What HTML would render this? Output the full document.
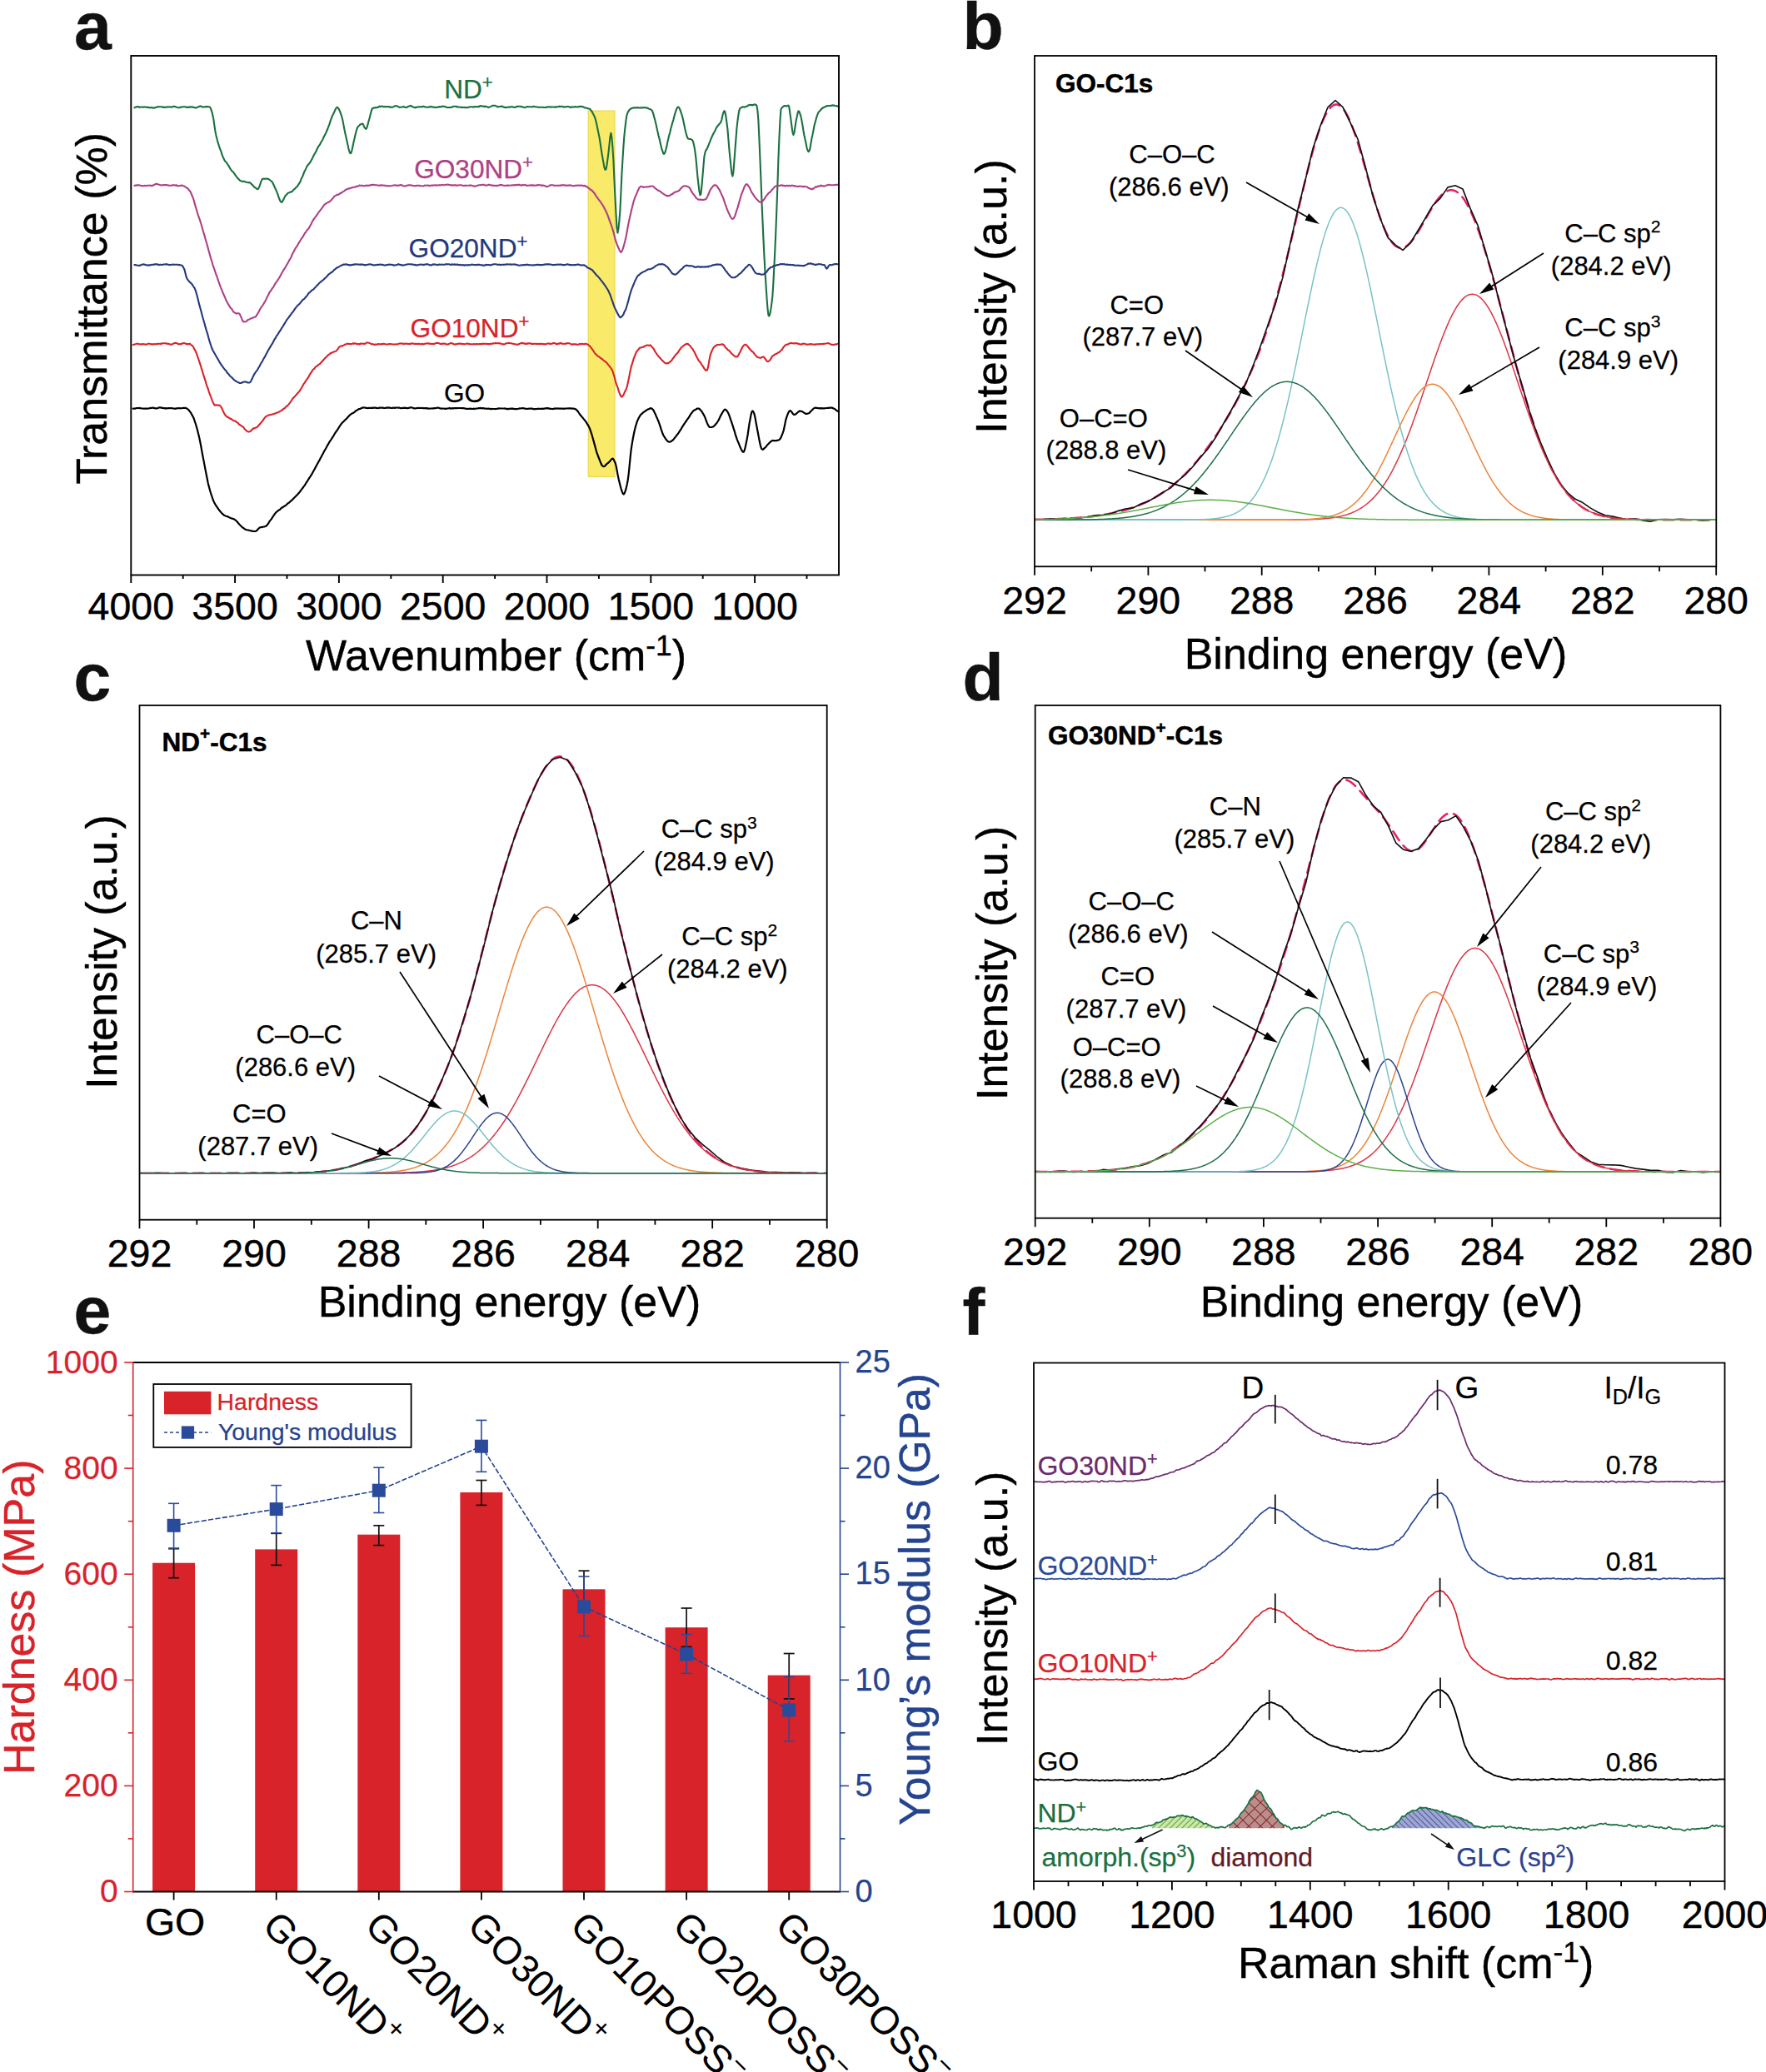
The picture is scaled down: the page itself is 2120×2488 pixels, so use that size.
<!DOCTYPE html>
<html lang="en"><head><meta charset="utf-8"><title>Figure</title>
<style>html,body{margin:0;padding:0;background:#fff}svg{display:block}text{font-family:'Liberation Sans', sans-serif}</style></head>
<body>
<svg width="2120" height="2488" viewBox="0 0 2120 2488">
<rect width="2120" height="2488" fill="#fff"/>
<g id="panel-a">
<rect x="706.3" y="133.2" width="31.6" height="439.1" fill="#f9ea6a" stroke="#f0dc58" stroke-width="1.5" />
<path d="M161.4,129.3 L162.4,128.7 L163.4,128.6 L164.4,128.1 L165.4,128 L166.4,128.2 L167.4,128.9 L168.4,128.7 L169.4,128.5 L170.4,128.5 L171.4,128.6 L172.4,128.6 L173.4,128.5 L174.4,128.4 L175.4,128.7 L176.4,128.9 L177.4,128.8 L178.4,128.9 L179.4,129.4 L180.4,129.2 L181.4,128.9 L182.4,129.3 L183.4,129.6 L184.4,129.4 L185.4,129.6 L186.4,129.3 L187.4,128.8 L188.4,128.5 L189.4,128.4 L190.4,128.1 L191.4,128.2 L192.4,128.2 L193.4,128.3 L194.4,128.4 L195.4,128.6 L196.4,128.9 L197.4,128.6 L198.4,128.9 L199.4,128.9 L200.4,128.5 L201.4,128.1 L202.4,128.5 L203.4,128.4 L204.4,128.2 L205.4,128.6 L206.4,128.6 L207.4,128.2 L208.4,127.6 L209.4,128 L210.4,128.1 L211.4,128.4 L212.4,128.9 L213.4,129.3 L214.4,129.2 L215.4,129.3 L216.4,128.8 L217.4,128.6 L218.4,128.6 L219.4,128.2 L220.4,128.2 L221.4,128.3 L222.4,128.3 L223.4,128.7 L224.4,128.9 L225.4,128.4 L226.4,129 L227.4,128.8 L228.4,128.1 L229.4,128.4 L230.4,128.7 L231.4,128.4 L232.4,128.8 L233.4,129.2 L234.4,129.4 L235.4,129.4 L236.4,129.1 L237.4,128.8 L238.4,128 L239.4,127.9 L240.4,127.3 L241.4,127.7 L242.4,128.3 L243.4,128.6 L244.4,128.2 L245.4,128.5 L246.4,128.5 L247.4,127.9 L248.4,128.1 L249.4,128.1 L250.4,128.2 L251.4,128.3 L252.4,129.1 L253.4,131.4 L254.4,134.6 L255.4,138.5 L256.4,143.6 L257.4,150.9 L258.4,157.4 L259.4,162.4 L260.4,166.6 L261.4,170.4 L262.4,173.6 L263.4,176.8 L264.4,179.3 L265.4,181.9 L266.4,185.1 L267.4,188.1 L268.4,190 L269.4,192.4 L270.4,193.8 L271.4,194.6 L272.4,196 L273.4,197.6 L274.4,198.7 L275.4,200.8 L276.4,202.6 L277.4,203.9 L278.4,205.3 L279.4,206 L280.4,207.2 L281.4,208.6 L282.4,210.2 L283.4,211.3 L284.4,213 L285.4,214.1 L286.4,215.1 L287.4,215.9 L288.4,216.9 L289.4,217.2 L290.4,217.7 L291.4,218.1 L292.4,217.7 L293.4,217.7 L294.4,218.4 L295.4,218.7 L296.4,218.7 L297.4,219.1 L298.4,219.4 L299.4,219 L300.4,219.6 L301.4,220.5 L302.4,221.6 L303.4,222.4 L304.4,223.7 L305.4,224.6 L306.4,225.4 L307.4,226 L308.4,226.9 L309.4,227.3 L310.4,226.1 L311.4,223.9 L312.4,221.2 L313.4,218.1 L314.4,215.8 L315.4,214.7 L316.4,214.6 L317.4,214.6 L318.4,214.7 L319.4,214.6 L320.4,214.5 L321.4,214.7 L322.4,215 L323.4,215.7 L324.4,216.5 L325.4,217.3 L326.4,218.1 L327.4,219.5 L328.4,221.7 L329.4,223.8 L330.4,226.3 L331.4,228.2 L332.4,230.6 L333.4,233.1 L334.4,236.4 L335.4,239 L336.4,241.3 L337.4,242.5 L338.4,242.9 L339.4,241.2 L340.4,239.6 L341.4,237.2 L342.4,235.5 L343.4,234.2 L344.4,233.4 L345.4,232 L346.4,231.5 L347.4,231.3 L348.4,230.6 L349.4,230.4 L350.4,230.2 L351.4,229.2 L352.4,227.8 L353.4,227.2 L354.4,226.3 L355.4,224.9 L356.4,224.3 L357.4,223 L358.4,221.4 L359.4,219.8 L360.4,218.3 L361.4,215.5 L362.4,213.3 L363.4,211.4 L364.4,208.6 L365.4,206 L366.4,204.2 L367.4,202.1 L368.4,199.8 L369.4,198.4 L370.4,197.3 L371.4,196.2 L372.4,194.9 L373.4,193 L374.4,191.2 L375.4,189.1 L376.4,187 L377.4,185.2 L378.4,183.5 L379.4,181.8 L380.4,179.5 L381.4,177.4 L382.4,175.7 L383.4,174.3 L384.4,172.8 L385.4,170.8 L386.4,169.2 L387.4,167.4 L388.4,165.2 L389.4,163 L390.4,161.2 L391.4,159.2 L392.4,157 L393.4,154.5 L394.4,151.8 L395.4,149.4 L396.4,146.1 L397.4,143.1 L398.4,140.5 L399.4,138.2 L400.4,136.3 L401.4,134.3 L402.4,131.9 L403.4,130 L404.4,128.9 L405.4,129 L406.4,130.4 L407.4,132.1 L408.4,134.6 L409.4,137.3 L410.4,140.4 L411.4,144.5 L412.4,149.9 L413.4,155.3 L414.4,160 L415.4,164.4 L416.4,169 L417.4,173.6 L418.4,178.2 L419.4,182 L420.4,184.1 L421.4,183.9 L422.4,180.8 L423.4,176 L424.4,171.1 L425.4,167 L426.4,162.6 L427.4,158.5 L428.4,155 L429.4,152.7 L430.4,151.5 L431.4,150.7 L432.4,149.5 L433.4,149.1 L434.4,148.8 L435.4,148.6 L436.4,150.3 L437.4,152.8 L438.4,154.1 L439.4,154.8 L440.4,153.3 L441.4,149.9 L442.4,146.1 L443.4,142.6 L444.4,138.7 L445.4,134.7 L446.4,131.4 L447.4,129.9 L448.4,129.9 L449.4,129.4 L450.4,129.4 L451.4,129 L452.4,129.2 L453.4,128.8 L454.4,128.6 L455.4,127.6 L456.4,128.2 L457.4,127.7 L458.4,127.5 L459.4,127.7 L460.4,128.3 L461.4,128 L462.4,128.2 L463.4,128.1 L464.4,128.3 L465.4,128.1 L466.4,128 L467.4,128.2 L468.4,128.9 L469.4,128.6 L470.4,128.8 L471.4,128.7 L472.4,128.1 L473.4,127.6 L474.4,127.4 L475.4,127.2 L476.4,127.3 L477.4,127.7 L478.4,128.3 L479.4,128.9 L480.4,128.7 L481.4,128.7 L482.4,128.5 L483.4,128.2 L484.4,127.9 L485.4,128.6 L486.4,128.7 L487.4,129.1 L488.4,128.9 L489.4,128.2 L490.4,127.7 L491.4,127.4 L492.4,127.1 L493.4,126.9 L494.4,128 L495.4,128.2 L496.4,128.7 L497.4,128.8 L498.4,129.4 L499.4,128.7 L500.4,128.9 L501.4,128.3 L502.4,128.5 L503.4,128.4 L504.4,128.3 L505.4,128 L506.4,128.4 L507.4,128.2 L508.4,127.5 L509.4,128.2 L510.4,128.4 L511.4,128.7 L512.4,128.8 L513.4,128.8 L514.4,128.4 L515.4,128.8 L516.4,128.1 L517.4,127.9 L518.4,128.3 L519.4,128.7 L520.4,128.6 L521.4,128.5 L522.4,129.2 L523.4,129 L524.4,128.7 L525.4,128.5 L526.4,128.8 L527.4,128.1 L528.4,128.1 L529.4,128.4 L530.4,128 L531.4,127.5 L532.4,127.9 L533.4,128 L534.4,127.9 L535.4,128.6 L536.4,129.1 L537.4,129 L538.4,129 L539.4,129.1 L540.4,129 L541.4,128.9 L542.4,128.6 L543.4,128.4 L544.4,127.7 L545.4,127.7 L546.4,127.8 L547.4,128.1 L548.4,127.9 L549.4,128.7 L550.4,128.5 L551.4,128.5 L552.4,128.7 L553.4,128.9 L554.4,128.7 L555.4,128.9 L556.4,129 L557.4,128.9 L558.4,129.1 L559.4,129.2 L560.4,129 L561.4,129.1 L562.4,128.8 L563.4,128.8 L564.4,128.2 L565.4,128.3 L566.4,128.3 L567.4,128.6 L568.4,128.4 L569.4,128.4 L570.4,128 L571.4,128.3 L572.4,128.1 L573.4,128.2 L574.4,127.9 L575.4,128.1 L576.4,127 L577.4,127.4 L578.4,127.4 L579.4,127.8 L580.4,127.5 L581.4,128.1 L582.4,127.9 L583.4,127.9 L584.4,128 L585.4,128.7 L586.4,129.1 L587.4,128.5 L588.4,128.3 L589.4,127.9 L590.4,127.4 L591.4,126.7 L592.4,126.7 L593.4,126.7 L594.4,126.9 L595.4,127.2 L596.4,127.6 L597.4,128.5 L598.4,128.2 L599.4,128 L600.4,128 L601.4,128 L602.4,127.4 L603.4,128 L604.4,128.6 L605.4,128.9 L606.4,128.9 L607.4,129.1 L608.4,129 L609.4,128.7 L610.4,128.6 L611.4,128.6 L612.4,128.7 L613.4,128.1 L614.4,128.3 L615.4,128.4 L616.4,128.6 L617.4,128.7 L618.4,128.9 L619.4,128.6 L620.4,127.8 L621.4,127.9 L622.4,127.8 L623.4,127.8 L624.4,127.7 L625.4,127.9 L626.4,128.5 L627.4,128.3 L628.4,128.7 L629.4,129 L630.4,129.2 L631.4,128.5 L632.4,128.2 L633.4,128 L634.4,128.3 L635.4,128.3 L636.4,128.3 L637.4,128.3 L638.4,128.5 L639.4,128.1 L640.4,127.8 L641.4,128.1 L642.4,128.3 L643.4,128.3 L644.4,128.5 L645.4,128.7 L646.4,128.8 L647.4,128.9 L648.4,128.8 L649.4,128.7 L650.4,128.7 L651.4,128.7 L652.4,128.9 L653.4,129 L654.4,129 L655.4,129.1 L656.4,128.5 L657.4,128.4 L658.4,128.3 L659.4,128.5 L660.4,128.2 L661.4,128.7 L662.4,128.5 L663.4,128.5 L664.4,128.5 L665.4,128.6 L666.4,128.6 L667.4,128.4 L668.4,128.4 L669.4,128.2 L670.4,128.2 L671.4,127.6 L672.4,128.2 L673.4,127.7 L674.4,127.8 L675.4,128 L676.4,128.6 L677.4,128.3 L678.4,128.6 L679.4,128.3 L680.4,128.1 L681.4,128 L682.4,128 L683.4,128.4 L684.4,128.6 L685.4,129.1 L686.4,128.4 L687.4,128.4 L688.4,128.5 L689.4,128.5 L690.4,128 L691.4,128.5 L692.4,128.5 L693.4,128.4 L694.4,128.1 L695.4,128.1 L696.4,127.9 L697.4,127.8 L698.4,128.1 L699.4,128 L700.4,128.4 L701.4,129.2 L702.4,129.3 L703.4,129.6 L704.4,129.8 L705.4,130.3 L706.4,130.4 L707.4,130.7 L708.4,131 L709.4,132.6 L710.4,133.5 L711.4,135.4 L712.4,137.4 L713.4,139.4 L714.4,141.8 L715.4,145.4 L716.4,149.6 L717.4,154.8 L718.4,159.6 L719.4,164.3 L720.4,170.4 L721.4,177.5 L722.4,183.7 L723.4,189.7 L724.4,195.1 L725.4,200.8 L726.4,203.6 L727.4,203.6 L728.4,198.9 L729.4,191.4 L730.4,183.8 L731.4,174.5 L732.4,164.5 L733.4,159.8 L734.4,165.3 L735.4,176.9 L736.4,192.3 L737.4,214.4 L738.4,235.3 L739.4,254.6 L740.4,273.1 L741.4,279.7 L742.4,274.6 L743.4,265.1 L744.4,252.7 L745.4,231.7 L746.4,209.4 L747.4,192.4 L748.4,176.5 L749.4,163.2 L750.4,153.5 L751.4,144.9 L752.4,138.7 L753.4,135.4 L754.4,133.6 L755.4,132.1 L756.4,131.2 L757.4,130.3 L758.4,130.2 L759.4,129.6 L760.4,129.6 L761.4,129.3 L762.4,129.4 L763.4,129.4 L764.4,129.4 L765.4,129.1 L766.4,129.4 L767.4,129.5 L768.4,129.4 L769.4,129.4 L770.4,129.4 L771.4,129.4 L772.4,129.3 L773.4,129 L774.4,129.1 L775.4,129.5 L776.4,129.6 L777.4,129.6 L778.4,130.4 L779.4,130.8 L780.4,131.1 L781.4,131.7 L782.4,132.3 L783.4,134.2 L784.4,137.2 L785.4,140.9 L786.4,144.4 L787.4,148.7 L788.4,153.3 L789.4,157.9 L790.4,162.5 L791.4,166.1 L792.4,170.4 L793.4,174.8 L794.4,178.8 L795.4,181.6 L796.4,184.6 L797.4,184.6 L798.4,182.9 L799.4,179.5 L800.4,175.6 L801.4,170.3 L802.4,166.3 L803.4,162.1 L804.4,158.5 L805.4,154 L806.4,150.5 L807.4,146.8 L808.4,143.8 L809.4,139.6 L810.4,136.1 L811.4,133.1 L812.4,130.4 L813.4,128.7 L814.4,128.5 L815.4,129.7 L816.4,131.7 L817.4,134.6 L818.4,137.5 L819.4,141.1 L820.4,145.4 L821.4,150.2 L822.4,155 L823.4,159.3 L824.4,162.9 L825.4,165.7 L826.4,166.7 L827.4,166.8 L828.4,167 L829.4,167.1 L830.4,167.7 L831.4,168.6 L832.4,171.2 L833.4,175.9 L834.4,181.8 L835.4,189.8 L836.4,200.6 L837.4,212.1 L838.4,220.7 L839.4,229.1 L840.4,234.3 L841.4,232.9 L842.4,223.4 L843.4,212 L844.4,200 L845.4,188.3 L846.4,183.4 L847.4,180.5 L848.4,179.2 L849.4,177 L850.4,174.8 L851.4,172 L852.4,169.9 L853.4,166.9 L854.4,164.8 L855.4,162.5 L856.4,160.6 L857.4,158.8 L858.4,156.9 L859.4,154.6 L860.4,152.8 L861.4,151.3 L862.4,150.4 L863.4,149 L864.4,148 L865.4,146.6 L866.4,143.5 L867.4,138.5 L868.4,135.3 L869.4,133.1 L870.4,134.2 L871.4,139.8 L872.4,147 L873.4,154.9 L874.4,167 L875.4,179.3 L876.4,189.4 L877.4,199 L878.4,208 L879.4,211.6 L880.4,206.7 L881.4,193.8 L882.4,180.6 L883.4,167.3 L884.4,154.5 L885.4,145.3 L886.4,138 L887.4,132.5 L888.4,129.9 L889.4,129.4 L890.4,129.1 L891.4,128.4 L892.4,128.4 L893.4,128.8 L894.4,128.3 L895.4,128 L896.4,127.7 L897.4,127.2 L898.4,126.2 L899.4,126.2 L900.4,125.8 L901.4,126.3 L902.4,126 L903.4,126.5 L904.4,125.8 L905.4,125.6 L906.4,125.4 L907.4,125.7 L908.4,126.9 L909.4,132.9 L910.4,144.5 L911.4,166.3 L912.4,189.8 L913.4,214.6 L914.4,240.4 L915.4,263.5 L916.4,286.1 L917.4,306.7 L918.4,325.1 L919.4,340.6 L920.4,356.5 L921.4,369.6 L922.4,378.3 L923.4,379.5 L924.4,376.7 L925.4,370.9 L926.4,363.9 L927.4,355.1 L928.4,339.1 L929.4,319.5 L930.4,299.1 L931.4,276 L932.4,250.2 L933.4,222.3 L934.4,191.2 L935.4,166.6 L936.4,145.8 L937.4,131.6 L938.4,129.6 L939.4,128.8 L940.4,127.8 L941.4,127.1 L942.4,127.1 L943.4,127.4 L944.4,127.4 L945.4,127.1 L946.4,126.5 L947.4,128.7 L948.4,136.3 L949.4,143.4 L950.4,151.3 L951.4,158.5 L952.4,162 L953.4,159.7 L954.4,153.3 L955.4,146.3 L956.4,141.4 L957.4,136.7 L958.4,133.3 L959.4,133.9 L960.4,136.6 L961.4,139.9 L962.4,144.6 L963.4,150.3 L964.4,156.6 L965.4,162.3 L966.4,167 L967.4,171.2 L968.4,176.7 L969.4,180.3 L970.4,182.1 L971.4,181.5 L972.4,178.4 L973.4,172.3 L974.4,166.3 L975.4,161.9 L976.4,156.9 L977.4,151.5 L978.4,147.6 L979.4,144 L980.4,140.3 L981.4,137.5 L982.4,135.2 L983.4,133.9 L984.4,132.9 L985.4,131.8 L986.4,130.5 L987.4,130 L988.4,129.1 L989.4,128.9 L990.4,128.3 L991.4,127.8 L992.4,127.3 L993.4,127.1 L994.4,127.3 L995.4,126.9 L996.4,127 L997.4,126.9 L998.4,126.7 L999.4,126.3 L1000.4,126.7 L1001.4,126.5 L1002.4,126.9 L1003.4,127.2 L1004.4,127.1 L1005.4,127.5 L1006.4,128" fill="none" stroke="#1b7040" stroke-width="2.1" stroke-linejoin="round" stroke-linecap="round" />
<path d="M161.4,222.9 L162.4,222.5 L163.4,222.7 L164.4,222.2 L165.4,222.4 L166.4,222.3 L167.4,222.4 L168.4,222.8 L169.4,223 L170.4,223.1 L171.4,223.3 L172.4,223.2 L173.4,222.9 L174.4,223 L175.4,223.1 L176.4,222.7 L177.4,222.7 L178.4,222.7 L179.4,222.8 L180.4,222.6 L181.4,222.9 L182.4,223.2 L183.4,222.7 L184.4,222.2 L185.4,221.8 L186.4,221.3 L187.4,220.8 L188.4,220.9 L189.4,221.2 L190.4,221.5 L191.4,221.9 L192.4,222.3 L193.4,222.4 L194.4,222.5 L195.4,222.3 L196.4,222.1 L197.4,222.2 L198.4,222.1 L199.4,222 L200.4,222.1 L201.4,222.5 L202.4,222.6 L203.4,222.7 L204.4,222.7 L205.4,222.7 L206.4,222.8 L207.4,222.1 L208.4,222.3 L209.4,222.5 L210.4,222.7 L211.4,222 L212.4,223.1 L213.4,223.2 L214.4,223.1 L215.4,223 L216.4,223 L217.4,222.6 L218.4,222.5 L219.4,222.9 L220.4,223.2 L221.4,223.7 L222.4,224.3 L223.4,225.1 L224.4,225.8 L225.4,226.3 L226.4,227.7 L227.4,228.7 L228.4,230.1 L229.4,232 L230.4,234.5 L231.4,236.9 L232.4,239.5 L233.4,243.1 L234.4,246.9 L235.4,250.2 L236.4,253.4 L237.4,257.1 L238.4,260 L239.4,262.6 L240.4,265.6 L241.4,268.8 L242.4,272.2 L243.4,275.9 L244.4,279.3 L245.4,282.6 L246.4,286.2 L247.4,289.7 L248.4,293 L249.4,296.8 L250.4,300.6 L251.4,304 L252.4,307.7 L253.4,311.1 L254.4,314.2 L255.4,317.8 L256.4,320.7 L257.4,323.5 L258.4,326.6 L259.4,329.5 L260.4,332 L261.4,335.2 L262.4,338.1 L263.4,340.8 L264.4,343.6 L265.4,346.1 L266.4,348.3 L267.4,351.2 L268.4,353.3 L269.4,355.8 L270.4,357.9 L271.4,360.5 L272.4,362.1 L273.4,364.4 L274.4,365.9 L275.4,367.5 L276.4,369.2 L277.4,370.2 L278.4,371.3 L279.4,373 L280.4,374.6 L281.4,375.2 L282.4,375.9 L283.4,376.4 L284.4,376.4 L285.4,376.2 L286.4,376.3 L287.4,376.7 L288.4,378.6 L289.4,380.7 L290.4,383.2 L291.4,385.5 L292.4,386.5 L293.4,386.3 L294.4,386.2 L295.4,386.2 L296.4,385.3 L297.4,384.2 L298.4,383.7 L299.4,383.5 L300.4,382.8 L301.4,382.2 L302.4,382.1 L303.4,381.7 L304.4,381.1 L305.4,380.7 L306.4,380.8 L307.4,379.7 L308.4,378.2 L309.4,376.4 L310.4,374.8 L311.4,372.7 L312.4,370.9 L313.4,369.2 L314.4,368 L315.4,366.5 L316.4,365 L317.4,363.1 L318.4,361.6 L319.4,359.7 L320.4,357.2 L321.4,355.4 L322.4,353.5 L323.4,351.3 L324.4,349.8 L325.4,348.8 L326.4,346.9 L327.4,345.6 L328.4,344.3 L329.4,342.2 L330.4,340.6 L331.4,339.1 L332.4,337.9 L333.4,336.2 L334.4,334.8 L335.4,333.2 L336.4,331.6 L337.4,329.5 L338.4,327.7 L339.4,326 L340.4,324.3 L341.4,322.8 L342.4,321.3 L343.4,319.5 L344.4,317.8 L345.4,316.1 L346.4,314.3 L347.4,312.3 L348.4,310.7 L349.4,308.9 L350.4,306.5 L351.4,304.2 L352.4,302.4 L353.4,300.5 L354.4,298.7 L355.4,297.2 L356.4,295.8 L357.4,294.1 L358.4,292.2 L359.4,290.7 L360.4,289 L361.4,287.4 L362.4,285.8 L363.4,284.7 L364.4,282.8 L365.4,281 L366.4,279.4 L367.4,278.4 L368.4,276.4 L369.4,275.4 L370.4,274.4 L371.4,272.9 L372.4,271 L373.4,269.2 L374.4,267.1 L375.4,265.1 L376.4,263.6 L377.4,262.1 L378.4,260.9 L379.4,259.7 L380.4,258.1 L381.4,256.6 L382.4,255 L383.4,253.9 L384.4,252.6 L385.4,251.4 L386.4,250 L387.4,248.6 L388.4,247.2 L389.4,245.9 L390.4,245 L391.4,244.4 L392.4,243.8 L393.4,243 L394.4,242.9 L395.4,242.2 L396.4,241.4 L397.4,240.5 L398.4,239.4 L399.4,238.2 L400.4,237.1 L401.4,235.6 L402.4,235.1 L403.4,234.7 L404.4,233.8 L405.4,233.7 L406.4,233.7 L407.4,232.9 L408.4,232.1 L409.4,232 L410.4,231.1 L411.4,230.4 L412.4,229.9 L413.4,229.4 L414.4,228.3 L415.4,227.7 L416.4,227.2 L417.4,227 L418.4,226.4 L419.4,226.4 L420.4,226.1 L421.4,225.7 L422.4,225.2 L423.4,225.1 L424.4,224.7 L425.4,224.7 L426.4,224.6 L427.4,224 L428.4,223.6 L429.4,223.7 L430.4,223.3 L431.4,222.5 L432.4,222.7 L433.4,223 L434.4,222.8 L435.4,222.7 L436.4,223.2 L437.4,223.3 L438.4,222.9 L439.4,222.6 L440.4,222.9 L441.4,222.8 L442.4,222.9 L443.4,222.6 L444.4,222.5 L445.4,222 L446.4,222.1 L447.4,221.8 L448.4,222 L449.4,221.9 L450.4,222.2 L451.4,222.3 L452.4,222.3 L453.4,222.6 L454.4,222.8 L455.4,222.6 L456.4,222.5 L457.4,222.9 L458.4,222.2 L459.4,222.4 L460.4,222.8 L461.4,222.7 L462.4,222.6 L463.4,223.3 L464.4,223.3 L465.4,223 L466.4,223.3 L467.4,223.4 L468.4,223.2 L469.4,223.2 L470.4,223 L471.4,222.7 L472.4,222.5 L473.4,222.5 L474.4,222.2 L475.4,222.6 L476.4,222.7 L477.4,222.9 L478.4,222.6 L479.4,222.6 L480.4,222.3 L481.4,222.1 L482.4,222.3 L483.4,223.1 L484.4,223.2 L485.4,223.5 L486.4,223.5 L487.4,223 L488.4,222.7 L489.4,222.6 L490.4,222.3 L491.4,222.4 L492.4,222.5 L493.4,222.4 L494.4,222.6 L495.4,223 L496.4,223 L497.4,223.2 L498.4,223.1 L499.4,223 L500.4,222.9 L501.4,222.8 L502.4,222.7 L503.4,222.8 L504.4,223.3 L505.4,223.2 L506.4,223.2 L507.4,223.2 L508.4,223.4 L509.4,222.8 L510.4,222.6 L511.4,222.7 L512.4,222.8 L513.4,222.6 L514.4,222.6 L515.4,223.1 L516.4,222.9 L517.4,222.7 L518.4,222.5 L519.4,222.6 L520.4,222.6 L521.4,222.5 L522.4,222.4 L523.4,222.3 L524.4,222.7 L525.4,222.5 L526.4,222.4 L527.4,222.4 L528.4,222.4 L529.4,222.2 L530.4,222 L531.4,222 L532.4,222.3 L533.4,222.3 L534.4,222 L535.4,221.8 L536.4,221.7 L537.4,221.6 L538.4,221.7 L539.4,222 L540.4,222.1 L541.4,222.5 L542.4,222.4 L543.4,222.6 L544.4,222.3 L545.4,222.4 L546.4,222.3 L547.4,222.8 L548.4,222.4 L549.4,222.7 L550.4,222.5 L551.4,222.3 L552.4,222.2 L553.4,222.3 L554.4,222.5 L555.4,222.9 L556.4,223 L557.4,222.8 L558.4,222.9 L559.4,222.7 L560.4,222.8 L561.4,222.8 L562.4,222.8 L563.4,222.7 L564.4,222.4 L565.4,222.6 L566.4,222.7 L567.4,223.1 L568.4,223.2 L569.4,223.9 L570.4,223.5 L571.4,223.4 L572.4,223 L573.4,222.7 L574.4,222.4 L575.4,222.3 L576.4,222.3 L577.4,222.1 L578.4,222 L579.4,221.7 L580.4,221.8 L581.4,222.2 L582.4,222.3 L583.4,222.7 L584.4,222.6 L585.4,222.2 L586.4,221.9 L587.4,221.9 L588.4,221.9 L589.4,222.5 L590.4,222.7 L591.4,222.4 L592.4,222.9 L593.4,223 L594.4,222.8 L595.4,222.9 L596.4,223.1 L597.4,222.9 L598.4,222.5 L599.4,222.4 L600.4,222.1 L601.4,222.1 L602.4,222.1 L603.4,222.4 L604.4,222.7 L605.4,223 L606.4,222.8 L607.4,222.8 L608.4,222.9 L609.4,222.6 L610.4,222.6 L611.4,222.7 L612.4,222.8 L613.4,222.5 L614.4,222.5 L615.4,222.4 L616.4,222.4 L617.4,222.1 L618.4,222.6 L619.4,222.1 L620.4,221.9 L621.4,221.9 L622.4,222.2 L623.4,221.7 L624.4,222.2 L625.4,222.6 L626.4,222.6 L627.4,221.9 L628.4,222.3 L629.4,222.2 L630.4,221.9 L631.4,222.3 L632.4,223 L633.4,222.7 L634.4,222.8 L635.4,222.6 L636.4,222.5 L637.4,222.4 L638.4,222.6 L639.4,222.4 L640.4,222.6 L641.4,222.6 L642.4,222.7 L643.4,222.6 L644.4,222.4 L645.4,222.4 L646.4,222.1 L647.4,222.2 L648.4,222.2 L649.4,222.6 L650.4,222.4 L651.4,223 L652.4,222.6 L653.4,222.9 L654.4,223.2 L655.4,224 L656.4,223.9 L657.4,224 L658.4,223.6 L659.4,223.1 L660.4,222.2 L661.4,222.2 L662.4,222.3 L663.4,222.2 L664.4,222.5 L665.4,222.9 L666.4,222.8 L667.4,222.8 L668.4,222.8 L669.4,222.7 L670.4,222.9 L671.4,222.7 L672.4,222.6 L673.4,222.6 L674.4,222.4 L675.4,222.3 L676.4,222.4 L677.4,222.3 L678.4,222.4 L679.4,223 L680.4,222.8 L681.4,222.6 L682.4,222.5 L683.4,222.6 L684.4,222.3 L685.4,222.7 L686.4,222.8 L687.4,223.2 L688.4,223.2 L689.4,223.2 L690.4,222.8 L691.4,223 L692.4,222.6 L693.4,222.8 L694.4,222.5 L695.4,222.8 L696.4,222.6 L697.4,222.8 L698.4,222.5 L699.4,223 L700.4,223.1 L701.4,222.9 L702.4,223.1 L703.4,223.9 L704.4,224 L705.4,224.9 L706.4,225.8 L707.4,226.4 L708.4,227.2 L709.4,228.3 L710.4,228.3 L711.4,229.5 L712.4,230.8 L713.4,231.8 L714.4,233.3 L715.4,235.4 L716.4,236.5 L717.4,237.7 L718.4,239.3 L719.4,240.5 L720.4,241.8 L721.4,243 L722.4,244.8 L723.4,246.2 L724.4,247.8 L725.4,249.7 L726.4,251.7 L727.4,253.6 L728.4,255.8 L729.4,258.2 L730.4,260.8 L731.4,263.8 L732.4,266.7 L733.4,269.2 L734.4,272.3 L735.4,275.3 L736.4,278.4 L737.4,282.6 L738.4,286.6 L739.4,289.9 L740.4,292.6 L741.4,295.3 L742.4,297.5 L743.4,299.9 L744.4,301.9 L745.4,303 L746.4,301.9 L747.4,299.6 L748.4,296.6 L749.4,293 L750.4,289.3 L751.4,284.9 L752.4,279.7 L753.4,274.2 L754.4,268.9 L755.4,264 L756.4,259.4 L757.4,255.3 L758.4,250.7 L759.4,246.7 L760.4,242.8 L761.4,239.5 L762.4,236.6 L763.4,234.7 L764.4,232.3 L765.4,229.8 L766.4,227.6 L767.4,225.4 L768.4,224.4 L769.4,223.9 L770.4,224 L771.4,224.2 L772.4,224.9 L773.4,224.8 L774.4,224.5 L775.4,224.5 L776.4,224.6 L777.4,224.3 L778.4,224.3 L779.4,224.1 L780.4,223.9 L781.4,223.5 L782.4,223.5 L783.4,223.5 L784.4,223.9 L785.4,224.9 L786.4,226.1 L787.4,226.6 L788.4,227.5 L789.4,228.3 L790.4,228.7 L791.4,229.2 L792.4,229.7 L793.4,230.3 L794.4,231.5 L795.4,232.2 L796.4,232.6 L797.4,233.5 L798.4,234.3 L799.4,234.5 L800.4,235 L801.4,235.5 L802.4,235 L803.4,235.1 L804.4,234.5 L805.4,233.8 L806.4,233.1 L807.4,233.1 L808.4,231.8 L809.4,231.3 L810.4,230.6 L811.4,230.5 L812.4,230.1 L813.4,229.8 L814.4,229.3 L815.4,228.6 L816.4,227.5 L817.4,226.2 L818.4,225.4 L819.4,224.1 L820.4,223.7 L821.4,223.2 L822.4,223.2 L823.4,223.4 L824.4,223.7 L825.4,223.8 L826.4,224.5 L827.4,225.2 L828.4,226.5 L829.4,228.6 L830.4,230.4 L831.4,231.8 L832.4,233.1 L833.4,234.3 L834.4,235.7 L835.4,237.5 L836.4,238.3 L837.4,238.9 L838.4,239.7 L839.4,239.7 L840.4,239.4 L841.4,239.8 L842.4,240 L843.4,239.8 L844.4,240 L845.4,239.6 L846.4,239.5 L847.4,239.2 L848.4,237.8 L849.4,235.6 L850.4,233.5 L851.4,231 L852.4,228.6 L853.4,226.9 L854.4,225.5 L855.4,224.4 L856.4,223 L857.4,222.3 L858.4,222.4 L859.4,222.5 L860.4,223.1 L861.4,224.7 L862.4,226.2 L863.4,227.5 L864.4,229.5 L865.4,231.6 L866.4,233.9 L867.4,236 L868.4,238.4 L869.4,241.4 L870.4,244.8 L871.4,247.2 L872.4,250.1 L873.4,252.6 L874.4,255 L875.4,256.9 L876.4,259.4 L877.4,261 L878.4,262.5 L879.4,262.9 L880.4,262.5 L881.4,261.1 L882.4,258.9 L883.4,255.6 L884.4,252.5 L885.4,249.6 L886.4,246.1 L887.4,242.4 L888.4,239.1 L889.4,235.5 L890.4,232.2 L891.4,230.2 L892.4,227.6 L893.4,224.8 L894.4,222.9 L895.4,221.5 L896.4,221.1 L897.4,221.9 L898.4,223.3 L899.4,224.5 L900.4,226.5 L901.4,228.9 L902.4,231 L903.4,232.3 L904.4,233.9 L905.4,235.5 L906.4,236.8 L907.4,238 L908.4,239.4 L909.4,240.1 L910.4,241.2 L911.4,242.2 L912.4,242.7 L913.4,242.6 L914.4,242.3 L915.4,241.6 L916.4,240.2 L917.4,239.1 L918.4,237.7 L919.4,235.9 L920.4,234.6 L921.4,233.5 L922.4,232.2 L923.4,231.3 L924.4,230.8 L925.4,229.7 L926.4,228.3 L927.4,227.3 L928.4,226.1 L929.4,225 L930.4,223.9 L931.4,223.5 L932.4,222.9 L933.4,223.3 L934.4,222.9 L935.4,223 L936.4,222.7 L937.4,222.6 L938.4,222.2 L939.4,222.9 L940.4,222.9 L941.4,222.8 L942.4,223.4 L943.4,223.1 L944.4,222.9 L945.4,222.9 L946.4,223.2 L947.4,222.8 L948.4,223.2 L949.4,223.1 L950.4,222.6 L951.4,222.8 L952.4,223.1 L953.4,223 L954.4,223.2 L955.4,223.7 L956.4,223.8 L957.4,223.9 L958.4,224 L959.4,223.6 L960.4,223.6 L961.4,223.7 L962.4,223.7 L963.4,224.1 L964.4,224.3 L965.4,223.8 L966.4,224.1 L967.4,224.3 L968.4,224.3 L969.4,224.7 L970.4,225.9 L971.4,226 L972.4,226.5 L973.4,226.8 L974.4,227.4 L975.4,226.6 L976.4,226.7 L977.4,225.8 L978.4,225 L979.4,224.1 L980.4,224.7 L981.4,224 L982.4,223.4 L983.4,223.7 L984.4,223.4 L985.4,222.6 L986.4,222.9 L987.4,223.4 L988.4,223.2 L989.4,223.5 L990.4,223.5 L991.4,222.8 L992.4,222.5 L993.4,222.2 L994.4,221.9 L995.4,221.9 L996.4,222.2 L997.4,222.3 L998.4,222.3 L999.4,222.2 L1000.4,222.2 L1001.4,222.3 L1002.4,222 L1003.4,221.7 L1004.4,222 L1005.4,221.9 L1006.4,221.6" fill="none" stroke="#ae4084" stroke-width="2.1" stroke-linejoin="round" stroke-linecap="round" />
<path d="M161.4,318 L162.4,318.1 L163.4,318.3 L164.4,318.6 L165.4,318.7 L166.4,318.8 L167.4,319 L168.4,318.5 L169.4,318.3 L170.4,317.7 L171.4,317.6 L172.4,317.3 L173.4,317.7 L174.4,317.9 L175.4,318.1 L176.4,318.5 L177.4,318.6 L178.4,318.4 L179.4,318.2 L180.4,318.4 L181.4,318.1 L182.4,317.8 L183.4,317.7 L184.4,318 L185.4,317.4 L186.4,317.1 L187.4,317.6 L188.4,317.3 L189.4,317.4 L190.4,318.1 L191.4,318 L192.4,317.6 L193.4,318 L194.4,318 L195.4,317.7 L196.4,317.5 L197.4,317.5 L198.4,317.4 L199.4,317.3 L200.4,317.4 L201.4,317.6 L202.4,317.7 L203.4,318.1 L204.4,318.1 L205.4,317.7 L206.4,317.8 L207.4,317.8 L208.4,317.6 L209.4,317.7 L210.4,317.8 L211.4,317.7 L212.4,317.7 L213.4,317.8 L214.4,318.1 L215.4,318.1 L216.4,318.3 L217.4,318.5 L218.4,318.7 L219.4,319.7 L220.4,321.7 L221.4,323.6 L222.4,327.4 L223.4,331.7 L224.4,334.5 L225.4,335.9 L226.4,337.1 L227.4,338.2 L228.4,339.3 L229.4,340.1 L230.4,341.2 L231.4,342.7 L232.4,344.3 L233.4,345.5 L234.4,347.9 L235.4,350.7 L236.4,354.4 L237.4,358.2 L238.4,362.4 L239.4,366.4 L240.4,370 L241.4,373.5 L242.4,377.4 L243.4,381.3 L244.4,384.7 L245.4,388 L246.4,391.9 L247.4,395.4 L248.4,398.7 L249.4,401.7 L250.4,405.7 L251.4,409.2 L252.4,412.3 L253.4,415.5 L254.4,418.3 L255.4,420.5 L256.4,422.2 L257.4,424 L258.4,425.7 L259.4,427.5 L260.4,429.2 L261.4,430.9 L262.4,432.8 L263.4,434.4 L264.4,436.2 L265.4,437.6 L266.4,439.3 L267.4,440.4 L268.4,441.8 L269.4,443.1 L270.4,444.2 L271.4,445.3 L272.4,447 L273.4,448.3 L274.4,449.2 L275.4,450.6 L276.4,451.7 L277.4,452.5 L278.4,453.4 L279.4,454.4 L280.4,455.6 L281.4,456.5 L282.4,457.2 L283.4,457.7 L284.4,458.3 L285.4,458.9 L286.4,459.2 L287.4,459.9 L288.4,460 L289.4,460 L290.4,459.4 L291.4,459.2 L292.4,458.6 L293.4,458.5 L294.4,458.3 L295.4,458.7 L296.4,458.9 L297.4,459.5 L298.4,459.5 L299.4,459.5 L300.4,458.8 L301.4,457.4 L302.4,455.3 L303.4,453.1 L304.4,451 L305.4,449.1 L306.4,447.5 L307.4,446.1 L308.4,445 L309.4,443.5 L310.4,441.5 L311.4,440 L312.4,438.1 L313.4,436.1 L314.4,434.7 L315.4,432.9 L316.4,430.9 L317.4,429.2 L318.4,427.6 L319.4,425.5 L320.4,423.7 L321.4,421.8 L322.4,419.9 L323.4,418.3 L324.4,416.6 L325.4,414.9 L326.4,413.3 L327.4,411.8 L328.4,409.8 L329.4,407.7 L330.4,406.4 L331.4,404.5 L332.4,402.9 L333.4,401.7 L334.4,399.9 L335.4,398.3 L336.4,397 L337.4,395.2 L338.4,393.6 L339.4,392.3 L340.4,390.5 L341.4,388.8 L342.4,387.3 L343.4,385.5 L344.4,383.9 L345.4,382.7 L346.4,381.3 L347.4,380 L348.4,378.7 L349.4,377.4 L350.4,375.8 L351.4,374.8 L352.4,373.4 L353.4,371.9 L354.4,370.4 L355.4,369.1 L356.4,367.8 L357.4,366.6 L358.4,365.9 L359.4,365 L360.4,363.8 L361.4,362.5 L362.4,361.4 L363.4,360 L364.4,359.5 L365.4,358.7 L366.4,357.5 L367.4,356.2 L368.4,355.5 L369.4,353.7 L370.4,352.3 L371.4,351.3 L372.4,350.6 L373.4,349.5 L374.4,348.6 L375.4,347.9 L376.4,347.5 L377.4,346.1 L378.4,345.3 L379.4,344.1 L380.4,342.9 L381.4,341.9 L382.4,340.9 L383.4,339.8 L384.4,339 L385.4,338.4 L386.4,337 L387.4,336.6 L388.4,335.8 L389.4,334.9 L390.4,333.8 L391.4,333.2 L392.4,331.9 L393.4,330.8 L394.4,329.5 L395.4,328.8 L396.4,328.1 L397.4,327.2 L398.4,326.7 L399.4,326.2 L400.4,324.9 L401.4,323.7 L402.4,323.3 L403.4,322.3 L404.4,321.4 L405.4,321.2 L406.4,320.7 L407.4,320 L408.4,319.2 L409.4,319 L410.4,318.5 L411.4,317.9 L412.4,317.6 L413.4,317.6 L414.4,317.5 L415.4,317.1 L416.4,317.8 L417.4,317.9 L418.4,318.1 L419.4,318 L420.4,318.7 L421.4,318.3 L422.4,317.9 L423.4,317.9 L424.4,318 L425.4,317.4 L426.4,317.3 L427.4,317.5 L428.4,317.4 L429.4,317.5 L430.4,317.5 L431.4,317.6 L432.4,318 L433.4,317.4 L434.4,317.5 L435.4,317.9 L436.4,317.9 L437.4,318 L438.4,318.5 L439.4,318.1 L440.4,318 L441.4,317.8 L442.4,317.6 L443.4,317.2 L444.4,317.3 L445.4,317.7 L446.4,317.8 L447.4,317.9 L448.4,318.5 L449.4,318.5 L450.4,318.1 L451.4,318.2 L452.4,317.9 L453.4,317.8 L454.4,318 L455.4,317.7 L456.4,317.4 L457.4,317.7 L458.4,318 L459.4,317.8 L460.4,318.3 L461.4,318.6 L462.4,318.5 L463.4,318.1 L464.4,318.3 L465.4,317.9 L466.4,317.7 L467.4,317.5 L468.4,317.9 L469.4,317.7 L470.4,317.8 L471.4,318 L472.4,318.6 L473.4,318.6 L474.4,318.3 L475.4,318.3 L476.4,318.2 L477.4,317.5 L478.4,317.1 L479.4,317.8 L480.4,317.9 L481.4,318.1 L482.4,318.3 L483.4,318.7 L484.4,318.4 L485.4,318.3 L486.4,318.1 L487.4,317.8 L488.4,317.5 L489.4,317.4 L490.4,317.2 L491.4,317.3 L492.4,317.3 L493.4,317.6 L494.4,317.3 L495.4,317.6 L496.4,317.8 L497.4,318.1 L498.4,317.9 L499.4,318.4 L500.4,318.4 L501.4,318.2 L502.4,318 L503.4,317.8 L504.4,317.6 L505.4,317.7 L506.4,317.8 L507.4,317.6 L508.4,318.1 L509.4,317.9 L510.4,317.5 L511.4,317.2 L512.4,317.4 L513.4,317.2 L514.4,317.6 L515.4,318 L516.4,318.5 L517.4,318.4 L518.4,318.3 L519.4,317.6 L520.4,317.4 L521.4,317.4 L522.4,317.7 L523.4,317.6 L524.4,318 L525.4,318.2 L526.4,317.7 L527.4,317.5 L528.4,317.7 L529.4,317.7 L530.4,317.6 L531.4,317.7 L532.4,317.7 L533.4,317.7 L534.4,317.7 L535.4,317 L536.4,317.2 L537.4,317.4 L538.4,317.3 L539.4,317.2 L540.4,318 L541.4,317.7 L542.4,317.4 L543.4,317.6 L544.4,317.8 L545.4,317.4 L546.4,317.6 L547.4,317.9 L548.4,317.6 L549.4,317.5 L550.4,318.1 L551.4,318 L552.4,317.9 L553.4,318.5 L554.4,318.3 L555.4,318 L556.4,318.3 L557.4,318.7 L558.4,318.2 L559.4,318.2 L560.4,318.4 L561.4,318.4 L562.4,318.1 L563.4,318.2 L564.4,318.4 L565.4,317.9 L566.4,317.6 L567.4,317.7 L568.4,318 L569.4,318 L570.4,318.1 L571.4,318.3 L572.4,318 L573.4,317.7 L574.4,317.9 L575.4,317.8 L576.4,318 L577.4,318.3 L578.4,318.6 L579.4,318.3 L580.4,318.9 L581.4,318.6 L582.4,318.4 L583.4,317.9 L584.4,318.1 L585.4,318 L586.4,318 L587.4,318.1 L588.4,318.4 L589.4,318.4 L590.4,318 L591.4,317.5 L592.4,317.4 L593.4,317.2 L594.4,317.2 L595.4,317.3 L596.4,317.6 L597.4,317.7 L598.4,317.9 L599.4,317.6 L600.4,318 L601.4,318.1 L602.4,317.8 L603.4,317.7 L604.4,317.9 L605.4,317.7 L606.4,317.6 L607.4,317.7 L608.4,317.3 L609.4,317.4 L610.4,317.5 L611.4,317.5 L612.4,317.3 L613.4,317.7 L614.4,317.6 L615.4,317.5 L616.4,317.5 L617.4,317.4 L618.4,317.6 L619.4,317.7 L620.4,317.9 L621.4,318.2 L622.4,318.7 L623.4,318.8 L624.4,318.5 L625.4,318.5 L626.4,318.2 L627.4,318.4 L628.4,318 L629.4,318.2 L630.4,317.9 L631.4,318.1 L632.4,317.6 L633.4,317.9 L634.4,318.1 L635.4,318.3 L636.4,318.2 L637.4,318.2 L638.4,318.4 L639.4,318.5 L640.4,318.2 L641.4,318.4 L642.4,318.3 L643.4,318 L644.4,317.9 L645.4,318.1 L646.4,317.8 L647.4,318.1 L648.4,318.1 L649.4,318 L650.4,318.2 L651.4,318 L652.4,317.9 L653.4,317.6 L654.4,317.6 L655.4,317.3 L656.4,317.4 L657.4,317.3 L658.4,317.4 L659.4,317.3 L660.4,317.5 L661.4,317.7 L662.4,317.7 L663.4,318.1 L664.4,318.1 L665.4,318 L666.4,317.9 L667.4,318 L668.4,317.6 L669.4,317.7 L670.4,317.6 L671.4,317.8 L672.4,317.6 L673.4,317.5 L674.4,317.7 L675.4,318.2 L676.4,318.1 L677.4,318.1 L678.4,318.1 L679.4,317.8 L680.4,317.4 L681.4,317.3 L682.4,317.7 L683.4,317.9 L684.4,318.1 L685.4,318.1 L686.4,318.2 L687.4,318.1 L688.4,318.2 L689.4,318 L690.4,318.1 L691.4,318 L692.4,317.7 L693.4,317.6 L694.4,317.6 L695.4,317.9 L696.4,318.2 L697.4,318.5 L698.4,318.4 L699.4,318.5 L700.4,318.4 L701.4,318.4 L702.4,319.1 L703.4,319.5 L704.4,320.6 L705.4,321.3 L706.4,322 L707.4,322.2 L708.4,322.8 L709.4,323.3 L710.4,324 L711.4,324.5 L712.4,326 L713.4,327.2 L714.4,328.3 L715.4,329.5 L716.4,330.8 L717.4,331.4 L718.4,332.6 L719.4,333.8 L720.4,335 L721.4,336.4 L722.4,337.7 L723.4,338.8 L724.4,340.2 L725.4,341.7 L726.4,342.9 L727.4,344.5 L728.4,346.1 L729.4,347.5 L730.4,349.4 L731.4,351.6 L732.4,353.8 L733.4,356.5 L734.4,359.7 L735.4,362.4 L736.4,365.3 L737.4,368.2 L738.4,370.4 L739.4,372.4 L740.4,374.5 L741.4,376.5 L742.4,378.4 L743.4,379.8 L744.4,381.2 L745.4,380.9 L746.4,380.2 L747.4,378.9 L748.4,377.6 L749.4,374.9 L750.4,373.1 L751.4,371 L752.4,367.8 L753.4,364.3 L754.4,360.8 L755.4,356.7 L756.4,353 L757.4,349.9 L758.4,346.8 L759.4,344.5 L760.4,342 L761.4,339.7 L762.4,337 L763.4,335.2 L764.4,333.1 L765.4,331.7 L766.4,330.3 L767.4,330.1 L768.4,328.9 L769.4,328.2 L770.4,327.5 L771.4,327 L772.4,326.2 L773.4,326 L774.4,325.6 L775.4,324.9 L776.4,324.3 L777.4,323.8 L778.4,323.3 L779.4,323.2 L780.4,323.2 L781.4,323 L782.4,322.4 L783.4,322 L784.4,321.4 L785.4,320.7 L786.4,319.9 L787.4,319.2 L788.4,318.5 L789.4,318.1 L790.4,317.6 L791.4,317.3 L792.4,317.5 L793.4,317.5 L794.4,317 L795.4,317.2 L796.4,317.6 L797.4,317.7 L798.4,318.5 L799.4,319.4 L800.4,320.2 L801.4,320.9 L802.4,322.2 L803.4,323.5 L804.4,324.6 L805.4,326.4 L806.4,327.5 L807.4,328.8 L808.4,329 L809.4,329.5 L810.4,329.6 L811.4,329.5 L812.4,328.8 L813.4,327.9 L814.4,327 L815.4,325.7 L816.4,324.7 L817.4,323.7 L818.4,323.1 L819.4,322.2 L820.4,321 L821.4,320 L822.4,319.4 L823.4,318.9 L824.4,318.6 L825.4,318.9 L826.4,319.3 L827.4,319.1 L828.4,319.4 L829.4,319.3 L830.4,319.2 L831.4,319.5 L832.4,320.2 L833.4,320.4 L834.4,320.6 L835.4,321 L836.4,320.4 L837.4,320.4 L838.4,320.1 L839.4,320.6 L840.4,320.4 L841.4,320.7 L842.4,320.2 L843.4,320.7 L844.4,320.5 L845.4,320.3 L846.4,320.6 L847.4,320.6 L848.4,320.1 L849.4,320.1 L850.4,320.4 L851.4,319.6 L852.4,319.5 L853.4,319.4 L854.4,319 L855.4,318.4 L856.4,318.3 L857.4,318.1 L858.4,317.9 L859.4,317.8 L860.4,317.4 L861.4,317.6 L862.4,317.5 L863.4,317.7 L864.4,317.5 L865.4,318 L866.4,318.7 L867.4,319.9 L868.4,320.9 L869.4,322.5 L870.4,324.1 L871.4,325.5 L872.4,326.4 L873.4,327.8 L874.4,329.1 L875.4,330.3 L876.4,331.4 L877.4,332.3 L878.4,333.1 L879.4,333.2 L880.4,333.2 L881.4,333.2 L882.4,333.1 L883.4,332.2 L884.4,331.8 L885.4,331.1 L886.4,330.1 L887.4,329.1 L888.4,328.5 L889.4,327.8 L890.4,326.7 L891.4,325.5 L892.4,324.4 L893.4,323.5 L894.4,322.1 L895.4,321 L896.4,320.6 L897.4,319.4 L898.4,318.2 L899.4,317.8 L900.4,318.2 L901.4,319 L902.4,320.5 L903.4,321.8 L904.4,323.7 L905.4,325.5 L906.4,327 L907.4,328.1 L908.4,328.5 L909.4,328.7 L910.4,328.9 L911.4,328.8 L912.4,329 L913.4,329.7 L914.4,329.7 L915.4,329.5 L916.4,329.4 L917.4,329.2 L918.4,327.9 L919.4,327.3 L920.4,326.5 L921.4,324.8 L922.4,323.3 L923.4,322.7 L924.4,321.6 L925.4,320.7 L926.4,320.8 L927.4,320.6 L928.4,319.4 L929.4,319 L930.4,319 L931.4,318.8 L932.4,318.2 L933.4,318.1 L934.4,318 L935.4,317.8 L936.4,317.3 L937.4,317.1 L938.4,317.3 L939.4,316.9 L940.4,317.2 L941.4,317.1 L942.4,317.5 L943.4,317.6 L944.4,317.9 L945.4,317.5 L946.4,318 L947.4,318 L948.4,317.8 L949.4,318 L950.4,318.3 L951.4,318 L952.4,318.4 L953.4,318.4 L954.4,318.6 L955.4,318.7 L956.4,318.8 L957.4,318.6 L958.4,318.8 L959.4,318.9 L960.4,318.7 L961.4,319 L962.4,319 L963.4,319.3 L964.4,318.9 L965.4,319.2 L966.4,318.6 L967.4,318.1 L968.4,317.6 L969.4,317.2 L970.4,316.4 L971.4,316.7 L972.4,316.4 L973.4,316.3 L974.4,316.7 L975.4,317.3 L976.4,317.1 L977.4,317.6 L978.4,317.9 L979.4,317.9 L980.4,317.6 L981.4,317.5 L982.4,317.1 L983.4,317.3 L984.4,317.3 L985.4,317.3 L986.4,317.6 L987.4,318.1 L988.4,318 L989.4,318 L990.4,319.1 L991.4,321.5 L992.4,322.7 L993.4,321.7 L994.4,319.9 L995.4,318.6 L996.4,318 L997.4,318.1 L998.4,318.3 L999.4,318 L1000.4,317.5 L1001.4,317.3 L1002.4,317.1 L1003.4,317 L1004.4,317.1 L1005.4,317.2 L1006.4,317.3" fill="none" stroke="#25387c" stroke-width="2.1" stroke-linejoin="round" stroke-linecap="round" />
<path d="M159.7,414 L160.7,413.9 L161.7,413.5 L162.7,413.2 L163.7,412.8 L164.7,412.8 L165.7,412.7 L166.7,413.3 L167.7,413.2 L168.7,413.5 L169.7,413.2 L170.7,413.4 L171.7,413.1 L172.7,413.3 L173.7,413.4 L174.7,413.8 L175.7,413.6 L176.7,413.2 L177.7,412.8 L178.7,412.8 L179.7,412.8 L180.7,413.1 L181.7,413.4 L182.7,413.4 L183.7,413.4 L184.7,413.4 L185.7,413.1 L186.7,413.2 L187.7,413.1 L188.7,412.9 L189.7,413 L190.7,412.8 L191.7,412.7 L192.7,412.9 L193.7,412.9 L194.7,412.2 L195.7,412.3 L196.7,412.3 L197.7,412.3 L198.7,412.2 L199.7,412.6 L200.7,412.5 L201.7,412.9 L202.7,412.9 L203.7,413.3 L204.7,413.6 L205.7,413.8 L206.7,413.2 L207.7,412.9 L208.7,412.3 L209.7,411.9 L210.7,411.9 L211.7,412 L212.7,412.3 L213.7,413.2 L214.7,413.3 L215.7,413 L216.7,413.3 L217.7,413.2 L218.7,412.2 L219.7,412.1 L220.7,412.2 L221.7,412.1 L222.7,412.6 L223.7,413.1 L224.7,412.9 L225.7,413.4 L226.7,413 L227.7,412.7 L228.7,413.4 L229.7,414.5 L230.7,414.8 L231.7,416.1 L232.7,417.9 L233.7,419.7 L234.7,421.5 L235.7,423.9 L236.7,426.6 L237.7,429.5 L238.7,432.5 L239.7,435.4 L240.7,438.4 L241.7,441.8 L242.7,444.8 L243.7,448.2 L244.7,451.7 L245.7,454.7 L246.7,457.6 L247.7,461.1 L248.7,464.1 L249.7,466.8 L250.7,470 L251.7,472.9 L252.7,475.3 L253.7,478 L254.7,480.8 L255.7,483.2 L256.7,485.2 L257.7,486.7 L258.7,486.4 L259.7,486.4 L260.7,486.4 L261.7,486.8 L262.7,486.5 L263.7,486.8 L264.7,487.7 L265.7,489.2 L266.7,491.1 L267.7,493.6 L268.7,495.5 L269.7,497.3 L270.7,498.8 L271.7,499.9 L272.7,500.7 L273.7,500.9 L274.7,501.7 L275.7,502.1 L276.7,502.9 L277.7,503.1 L278.7,504.1 L279.7,504.6 L280.7,505.3 L281.7,505.2 L282.7,505.7 L283.7,506.6 L284.7,507.3 L285.7,507.9 L286.7,509.4 L287.7,510 L288.7,510.6 L289.7,511.2 L290.7,512.1 L291.7,512.5 L292.7,513.7 L293.7,515.1 L294.7,516.2 L295.7,516.9 L296.7,517.9 L297.7,518.4 L298.7,518.5 L299.7,518.2 L300.7,517.8 L301.7,516.7 L302.7,516 L303.7,514.6 L304.7,514.5 L305.7,514 L306.7,513.8 L307.7,513.3 L308.7,512.9 L309.7,511.8 L310.7,510.5 L311.7,509.6 L312.7,508.2 L313.7,507.2 L314.7,506 L315.7,504.7 L316.7,503 L317.7,501.9 L318.7,500.6 L319.7,499.7 L320.7,499.4 L321.7,498.9 L322.7,498.5 L323.7,498.3 L324.7,498.1 L325.7,497.7 L326.7,497.6 L327.7,497.3 L328.7,497 L329.7,496.6 L330.7,496.5 L331.7,495.7 L332.7,495.7 L333.7,495 L334.7,494.8 L335.7,494 L336.7,493.8 L337.7,493 L338.7,492.4 L339.7,491.4 L340.7,490.7 L341.7,490.3 L342.7,489 L343.7,488.1 L344.7,487.5 L345.7,486.5 L346.7,485.4 L347.7,484.2 L348.7,482.8 L349.7,481.2 L350.7,479.8 L351.7,478.1 L352.7,477.4 L353.7,476.2 L354.7,475.1 L355.7,474 L356.7,472.8 L357.7,471.8 L358.7,470.6 L359.7,469.5 L360.7,467.8 L361.7,466.4 L362.7,464.4 L363.7,462.7 L364.7,460.8 L365.7,459.6 L366.7,458 L367.7,456.4 L368.7,455.2 L369.7,453.7 L370.7,452.1 L371.7,449.9 L372.7,448.5 L373.7,447.2 L374.7,445.6 L375.7,443.8 L376.7,443.2 L377.7,442.2 L378.7,440.7 L379.7,439.9 L380.7,439.6 L381.7,438.6 L382.7,437.6 L383.7,437.2 L384.7,436.3 L385.7,434.9 L386.7,434 L387.7,433.1 L388.7,431.7 L389.7,430.6 L390.7,429.5 L391.7,428.9 L392.7,427.5 L393.7,426.6 L394.7,425.8 L395.7,425.4 L396.7,424.1 L397.7,423.9 L398.7,423.4 L399.7,423.1 L400.7,422.3 L401.7,422.3 L402.7,421.9 L403.7,421.4 L404.7,420.1 L405.7,418.9 L406.7,417.3 L407.7,416.3 L408.7,415.9 L409.7,415.3 L410.7,415.4 L411.7,415.1 L412.7,414.6 L413.7,413.8 L414.7,413.6 L415.7,413.2 L416.7,412.8 L417.7,412.8 L418.7,412.9 L419.7,413 L420.7,413.1 L421.7,413 L422.7,412.8 L423.7,412.4 L424.7,412.6 L425.7,412.4 L426.7,412.3 L427.7,412.9 L428.7,413.3 L429.7,412.9 L430.7,413 L431.7,413.4 L432.7,412.6 L433.7,412.6 L434.7,412.8 L435.7,412.8 L436.7,412.6 L437.7,412.9 L438.7,412.6 L439.7,411.8 L440.7,411.4 L441.7,411.5 L442.7,411.7 L443.7,411.8 L444.7,412.5 L445.7,413.3 L446.7,413.2 L447.7,413.1 L448.7,413.8 L449.7,413.9 L450.7,413.4 L451.7,413.7 L452.7,413.6 L453.7,413 L454.7,413.1 L455.7,413.5 L456.7,413.1 L457.7,413.4 L458.7,413.1 L459.7,413.1 L460.7,412.8 L461.7,413 L462.7,413.3 L463.7,413.5 L464.7,413.5 L465.7,413.4 L466.7,413.3 L467.7,413 L468.7,413 L469.7,413.3 L470.7,413.3 L471.7,413.5 L472.7,413.5 L473.7,413.5 L474.7,413.4 L475.7,413.5 L476.7,413.3 L477.7,413.2 L478.7,412.8 L479.7,412.5 L480.7,412.4 L481.7,412.5 L482.7,412.6 L483.7,412.8 L484.7,412.9 L485.7,412.9 L486.7,412.8 L487.7,412.5 L488.7,412.7 L489.7,413 L490.7,413 L491.7,412.7 L492.7,412.9 L493.7,412.8 L494.7,412.3 L495.7,412.4 L496.7,412.7 L497.7,412.9 L498.7,412.8 L499.7,413 L500.7,412.9 L501.7,413.1 L502.7,412.8 L503.7,412.9 L504.7,413.3 L505.7,413.2 L506.7,412.8 L507.7,413.2 L508.7,413.4 L509.7,412.7 L510.7,412.7 L511.7,412.6 L512.7,412.3 L513.7,412.3 L514.7,412.8 L515.7,412.6 L516.7,412.7 L517.7,413 L518.7,412.9 L519.7,412.7 L520.7,413 L521.7,412.9 L522.7,412.3 L523.7,411.9 L524.7,412 L525.7,411.8 L526.7,412.1 L527.7,412.7 L528.7,413 L529.7,412.8 L530.7,412.9 L531.7,412.6 L532.7,412.5 L533.7,412.6 L534.7,412.9 L535.7,413.4 L536.7,413.6 L537.7,413.5 L538.7,413 L539.7,412.7 L540.7,412.1 L541.7,412.1 L542.7,412.2 L543.7,412.8 L544.7,413.2 L545.7,413.6 L546.7,413.4 L547.7,413.3 L548.7,413 L549.7,412.9 L550.7,412.6 L551.7,412.6 L552.7,412.8 L553.7,412.9 L554.7,412.9 L555.7,413 L556.7,413.1 L557.7,413.2 L558.7,413 L559.7,412.7 L560.7,412.6 L561.7,412.7 L562.7,412.9 L563.7,413.1 L564.7,413.2 L565.7,413.2 L566.7,413.5 L567.7,413.3 L568.7,413 L569.7,413.2 L570.7,413.5 L571.7,413 L572.7,413 L573.7,413.4 L574.7,413.2 L575.7,413 L576.7,413.1 L577.7,413.1 L578.7,412.8 L579.7,412.9 L580.7,412.9 L581.7,412.8 L582.7,412.7 L583.7,413 L584.7,412.8 L585.7,413 L586.7,413.1 L587.7,413.1 L588.7,412.9 L589.7,412.9 L590.7,412.7 L591.7,412.4 L592.7,412.4 L593.7,412.3 L594.7,411.9 L595.7,412.1 L596.7,412.2 L597.7,412.2 L598.7,412 L599.7,412.5 L600.7,412.4 L601.7,412.8 L602.7,413.2 L603.7,413.4 L604.7,413.3 L605.7,413.5 L606.7,412.7 L607.7,412.2 L608.7,412.3 L609.7,412 L610.7,411.9 L611.7,412 L612.7,412.2 L613.7,412.2 L614.7,412.5 L615.7,412.7 L616.7,412.9 L617.7,413.2 L618.7,413.2 L619.7,413.6 L620.7,413.8 L621.7,413.8 L622.7,413.1 L623.7,412.9 L624.7,412.5 L625.7,411.9 L626.7,411.7 L627.7,412.4 L628.7,412.4 L629.7,412.4 L630.7,413 L631.7,412.9 L632.7,412.4 L633.7,412.6 L634.7,412.4 L635.7,412.1 L636.7,412.5 L637.7,412.9 L638.7,412.8 L639.7,412.9 L640.7,413 L641.7,412.8 L642.7,412.7 L643.7,413.1 L644.7,412.9 L645.7,413 L646.7,412.9 L647.7,413.1 L648.7,412.7 L649.7,413 L650.7,412.8 L651.7,413.2 L652.7,413.1 L653.7,413.4 L654.7,413.2 L655.7,413.1 L656.7,412.7 L657.7,412.5 L658.7,412.4 L659.7,412.9 L660.7,412.9 L661.7,412.7 L662.7,412.7 L663.7,412.2 L664.7,411.8 L665.7,412 L666.7,412.5 L667.7,413 L668.7,413.1 L669.7,412.9 L670.7,412.4 L671.7,412.6 L672.7,411.9 L673.7,412.1 L674.7,412.7 L675.7,412.9 L676.7,412.7 L677.7,412.7 L678.7,412.9 L679.7,412.3 L680.7,412.4 L681.7,412.1 L682.7,412.3 L683.7,412.3 L684.7,412.9 L685.7,413.3 L686.7,413.7 L687.7,413.4 L688.7,413.2 L689.7,413.4 L690.7,413.4 L691.7,413.4 L692.7,413.7 L693.7,413.9 L694.7,413.5 L695.7,413.1 L696.7,413 L697.7,413.1 L698.7,412.9 L699.7,413 L700.7,413.3 L701.7,413.1 L702.7,412.8 L703.7,413 L704.7,413.2 L705.7,413.6 L706.7,414.5 L707.7,415.4 L708.7,416.5 L709.7,417.6 L710.7,419.1 L711.7,420.4 L712.7,422 L713.7,423.5 L714.7,424.9 L715.7,425.7 L716.7,426.8 L717.7,427.8 L718.7,428.1 L719.7,428.8 L720.7,429.8 L721.7,430.5 L722.7,431 L723.7,431.9 L724.7,432.7 L725.7,433.7 L726.7,434.3 L727.7,435.1 L728.7,436.1 L729.7,437.4 L730.7,438.6 L731.7,439.9 L732.7,441.2 L733.7,442.4 L734.7,444.1 L735.7,446.5 L736.7,449.7 L737.7,452.9 L738.7,457 L739.7,460.7 L740.7,463.3 L741.7,465.8 L742.7,469.3 L743.7,472.1 L744.7,474.5 L745.7,476.2 L746.7,476.6 L747.7,475.2 L748.7,473.6 L749.7,471.4 L750.7,469.3 L751.7,467.2 L752.7,464.3 L753.7,459.9 L754.7,455.1 L755.7,450.2 L756.7,444.9 L757.7,440.6 L758.7,437.4 L759.7,434.1 L760.7,430.7 L761.7,428.1 L762.7,425.6 L763.7,423.1 L764.7,421.5 L765.7,420.5 L766.7,419.3 L767.7,417.9 L768.7,417.7 L769.7,417.3 L770.7,417 L771.7,416.8 L772.7,416.8 L773.7,415.5 L774.7,415.2 L775.7,415.1 L776.7,414.5 L777.7,414.5 L778.7,414.9 L779.7,414.9 L780.7,414.3 L781.7,415.4 L782.7,416.5 L783.7,417.6 L784.7,418.7 L785.7,420.9 L786.7,422.6 L787.7,424 L788.7,425.6 L789.7,426.9 L790.7,428.2 L791.7,429.1 L792.7,430.3 L793.7,431.4 L794.7,432.5 L795.7,433.4 L796.7,434.5 L797.7,435.3 L798.7,436.1 L799.7,436.3 L800.7,436.4 L801.7,436.1 L802.7,435.9 L803.7,434.8 L804.7,434.5 L805.7,433.2 L806.7,432.1 L807.7,430.6 L808.7,429.5 L809.7,427.9 L810.7,426.7 L811.7,425.4 L812.7,424.4 L813.7,423.4 L814.7,421.9 L815.7,420.3 L816.7,418.9 L817.7,417.5 L818.7,416.7 L819.7,415.7 L820.7,415.1 L821.7,414.2 L822.7,413.6 L823.7,412.9 L824.7,413.1 L825.7,412.9 L826.7,413.8 L827.7,414.5 L828.7,415.6 L829.7,417.1 L830.7,418.3 L831.7,419.4 L832.7,421.2 L833.7,422.9 L834.7,425 L835.7,427.3 L836.7,429.3 L837.7,431.1 L838.7,433.1 L839.7,433.8 L840.7,435.2 L841.7,436.6 L842.7,438.5 L843.7,439.6 L844.7,441.5 L845.7,442.8 L846.7,444.4 L847.7,444.6 L848.7,444.8 L849.7,442.1 L850.7,437.1 L851.7,431.2 L852.7,426.3 L853.7,423.3 L854.7,421.1 L855.7,418.9 L856.7,417.4 L857.7,416.3 L858.7,415.3 L859.7,414.8 L860.7,414.3 L861.7,414 L862.7,413.9 L863.7,414 L864.7,413.8 L865.7,413.8 L866.7,413.3 L867.7,413.5 L868.7,414 L869.7,415.3 L870.7,416.8 L871.7,418 L872.7,418.8 L873.7,420.1 L874.7,420.7 L875.7,421.4 L876.7,422.6 L877.7,424 L878.7,425 L879.7,425.8 L880.7,426.8 L881.7,427.5 L882.7,428.1 L883.7,428.2 L884.7,428.4 L885.7,427.6 L886.7,426 L887.7,423.9 L888.7,422.2 L889.7,420 L890.7,418 L891.7,416.1 L892.7,415 L893.7,414.1 L894.7,413.6 L895.7,414 L896.7,415.1 L897.7,416.1 L898.7,417.4 L899.7,418.8 L900.7,419.8 L901.7,420.7 L902.7,422 L903.7,422.4 L904.7,423.7 L905.7,425 L906.7,426.5 L907.7,427.2 L908.7,428.6 L909.7,428.9 L910.7,429.3 L911.7,429.6 L912.7,429.9 L913.7,429.4 L914.7,429.1 L915.7,428.6 L916.7,428.6 L917.7,429.6 L918.7,431 L919.7,432.3 L920.7,433.7 L921.7,434.2 L922.7,433.7 L923.7,433.1 L924.7,431.8 L925.7,430.3 L926.7,428.3 L927.7,427.3 L928.7,426.7 L929.7,425.9 L930.7,425.3 L931.7,424.9 L932.7,424.6 L933.7,423.5 L934.7,423.4 L935.7,422.7 L936.7,421.8 L937.7,420.8 L938.7,419.9 L939.7,418.2 L940.7,416.6 L941.7,415.7 L942.7,414.4 L943.7,414 L944.7,413.6 L945.7,413.7 L946.7,412.8 L947.7,412.5 L948.7,412.1 L949.7,411.9 L950.7,412 L951.7,412.2 L952.7,412.4 L953.7,412.4 L954.7,412.3 L955.7,412.1 L956.7,412.4 L957.7,412.6 L958.7,412.8 L959.7,413.3 L960.7,413.6 L961.7,413.4 L962.7,413.2 L963.7,412.7 L964.7,412.6 L965.7,412.8 L966.7,413.1 L967.7,413.4 L968.7,413.8 L969.7,413.6 L970.7,413.5 L971.7,413.4 L972.7,413.4 L973.7,413 L974.7,413.5 L975.7,413.5 L976.7,413.6 L977.7,413.5 L978.7,413.9 L979.7,413.3 L980.7,413.2 L981.7,413.3 L982.7,413.2 L983.7,413.1 L984.7,413.2 L985.7,413 L986.7,413 L987.7,413 L988.7,412.9 L989.7,412.8 L990.7,412.8 L991.7,412.5 L992.7,412.3 L993.7,412 L994.7,412.2 L995.7,412.6 L996.7,413 L997.7,413.8 L998.7,413.9 L999.7,413.8 L1000.7,414 L1001.7,413.7 L1002.7,413.4 L1003.7,413.6 L1004.7,413.3 L1005.7,412.7 L1006.7,412.5" fill="none" stroke="#d8232a" stroke-width="2.1" stroke-linejoin="round" stroke-linecap="round" />
<path d="M159.7,490.7 L160.7,490.6 L161.7,490.6 L162.7,490.4 L163.7,490.1 L164.7,490 L165.7,490 L166.7,489.9 L167.7,490.1 L168.7,490.2 L169.7,490.4 L170.7,490.5 L171.7,490.5 L172.7,490.6 L173.7,490.5 L174.7,490.6 L175.7,490.6 L176.7,490.7 L177.7,490.5 L178.7,490.4 L179.7,490.2 L180.7,489.9 L181.7,490 L182.7,489.7 L183.7,489.7 L184.7,489.9 L185.7,490.2 L186.7,490.3 L187.7,490.3 L188.7,490.3 L189.7,489.9 L190.7,489.4 L191.7,489.3 L192.7,489.4 L193.7,489.6 L194.7,489.8 L195.7,489.9 L196.7,490.1 L197.7,490.3 L198.7,490.1 L199.7,490.3 L200.7,490.4 L201.7,490 L202.7,490.1 L203.7,490.2 L204.7,490 L205.7,490 L206.7,490.3 L207.7,490.4 L208.7,490.5 L209.7,490.8 L210.7,490.6 L211.7,490.4 L212.7,490.3 L213.7,490.2 L214.7,490 L215.7,490.2 L216.7,490.3 L217.7,490.2 L218.7,490 L219.7,489.9 L220.7,489.8 L221.7,489.9 L222.7,489.8 L223.7,490.2 L224.7,490.9 L225.7,491.5 L226.7,492.5 L227.7,493.8 L228.7,495.1 L229.7,496.8 L230.7,498.7 L231.7,500.3 L232.7,502.5 L233.7,505.6 L234.7,508.5 L235.7,511.8 L236.7,515.3 L237.7,519.3 L238.7,523.3 L239.7,527.7 L240.7,532.7 L241.7,538.1 L242.7,543.7 L243.7,549 L244.7,554.1 L245.7,559.4 L246.7,564.7 L247.7,569.7 L248.7,574.7 L249.7,579.9 L250.7,583.9 L251.7,587.5 L252.7,591 L253.7,594.2 L254.7,597 L255.7,600 L256.7,602.4 L257.7,604.3 L258.7,606.1 L259.7,607.6 L260.7,609.2 L261.7,610.5 L262.7,612.1 L263.7,613.2 L264.7,614.5 L265.7,615.6 L266.7,616.8 L267.7,617.4 L268.7,618.5 L269.7,619.1 L270.7,619.5 L271.7,619.8 L272.7,620.2 L273.7,620.4 L274.7,621 L275.7,621.4 L276.7,621.9 L277.7,622.3 L278.7,622.8 L279.7,622.9 L280.7,623.3 L281.7,623.9 L282.7,624.6 L283.7,625.5 L284.7,626.5 L285.7,627.7 L286.7,628.9 L287.7,630.2 L288.7,631 L289.7,632 L290.7,633.1 L291.7,633.7 L292.7,634.4 L293.7,635.3 L294.7,635.7 L295.7,636.1 L296.7,636.5 L297.7,636.5 L298.7,636.7 L299.7,637 L300.7,637.3 L301.7,637.4 L302.7,637.7 L303.7,637.8 L304.7,638 L305.7,638 L306.7,638 L307.7,637.5 L308.7,636.6 L309.7,635.5 L310.7,634.5 L311.7,633.5 L312.7,633.2 L313.7,633.2 L314.7,632.8 L315.7,632.7 L316.7,632.5 L317.7,632.3 L318.7,631.9 L319.7,631.5 L320.7,630.3 L321.7,629.2 L322.7,627.5 L323.7,625.8 L324.7,624.6 L325.7,623.3 L326.7,621.8 L327.7,620.1 L328.7,618.9 L329.7,617.3 L330.7,616.1 L331.7,615 L332.7,614.2 L333.7,613.2 L334.7,612.6 L335.7,612.1 L336.7,611.2 L337.7,610.1 L338.7,609.6 L339.7,608.8 L340.7,608.2 L341.7,607.6 L342.7,607 L343.7,606.3 L344.7,605.3 L345.7,604.4 L346.7,603.7 L347.7,603.1 L348.7,602 L349.7,601.1 L350.7,600.3 L351.7,599.2 L352.7,598.2 L353.7,597.2 L354.7,596.3 L355.7,595.1 L356.7,594.3 L357.7,593.1 L358.7,592.1 L359.7,590.8 L360.7,589.5 L361.7,588.2 L362.7,586.8 L363.7,585.5 L364.7,584.1 L365.7,582.9 L366.7,581.2 L367.7,579.5 L368.7,578.1 L369.7,576.5 L370.7,574.9 L371.7,573.4 L372.7,571.9 L373.7,570.3 L374.7,568.6 L375.7,566.8 L376.7,565 L377.7,563.2 L378.7,561.2 L379.7,559.4 L380.7,557.5 L381.7,555.7 L382.7,553.9 L383.7,552.3 L384.7,550.3 L385.7,548.5 L386.7,546.5 L387.7,544.7 L388.7,542.7 L389.7,540.8 L390.7,539.3 L391.7,537.5 L392.7,535.6 L393.7,533.8 L394.7,532.2 L395.7,530.3 L396.7,529 L397.7,527.5 L398.7,525.9 L399.7,524.3 L400.7,522.8 L401.7,521 L402.7,519.4 L403.7,518 L404.7,516.6 L405.7,515.1 L406.7,513.5 L407.7,511.9 L408.7,510.5 L409.7,509 L410.7,507.8 L411.7,506.9 L412.7,506 L413.7,504.8 L414.7,503.9 L415.7,503 L416.7,501.9 L417.7,500.8 L418.7,499.7 L419.7,498.6 L420.7,497.7 L421.7,497.1 L422.7,496.5 L423.7,495.9 L424.7,495.4 L425.7,494.8 L426.7,493.7 L427.7,492.8 L428.7,492.6 L429.7,491.9 L430.7,491.2 L431.7,491.1 L432.7,490.8 L433.7,490.1 L434.7,489.7 L435.7,489.6 L436.7,489.3 L437.7,489.5 L438.7,489.6 L439.7,489.8 L440.7,490 L441.7,490.1 L442.7,489.8 L443.7,489.8 L444.7,490 L445.7,489.8 L446.7,489.7 L447.7,489.8 L448.7,489.7 L449.7,489.7 L450.7,489.6 L451.7,489.8 L452.7,490 L453.7,490.1 L454.7,489.9 L455.7,489.7 L456.7,489.5 L457.7,489.6 L458.7,489.6 L459.7,489.6 L460.7,490 L461.7,490 L462.7,489.8 L463.7,489.6 L464.7,489.6 L465.7,489.4 L466.7,489.6 L467.7,489.5 L468.7,489.7 L469.7,490 L470.7,490 L471.7,489.7 L472.7,489.7 L473.7,489.9 L474.7,489.6 L475.7,489.5 L476.7,489.5 L477.7,489.6 L478.7,489.5 L479.7,489.7 L480.7,490 L481.7,490.2 L482.7,490.1 L483.7,489.8 L484.7,489.8 L485.7,489.7 L486.7,489.8 L487.7,489.9 L488.7,490.1 L489.7,490.1 L490.7,489.8 L491.7,489.6 L492.7,489.2 L493.7,489.4 L494.7,489.5 L495.7,489.8 L496.7,490.3 L497.7,490.3 L498.7,490.3 L499.7,490.2 L500.7,490 L501.7,489.9 L502.7,490 L503.7,489.8 L504.7,490 L505.7,490 L506.7,489.9 L507.7,490.1 L508.7,490.2 L509.7,490 L510.7,490.2 L511.7,490.4 L512.7,490.1 L513.7,490.4 L514.7,490.6 L515.7,490.6 L516.7,490.5 L517.7,490.5 L518.7,490.4 L519.7,490.4 L520.7,490.3 L521.7,490.1 L522.7,490.2 L523.7,490 L524.7,489.7 L525.7,489.5 L526.7,489.8 L527.7,490.1 L528.7,490.3 L529.7,490.6 L530.7,490.7 L531.7,490.5 L532.7,490.5 L533.7,490.8 L534.7,490.8 L535.7,490.6 L536.7,490.6 L537.7,490.5 L538.7,490.2 L539.7,489.9 L540.7,490.6 L541.7,490.4 L542.7,490.4 L543.7,490.2 L544.7,490.3 L545.7,490 L546.7,490.1 L547.7,490.2 L548.7,490.1 L549.7,490 L550.7,490 L551.7,490 L552.7,490 L553.7,490.1 L554.7,490.1 L555.7,490.1 L556.7,490.2 L557.7,490.4 L558.7,490.5 L559.7,490.9 L560.7,490.8 L561.7,491 L562.7,490.8 L563.7,490.9 L564.7,490.6 L565.7,490.9 L566.7,491 L567.7,490.9 L568.7,490.7 L569.7,491.1 L570.7,490.8 L571.7,490.5 L572.7,490.5 L573.7,490.4 L574.7,490.1 L575.7,490.2 L576.7,489.9 L577.7,490.2 L578.7,490.4 L579.7,490.1 L580.7,490.1 L581.7,490.7 L582.7,490.5 L583.7,490.5 L584.7,491 L585.7,490.7 L586.7,490.6 L587.7,491 L588.7,491.2 L589.7,490.8 L590.7,491.2 L591.7,491 L592.7,491 L593.7,491 L594.7,491.1 L595.7,491 L596.7,490.9 L597.7,490.6 L598.7,490.4 L599.7,490.5 L600.7,490.4 L601.7,490.5 L602.7,490.5 L603.7,490.5 L604.7,490.5 L605.7,490.4 L606.7,490.7 L607.7,490.9 L608.7,491.1 L609.7,490.9 L610.7,491.1 L611.7,490.9 L612.7,490.7 L613.7,490.6 L614.7,490.9 L615.7,490.7 L616.7,490.9 L617.7,491.1 L618.7,491.2 L619.7,491 L620.7,491.1 L621.7,491 L622.7,490.7 L623.7,490.4 L624.7,490.5 L625.7,490.3 L626.7,490.2 L627.7,490.2 L628.7,490.3 L629.7,490.4 L630.7,490.8 L631.7,490.8 L632.7,490.9 L633.7,491 L634.7,490.7 L635.7,490.5 L636.7,490.6 L637.7,490.6 L638.7,490.6 L639.7,490.9 L640.7,491.3 L641.7,491.2 L642.7,491.2 L643.7,491.2 L644.7,491 L645.7,490.7 L646.7,490.8 L647.7,490.8 L648.7,490.8 L649.7,490.8 L650.7,490.9 L651.7,490.7 L652.7,490.9 L653.7,490.5 L654.7,490.3 L655.7,490.2 L656.7,490.4 L657.7,490.1 L658.7,490.3 L659.7,490.8 L660.7,490.8 L661.7,490.9 L662.7,491 L663.7,491.1 L664.7,490.8 L665.7,490.6 L666.7,490.4 L667.7,490.6 L668.7,490.5 L669.7,490.4 L670.7,490.7 L671.7,490.6 L672.7,490.7 L673.7,490.5 L674.7,490.7 L675.7,490.7 L676.7,490.9 L677.7,490.5 L678.7,490.6 L679.7,490.5 L680.7,490.5 L681.7,490.3 L682.7,490.4 L683.7,490.4 L684.7,490.4 L685.7,490.4 L686.7,490.6 L687.7,490.5 L688.7,490.7 L689.7,490.9 L690.7,491.2 L691.7,491.8 L692.7,492.9 L693.7,493.9 L694.7,495.5 L695.7,497 L696.7,498.4 L697.7,499.5 L698.7,500.7 L699.7,501.8 L700.7,503.1 L701.7,504.3 L702.7,505.6 L703.7,506.9 L704.7,508.6 L705.7,510.1 L706.7,511.9 L707.7,514 L708.7,516.7 L709.7,519.6 L710.7,522.7 L711.7,526.3 L712.7,529.9 L713.7,533.6 L714.7,537.2 L715.7,541 L716.7,544.2 L717.7,546.8 L718.7,549.5 L719.7,552.1 L720.7,554.6 L721.7,557.1 L722.7,558.9 L723.7,559.8 L724.7,560.1 L725.7,559.9 L726.7,559 L727.7,557.8 L728.7,556.9 L729.7,556 L730.7,555.3 L731.7,554.3 L732.7,553.1 L733.7,551.9 L734.7,551 L735.7,550.6 L736.7,551.9 L737.7,554 L738.7,556 L739.7,559.9 L740.7,565.3 L741.7,570.8 L742.7,575.4 L743.7,579.4 L744.7,583.5 L745.7,587.1 L746.7,590.2 L747.7,592.6 L748.7,593.5 L749.7,592.2 L750.7,589.6 L751.7,586.1 L752.7,581.8 L753.7,576.5 L754.7,568.8 L755.7,558.9 L756.7,548.7 L757.7,539.5 L758.7,533.1 L759.7,527.3 L760.7,522 L761.7,517.2 L762.7,513.1 L763.7,509.8 L764.7,506.5 L765.7,504.1 L766.7,502.1 L767.7,500.3 L768.7,498.6 L769.7,497.5 L770.7,496.6 L771.7,495.7 L772.7,495 L773.7,494.1 L774.7,493.5 L775.7,493 L776.7,492.1 L777.7,491.5 L778.7,491.3 L779.7,490.8 L780.7,490.1 L781.7,490.3 L782.7,490.8 L783.7,491.8 L784.7,493 L785.7,495.2 L786.7,497.2 L787.7,499.7 L788.7,501.7 L789.7,504.2 L790.7,506.5 L791.7,509.3 L792.7,512.4 L793.7,515.6 L794.7,518.3 L795.7,521.3 L796.7,523.3 L797.7,524.7 L798.7,526.4 L799.7,527.8 L800.7,529 L801.7,530.1 L802.7,530.6 L803.7,530.6 L804.7,530.5 L805.7,530 L806.7,529.2 L807.7,528.5 L808.7,527.4 L809.7,526.1 L810.7,524.8 L811.7,523.7 L812.7,522.2 L813.7,521 L814.7,519.7 L815.7,518.2 L816.7,516.4 L817.7,515.1 L818.7,513.2 L819.7,511.7 L820.7,510 L821.7,508.7 L822.7,507 L823.7,505.8 L824.7,504.2 L825.7,502.8 L826.7,501.4 L827.7,499.9 L828.7,498.1 L829.7,496.5 L830.7,495.4 L831.7,494.1 L832.7,493 L833.7,492.4 L834.7,492.2 L835.7,491.4 L836.7,490.6 L837.7,490.7 L838.7,490.6 L839.7,491.1 L840.7,492.1 L841.7,493.3 L842.7,494.5 L843.7,496.2 L844.7,497.9 L845.7,499.7 L846.7,502.2 L847.7,505 L848.7,507.6 L849.7,509.7 L850.7,511.6 L851.7,512.9 L852.7,513 L853.7,513 L854.7,512.8 L855.7,512.4 L856.7,511.9 L857.7,511 L858.7,509.9 L859.7,508.8 L860.7,507.5 L861.7,506 L862.7,504.4 L863.7,502.3 L864.7,499.9 L865.7,498.1 L866.7,496.4 L867.7,494.7 L868.7,493 L869.7,492.1 L870.7,491.6 L871.7,492.3 L872.7,493.5 L873.7,495.1 L874.7,497 L875.7,499.7 L876.7,502.6 L877.7,505.4 L878.7,508.4 L879.7,511.4 L880.7,514.6 L881.7,517.7 L882.7,521.3 L883.7,524.3 L884.7,527.3 L885.7,529.8 L886.7,532.2 L887.7,534.6 L888.7,537.3 L889.7,539.4 L890.7,541.3 L891.7,542.5 L892.7,542.8 L893.7,540.8 L894.7,537 L895.7,532.2 L896.7,527.3 L897.7,521.5 L898.7,514.5 L899.7,507.9 L900.7,502.8 L901.7,497.4 L902.7,494 L903.7,493.5 L904.7,495 L905.7,497.8 L906.7,502.4 L907.7,508.3 L908.7,513.5 L909.7,518.8 L910.7,524.1 L911.7,529.6 L912.7,534.3 L913.7,537.7 L914.7,539.5 L915.7,539.8 L916.7,539.2 L917.7,538.1 L918.7,537.4 L919.7,536.2 L920.7,534.9 L921.7,533.6 L922.7,532.8 L923.7,531.6 L924.7,530.7 L925.7,530 L926.7,529.2 L927.7,528.9 L928.7,529.2 L929.7,529.2 L930.7,529 L931.7,529.2 L932.7,528.9 L933.7,528.7 L934.7,528.5 L935.7,527.9 L936.7,526.7 L937.7,524.9 L938.7,522.3 L939.7,519.8 L940.7,516.8 L941.7,512.2 L942.7,507.1 L943.7,502.8 L944.7,499.8 L945.7,497.2 L946.7,494.8 L947.7,493.5 L948.7,493.1 L949.7,493.8 L950.7,495.1 L951.7,496.7 L952.7,497.6 L953.7,497.9 L954.7,497.7 L955.7,497 L956.7,496 L957.7,495.2 L958.7,494.3 L959.7,493.7 L960.7,493.6 L961.7,493.8 L962.7,494 L963.7,494.7 L964.7,495.3 L965.7,495.9 L966.7,496.4 L967.7,496.9 L968.7,497 L969.7,496.6 L970.7,496.2 L971.7,495.7 L972.7,494.5 L973.7,493.5 L974.7,492.5 L975.7,491.6 L976.7,490.4 L977.7,490 L978.7,489.5 L979.7,489.8 L980.7,489.8 L981.7,490.1 L982.7,490 L983.7,490.3 L984.7,490.2 L985.7,490.3 L986.7,490.1 L987.7,490.4 L988.7,490.4 L989.7,490.3 L990.7,490.2 L991.7,490 L992.7,490 L993.7,489.9 L994.7,489.9 L995.7,489.7 L996.7,489.7 L997.7,489.5 L998.7,489.6 L999.7,489.9 L1000.7,490.4 L1001.7,491.1 L1002.7,491.5 L1003.7,492.5 L1004.7,493.2 L1005.7,493.8 L1006.7,494.4" fill="none" stroke="#000000" stroke-width="2.2" stroke-linejoin="round" stroke-linecap="round" />
<rect x="157.3" y="67" width="849.7" height="623.5" fill="none" stroke="#000" stroke-width="1.9" />
<line x1="157.3" y1="690.5" x2="157.3" y2="700" stroke="#000" stroke-width="1.9" />
<line x1="282.1" y1="690.5" x2="282.1" y2="700" stroke="#000" stroke-width="1.9" />
<line x1="406.9" y1="690.5" x2="406.9" y2="700" stroke="#000" stroke-width="1.9" />
<line x1="531.7" y1="690.5" x2="531.7" y2="700" stroke="#000" stroke-width="1.9" />
<line x1="656.5" y1="690.5" x2="656.5" y2="700" stroke="#000" stroke-width="1.9" />
<line x1="781.3" y1="690.5" x2="781.3" y2="700" stroke="#000" stroke-width="1.9" />
<line x1="906.1" y1="690.5" x2="906.1" y2="700" stroke="#000" stroke-width="1.9" />
<line x1="219.7" y1="690.5" x2="219.7" y2="695" stroke="#000" stroke-width="1.9" />
<line x1="344.5" y1="690.5" x2="344.5" y2="695" stroke="#000" stroke-width="1.9" />
<line x1="469.3" y1="690.5" x2="469.3" y2="695" stroke="#000" stroke-width="1.9" />
<line x1="594.1" y1="690.5" x2="594.1" y2="695" stroke="#000" stroke-width="1.9" />
<line x1="718.9" y1="690.5" x2="718.9" y2="695" stroke="#000" stroke-width="1.9" />
<line x1="843.7" y1="690.5" x2="843.7" y2="695" stroke="#000" stroke-width="1.9" />
<line x1="968.5" y1="690.5" x2="968.5" y2="695" stroke="#000" stroke-width="1.9" />
<text x="157.3" y="744.3" font-size="46.5" fill="#000" text-anchor="middle" font-weight="normal"  stroke="#000" stroke-width="0.4">4000</text>
<text x="282.1" y="744.3" font-size="46.5" fill="#000" text-anchor="middle" font-weight="normal"  stroke="#000" stroke-width="0.4">3500</text>
<text x="406.9" y="744.3" font-size="46.5" fill="#000" text-anchor="middle" font-weight="normal"  stroke="#000" stroke-width="0.4">3000</text>
<text x="531.7" y="744.3" font-size="46.5" fill="#000" text-anchor="middle" font-weight="normal"  stroke="#000" stroke-width="0.4">2500</text>
<text x="656.5" y="744.3" font-size="46.5" fill="#000" text-anchor="middle" font-weight="normal"  stroke="#000" stroke-width="0.4">2000</text>
<text x="781.3" y="744.3" font-size="46.5" fill="#000" text-anchor="middle" font-weight="normal"  stroke="#000" stroke-width="0.4">1500</text>
<text x="906.1" y="744.3" font-size="46.5" fill="#000" text-anchor="middle" font-weight="normal"  stroke="#000" stroke-width="0.4">1000</text>
<text x="595.5" y="805.4" font-size="52" fill="#000" text-anchor="middle" font-weight="normal"  stroke="#000" stroke-width="0.4">Wavenumber (cm<tspan dy="-0.5294117647058822em" font-size="68%">-1</tspan><tspan dy="0.36em">)</tspan></text>
<text transform="translate(128.4 370.4) rotate(-90)" font-size="52" fill="#000" stroke="#000" stroke-width="0.4" text-anchor="middle" >Transmittance (%)</text>
<text x="562.5" y="118.4" font-size="31.6" fill="#1b7040" text-anchor="middle" font-weight="normal"  stroke="#1b7040" stroke-width="0.25">ND<tspan dy="-0.5428571428571429em" font-size="70%">+</tspan></text>
<text x="568.6" y="213.6" font-size="31.6" fill="#ae4084" text-anchor="middle" font-weight="normal"  stroke="#ae4084" stroke-width="0.25">GO30ND<tspan dy="-0.5428571428571429em" font-size="70%">+</tspan></text>
<text x="562" y="309.4" font-size="31.6" fill="#25387c" text-anchor="middle" font-weight="normal"  stroke="#25387c" stroke-width="0.25">GO20ND<tspan dy="-0.5428571428571429em" font-size="70%">+</tspan></text>
<text x="564" y="405.3" font-size="31.6" fill="#d8232a" text-anchor="middle" font-weight="normal"  stroke="#d8232a" stroke-width="0.25">GO10ND<tspan dy="-0.5428571428571429em" font-size="70%">+</tspan></text>
<text x="557.5" y="483" font-size="31.6" fill="#000000" text-anchor="middle" font-weight="normal"  stroke="#000000" stroke-width="0.25">GO</text>
<text x="89" y="59" font-size="80.5" fill="#111" text-anchor="start" font-weight="bold"  stroke="#111" stroke-width="0.4">a</text>
</g>
<g id="panel-b">
<path d="M1243,623.9 L1244,623.9 L1245,623.8 L1246,623.8 L1247,623.8 L1248,623.8 L1249,623.8 L1250,623.7 L1251,623.7 L1252,623.7 L1253,623.7 L1254,623.6 L1255,623.6 L1256,623.6 L1257,623.6 L1258,623.5 L1259,623.5 L1260,623.5 L1261,623.5 L1262,623.4 L1263,623.4 L1264,623.4 L1265,623.3 L1266,623.3 L1267,623.3 L1268,623.2 L1269,623.2 L1270,623.1 L1271,623.1 L1272,623.1 L1273,623 L1274,623 L1275,622.9 L1276,622.9 L1277,622.8 L1278,622.8 L1279,622.7 L1280,622.7 L1281,622.6 L1282,622.6 L1283,622.5 L1284,622.4 L1285,622.4 L1286,622.3 L1287,622.3 L1288,622.2 L1289,622.1 L1290,622.1 L1291,622 L1292,621.9 L1293,621.8 L1294,621.8 L1295,621.7 L1296,621.6 L1297,621.5 L1298,621.4 L1299,621.3 L1300,621.2 L1301,621.2 L1302,621.1 L1303,621 L1304,620.9 L1305,620.8 L1306,620.7 L1307,620.5 L1308,620.4 L1309,620.3 L1310,620.2 L1311,620.1 L1312,620 L1313,619.8 L1314,619.7 L1315,619.6 L1316,619.4 L1317,619.3 L1318,619.2 L1319,619 L1320,618.9 L1321,618.7 L1322,618.6 L1323,618.4 L1324,618.3 L1325,618.1 L1326,617.9 L1327,617.7 L1328,617.6 L1329,617.4 L1330,617.2 L1331,617 L1332,616.8 L1333,616.6 L1334,616.4 L1335,616.2 L1336,616 L1337,615.8 L1338,615.6 L1339,615.3 L1340,615.1 L1341,614.9 L1342,614.6 L1343,614.4 L1344,614.2 L1345,613.9 L1346,613.6 L1347,613.4 L1348,613.1 L1349,612.8 L1350,612.5 L1351,612.3 L1352,612 L1353,611.7 L1354,611.4 L1355,611 L1356,610.7 L1357,610.4 L1358,610.1 L1359,609.7 L1360,609.4 L1361,609 L1362,608.7 L1363,608.3 L1364,607.9 L1365,607.5 L1366,607.2 L1367,606.8 L1368,606.4 L1369,605.9 L1370,605.5 L1371,605.1 L1372,604.7 L1373,604.2 L1374,603.8 L1375,603.3 L1376,602.8 L1377,602.4 L1378,601.9 L1379,601.4 L1380,600.9 L1381,600.4 L1382,599.8 L1383,599.3 L1384,598.8 L1385,598.2 L1386,597.7 L1387,597.1 L1388,596.5 L1389,595.9 L1390,595.3 L1391,594.7 L1392,594.1 L1393,593.4 L1394,592.8 L1395,592.1 L1396,591.5 L1397,590.8 L1398,590.1 L1399,589.4 L1400,588.7 L1401,588 L1402,587.2 L1403,586.5 L1404,585.7 L1405,585 L1406,584.2 L1407,583.4 L1408,582.6 L1409,581.8 L1410,580.9 L1411,580.1 L1412,579.2 L1413,578.4 L1414,577.5 L1415,576.6 L1416,575.7 L1417,574.8 L1418,573.8 L1419,572.9 L1420,571.9 L1421,570.9 L1422,570 L1423,569 L1424,567.9 L1425,566.9 L1426,565.9 L1427,564.8 L1428,563.8 L1429,562.7 L1430,561.6 L1431,560.5 L1432,559.4 L1433,558.2 L1434,557.1 L1435,555.9 L1436,554.7 L1437,553.6 L1438,552.4 L1439,551.1 L1440,549.9 L1441,548.7 L1442,547.4 L1443,546.2 L1444,544.9 L1445,543.6 L1446,542.3 L1447,541 L1448,539.6 L1449,538.3 L1450,536.9 L1451,535.6 L1452,534.2 L1453,532.8 L1454,531.4 L1455,529.9 L1456,528.5 L1457,527.1 L1458,525.6 L1459,524.1 L1460,522.6 L1461,521.1 L1462,519.6 L1463,518.1 L1464,516.6 L1465,515 L1466,513.4 L1467,511.9 L1468,510.3 L1469,508.7 L1470,507 L1471,505.4 L1472,503.7 L1473,502.1 L1474,500.4 L1475,498.7 L1476,497 L1477,495.3 L1478,493.5 L1479,491.8 L1480,490 L1481,488.2 L1482,486.4 L1483,484.6 L1484,482.7 L1485,480.9 L1486,479 L1487,477.1 L1488,475.1 L1489,473.2 L1490,471.2 L1491,469.2 L1492,467.2 L1493,465.2 L1494,463.1 L1495,461.1 L1496,458.9 L1497,456.8 L1498,454.6 L1499,452.4 L1500,450.2 L1501,448 L1502,445.7 L1503,443.4 L1504,441 L1505,438.7 L1506,436.3 L1507,433.8 L1508,431.3 L1509,428.8 L1510,426.3 L1511,423.7 L1512,421 L1513,418.4 L1514,415.6 L1515,412.9 L1516,410.1 L1517,407.3 L1518,404.4 L1519,401.5 L1520,398.5 L1521,395.5 L1522,392.4 L1523,389.3 L1524,386.1 L1525,382.9 L1526,379.7 L1527,376.4 L1528,373.1 L1529,369.7 L1530,366.2 L1531,362.8 L1532,359.2 L1533,355.6 L1534,352 L1535,348.3 L1536,344.6 L1537,340.9 L1538,337.1 L1539,333.2 L1540,329.3 L1541,325.4 L1542,321.4 L1543,317.4 L1544,313.4 L1545,309.3 L1546,305.2 L1547,301.1 L1548,296.9 L1549,292.7 L1550,288.5 L1551,284.2 L1552,280 L1553,275.7 L1554,271.4 L1555,267.1 L1556,262.8 L1557,258.5 L1558,254.2 L1559,249.9 L1560,245.6 L1561,241.3 L1562,237.1 L1563,232.8 L1564,228.6 L1565,224.4 L1566,220.2 L1567,216.1 L1568,212 L1569,207.9 L1570,203.9 L1571,200 L1572,196.1 L1573,192.2 L1574,188.4 L1575,184.7 L1576,181.1 L1577,177.6 L1578,174.1 L1579,170.7 L1580,167.4 L1581,164.2 L1582,161.1 L1583,158.2 L1584,155.3 L1585,152.5 L1586,149.9 L1587,147.3 L1588,144.9 L1589,142.7 L1590,140.5 L1591,138.5 L1592,136.6 L1593,134.9 L1594,133.3 L1595,131.8 L1596,130.5 L1597,129.4 L1598,128.3 L1599,127.5 L1600,126.8 L1601,126.2 L1602,125.8 L1603,125.6 L1604,125.5 L1605,125.5 L1606,125.7 L1607,126.1 L1608,126.6 L1609,127.3 L1610,128.1 L1611,129.1 L1612,130.2 L1613,131.4 L1614,132.8 L1615,134.4 L1616,136.1 L1617,137.9 L1618,139.8 L1619,141.9 L1620,144.1 L1621,146.4 L1622,148.8 L1623,151.3 L1624,153.9 L1625,156.7 L1626,159.5 L1627,162.4 L1628,165.4 L1629,168.5 L1630,171.6 L1631,174.8 L1632,178.1 L1633,181.4 L1634,184.8 L1635,188.3 L1636,191.7 L1637,195.2 L1638,198.7 L1639,202.2 L1640,205.8 L1641,209.3 L1642,212.9 L1643,216.4 L1644,219.9 L1645,223.4 L1646,226.9 L1647,230.4 L1648,233.8 L1649,237.2 L1650,240.5 L1651,243.7 L1652,246.9 L1653,250.1 L1654,253.2 L1655,256.2 L1656,259.1 L1657,261.9 L1658,264.7 L1659,267.3 L1660,269.9 L1661,272.3 L1662,274.7 L1663,277 L1664,279.1 L1665,281.1 L1666,283.1 L1667,284.9 L1668,286.6 L1669,288.2 L1670,289.6 L1671,291 L1672,292.2 L1673,293.3 L1674,294.2 L1675,295.1 L1676,295.8 L1677,296.5 L1678,296.9 L1679,297.3 L1680,297.6 L1681,297.7 L1682,297.8 L1683,297.7 L1684,297.5 L1685,297.2 L1686,296.8 L1687,296.3 L1688,295.7 L1689,295 L1690,294.2 L1691,293.3 L1692,292.3 L1693,291.3 L1694,290.2 L1695,289 L1696,287.7 L1697,286.4 L1698,285 L1699,283.5 L1700,282 L1701,280.5 L1702,278.9 L1703,277.2 L1704,275.6 L1705,273.9 L1706,272.1 L1707,270.4 L1708,268.6 L1709,266.9 L1710,265.1 L1711,263.3 L1712,261.5 L1713,259.8 L1714,258 L1715,256.2 L1716,254.5 L1717,252.8 L1718,251.2 L1719,249.5 L1720,247.9 L1721,246.4 L1722,244.8 L1723,243.4 L1724,241.9 L1725,240.6 L1726,239.3 L1727,238 L1728,236.8 L1729,235.7 L1730,234.7 L1731,233.7 L1732,232.8 L1733,232 L1734,231.2 L1735,230.5 L1736,230 L1737,229.5 L1738,229.1 L1739,228.7 L1740,228.5 L1741,228.3 L1742,228.3 L1743,228.3 L1744,228.4 L1745,228.7 L1746,229 L1747,229.4 L1748,229.9 L1749,230.5 L1750,231.2 L1751,232 L1752,232.9 L1753,233.8 L1754,234.9 L1755,236.1 L1756,237.3 L1757,238.7 L1758,240.1 L1759,241.6 L1760,243.3 L1761,245 L1762,246.8 L1763,248.6 L1764,250.6 L1765,252.6 L1766,254.8 L1767,257 L1768,259.3 L1769,261.6 L1770,264.1 L1771,266.6 L1772,269.2 L1773,271.8 L1774,274.5 L1775,277.3 L1776,280.2 L1777,283.1 L1778,286.1 L1779,289.1 L1780,292.2 L1781,295.3 L1782,298.5 L1783,301.8 L1784,305.1 L1785,308.4 L1786,311.8 L1787,315.2 L1788,318.7 L1789,322.2 L1790,325.8 L1791,329.3 L1792,332.9 L1793,336.6 L1794,340.2 L1795,343.9 L1796,347.6 L1797,351.4 L1798,355.1 L1799,358.9 L1800,362.7 L1801,366.5 L1802,370.3 L1803,374.1 L1804,377.9 L1805,381.7 L1806,385.6 L1807,389.4 L1808,393.2 L1809,397 L1810,400.9 L1811,404.7 L1812,408.5 L1813,412.3 L1814,416.1 L1815,419.9 L1816,423.6 L1817,427.4 L1818,431.1 L1819,434.8 L1820,438.5 L1821,442.2 L1822,445.8 L1823,449.4 L1824,453 L1825,456.6 L1826,460.1 L1827,463.6 L1828,467.1 L1829,470.5 L1830,473.9 L1831,477.3 L1832,480.6 L1833,484 L1834,487.2 L1835,490.4 L1836,493.6 L1837,496.8 L1838,499.9 L1839,503 L1840,506 L1841,509 L1842,511.9 L1843,514.8 L1844,517.7 L1845,520.5 L1846,523.3 L1847,526 L1848,528.7 L1849,531.3 L1850,533.9 L1851,536.4 L1852,538.9 L1853,541.4 L1854,543.8 L1855,546.1 L1856,548.4 L1857,550.7 L1858,552.9 L1859,555.1 L1860,557.2 L1861,559.3 L1862,561.3 L1863,563.3 L1864,565.3 L1865,567.2 L1866,569 L1867,570.9 L1868,572.6 L1869,574.4 L1870,576 L1871,577.7 L1872,579.3 L1873,580.8 L1874,582.4 L1875,583.8 L1876,585.3 L1877,586.7 L1878,588 L1879,589.4 L1880,590.6 L1881,591.9 L1882,593.1 L1883,594.3 L1884,595.4 L1885,596.5 L1886,597.6 L1887,598.6 L1888,599.6 L1889,600.6 L1890,601.6 L1891,602.5 L1892,603.4 L1893,604.2 L1894,605 L1895,605.8 L1896,606.6 L1897,607.3 L1898,608.1 L1899,608.8 L1900,609.4 L1901,610.1 L1902,610.7 L1903,611.3 L1904,611.9 L1905,612.4 L1906,612.9 L1907,613.5 L1908,613.9 L1909,614.4 L1910,614.9 L1911,615.3 L1912,615.7 L1913,616.1 L1914,616.5 L1915,616.9 L1916,617.2 L1917,617.6 L1918,617.9 L1919,618.2 L1920,618.5 L1921,618.8 L1922,619.1 L1923,619.3 L1924,619.6 L1925,619.8 L1926,620.1 L1927,620.3 L1928,620.5 L1929,620.7 L1930,620.9 L1931,621 L1932,621.2 L1933,621.4 L1934,621.5 L1935,621.7 L1936,621.8 L1937,622 L1938,622.1 L1939,622.2 L1940,622.3 L1941,622.4 L1942,622.5 L1943,622.6 L1944,622.7 L1945,622.8 L1946,622.9 L1947,623 L1948,623.1 L1949,623.1 L1950,623.2 L1951,623.3 L1952,623.3 L1953,623.4 L1954,623.4 L1955,623.5 L1956,623.5 L1957,623.6 L1958,623.6 L1959,623.7 L1960,623.7 L1961,623.7 L1962,623.8 L1963,623.8 L1964,623.8 L1965,623.9 L1966,623.9 L1967,623.9 L1968,623.9 L1969,624 L1970,624 L1971,624 L1972,624 L1973,624 L1974,624.1 L1975,624.1 L1976,624.1 L1977,624.1 L1978,624.1 L1979,624.1 L1980,624.1 L1981,624.2 L1982,624.2 L1983,624.2 L1984,624.2 L1985,624.2 L1986,624.2 L1987,624.2 L1988,624.2 L1989,624.2 L1990,624.2 L1991,624.2 L1992,624.2 L1993,624.2 L1994,624.2 L1995,624.2 L1996,624.3 L1997,624.3 L1998,624.3 L1999,624.3 L2000,624.3 L2001,624.3 L2002,624.3 L2003,624.3 L2004,624.3 L2005,624.3 L2006,624.3 L2007,624.3 L2008,624.3 L2009,624.3 L2010,624.3 L2011,624.3 L2012,624.3 L2013,624.3 L2014,624.3 L2015,624.3 L2016,624.3 L2017,624.3 L2018,624.3 L2019,624.3 L2020,624.3 L2021,624.3 L2022,624.3 L2023,624.3 L2024,624.3 L2025,624.3 L2026,624.3 L2027,624.3 L2028,624.3 L2029,624.3 L2030,624.3 L2031,624.3 L2032,624.3 L2033,624.3 L2034,624.3 L2035,624.3 L2036,624.3 L2037,624.3 L2038,624.3 L2039,624.3 L2040,624.3 L2041,624.3 L2042,624.3 L2043,624.3 L2044,624.3 L2045,624.3 L2046,624.3 L2047,624.3 L2048,624.3 L2049,624.3 L2050,624.3 L2051,624.3 L2052,624.3 L2053,624.3 L2054,624.3 L2055,624.3 L2056,624.3 L2057,624.3 L2058,624.3 L2059,624.3" fill="none" stroke="#e8206c" stroke-width="2.6" stroke-linejoin="round" stroke-linecap="round" stroke-dasharray="13 8"/>
<path d="M1243,623.9 L1252,623.8 L1261,622.7 L1270,624 L1279,622.2 L1288,623.4 L1297,621.7 L1306,620.8 L1315,618.8 L1324,618.3 L1333,617.1 L1342,613.6 L1351,611 L1360,609.9 L1369,605.4 L1378,602.2 L1387,597 L1396,591.3 L1405,586.1 L1414,577.4 L1423,569.9 L1432,560.3 L1441,549.1 L1450,539 L1459,525.8 L1468,510 L1477,494.5 L1486,477.9 L1495,461.7 L1504,440 L1513,416 L1522,390.5 L1531,365.2 L1540,332.6 L1549,291.9 L1558,251.5 L1567,216.1 L1576,178.7 L1585,151.2 L1594,128.8 L1603,120.5 L1612,128.7 L1621,147.4 L1630,167 L1639,200 L1648,235 L1657,262.5 L1666,285.2 L1675,294.1 L1684,300.4 L1693,292 L1702,277.3 L1711,262.1 L1720,246.6 L1729,238.1 L1738,224.9 L1747,222.8 L1756,227.1 L1765,250.4 L1774,270.6 L1783,300.9 L1792,331.5 L1801,367.1 L1810,401.5 L1819,435.4 L1828,465.8 L1837,497.3 L1846,523.4 L1855,544.9 L1864,564.8 L1873,581 L1882,591.9 L1891,599.3 L1900,603.6 L1909,609.9 L1918,615 L1927,618.8 L1936,620 L1945,622.4 L1954,623.8 L1963,623.1 L1972,624.9 L1981,626.2 L1990,623.9 L1999,623.5 L2008,623.8 L2017,623.2 L2026,623.8 L2035,624.1 L2044,625 L2053,624.4" fill="none" stroke="#111" stroke-width="1.65" stroke-linejoin="round" stroke-linecap="round" />
<path d="M1243,624.3 L1244,624.3 L1245,624.3 L1246,624.3 L1247,624.3 L1248,624.3 L1249,624.3 L1250,624.3 L1251,624.3 L1252,624.3 L1253,624.3 L1254,624.3 L1255,624.3 L1256,624.3 L1257,624.3 L1258,624.3 L1259,624.3 L1260,624.3 L1261,624.3 L1262,624.3 L1263,624.3 L1264,624.3 L1265,624.3 L1266,624.3 L1267,624.3 L1268,624.3 L1269,624.3 L1270,624.3 L1271,624.3 L1272,624.3 L1273,624.3 L1274,624.3 L1275,624.3 L1276,624.3 L1277,624.3 L1278,624.3 L1279,624.3 L1280,624.3 L1281,624.3 L1282,624.3 L1283,624.3 L1284,624.3 L1285,624.3 L1286,624.3 L1287,624.3 L1288,624.3 L1289,624.3 L1290,624.3 L1291,624.3 L1292,624.3 L1293,624.3 L1294,624.3 L1295,624.3 L1296,624.3 L1297,624.3 L1298,624.3 L1299,624.3 L1300,624.3 L1301,624.3 L1302,624.3 L1303,624.3 L1304,624.3 L1305,624.3 L1306,624.3 L1307,624.3 L1308,624.3 L1309,624.3 L1310,624.3 L1311,624.3 L1312,624.3 L1313,624.3 L1314,624.3 L1315,624.3 L1316,624.3 L1317,624.3 L1318,624.3 L1319,624.3 L1320,624.3 L1321,624.3 L1322,624.3 L1323,624.3 L1324,624.3 L1325,624.3 L1326,624.3 L1327,624.3 L1328,624.3 L1329,624.3 L1330,624.3 L1331,624.3 L1332,624.3 L1333,624.3 L1334,624.3 L1335,624.3 L1336,624.3 L1337,624.3 L1338,624.3 L1339,624.3 L1340,624.3 L1341,624.3 L1342,624.3 L1343,624.3 L1344,624.3 L1345,624.3 L1346,624.3 L1347,624.3 L1348,624.3 L1349,624.3 L1350,624.3 L1351,624.3 L1352,624.3 L1353,624.3 L1354,624.3 L1355,624.3 L1356,624.3 L1357,624.3 L1358,624.3 L1359,624.3 L1360,624.3 L1361,624.3 L1362,624.3 L1363,624.3 L1364,624.3 L1365,624.3 L1366,624.3 L1367,624.3 L1368,624.3 L1369,624.3 L1370,624.3 L1371,624.3 L1372,624.3 L1373,624.3 L1374,624.3 L1375,624.3 L1376,624.3 L1377,624.3 L1378,624.3 L1379,624.3 L1380,624.3 L1381,624.3 L1382,624.3 L1383,624.3 L1384,624.3 L1385,624.3 L1386,624.3 L1387,624.3 L1388,624.3 L1389,624.3 L1390,624.3 L1391,624.3 L1392,624.3 L1393,624.3 L1394,624.3 L1395,624.3 L1396,624.3 L1397,624.3 L1398,624.3 L1399,624.3 L1400,624.3 L1401,624.3 L1402,624.3 L1403,624.3 L1404,624.3 L1405,624.3 L1406,624.3 L1407,624.3 L1408,624.3 L1409,624.3 L1410,624.3 L1411,624.3 L1412,624.3 L1413,624.3 L1414,624.3 L1415,624.3 L1416,624.3 L1417,624.3 L1418,624.3 L1419,624.3 L1420,624.3 L1421,624.3 L1422,624.3 L1423,624.3 L1424,624.3 L1425,624.3 L1426,624.3 L1427,624.3 L1428,624.3 L1429,624.3 L1430,624.3 L1431,624.3 L1432,624.3 L1433,624.3 L1434,624.3 L1435,624.3 L1436,624.3 L1437,624.3 L1438,624.3 L1439,624.3 L1440,624.3 L1441,624.3 L1442,624.3 L1443,624.3 L1444,624.3 L1445,624.3 L1446,624.3 L1447,624.3 L1448,624.3 L1449,624.3 L1450,624.3 L1451,624.3 L1452,624.3 L1453,624.3 L1454,624.3 L1455,624.3 L1456,624.3 L1457,624.3 L1458,624.3 L1459,624.3 L1460,624.3 L1461,624.3 L1462,624.3 L1463,624.3 L1464,624.3 L1465,624.3 L1466,624.3 L1467,624.3 L1468,624.3 L1469,624.3 L1470,624.3 L1471,624.3 L1472,624.3 L1473,624.3 L1474,624.3 L1475,624.3 L1476,624.3 L1477,624.3 L1478,624.3 L1479,624.3 L1480,624.3 L1481,624.3 L1482,624.3 L1483,624.3 L1484,624.3 L1485,624.3 L1486,624.3 L1487,624.3 L1488,624.3 L1489,624.3 L1490,624.3 L1491,624.3 L1492,624.3 L1493,624.3 L1494,624.3 L1495,624.3 L1496,624.3 L1497,624.3 L1498,624.3 L1499,624.3 L1500,624.3 L1501,624.3 L1502,624.3 L1503,624.3 L1504,624.3 L1505,624.3 L1506,624.3 L1507,624.3 L1508,624.3 L1509,624.3 L1510,624.3 L1511,624.3 L1512,624.3 L1513,624.3 L1514,624.3 L1515,624.3 L1516,624.3 L1517,624.3 L1518,624.3 L1519,624.3 L1520,624.3 L1521,624.3 L1522,624.3 L1523,624.3 L1524,624.3 L1525,624.3 L1526,624.3 L1527,624.3 L1528,624.3 L1529,624.3 L1530,624.3 L1531,624.3 L1532,624.3 L1533,624.3 L1534,624.3 L1535,624.3 L1536,624.3 L1537,624.3 L1538,624.3 L1539,624.3 L1540,624.2 L1541,624.2 L1542,624.2 L1543,624.2 L1544,624.2 L1545,624.2 L1546,624.2 L1547,624.2 L1548,624.2 L1549,624.2 L1550,624.2 L1551,624.2 L1552,624.2 L1553,624.2 L1554,624.2 L1555,624.1 L1556,624.1 L1557,624.1 L1558,624.1 L1559,624.1 L1560,624.1 L1561,624.1 L1562,624 L1563,624 L1564,624 L1565,624 L1566,624 L1567,623.9 L1568,623.9 L1569,623.9 L1570,623.9 L1571,623.8 L1572,623.8 L1573,623.8 L1574,623.7 L1575,623.7 L1576,623.7 L1577,623.6 L1578,623.6 L1579,623.5 L1580,623.5 L1581,623.4 L1582,623.4 L1583,623.3 L1584,623.3 L1585,623.2 L1586,623.1 L1587,623.1 L1588,623 L1589,622.9 L1590,622.8 L1591,622.7 L1592,622.6 L1593,622.5 L1594,622.4 L1595,622.3 L1596,622.2 L1597,622.1 L1598,621.9 L1599,621.8 L1600,621.7 L1601,621.5 L1602,621.4 L1603,621.2 L1604,621 L1605,620.8 L1606,620.6 L1607,620.4 L1608,620.2 L1609,620 L1610,619.8 L1611,619.5 L1612,619.3 L1613,619 L1614,618.8 L1615,618.5 L1616,618.2 L1617,617.9 L1618,617.5 L1619,617.2 L1620,616.8 L1621,616.5 L1622,616.1 L1623,615.7 L1624,615.2 L1625,614.8 L1626,614.4 L1627,613.9 L1628,613.4 L1629,612.9 L1630,612.3 L1631,611.8 L1632,611.2 L1633,610.6 L1634,610 L1635,609.4 L1636,608.7 L1637,608 L1638,607.3 L1639,606.5 L1640,605.8 L1641,605 L1642,604.2 L1643,603.3 L1644,602.4 L1645,601.5 L1646,600.6 L1647,599.6 L1648,598.6 L1649,597.6 L1650,596.5 L1651,595.4 L1652,594.3 L1653,593.1 L1654,592 L1655,590.7 L1656,589.5 L1657,588.2 L1658,586.8 L1659,585.4 L1660,584 L1661,582.6 L1662,581.1 L1663,579.6 L1664,578 L1665,576.4 L1666,574.8 L1667,573.1 L1668,571.4 L1669,569.6 L1670,567.8 L1671,566 L1672,564.1 L1673,562.2 L1674,560.2 L1675,558.2 L1676,556.2 L1677,554.1 L1678,552 L1679,549.8 L1680,547.6 L1681,545.4 L1682,543.1 L1683,540.8 L1684,538.5 L1685,536.1 L1686,533.7 L1687,531.2 L1688,528.7 L1689,526.2 L1690,523.6 L1691,521 L1692,518.4 L1693,515.8 L1694,513.1 L1695,510.4 L1696,507.6 L1697,504.8 L1698,502.1 L1699,499.2 L1700,496.4 L1701,493.5 L1702,490.7 L1703,487.8 L1704,484.8 L1705,481.9 L1706,479 L1707,476 L1708,473.1 L1709,470.1 L1710,467.1 L1711,464.1 L1712,461.1 L1713,458.1 L1714,455.1 L1715,452.2 L1716,449.2 L1717,446.2 L1718,443.3 L1719,440.3 L1720,437.4 L1721,434.4 L1722,431.5 L1723,428.7 L1724,425.8 L1725,423 L1726,420.2 L1727,417.4 L1728,414.6 L1729,411.9 L1730,409.2 L1731,406.6 L1732,404 L1733,401.4 L1734,398.9 L1735,396.5 L1736,394.1 L1737,391.7 L1738,389.4 L1739,387.1 L1740,384.9 L1741,382.8 L1742,380.7 L1743,378.7 L1744,376.7 L1745,374.9 L1746,373.1 L1747,371.3 L1748,369.6 L1749,368 L1750,366.5 L1751,365.1 L1752,363.7 L1753,362.4 L1754,361.2 L1755,360.1 L1756,359.1 L1757,358.1 L1758,357.2 L1759,356.4 L1760,355.7 L1761,355.1 L1762,354.6 L1763,354.2 L1764,353.8 L1765,353.6 L1766,353.4 L1767,353.3 L1768,353.3 L1769,353.4 L1770,353.6 L1771,353.9 L1772,354.2 L1773,354.7 L1774,355.2 L1775,355.9 L1776,356.6 L1777,357.4 L1778,358.3 L1779,359.3 L1780,360.3 L1781,361.5 L1782,362.7 L1783,364 L1784,365.4 L1785,366.8 L1786,368.4 L1787,370 L1788,371.7 L1789,373.4 L1790,375.2 L1791,377.1 L1792,379.1 L1793,381.1 L1794,383.2 L1795,385.4 L1796,387.6 L1797,389.8 L1798,392.2 L1799,394.5 L1800,397 L1801,399.4 L1802,402 L1803,404.5 L1804,407.1 L1805,409.8 L1806,412.5 L1807,415.2 L1808,417.9 L1809,420.7 L1810,423.5 L1811,426.4 L1812,429.2 L1813,432.1 L1814,435 L1815,438 L1816,440.9 L1817,443.8 L1818,446.8 L1819,449.8 L1820,452.8 L1821,455.7 L1822,458.7 L1823,461.7 L1824,464.7 L1825,467.7 L1826,470.7 L1827,473.6 L1828,476.6 L1829,479.6 L1830,482.5 L1831,485.4 L1832,488.3 L1833,491.2 L1834,494.1 L1835,497 L1836,499.8 L1837,502.6 L1838,505.4 L1839,508.2 L1840,510.9 L1841,513.6 L1842,516.3 L1843,518.9 L1844,521.6 L1845,524.1 L1846,526.7 L1847,529.2 L1848,531.7 L1849,534.1 L1850,536.6 L1851,538.9 L1852,541.3 L1853,543.6 L1854,545.8 L1855,548.1 L1856,550.3 L1857,552.4 L1858,554.5 L1859,556.6 L1860,558.6 L1861,560.6 L1862,562.6 L1863,564.5 L1864,566.3 L1865,568.2 L1866,570 L1867,571.7 L1868,573.4 L1869,575.1 L1870,576.7 L1871,578.3 L1872,579.9 L1873,581.4 L1874,582.9 L1875,584.3 L1876,585.7 L1877,587.1 L1878,588.4 L1879,589.7 L1880,591 L1881,592.2 L1882,593.4 L1883,594.5 L1884,595.7 L1885,596.7 L1886,597.8 L1887,598.8 L1888,599.8 L1889,600.8 L1890,601.7 L1891,602.6 L1892,603.5 L1893,604.3 L1894,605.1 L1895,605.9 L1896,606.7 L1897,607.4 L1898,608.1 L1899,608.8 L1900,609.5 L1901,610.1 L1902,610.7 L1903,611.3 L1904,611.9 L1905,612.4 L1906,613 L1907,613.5 L1908,614 L1909,614.4 L1910,614.9 L1911,615.3 L1912,615.7 L1913,616.1 L1914,616.5 L1915,616.9 L1916,617.3 L1917,617.6 L1918,617.9 L1919,618.2 L1920,618.5 L1921,618.8 L1922,619.1 L1923,619.3 L1924,619.6 L1925,619.8 L1926,620.1 L1927,620.3 L1928,620.5 L1929,620.7 L1930,620.9 L1931,621.1 L1932,621.2 L1933,621.4 L1934,621.5 L1935,621.7 L1936,621.8 L1937,622 L1938,622.1 L1939,622.2 L1940,622.3 L1941,622.4 L1942,622.5 L1943,622.6 L1944,622.7 L1945,622.8 L1946,622.9 L1947,623 L1948,623.1 L1949,623.1 L1950,623.2 L1951,623.3 L1952,623.3 L1953,623.4 L1954,623.4 L1955,623.5 L1956,623.5 L1957,623.6 L1958,623.6 L1959,623.7 L1960,623.7 L1961,623.7 L1962,623.8 L1963,623.8 L1964,623.8 L1965,623.9 L1966,623.9 L1967,623.9 L1968,623.9 L1969,624 L1970,624 L1971,624 L1972,624 L1973,624 L1974,624.1 L1975,624.1 L1976,624.1 L1977,624.1 L1978,624.1 L1979,624.1 L1980,624.1 L1981,624.2 L1982,624.2 L1983,624.2 L1984,624.2 L1985,624.2 L1986,624.2 L1987,624.2 L1988,624.2 L1989,624.2 L1990,624.2 L1991,624.2 L1992,624.2 L1993,624.2 L1994,624.2 L1995,624.2 L1996,624.3 L1997,624.3 L1998,624.3 L1999,624.3 L2000,624.3 L2001,624.3 L2002,624.3 L2003,624.3 L2004,624.3 L2005,624.3 L2006,624.3 L2007,624.3 L2008,624.3 L2009,624.3 L2010,624.3 L2011,624.3 L2012,624.3 L2013,624.3 L2014,624.3 L2015,624.3 L2016,624.3 L2017,624.3 L2018,624.3 L2019,624.3 L2020,624.3 L2021,624.3 L2022,624.3 L2023,624.3 L2024,624.3 L2025,624.3 L2026,624.3 L2027,624.3 L2028,624.3 L2029,624.3 L2030,624.3 L2031,624.3 L2032,624.3 L2033,624.3 L2034,624.3 L2035,624.3 L2036,624.3 L2037,624.3 L2038,624.3 L2039,624.3 L2040,624.3 L2041,624.3 L2042,624.3 L2043,624.3 L2044,624.3 L2045,624.3 L2046,624.3 L2047,624.3 L2048,624.3 L2049,624.3 L2050,624.3 L2051,624.3 L2052,624.3 L2053,624.3 L2054,624.3 L2055,624.3 L2056,624.3 L2057,624.3 L2058,624.3 L2059,624.3" fill="none" stroke="#dc3444" stroke-width="1.5" stroke-linejoin="round" stroke-linecap="round" />
<path d="M1243,624.3 L1244,624.3 L1245,624.3 L1246,624.3 L1247,624.3 L1248,624.3 L1249,624.3 L1250,624.3 L1251,624.3 L1252,624.3 L1253,624.3 L1254,624.3 L1255,624.3 L1256,624.3 L1257,624.3 L1258,624.3 L1259,624.3 L1260,624.3 L1261,624.3 L1262,624.3 L1263,624.3 L1264,624.3 L1265,624.3 L1266,624.3 L1267,624.3 L1268,624.3 L1269,624.3 L1270,624.3 L1271,624.3 L1272,624.3 L1273,624.3 L1274,624.3 L1275,624.3 L1276,624.3 L1277,624.3 L1278,624.3 L1279,624.3 L1280,624.3 L1281,624.3 L1282,624.3 L1283,624.3 L1284,624.3 L1285,624.3 L1286,624.3 L1287,624.3 L1288,624.3 L1289,624.3 L1290,624.3 L1291,624.3 L1292,624.3 L1293,624.3 L1294,624.3 L1295,624.3 L1296,624.3 L1297,624.3 L1298,624.3 L1299,624.3 L1300,624.3 L1301,624.3 L1302,624.3 L1303,624.3 L1304,624.3 L1305,624.3 L1306,624.3 L1307,624.3 L1308,624.3 L1309,624.3 L1310,624.3 L1311,624.3 L1312,624.3 L1313,624.3 L1314,624.3 L1315,624.3 L1316,624.3 L1317,624.3 L1318,624.3 L1319,624.3 L1320,624.3 L1321,624.3 L1322,624.3 L1323,624.3 L1324,624.3 L1325,624.3 L1326,624.3 L1327,624.3 L1328,624.3 L1329,624.3 L1330,624.3 L1331,624.3 L1332,624.3 L1333,624.3 L1334,624.3 L1335,624.3 L1336,624.3 L1337,624.3 L1338,624.3 L1339,624.3 L1340,624.3 L1341,624.3 L1342,624.3 L1343,624.3 L1344,624.3 L1345,624.3 L1346,624.3 L1347,624.3 L1348,624.3 L1349,624.3 L1350,624.3 L1351,624.3 L1352,624.3 L1353,624.3 L1354,624.3 L1355,624.3 L1356,624.3 L1357,624.3 L1358,624.3 L1359,624.3 L1360,624.3 L1361,624.3 L1362,624.3 L1363,624.3 L1364,624.3 L1365,624.3 L1366,624.3 L1367,624.3 L1368,624.3 L1369,624.3 L1370,624.3 L1371,624.3 L1372,624.3 L1373,624.3 L1374,624.3 L1375,624.3 L1376,624.3 L1377,624.3 L1378,624.3 L1379,624.3 L1380,624.3 L1381,624.3 L1382,624.3 L1383,624.3 L1384,624.3 L1385,624.3 L1386,624.3 L1387,624.3 L1388,624.3 L1389,624.3 L1390,624.3 L1391,624.3 L1392,624.3 L1393,624.3 L1394,624.3 L1395,624.3 L1396,624.3 L1397,624.3 L1398,624.3 L1399,624.3 L1400,624.3 L1401,624.3 L1402,624.3 L1403,624.3 L1404,624.3 L1405,624.3 L1406,624.3 L1407,624.3 L1408,624.3 L1409,624.3 L1410,624.3 L1411,624.3 L1412,624.3 L1413,624.3 L1414,624.3 L1415,624.3 L1416,624.3 L1417,624.3 L1418,624.3 L1419,624.3 L1420,624.3 L1421,624.3 L1422,624.3 L1423,624.3 L1424,624.3 L1425,624.3 L1426,624.3 L1427,624.3 L1428,624.3 L1429,624.3 L1430,624.3 L1431,624.3 L1432,624.3 L1433,624.3 L1434,624.3 L1435,624.3 L1436,624.3 L1437,624.3 L1438,624.3 L1439,624.3 L1440,624.3 L1441,624.3 L1442,624.3 L1443,624.3 L1444,624.3 L1445,624.3 L1446,624.3 L1447,624.3 L1448,624.3 L1449,624.3 L1450,624.3 L1451,624.3 L1452,624.3 L1453,624.3 L1454,624.3 L1455,624.3 L1456,624.3 L1457,624.3 L1458,624.3 L1459,624.3 L1460,624.3 L1461,624.3 L1462,624.3 L1463,624.3 L1464,624.3 L1465,624.3 L1466,624.3 L1467,624.3 L1468,624.3 L1469,624.3 L1470,624.3 L1471,624.3 L1472,624.3 L1473,624.3 L1474,624.3 L1475,624.3 L1476,624.3 L1477,624.3 L1478,624.3 L1479,624.3 L1480,624.3 L1481,624.3 L1482,624.3 L1483,624.3 L1484,624.3 L1485,624.3 L1486,624.3 L1487,624.3 L1488,624.3 L1489,624.3 L1490,624.3 L1491,624.3 L1492,624.3 L1493,624.3 L1494,624.3 L1495,624.3 L1496,624.3 L1497,624.3 L1498,624.3 L1499,624.3 L1500,624.3 L1501,624.3 L1502,624.3 L1503,624.3 L1504,624.3 L1505,624.3 L1506,624.3 L1507,624.3 L1508,624.3 L1509,624.3 L1510,624.3 L1511,624.3 L1512,624.3 L1513,624.3 L1514,624.3 L1515,624.3 L1516,624.3 L1517,624.3 L1518,624.3 L1519,624.3 L1520,624.3 L1521,624.3 L1522,624.3 L1523,624.3 L1524,624.3 L1525,624.3 L1526,624.3 L1527,624.3 L1528,624.3 L1529,624.3 L1530,624.3 L1531,624.3 L1532,624.3 L1533,624.3 L1534,624.3 L1535,624.3 L1536,624.3 L1537,624.2 L1538,624.2 L1539,624.2 L1540,624.2 L1541,624.2 L1542,624.2 L1543,624.2 L1544,624.2 L1545,624.2 L1546,624.2 L1547,624.2 L1548,624.2 L1549,624.2 L1550,624.1 L1551,624.1 L1552,624.1 L1553,624.1 L1554,624.1 L1555,624.1 L1556,624 L1557,624 L1558,624 L1559,624 L1560,624 L1561,623.9 L1562,623.9 L1563,623.9 L1564,623.8 L1565,623.8 L1566,623.7 L1567,623.7 L1568,623.7 L1569,623.6 L1570,623.6 L1571,623.5 L1572,623.4 L1573,623.4 L1574,623.3 L1575,623.2 L1576,623.2 L1577,623.1 L1578,623 L1579,622.9 L1580,622.8 L1581,622.7 L1582,622.6 L1583,622.5 L1584,622.4 L1585,622.2 L1586,622.1 L1587,622 L1588,621.8 L1589,621.6 L1590,621.5 L1591,621.3 L1592,621.1 L1593,620.9 L1594,620.7 L1595,620.4 L1596,620.2 L1597,620 L1598,619.7 L1599,619.4 L1600,619.1 L1601,618.8 L1602,618.5 L1603,618.2 L1604,617.8 L1605,617.4 L1606,617 L1607,616.6 L1608,616.2 L1609,615.8 L1610,615.3 L1611,614.8 L1612,614.3 L1613,613.8 L1614,613.2 L1615,612.6 L1616,612 L1617,611.4 L1618,610.8 L1619,610.1 L1620,609.4 L1621,608.6 L1622,607.9 L1623,607.1 L1624,606.3 L1625,605.4 L1626,604.6 L1627,603.7 L1628,602.7 L1629,601.8 L1630,600.7 L1631,599.7 L1632,598.6 L1633,597.5 L1634,596.4 L1635,595.2 L1636,594 L1637,592.8 L1638,591.5 L1639,590.2 L1640,588.9 L1641,587.5 L1642,586.1 L1643,584.6 L1644,583.2 L1645,581.6 L1646,580.1 L1647,578.5 L1648,576.9 L1649,575.2 L1650,573.5 L1651,571.8 L1652,570.1 L1653,568.3 L1654,566.5 L1655,564.6 L1656,562.7 L1657,560.8 L1658,558.9 L1659,557 L1660,555 L1661,553 L1662,551 L1663,548.9 L1664,546.8 L1665,544.8 L1666,542.6 L1667,540.5 L1668,538.4 L1669,536.3 L1670,534.1 L1671,531.9 L1672,529.8 L1673,527.6 L1674,525.4 L1675,523.3 L1676,521.1 L1677,518.9 L1678,516.8 L1679,514.6 L1680,512.5 L1681,510.3 L1682,508.2 L1683,506.1 L1684,504.1 L1685,502 L1686,500 L1687,498 L1688,496 L1689,494.1 L1690,492.2 L1691,490.3 L1692,488.5 L1693,486.7 L1694,485 L1695,483.3 L1696,481.7 L1697,480.1 L1698,478.5 L1699,477 L1700,475.6 L1701,474.2 L1702,472.9 L1703,471.7 L1704,470.5 L1705,469.4 L1706,468.3 L1707,467.3 L1708,466.4 L1709,465.6 L1710,464.8 L1711,464.1 L1712,463.5 L1713,463 L1714,462.5 L1715,462.1 L1716,461.8 L1717,461.5 L1718,461.4 L1719,461.3 L1720,461.3 L1721,461.4 L1722,461.5 L1723,461.8 L1724,462.1 L1725,462.5 L1726,463 L1727,463.5 L1728,464.1 L1729,464.8 L1730,465.6 L1731,466.4 L1732,467.3 L1733,468.3 L1734,469.4 L1735,470.5 L1736,471.7 L1737,472.9 L1738,474.2 L1739,475.6 L1740,477 L1741,478.5 L1742,480.1 L1743,481.7 L1744,483.3 L1745,485 L1746,486.7 L1747,488.5 L1748,490.3 L1749,492.2 L1750,494.1 L1751,496 L1752,498 L1753,500 L1754,502 L1755,504.1 L1756,506.1 L1757,508.2 L1758,510.3 L1759,512.5 L1760,514.6 L1761,516.8 L1762,518.9 L1763,521.1 L1764,523.3 L1765,525.4 L1766,527.6 L1767,529.8 L1768,531.9 L1769,534.1 L1770,536.3 L1771,538.4 L1772,540.5 L1773,542.6 L1774,544.8 L1775,546.8 L1776,548.9 L1777,551 L1778,553 L1779,555 L1780,557 L1781,558.9 L1782,560.8 L1783,562.7 L1784,564.6 L1785,566.5 L1786,568.3 L1787,570.1 L1788,571.8 L1789,573.5 L1790,575.2 L1791,576.9 L1792,578.5 L1793,580.1 L1794,581.6 L1795,583.2 L1796,584.6 L1797,586.1 L1798,587.5 L1799,588.9 L1800,590.2 L1801,591.5 L1802,592.8 L1803,594 L1804,595.2 L1805,596.4 L1806,597.5 L1807,598.6 L1808,599.7 L1809,600.7 L1810,601.8 L1811,602.7 L1812,603.7 L1813,604.6 L1814,605.4 L1815,606.3 L1816,607.1 L1817,607.9 L1818,608.6 L1819,609.4 L1820,610.1 L1821,610.8 L1822,611.4 L1823,612 L1824,612.6 L1825,613.2 L1826,613.8 L1827,614.3 L1828,614.8 L1829,615.3 L1830,615.8 L1831,616.2 L1832,616.6 L1833,617 L1834,617.4 L1835,617.8 L1836,618.2 L1837,618.5 L1838,618.8 L1839,619.1 L1840,619.4 L1841,619.7 L1842,620 L1843,620.2 L1844,620.4 L1845,620.7 L1846,620.9 L1847,621.1 L1848,621.3 L1849,621.5 L1850,621.6 L1851,621.8 L1852,622 L1853,622.1 L1854,622.2 L1855,622.4 L1856,622.5 L1857,622.6 L1858,622.7 L1859,622.8 L1860,622.9 L1861,623 L1862,623.1 L1863,623.2 L1864,623.2 L1865,623.3 L1866,623.4 L1867,623.4 L1868,623.5 L1869,623.6 L1870,623.6 L1871,623.7 L1872,623.7 L1873,623.7 L1874,623.8 L1875,623.8 L1876,623.9 L1877,623.9 L1878,623.9 L1879,624 L1880,624 L1881,624 L1882,624 L1883,624 L1884,624.1 L1885,624.1 L1886,624.1 L1887,624.1 L1888,624.1 L1889,624.1 L1890,624.2 L1891,624.2 L1892,624.2 L1893,624.2 L1894,624.2 L1895,624.2 L1896,624.2 L1897,624.2 L1898,624.2 L1899,624.2 L1900,624.2 L1901,624.2 L1902,624.2 L1903,624.3 L1904,624.3 L1905,624.3 L1906,624.3 L1907,624.3 L1908,624.3 L1909,624.3 L1910,624.3 L1911,624.3 L1912,624.3 L1913,624.3 L1914,624.3 L1915,624.3 L1916,624.3 L1917,624.3 L1918,624.3 L1919,624.3 L1920,624.3 L1921,624.3 L1922,624.3 L1923,624.3 L1924,624.3 L1925,624.3 L1926,624.3 L1927,624.3 L1928,624.3 L1929,624.3 L1930,624.3 L1931,624.3 L1932,624.3 L1933,624.3 L1934,624.3 L1935,624.3 L1936,624.3 L1937,624.3 L1938,624.3 L1939,624.3 L1940,624.3 L1941,624.3 L1942,624.3 L1943,624.3 L1944,624.3 L1945,624.3 L1946,624.3 L1947,624.3 L1948,624.3 L1949,624.3 L1950,624.3 L1951,624.3 L1952,624.3 L1953,624.3 L1954,624.3 L1955,624.3 L1956,624.3 L1957,624.3 L1958,624.3 L1959,624.3 L1960,624.3 L1961,624.3 L1962,624.3 L1963,624.3 L1964,624.3 L1965,624.3 L1966,624.3 L1967,624.3 L1968,624.3 L1969,624.3 L1970,624.3 L1971,624.3 L1972,624.3 L1973,624.3 L1974,624.3 L1975,624.3 L1976,624.3 L1977,624.3 L1978,624.3 L1979,624.3 L1980,624.3 L1981,624.3 L1982,624.3 L1983,624.3 L1984,624.3 L1985,624.3 L1986,624.3 L1987,624.3 L1988,624.3 L1989,624.3 L1990,624.3 L1991,624.3 L1992,624.3 L1993,624.3 L1994,624.3 L1995,624.3 L1996,624.3 L1997,624.3 L1998,624.3 L1999,624.3 L2000,624.3 L2001,624.3 L2002,624.3 L2003,624.3 L2004,624.3 L2005,624.3 L2006,624.3 L2007,624.3 L2008,624.3 L2009,624.3 L2010,624.3 L2011,624.3 L2012,624.3 L2013,624.3 L2014,624.3 L2015,624.3 L2016,624.3 L2017,624.3 L2018,624.3 L2019,624.3 L2020,624.3 L2021,624.3 L2022,624.3 L2023,624.3 L2024,624.3 L2025,624.3 L2026,624.3 L2027,624.3 L2028,624.3 L2029,624.3 L2030,624.3 L2031,624.3 L2032,624.3 L2033,624.3 L2034,624.3 L2035,624.3 L2036,624.3 L2037,624.3 L2038,624.3 L2039,624.3 L2040,624.3 L2041,624.3 L2042,624.3 L2043,624.3 L2044,624.3 L2045,624.3 L2046,624.3 L2047,624.3 L2048,624.3 L2049,624.3 L2050,624.3 L2051,624.3 L2052,624.3 L2053,624.3 L2054,624.3 L2055,624.3 L2056,624.3 L2057,624.3 L2058,624.3 L2059,624.3" fill="none" stroke="#ec8438" stroke-width="1.5" stroke-linejoin="round" stroke-linecap="round" />
<path d="M1243,624.3 L1244,624.3 L1245,624.3 L1246,624.3 L1247,624.3 L1248,624.3 L1249,624.3 L1250,624.3 L1251,624.3 L1252,624.3 L1253,624.3 L1254,624.3 L1255,624.3 L1256,624.3 L1257,624.3 L1258,624.3 L1259,624.3 L1260,624.3 L1261,624.3 L1262,624.3 L1263,624.3 L1264,624.3 L1265,624.3 L1266,624.3 L1267,624.3 L1268,624.3 L1269,624.3 L1270,624.3 L1271,624.3 L1272,624.3 L1273,624.3 L1274,624.3 L1275,624.3 L1276,624.3 L1277,624.3 L1278,624.3 L1279,624.3 L1280,624.3 L1281,624.3 L1282,624.3 L1283,624.3 L1284,624.3 L1285,624.3 L1286,624.3 L1287,624.3 L1288,624.3 L1289,624.3 L1290,624.3 L1291,624.3 L1292,624.3 L1293,624.3 L1294,624.3 L1295,624.3 L1296,624.3 L1297,624.3 L1298,624.3 L1299,624.3 L1300,624.3 L1301,624.3 L1302,624.3 L1303,624.3 L1304,624.3 L1305,624.3 L1306,624.3 L1307,624.3 L1308,624.3 L1309,624.3 L1310,624.3 L1311,624.3 L1312,624.3 L1313,624.3 L1314,624.3 L1315,624.3 L1316,624.3 L1317,624.3 L1318,624.3 L1319,624.3 L1320,624.3 L1321,624.3 L1322,624.3 L1323,624.3 L1324,624.3 L1325,624.3 L1326,624.3 L1327,624.3 L1328,624.3 L1329,624.3 L1330,624.3 L1331,624.3 L1332,624.3 L1333,624.3 L1334,624.3 L1335,624.3 L1336,624.3 L1337,624.3 L1338,624.3 L1339,624.3 L1340,624.3 L1341,624.3 L1342,624.3 L1343,624.3 L1344,624.3 L1345,624.3 L1346,624.3 L1347,624.3 L1348,624.3 L1349,624.3 L1350,624.3 L1351,624.3 L1352,624.3 L1353,624.3 L1354,624.3 L1355,624.3 L1356,624.3 L1357,624.3 L1358,624.3 L1359,624.3 L1360,624.3 L1361,624.3 L1362,624.3 L1363,624.3 L1364,624.3 L1365,624.3 L1366,624.3 L1367,624.3 L1368,624.3 L1369,624.3 L1370,624.3 L1371,624.3 L1372,624.3 L1373,624.3 L1374,624.3 L1375,624.3 L1376,624.3 L1377,624.3 L1378,624.3 L1379,624.3 L1380,624.3 L1381,624.3 L1382,624.3 L1383,624.3 L1384,624.3 L1385,624.3 L1386,624.3 L1387,624.3 L1388,624.3 L1389,624.3 L1390,624.3 L1391,624.3 L1392,624.3 L1393,624.3 L1394,624.3 L1395,624.3 L1396,624.3 L1397,624.3 L1398,624.3 L1399,624.3 L1400,624.3 L1401,624.3 L1402,624.3 L1403,624.3 L1404,624.3 L1405,624.3 L1406,624.3 L1407,624.3 L1408,624.3 L1409,624.3 L1410,624.3 L1411,624.3 L1412,624.3 L1413,624.3 L1414,624.3 L1415,624.3 L1416,624.3 L1417,624.2 L1418,624.2 L1419,624.2 L1420,624.2 L1421,624.2 L1422,624.2 L1423,624.2 L1424,624.2 L1425,624.2 L1426,624.2 L1427,624.2 L1428,624.2 L1429,624.1 L1430,624.1 L1431,624.1 L1432,624.1 L1433,624.1 L1434,624.1 L1435,624 L1436,624 L1437,624 L1438,624 L1439,623.9 L1440,623.9 L1441,623.9 L1442,623.9 L1443,623.8 L1444,623.8 L1445,623.7 L1446,623.7 L1447,623.6 L1448,623.6 L1449,623.5 L1450,623.5 L1451,623.4 L1452,623.3 L1453,623.3 L1454,623.2 L1455,623.1 L1456,623 L1457,622.9 L1458,622.8 L1459,622.7 L1460,622.5 L1461,622.4 L1462,622.3 L1463,622.1 L1464,622 L1465,621.8 L1466,621.6 L1467,621.4 L1468,621.2 L1469,621 L1470,620.8 L1471,620.6 L1472,620.3 L1473,620 L1474,619.7 L1475,619.4 L1476,619.1 L1477,618.8 L1478,618.4 L1479,618 L1480,617.6 L1481,617.2 L1482,616.7 L1483,616.3 L1484,615.8 L1485,615.2 L1486,614.7 L1487,614.1 L1488,613.5 L1489,612.8 L1490,612.2 L1491,611.4 L1492,610.7 L1493,609.9 L1494,609.1 L1495,608.2 L1496,607.3 L1497,606.4 L1498,605.4 L1499,604.4 L1500,603.3 L1501,602.1 L1502,601 L1503,599.7 L1504,598.5 L1505,597.1 L1506,595.7 L1507,594.3 L1508,592.8 L1509,591.2 L1510,589.6 L1511,587.9 L1512,586.1 L1513,584.3 L1514,582.4 L1515,580.5 L1516,578.5 L1517,576.4 L1518,574.2 L1519,572 L1520,569.7 L1521,567.3 L1522,564.8 L1523,562.3 L1524,559.7 L1525,557 L1526,554.2 L1527,551.4 L1528,548.4 L1529,545.4 L1530,542.3 L1531,539.2 L1532,535.9 L1533,532.6 L1534,529.2 L1535,525.7 L1536,522.1 L1537,518.5 L1538,514.8 L1539,511 L1540,507.1 L1541,503.2 L1542,499.1 L1543,495 L1544,490.9 L1545,486.6 L1546,482.3 L1547,478 L1548,473.6 L1549,469.1 L1550,464.5 L1551,459.9 L1552,455.3 L1553,450.6 L1554,445.9 L1555,441.1 L1556,436.3 L1557,431.4 L1558,426.5 L1559,421.6 L1560,416.7 L1561,411.8 L1562,406.8 L1563,401.8 L1564,396.9 L1565,391.9 L1566,386.9 L1567,381.9 L1568,377 L1569,372.1 L1570,367.2 L1571,362.3 L1572,357.5 L1573,352.7 L1574,347.9 L1575,343.2 L1576,338.6 L1577,334 L1578,329.5 L1579,325 L1580,320.7 L1581,316.4 L1582,312.2 L1583,308.1 L1584,304.1 L1585,300.3 L1586,296.5 L1587,292.8 L1588,289.3 L1589,285.9 L1590,282.6 L1591,279.4 L1592,276.4 L1593,273.5 L1594,270.8 L1595,268.2 L1596,265.8 L1597,263.5 L1598,261.4 L1599,259.4 L1600,257.7 L1601,256 L1602,254.6 L1603,253.3 L1604,252.2 L1605,251.3 L1606,250.5 L1607,250 L1608,249.6 L1609,249.3 L1610,249.3 L1611,249.5 L1612,249.8 L1613,250.3 L1614,251 L1615,251.8 L1616,252.8 L1617,254.1 L1618,255.4 L1619,257 L1620,258.7 L1621,260.6 L1622,262.6 L1623,264.8 L1624,267.2 L1625,269.7 L1626,272.4 L1627,275.2 L1628,278.2 L1629,281.3 L1630,284.5 L1631,287.9 L1632,291.4 L1633,295 L1634,298.7 L1635,302.6 L1636,306.5 L1637,310.6 L1638,314.7 L1639,319 L1640,323.3 L1641,327.7 L1642,332.2 L1643,336.7 L1644,341.4 L1645,346 L1646,350.8 L1647,355.5 L1648,360.4 L1649,365.2 L1650,370.1 L1651,375 L1652,380 L1653,384.9 L1654,389.9 L1655,394.9 L1656,399.8 L1657,404.8 L1658,409.8 L1659,414.7 L1660,419.7 L1661,424.6 L1662,429.5 L1663,434.3 L1664,439.2 L1665,444 L1666,448.7 L1667,453.4 L1668,458.1 L1669,462.7 L1670,467.3 L1671,471.8 L1672,476.2 L1673,480.6 L1674,484.9 L1675,489.2 L1676,493.4 L1677,497.5 L1678,501.6 L1679,505.5 L1680,509.4 L1681,513.3 L1682,517 L1683,520.7 L1684,524.3 L1685,527.8 L1686,531.2 L1687,534.6 L1688,537.9 L1689,541.1 L1690,544.2 L1691,547.2 L1692,550.2 L1693,553.1 L1694,555.9 L1695,558.6 L1696,561.3 L1697,563.8 L1698,566.3 L1699,568.7 L1700,571.1 L1701,573.3 L1702,575.5 L1703,577.6 L1704,579.7 L1705,581.7 L1706,583.6 L1707,585.4 L1708,587.2 L1709,588.9 L1710,590.6 L1711,592.2 L1712,593.7 L1713,595.2 L1714,596.6 L1715,597.9 L1716,599.2 L1717,600.5 L1718,601.7 L1719,602.8 L1720,603.9 L1721,605 L1722,606 L1723,606.9 L1724,607.9 L1725,608.7 L1726,609.6 L1727,610.4 L1728,611.1 L1729,611.9 L1730,612.6 L1731,613.2 L1732,613.9 L1733,614.5 L1734,615 L1735,615.6 L1736,616.1 L1737,616.6 L1738,617 L1739,617.4 L1740,617.9 L1741,618.3 L1742,618.6 L1743,619 L1744,619.3 L1745,619.6 L1746,619.9 L1747,620.2 L1748,620.5 L1749,620.7 L1750,620.9 L1751,621.2 L1752,621.4 L1753,621.6 L1754,621.7 L1755,621.9 L1756,622.1 L1757,622.2 L1758,622.4 L1759,622.5 L1760,622.6 L1761,622.7 L1762,622.8 L1763,622.9 L1764,623 L1765,623.1 L1766,623.2 L1767,623.3 L1768,623.4 L1769,623.4 L1770,623.5 L1771,623.6 L1772,623.6 L1773,623.7 L1774,623.7 L1775,623.8 L1776,623.8 L1777,623.8 L1778,623.9 L1779,623.9 L1780,623.9 L1781,624 L1782,624 L1783,624 L1784,624 L1785,624.1 L1786,624.1 L1787,624.1 L1788,624.1 L1789,624.1 L1790,624.1 L1791,624.2 L1792,624.2 L1793,624.2 L1794,624.2 L1795,624.2 L1796,624.2 L1797,624.2 L1798,624.2 L1799,624.2 L1800,624.2 L1801,624.2 L1802,624.2 L1803,624.3 L1804,624.3 L1805,624.3 L1806,624.3 L1807,624.3 L1808,624.3 L1809,624.3 L1810,624.3 L1811,624.3 L1812,624.3 L1813,624.3 L1814,624.3 L1815,624.3 L1816,624.3 L1817,624.3 L1818,624.3 L1819,624.3 L1820,624.3 L1821,624.3 L1822,624.3 L1823,624.3 L1824,624.3 L1825,624.3 L1826,624.3 L1827,624.3 L1828,624.3 L1829,624.3 L1830,624.3 L1831,624.3 L1832,624.3 L1833,624.3 L1834,624.3 L1835,624.3 L1836,624.3 L1837,624.3 L1838,624.3 L1839,624.3 L1840,624.3 L1841,624.3 L1842,624.3 L1843,624.3 L1844,624.3 L1845,624.3 L1846,624.3 L1847,624.3 L1848,624.3 L1849,624.3 L1850,624.3 L1851,624.3 L1852,624.3 L1853,624.3 L1854,624.3 L1855,624.3 L1856,624.3 L1857,624.3 L1858,624.3 L1859,624.3 L1860,624.3 L1861,624.3 L1862,624.3 L1863,624.3 L1864,624.3 L1865,624.3 L1866,624.3 L1867,624.3 L1868,624.3 L1869,624.3 L1870,624.3 L1871,624.3 L1872,624.3 L1873,624.3 L1874,624.3 L1875,624.3 L1876,624.3 L1877,624.3 L1878,624.3 L1879,624.3 L1880,624.3 L1881,624.3 L1882,624.3 L1883,624.3 L1884,624.3 L1885,624.3 L1886,624.3 L1887,624.3 L1888,624.3 L1889,624.3 L1890,624.3 L1891,624.3 L1892,624.3 L1893,624.3 L1894,624.3 L1895,624.3 L1896,624.3 L1897,624.3 L1898,624.3 L1899,624.3 L1900,624.3 L1901,624.3 L1902,624.3 L1903,624.3 L1904,624.3 L1905,624.3 L1906,624.3 L1907,624.3 L1908,624.3 L1909,624.3 L1910,624.3 L1911,624.3 L1912,624.3 L1913,624.3 L1914,624.3 L1915,624.3 L1916,624.3 L1917,624.3 L1918,624.3 L1919,624.3 L1920,624.3 L1921,624.3 L1922,624.3 L1923,624.3 L1924,624.3 L1925,624.3 L1926,624.3 L1927,624.3 L1928,624.3 L1929,624.3 L1930,624.3 L1931,624.3 L1932,624.3 L1933,624.3 L1934,624.3 L1935,624.3 L1936,624.3 L1937,624.3 L1938,624.3 L1939,624.3 L1940,624.3 L1941,624.3 L1942,624.3 L1943,624.3 L1944,624.3 L1945,624.3 L1946,624.3 L1947,624.3 L1948,624.3 L1949,624.3 L1950,624.3 L1951,624.3 L1952,624.3 L1953,624.3 L1954,624.3 L1955,624.3 L1956,624.3 L1957,624.3 L1958,624.3 L1959,624.3 L1960,624.3 L1961,624.3 L1962,624.3 L1963,624.3 L1964,624.3 L1965,624.3 L1966,624.3 L1967,624.3 L1968,624.3 L1969,624.3 L1970,624.3 L1971,624.3 L1972,624.3 L1973,624.3 L1974,624.3 L1975,624.3 L1976,624.3 L1977,624.3 L1978,624.3 L1979,624.3 L1980,624.3 L1981,624.3 L1982,624.3 L1983,624.3 L1984,624.3 L1985,624.3 L1986,624.3 L1987,624.3 L1988,624.3 L1989,624.3 L1990,624.3 L1991,624.3 L1992,624.3 L1993,624.3 L1994,624.3 L1995,624.3 L1996,624.3 L1997,624.3 L1998,624.3 L1999,624.3 L2000,624.3 L2001,624.3 L2002,624.3 L2003,624.3 L2004,624.3 L2005,624.3 L2006,624.3 L2007,624.3 L2008,624.3 L2009,624.3 L2010,624.3 L2011,624.3 L2012,624.3 L2013,624.3 L2014,624.3 L2015,624.3 L2016,624.3 L2017,624.3 L2018,624.3 L2019,624.3 L2020,624.3 L2021,624.3 L2022,624.3 L2023,624.3 L2024,624.3 L2025,624.3 L2026,624.3 L2027,624.3 L2028,624.3 L2029,624.3 L2030,624.3 L2031,624.3 L2032,624.3 L2033,624.3 L2034,624.3 L2035,624.3 L2036,624.3 L2037,624.3 L2038,624.3 L2039,624.3 L2040,624.3 L2041,624.3 L2042,624.3 L2043,624.3 L2044,624.3 L2045,624.3 L2046,624.3 L2047,624.3 L2048,624.3 L2049,624.3 L2050,624.3 L2051,624.3 L2052,624.3 L2053,624.3 L2054,624.3 L2055,624.3 L2056,624.3 L2057,624.3 L2058,624.3 L2059,624.3" fill="none" stroke="#78c2c6" stroke-width="1.5" stroke-linejoin="round" stroke-linecap="round" />
<path d="M1243,624.3 L1244,624.3 L1245,624.3 L1246,624.3 L1247,624.3 L1248,624.3 L1249,624.3 L1250,624.3 L1251,624.3 L1252,624.3 L1253,624.3 L1254,624.3 L1255,624.3 L1256,624.3 L1257,624.3 L1258,624.3 L1259,624.3 L1260,624.3 L1261,624.3 L1262,624.3 L1263,624.3 L1264,624.3 L1265,624.3 L1266,624.3 L1267,624.3 L1268,624.3 L1269,624.3 L1270,624.3 L1271,624.3 L1272,624.2 L1273,624.2 L1274,624.2 L1275,624.2 L1276,624.2 L1277,624.2 L1278,624.2 L1279,624.2 L1280,624.2 L1281,624.2 L1282,624.2 L1283,624.2 L1284,624.2 L1285,624.2 L1286,624.2 L1287,624.2 L1288,624.2 L1289,624.2 L1290,624.2 L1291,624.1 L1292,624.1 L1293,624.1 L1294,624.1 L1295,624.1 L1296,624.1 L1297,624.1 L1298,624.1 L1299,624.1 L1300,624 L1301,624 L1302,624 L1303,624 L1304,624 L1305,624 L1306,624 L1307,623.9 L1308,623.9 L1309,623.9 L1310,623.9 L1311,623.9 L1312,623.8 L1313,623.8 L1314,623.8 L1315,623.8 L1316,623.7 L1317,623.7 L1318,623.7 L1319,623.6 L1320,623.6 L1321,623.6 L1322,623.5 L1323,623.5 L1324,623.5 L1325,623.4 L1326,623.4 L1327,623.3 L1328,623.3 L1329,623.2 L1330,623.2 L1331,623.1 L1332,623.1 L1333,623 L1334,623 L1335,622.9 L1336,622.8 L1337,622.8 L1338,622.7 L1339,622.6 L1340,622.5 L1341,622.5 L1342,622.4 L1343,622.3 L1344,622.2 L1345,622.1 L1346,622 L1347,621.9 L1348,621.8 L1349,621.7 L1350,621.6 L1351,621.5 L1352,621.3 L1353,621.2 L1354,621.1 L1355,621 L1356,620.8 L1357,620.7 L1358,620.5 L1359,620.4 L1360,620.2 L1361,620 L1362,619.9 L1363,619.7 L1364,619.5 L1365,619.3 L1366,619.1 L1367,618.9 L1368,618.7 L1369,618.5 L1370,618.2 L1371,618 L1372,617.8 L1373,617.5 L1374,617.3 L1375,617 L1376,616.7 L1377,616.5 L1378,616.2 L1379,615.9 L1380,615.6 L1381,615.2 L1382,614.9 L1383,614.6 L1384,614.2 L1385,613.9 L1386,613.5 L1387,613.1 L1388,612.8 L1389,612.4 L1390,611.9 L1391,611.5 L1392,611.1 L1393,610.7 L1394,610.2 L1395,609.7 L1396,609.3 L1397,608.8 L1398,608.3 L1399,607.7 L1400,607.2 L1401,606.7 L1402,606.1 L1403,605.5 L1404,605 L1405,604.4 L1406,603.8 L1407,603.1 L1408,602.5 L1409,601.8 L1410,601.2 L1411,600.5 L1412,599.8 L1413,599.1 L1414,598.3 L1415,597.6 L1416,596.8 L1417,596.1 L1418,595.3 L1419,594.5 L1420,593.7 L1421,592.8 L1422,592 L1423,591.1 L1424,590.2 L1425,589.3 L1426,588.4 L1427,587.5 L1428,586.5 L1429,585.6 L1430,584.6 L1431,583.6 L1432,582.6 L1433,581.5 L1434,580.5 L1435,579.4 L1436,578.4 L1437,577.3 L1438,576.2 L1439,575 L1440,573.9 L1441,572.8 L1442,571.6 L1443,570.4 L1444,569.2 L1445,568 L1446,566.8 L1447,565.5 L1448,564.3 L1449,563 L1450,561.7 L1451,560.4 L1452,559.1 L1453,557.8 L1454,556.5 L1455,555.2 L1456,553.8 L1457,552.4 L1458,551.1 L1459,549.7 L1460,548.3 L1461,546.9 L1462,545.5 L1463,544.1 L1464,542.6 L1465,541.2 L1466,539.8 L1467,538.3 L1468,536.9 L1469,535.4 L1470,533.9 L1471,532.5 L1472,531 L1473,529.5 L1474,528.1 L1475,526.6 L1476,525.1 L1477,523.6 L1478,522.1 L1479,520.7 L1480,519.2 L1481,517.7 L1482,516.2 L1483,514.8 L1484,513.3 L1485,511.8 L1486,510.4 L1487,508.9 L1488,507.5 L1489,506 L1490,504.6 L1491,503.2 L1492,501.8 L1493,500.4 L1494,499 L1495,497.6 L1496,496.3 L1497,494.9 L1498,493.6 L1499,492.2 L1500,490.9 L1501,489.7 L1502,488.4 L1503,487.1 L1504,485.9 L1505,484.7 L1506,483.5 L1507,482.3 L1508,481.1 L1509,480 L1510,478.9 L1511,477.8 L1512,476.7 L1513,475.7 L1514,474.7 L1515,473.7 L1516,472.7 L1517,471.8 L1518,470.9 L1519,470 L1520,469.1 L1521,468.3 L1522,467.5 L1523,466.8 L1524,466 L1525,465.3 L1526,464.7 L1527,464 L1528,463.4 L1529,462.8 L1530,462.3 L1531,461.8 L1532,461.3 L1533,460.9 L1534,460.5 L1535,460.1 L1536,459.7 L1537,459.4 L1538,459.2 L1539,458.9 L1540,458.7 L1541,458.6 L1542,458.5 L1543,458.4 L1544,458.3 L1545,458.3 L1546,458.3 L1547,458.4 L1548,458.5 L1549,458.6 L1550,458.7 L1551,458.9 L1552,459.2 L1553,459.4 L1554,459.7 L1555,460.1 L1556,460.5 L1557,460.9 L1558,461.3 L1559,461.8 L1560,462.3 L1561,462.8 L1562,463.4 L1563,464 L1564,464.7 L1565,465.3 L1566,466 L1567,466.8 L1568,467.5 L1569,468.3 L1570,469.1 L1571,470 L1572,470.9 L1573,471.8 L1574,472.7 L1575,473.7 L1576,474.7 L1577,475.7 L1578,476.7 L1579,477.8 L1580,478.9 L1581,480 L1582,481.1 L1583,482.3 L1584,483.5 L1585,484.7 L1586,485.9 L1587,487.1 L1588,488.4 L1589,489.7 L1590,490.9 L1591,492.2 L1592,493.6 L1593,494.9 L1594,496.3 L1595,497.6 L1596,499 L1597,500.4 L1598,501.8 L1599,503.2 L1600,504.6 L1601,506 L1602,507.5 L1603,508.9 L1604,510.4 L1605,511.8 L1606,513.3 L1607,514.8 L1608,516.2 L1609,517.7 L1610,519.2 L1611,520.7 L1612,522.1 L1613,523.6 L1614,525.1 L1615,526.6 L1616,528.1 L1617,529.5 L1618,531 L1619,532.5 L1620,533.9 L1621,535.4 L1622,536.9 L1623,538.3 L1624,539.8 L1625,541.2 L1626,542.6 L1627,544.1 L1628,545.5 L1629,546.9 L1630,548.3 L1631,549.7 L1632,551.1 L1633,552.4 L1634,553.8 L1635,555.2 L1636,556.5 L1637,557.8 L1638,559.1 L1639,560.4 L1640,561.7 L1641,563 L1642,564.3 L1643,565.5 L1644,566.8 L1645,568 L1646,569.2 L1647,570.4 L1648,571.6 L1649,572.8 L1650,573.9 L1651,575 L1652,576.2 L1653,577.3 L1654,578.4 L1655,579.4 L1656,580.5 L1657,581.5 L1658,582.6 L1659,583.6 L1660,584.6 L1661,585.6 L1662,586.5 L1663,587.5 L1664,588.4 L1665,589.3 L1666,590.2 L1667,591.1 L1668,592 L1669,592.8 L1670,593.7 L1671,594.5 L1672,595.3 L1673,596.1 L1674,596.8 L1675,597.6 L1676,598.3 L1677,599.1 L1678,599.8 L1679,600.5 L1680,601.2 L1681,601.8 L1682,602.5 L1683,603.1 L1684,603.8 L1685,604.4 L1686,605 L1687,605.5 L1688,606.1 L1689,606.7 L1690,607.2 L1691,607.7 L1692,608.3 L1693,608.8 L1694,609.3 L1695,609.7 L1696,610.2 L1697,610.7 L1698,611.1 L1699,611.5 L1700,611.9 L1701,612.4 L1702,612.8 L1703,613.1 L1704,613.5 L1705,613.9 L1706,614.2 L1707,614.6 L1708,614.9 L1709,615.2 L1710,615.6 L1711,615.9 L1712,616.2 L1713,616.5 L1714,616.7 L1715,617 L1716,617.3 L1717,617.5 L1718,617.8 L1719,618 L1720,618.2 L1721,618.5 L1722,618.7 L1723,618.9 L1724,619.1 L1725,619.3 L1726,619.5 L1727,619.7 L1728,619.9 L1729,620 L1730,620.2 L1731,620.4 L1732,620.5 L1733,620.7 L1734,620.8 L1735,621 L1736,621.1 L1737,621.2 L1738,621.3 L1739,621.5 L1740,621.6 L1741,621.7 L1742,621.8 L1743,621.9 L1744,622 L1745,622.1 L1746,622.2 L1747,622.3 L1748,622.4 L1749,622.5 L1750,622.5 L1751,622.6 L1752,622.7 L1753,622.8 L1754,622.8 L1755,622.9 L1756,623 L1757,623 L1758,623.1 L1759,623.1 L1760,623.2 L1761,623.2 L1762,623.3 L1763,623.3 L1764,623.4 L1765,623.4 L1766,623.5 L1767,623.5 L1768,623.5 L1769,623.6 L1770,623.6 L1771,623.6 L1772,623.7 L1773,623.7 L1774,623.7 L1775,623.8 L1776,623.8 L1777,623.8 L1778,623.8 L1779,623.9 L1780,623.9 L1781,623.9 L1782,623.9 L1783,623.9 L1784,624 L1785,624 L1786,624 L1787,624 L1788,624 L1789,624 L1790,624 L1791,624.1 L1792,624.1 L1793,624.1 L1794,624.1 L1795,624.1 L1796,624.1 L1797,624.1 L1798,624.1 L1799,624.1 L1800,624.2 L1801,624.2 L1802,624.2 L1803,624.2 L1804,624.2 L1805,624.2 L1806,624.2 L1807,624.2 L1808,624.2 L1809,624.2 L1810,624.2 L1811,624.2 L1812,624.2 L1813,624.2 L1814,624.2 L1815,624.2 L1816,624.2 L1817,624.2 L1818,624.2 L1819,624.3 L1820,624.3 L1821,624.3 L1822,624.3 L1823,624.3 L1824,624.3 L1825,624.3 L1826,624.3 L1827,624.3 L1828,624.3 L1829,624.3 L1830,624.3 L1831,624.3 L1832,624.3 L1833,624.3 L1834,624.3 L1835,624.3 L1836,624.3 L1837,624.3 L1838,624.3 L1839,624.3 L1840,624.3 L1841,624.3 L1842,624.3 L1843,624.3 L1844,624.3 L1845,624.3 L1846,624.3 L1847,624.3 L1848,624.3 L1849,624.3 L1850,624.3 L1851,624.3 L1852,624.3 L1853,624.3 L1854,624.3 L1855,624.3 L1856,624.3 L1857,624.3 L1858,624.3 L1859,624.3 L1860,624.3 L1861,624.3 L1862,624.3 L1863,624.3 L1864,624.3 L1865,624.3 L1866,624.3 L1867,624.3 L1868,624.3 L1869,624.3 L1870,624.3 L1871,624.3 L1872,624.3 L1873,624.3 L1874,624.3 L1875,624.3 L1876,624.3 L1877,624.3 L1878,624.3 L1879,624.3 L1880,624.3 L1881,624.3 L1882,624.3 L1883,624.3 L1884,624.3 L1885,624.3 L1886,624.3 L1887,624.3 L1888,624.3 L1889,624.3 L1890,624.3 L1891,624.3 L1892,624.3 L1893,624.3 L1894,624.3 L1895,624.3 L1896,624.3 L1897,624.3 L1898,624.3 L1899,624.3 L1900,624.3 L1901,624.3 L1902,624.3 L1903,624.3 L1904,624.3 L1905,624.3 L1906,624.3 L1907,624.3 L1908,624.3 L1909,624.3 L1910,624.3 L1911,624.3 L1912,624.3 L1913,624.3 L1914,624.3 L1915,624.3 L1916,624.3 L1917,624.3 L1918,624.3 L1919,624.3 L1920,624.3 L1921,624.3 L1922,624.3 L1923,624.3 L1924,624.3 L1925,624.3 L1926,624.3 L1927,624.3 L1928,624.3 L1929,624.3 L1930,624.3 L1931,624.3 L1932,624.3 L1933,624.3 L1934,624.3 L1935,624.3 L1936,624.3 L1937,624.3 L1938,624.3 L1939,624.3 L1940,624.3 L1941,624.3 L1942,624.3 L1943,624.3 L1944,624.3 L1945,624.3 L1946,624.3 L1947,624.3 L1948,624.3 L1949,624.3 L1950,624.3 L1951,624.3 L1952,624.3 L1953,624.3 L1954,624.3 L1955,624.3 L1956,624.3 L1957,624.3 L1958,624.3 L1959,624.3 L1960,624.3 L1961,624.3 L1962,624.3 L1963,624.3 L1964,624.3 L1965,624.3 L1966,624.3 L1967,624.3 L1968,624.3 L1969,624.3 L1970,624.3 L1971,624.3 L1972,624.3 L1973,624.3 L1974,624.3 L1975,624.3 L1976,624.3 L1977,624.3 L1978,624.3 L1979,624.3 L1980,624.3 L1981,624.3 L1982,624.3 L1983,624.3 L1984,624.3 L1985,624.3 L1986,624.3 L1987,624.3 L1988,624.3 L1989,624.3 L1990,624.3 L1991,624.3 L1992,624.3 L1993,624.3 L1994,624.3 L1995,624.3 L1996,624.3 L1997,624.3 L1998,624.3 L1999,624.3 L2000,624.3 L2001,624.3 L2002,624.3 L2003,624.3 L2004,624.3 L2005,624.3 L2006,624.3 L2007,624.3 L2008,624.3 L2009,624.3 L2010,624.3 L2011,624.3 L2012,624.3 L2013,624.3 L2014,624.3 L2015,624.3 L2016,624.3 L2017,624.3 L2018,624.3 L2019,624.3 L2020,624.3 L2021,624.3 L2022,624.3 L2023,624.3 L2024,624.3 L2025,624.3 L2026,624.3 L2027,624.3 L2028,624.3 L2029,624.3 L2030,624.3 L2031,624.3 L2032,624.3 L2033,624.3 L2034,624.3 L2035,624.3 L2036,624.3 L2037,624.3 L2038,624.3 L2039,624.3 L2040,624.3 L2041,624.3 L2042,624.3 L2043,624.3 L2044,624.3 L2045,624.3 L2046,624.3 L2047,624.3 L2048,624.3 L2049,624.3 L2050,624.3 L2051,624.3 L2052,624.3 L2053,624.3 L2054,624.3 L2055,624.3 L2056,624.3 L2057,624.3 L2058,624.3 L2059,624.3" fill="none" stroke="#1c6e48" stroke-width="1.5" stroke-linejoin="round" stroke-linecap="round" />
<path d="M1243,623.9 L1244,623.9 L1245,623.8 L1246,623.8 L1247,623.8 L1248,623.8 L1249,623.8 L1250,623.8 L1251,623.7 L1252,623.7 L1253,623.7 L1254,623.7 L1255,623.6 L1256,623.6 L1257,623.6 L1258,623.6 L1259,623.5 L1260,623.5 L1261,623.5 L1262,623.5 L1263,623.4 L1264,623.4 L1265,623.4 L1266,623.3 L1267,623.3 L1268,623.3 L1269,623.2 L1270,623.2 L1271,623.1 L1272,623.1 L1273,623.1 L1274,623 L1275,623 L1276,622.9 L1277,622.9 L1278,622.9 L1279,622.8 L1280,622.8 L1281,622.7 L1282,622.7 L1283,622.6 L1284,622.6 L1285,622.5 L1286,622.4 L1287,622.4 L1288,622.3 L1289,622.3 L1290,622.2 L1291,622.1 L1292,622.1 L1293,622 L1294,621.9 L1295,621.9 L1296,621.8 L1297,621.7 L1298,621.7 L1299,621.6 L1300,621.5 L1301,621.4 L1302,621.3 L1303,621.3 L1304,621.2 L1305,621.1 L1306,621 L1307,620.9 L1308,620.8 L1309,620.7 L1310,620.6 L1311,620.5 L1312,620.4 L1313,620.3 L1314,620.2 L1315,620.1 L1316,620 L1317,619.9 L1318,619.8 L1319,619.7 L1320,619.6 L1321,619.5 L1322,619.3 L1323,619.2 L1324,619.1 L1325,619 L1326,618.8 L1327,618.7 L1328,618.6 L1329,618.5 L1330,618.3 L1331,618.2 L1332,618.1 L1333,617.9 L1334,617.8 L1335,617.6 L1336,617.5 L1337,617.3 L1338,617.2 L1339,617 L1340,616.9 L1341,616.7 L1342,616.6 L1343,616.4 L1344,616.3 L1345,616.1 L1346,615.9 L1347,615.8 L1348,615.6 L1349,615.4 L1350,615.3 L1351,615.1 L1352,614.9 L1353,614.7 L1354,614.6 L1355,614.4 L1356,614.2 L1357,614 L1358,613.8 L1359,613.7 L1360,613.5 L1361,613.3 L1362,613.1 L1363,612.9 L1364,612.7 L1365,612.5 L1366,612.4 L1367,612.2 L1368,612 L1369,611.8 L1370,611.6 L1371,611.4 L1372,611.2 L1373,611 L1374,610.8 L1375,610.6 L1376,610.4 L1377,610.2 L1378,610 L1379,609.8 L1380,609.6 L1381,609.4 L1382,609.2 L1383,609 L1384,608.8 L1385,608.6 L1386,608.4 L1387,608.3 L1388,608.1 L1389,607.9 L1390,607.7 L1391,607.5 L1392,607.3 L1393,607.1 L1394,606.9 L1395,606.7 L1396,606.5 L1397,606.3 L1398,606.2 L1399,606 L1400,605.8 L1401,605.6 L1402,605.4 L1403,605.3 L1404,605.1 L1405,604.9 L1406,604.8 L1407,604.6 L1408,604.4 L1409,604.3 L1410,604.1 L1411,603.9 L1412,603.8 L1413,603.6 L1414,603.5 L1415,603.3 L1416,603.2 L1417,603 L1418,602.9 L1419,602.8 L1420,602.6 L1421,602.5 L1422,602.4 L1423,602.2 L1424,602.1 L1425,602 L1426,601.9 L1427,601.8 L1428,601.7 L1429,601.6 L1430,601.5 L1431,601.4 L1432,601.3 L1433,601.2 L1434,601.1 L1435,601 L1436,601 L1437,600.9 L1438,600.8 L1439,600.8 L1440,600.7 L1441,600.6 L1442,600.6 L1443,600.5 L1444,600.5 L1445,600.5 L1446,600.4 L1447,600.4 L1448,600.4 L1449,600.3 L1450,600.3 L1451,600.3 L1452,600.3 L1453,600.3 L1454,600.3 L1455,600.3 L1456,600.3 L1457,600.3 L1458,600.3 L1459,600.4 L1460,600.4 L1461,600.4 L1462,600.5 L1463,600.5 L1464,600.5 L1465,600.6 L1466,600.6 L1467,600.7 L1468,600.8 L1469,600.8 L1470,600.9 L1471,601 L1472,601 L1473,601.1 L1474,601.2 L1475,601.3 L1476,601.4 L1477,601.5 L1478,601.6 L1479,601.7 L1480,601.8 L1481,601.9 L1482,602 L1483,602.1 L1484,602.3 L1485,602.4 L1486,602.5 L1487,602.7 L1488,602.8 L1489,602.9 L1490,603.1 L1491,603.2 L1492,603.4 L1493,603.5 L1494,603.7 L1495,603.8 L1496,604 L1497,604.1 L1498,604.3 L1499,604.5 L1500,604.6 L1501,604.8 L1502,605 L1503,605.1 L1504,605.3 L1505,605.5 L1506,605.7 L1507,605.8 L1508,606 L1509,606.2 L1510,606.4 L1511,606.6 L1512,606.8 L1513,606.9 L1514,607.1 L1515,607.3 L1516,607.5 L1517,607.7 L1518,607.9 L1519,608.1 L1520,608.3 L1521,608.5 L1522,608.7 L1523,608.9 L1524,609.1 L1525,609.3 L1526,609.5 L1527,609.7 L1528,609.9 L1529,610.1 L1530,610.3 L1531,610.5 L1532,610.6 L1533,610.8 L1534,611 L1535,611.2 L1536,611.4 L1537,611.6 L1538,611.8 L1539,612 L1540,612.2 L1541,612.4 L1542,612.6 L1543,612.8 L1544,613 L1545,613.1 L1546,613.3 L1547,613.5 L1548,613.7 L1549,613.9 L1550,614.1 L1551,614.2 L1552,614.4 L1553,614.6 L1554,614.8 L1555,614.9 L1556,615.1 L1557,615.3 L1558,615.5 L1559,615.6 L1560,615.8 L1561,616 L1562,616.1 L1563,616.3 L1564,616.4 L1565,616.6 L1566,616.8 L1567,616.9 L1568,617.1 L1569,617.2 L1570,617.4 L1571,617.5 L1572,617.7 L1573,617.8 L1574,617.9 L1575,618.1 L1576,618.2 L1577,618.4 L1578,618.5 L1579,618.6 L1580,618.7 L1581,618.9 L1582,619 L1583,619.1 L1584,619.2 L1585,619.4 L1586,619.5 L1587,619.6 L1588,619.7 L1589,619.8 L1590,619.9 L1591,620 L1592,620.1 L1593,620.3 L1594,620.4 L1595,620.5 L1596,620.6 L1597,620.6 L1598,620.7 L1599,620.8 L1600,620.9 L1601,621 L1602,621.1 L1603,621.2 L1604,621.3 L1605,621.4 L1606,621.4 L1607,621.5 L1608,621.6 L1609,621.7 L1610,621.7 L1611,621.8 L1612,621.9 L1613,622 L1614,622 L1615,622.1 L1616,622.2 L1617,622.2 L1618,622.3 L1619,622.3 L1620,622.4 L1621,622.5 L1622,622.5 L1623,622.6 L1624,622.6 L1625,622.7 L1626,622.7 L1627,622.8 L1628,622.8 L1629,622.9 L1630,622.9 L1631,623 L1632,623 L1633,623 L1634,623.1 L1635,623.1 L1636,623.2 L1637,623.2 L1638,623.2 L1639,623.3 L1640,623.3 L1641,623.3 L1642,623.4 L1643,623.4 L1644,623.4 L1645,623.5 L1646,623.5 L1647,623.5 L1648,623.5 L1649,623.6 L1650,623.6 L1651,623.6 L1652,623.6 L1653,623.7 L1654,623.7 L1655,623.7 L1656,623.7 L1657,623.8 L1658,623.8 L1659,623.8 L1660,623.8 L1661,623.8 L1662,623.8 L1663,623.9 L1664,623.9 L1665,623.9 L1666,623.9 L1667,623.9 L1668,623.9 L1669,624 L1670,624 L1671,624 L1672,624 L1673,624 L1674,624 L1675,624 L1676,624 L1677,624.1 L1678,624.1 L1679,624.1 L1680,624.1 L1681,624.1 L1682,624.1 L1683,624.1 L1684,624.1 L1685,624.1 L1686,624.1 L1687,624.1 L1688,624.1 L1689,624.1 L1690,624.2 L1691,624.2 L1692,624.2 L1693,624.2 L1694,624.2 L1695,624.2 L1696,624.2 L1697,624.2 L1698,624.2 L1699,624.2 L1700,624.2 L1701,624.2 L1702,624.2 L1703,624.2 L1704,624.2 L1705,624.2 L1706,624.2 L1707,624.2 L1708,624.2 L1709,624.2 L1710,624.2 L1711,624.2 L1712,624.2 L1713,624.2 L1714,624.3 L1715,624.3 L1716,624.3 L1717,624.3 L1718,624.3 L1719,624.3 L1720,624.3 L1721,624.3 L1722,624.3 L1723,624.3 L1724,624.3 L1725,624.3 L1726,624.3 L1727,624.3 L1728,624.3 L1729,624.3 L1730,624.3 L1731,624.3 L1732,624.3 L1733,624.3 L1734,624.3 L1735,624.3 L1736,624.3 L1737,624.3 L1738,624.3 L1739,624.3 L1740,624.3 L1741,624.3 L1742,624.3 L1743,624.3 L1744,624.3 L1745,624.3 L1746,624.3 L1747,624.3 L1748,624.3 L1749,624.3 L1750,624.3 L1751,624.3 L1752,624.3 L1753,624.3 L1754,624.3 L1755,624.3 L1756,624.3 L1757,624.3 L1758,624.3 L1759,624.3 L1760,624.3 L1761,624.3 L1762,624.3 L1763,624.3 L1764,624.3 L1765,624.3 L1766,624.3 L1767,624.3 L1768,624.3 L1769,624.3 L1770,624.3 L1771,624.3 L1772,624.3 L1773,624.3 L1774,624.3 L1775,624.3 L1776,624.3 L1777,624.3 L1778,624.3 L1779,624.3 L1780,624.3 L1781,624.3 L1782,624.3 L1783,624.3 L1784,624.3 L1785,624.3 L1786,624.3 L1787,624.3 L1788,624.3 L1789,624.3 L1790,624.3 L1791,624.3 L1792,624.3 L1793,624.3 L1794,624.3 L1795,624.3 L1796,624.3 L1797,624.3 L1798,624.3 L1799,624.3 L1800,624.3 L1801,624.3 L1802,624.3 L1803,624.3 L1804,624.3 L1805,624.3 L1806,624.3 L1807,624.3 L1808,624.3 L1809,624.3 L1810,624.3 L1811,624.3 L1812,624.3 L1813,624.3 L1814,624.3 L1815,624.3 L1816,624.3 L1817,624.3 L1818,624.3 L1819,624.3 L1820,624.3 L1821,624.3 L1822,624.3 L1823,624.3 L1824,624.3 L1825,624.3 L1826,624.3 L1827,624.3 L1828,624.3 L1829,624.3 L1830,624.3 L1831,624.3 L1832,624.3 L1833,624.3 L1834,624.3 L1835,624.3 L1836,624.3 L1837,624.3 L1838,624.3 L1839,624.3 L1840,624.3 L1841,624.3 L1842,624.3 L1843,624.3 L1844,624.3 L1845,624.3 L1846,624.3 L1847,624.3 L1848,624.3 L1849,624.3 L1850,624.3 L1851,624.3 L1852,624.3 L1853,624.3 L1854,624.3 L1855,624.3 L1856,624.3 L1857,624.3 L1858,624.3 L1859,624.3 L1860,624.3 L1861,624.3 L1862,624.3 L1863,624.3 L1864,624.3 L1865,624.3 L1866,624.3 L1867,624.3 L1868,624.3 L1869,624.3 L1870,624.3 L1871,624.3 L1872,624.3 L1873,624.3 L1874,624.3 L1875,624.3 L1876,624.3 L1877,624.3 L1878,624.3 L1879,624.3 L1880,624.3 L1881,624.3 L1882,624.3 L1883,624.3 L1884,624.3 L1885,624.3 L1886,624.3 L1887,624.3 L1888,624.3 L1889,624.3 L1890,624.3 L1891,624.3 L1892,624.3 L1893,624.3 L1894,624.3 L1895,624.3 L1896,624.3 L1897,624.3 L1898,624.3 L1899,624.3 L1900,624.3 L1901,624.3 L1902,624.3 L1903,624.3 L1904,624.3 L1905,624.3 L1906,624.3 L1907,624.3 L1908,624.3 L1909,624.3 L1910,624.3 L1911,624.3 L1912,624.3 L1913,624.3 L1914,624.3 L1915,624.3 L1916,624.3 L1917,624.3 L1918,624.3 L1919,624.3 L1920,624.3 L1921,624.3 L1922,624.3 L1923,624.3 L1924,624.3 L1925,624.3 L1926,624.3 L1927,624.3 L1928,624.3 L1929,624.3 L1930,624.3 L1931,624.3 L1932,624.3 L1933,624.3 L1934,624.3 L1935,624.3 L1936,624.3 L1937,624.3 L1938,624.3 L1939,624.3 L1940,624.3 L1941,624.3 L1942,624.3 L1943,624.3 L1944,624.3 L1945,624.3 L1946,624.3 L1947,624.3 L1948,624.3 L1949,624.3 L1950,624.3 L1951,624.3 L1952,624.3 L1953,624.3 L1954,624.3 L1955,624.3 L1956,624.3 L1957,624.3 L1958,624.3 L1959,624.3 L1960,624.3 L1961,624.3 L1962,624.3 L1963,624.3 L1964,624.3 L1965,624.3 L1966,624.3 L1967,624.3 L1968,624.3 L1969,624.3 L1970,624.3 L1971,624.3 L1972,624.3 L1973,624.3 L1974,624.3 L1975,624.3 L1976,624.3 L1977,624.3 L1978,624.3 L1979,624.3 L1980,624.3 L1981,624.3 L1982,624.3 L1983,624.3 L1984,624.3 L1985,624.3 L1986,624.3 L1987,624.3 L1988,624.3 L1989,624.3 L1990,624.3 L1991,624.3 L1992,624.3 L1993,624.3 L1994,624.3 L1995,624.3 L1996,624.3 L1997,624.3 L1998,624.3 L1999,624.3 L2000,624.3 L2001,624.3 L2002,624.3 L2003,624.3 L2004,624.3 L2005,624.3 L2006,624.3 L2007,624.3 L2008,624.3 L2009,624.3 L2010,624.3 L2011,624.3 L2012,624.3 L2013,624.3 L2014,624.3 L2015,624.3 L2016,624.3 L2017,624.3 L2018,624.3 L2019,624.3 L2020,624.3 L2021,624.3 L2022,624.3 L2023,624.3 L2024,624.3 L2025,624.3 L2026,624.3 L2027,624.3 L2028,624.3 L2029,624.3 L2030,624.3 L2031,624.3 L2032,624.3 L2033,624.3 L2034,624.3 L2035,624.3 L2036,624.3 L2037,624.3 L2038,624.3 L2039,624.3 L2040,624.3 L2041,624.3 L2042,624.3 L2043,624.3 L2044,624.3 L2045,624.3 L2046,624.3 L2047,624.3 L2048,624.3 L2049,624.3 L2050,624.3 L2051,624.3 L2052,624.3 L2053,624.3 L2054,624.3 L2055,624.3 L2056,624.3 L2057,624.3 L2058,624.3 L2059,624.3" fill="none" stroke="#5cae48" stroke-width="1.5" stroke-linejoin="round" stroke-linecap="round" />
<rect x="1242" y="67" width="818.3" height="613.3" fill="none" stroke="#000" stroke-width="1.8" />
<line x1="1242" y1="680.3" x2="1242" y2="690.8" stroke="#000" stroke-width="1.8" />
<line x1="1378.4" y1="680.3" x2="1378.4" y2="690.8" stroke="#000" stroke-width="1.8" />
<line x1="1514.7" y1="680.3" x2="1514.7" y2="690.8" stroke="#000" stroke-width="1.8" />
<line x1="1651.1" y1="680.3" x2="1651.1" y2="690.8" stroke="#000" stroke-width="1.8" />
<line x1="1787.4" y1="680.3" x2="1787.4" y2="690.8" stroke="#000" stroke-width="1.8" />
<line x1="1923.8" y1="680.3" x2="1923.8" y2="690.8" stroke="#000" stroke-width="1.8" />
<line x1="2060.2" y1="680.3" x2="2060.2" y2="690.8" stroke="#000" stroke-width="1.8" />
<line x1="1310.2" y1="680.3" x2="1310.2" y2="686.3" stroke="#000" stroke-width="1.8" />
<line x1="1446.5" y1="680.3" x2="1446.5" y2="686.3" stroke="#000" stroke-width="1.8" />
<line x1="1582.9" y1="680.3" x2="1582.9" y2="686.3" stroke="#000" stroke-width="1.8" />
<line x1="1719.3" y1="680.3" x2="1719.3" y2="686.3" stroke="#000" stroke-width="1.8" />
<line x1="1855.6" y1="680.3" x2="1855.6" y2="686.3" stroke="#000" stroke-width="1.8" />
<line x1="1992" y1="680.3" x2="1992" y2="686.3" stroke="#000" stroke-width="1.8" />
<text x="1242" y="737.2" font-size="46.5" fill="#000" text-anchor="middle" font-weight="normal"  stroke="#000" stroke-width="0.4">292</text>
<text x="1378.4" y="737.2" font-size="46.5" fill="#000" text-anchor="middle" font-weight="normal"  stroke="#000" stroke-width="0.4">290</text>
<text x="1514.7" y="737.2" font-size="46.5" fill="#000" text-anchor="middle" font-weight="normal"  stroke="#000" stroke-width="0.4">288</text>
<text x="1651.1" y="737.2" font-size="46.5" fill="#000" text-anchor="middle" font-weight="normal"  stroke="#000" stroke-width="0.4">286</text>
<text x="1787.4" y="737.2" font-size="46.5" fill="#000" text-anchor="middle" font-weight="normal"  stroke="#000" stroke-width="0.4">284</text>
<text x="1923.8" y="737.2" font-size="46.5" fill="#000" text-anchor="middle" font-weight="normal"  stroke="#000" stroke-width="0.4">282</text>
<text x="2060.2" y="737.2" font-size="46.5" fill="#000" text-anchor="middle" font-weight="normal"  stroke="#000" stroke-width="0.4">280</text>
<text x="1267" y="110.8" font-size="31.5" fill="#000" text-anchor="start" font-weight="bold" stroke="#000" stroke-width="0.5">GO-C1s</text>
<text x="1407" y="196.4" font-size="31" fill="#000" text-anchor="middle" font-weight="normal"  stroke="#000" stroke-width="0.25">C–O–C</text>
<text x="1403.3" y="235" font-size="31" fill="#000" text-anchor="middle" font-weight="normal"  stroke="#000" stroke-width="0.25">(286.6 eV)</text>
<text x="1364.7" y="376.5" font-size="31" fill="#000" text-anchor="middle" font-weight="normal"  stroke="#000" stroke-width="0.25">C=O</text>
<text x="1371.8" y="415.2" font-size="31" fill="#000" text-anchor="middle" font-weight="normal"  stroke="#000" stroke-width="0.25">(287.7 eV)</text>
<text x="1324.8" y="512.8" font-size="31" fill="#000" text-anchor="middle" font-weight="normal"  stroke="#000" stroke-width="0.25">O–C=O</text>
<text x="1328" y="551.2" font-size="31" fill="#000" text-anchor="middle" font-weight="normal"  stroke="#000" stroke-width="0.25">(288.8 eV)</text>
<text x="1935.9" y="290.5" font-size="31" fill="#000" text-anchor="middle" font-weight="normal"  stroke="#000" stroke-width="0.25">C–C sp<tspan dy="-0.5294117647058822em" font-size="68%">2</tspan></text>
<text x="1934.2" y="329.6" font-size="31" fill="#000" text-anchor="middle" font-weight="normal"  stroke="#000" stroke-width="0.25">(284.2 eV)</text>
<text x="1935.9" y="404.4" font-size="31" fill="#000" text-anchor="middle" font-weight="normal"  stroke="#000" stroke-width="0.25">C–C sp<tspan dy="-0.5294117647058822em" font-size="68%">3</tspan></text>
<text x="1942.7" y="442.5" font-size="31" fill="#000" text-anchor="middle" font-weight="normal"  stroke="#000" stroke-width="0.25">(284.9 eV)</text>
<line x1="1496" y1="219" x2="1570.5" y2="261.3" stroke="#000" stroke-width="1.7" />
<polygon points="1584,269 1566.5,264.4 1571.1,256.3" fill="#000"/>
<line x1="1423" y1="421" x2="1491.3" y2="468.2" stroke="#000" stroke-width="1.7" />
<polygon points="1504,477 1486.9,470.9 1492.3,463.2" fill="#000"/>
<line x1="1354" y1="564" x2="1436.2" y2="589.4" stroke="#000" stroke-width="1.7" />
<polygon points="1451,594 1432.9,593.3 1435.7,584.3" fill="#000"/>
<line x1="1853" y1="304" x2="1789.1" y2="344.7" stroke="#000" stroke-width="1.7" />
<polygon points="1776,353 1788.2,339.6 1793.3,347.6" fill="#000"/>
<line x1="1848" y1="417" x2="1764.4" y2="466.1" stroke="#000" stroke-width="1.7" />
<polygon points="1751,474 1763.7,461.1 1768.5,469.2" fill="#000"/>
<text x="1651.5" y="802.9" font-size="52" fill="#000" text-anchor="middle" font-weight="normal"  stroke="#000" stroke-width="0.4">Binding energy (eV)</text>
<text transform="translate(1208.4 356) rotate(-90)" font-size="52" fill="#000" stroke="#000" stroke-width="0.4" text-anchor="middle" >Intensity (a.u.)</text>
<text x="1155.5" y="59.2" font-size="80.5" fill="#111" text-anchor="start" font-weight="bold"  stroke="#111" stroke-width="0.4">b</text>
</g>
<g id="panel-c">
<path d="M168.5,1408.7 L169.5,1408.7 L170.5,1408.7 L171.5,1408.7 L172.5,1408.7 L173.5,1408.7 L174.5,1408.7 L175.5,1408.7 L176.5,1408.7 L177.5,1408.7 L178.5,1408.7 L179.5,1408.7 L180.5,1408.7 L181.5,1408.7 L182.5,1408.7 L183.5,1408.7 L184.5,1408.7 L185.5,1408.7 L186.5,1408.7 L187.5,1408.7 L188.5,1408.7 L189.5,1408.7 L190.5,1408.7 L191.5,1408.7 L192.5,1408.7 L193.5,1408.7 L194.5,1408.7 L195.5,1408.7 L196.5,1408.7 L197.5,1408.7 L198.5,1408.7 L199.5,1408.7 L200.5,1408.7 L201.5,1408.7 L202.5,1408.7 L203.5,1408.7 L204.5,1408.7 L205.5,1408.7 L206.5,1408.7 L207.5,1408.7 L208.5,1408.7 L209.5,1408.7 L210.5,1408.7 L211.5,1408.7 L212.5,1408.7 L213.5,1408.7 L214.5,1408.7 L215.5,1408.7 L216.5,1408.7 L217.5,1408.7 L218.5,1408.7 L219.5,1408.7 L220.5,1408.7 L221.5,1408.7 L222.5,1408.7 L223.5,1408.7 L224.5,1408.7 L225.5,1408.7 L226.5,1408.7 L227.5,1408.7 L228.5,1408.7 L229.5,1408.7 L230.5,1408.7 L231.5,1408.7 L232.5,1408.7 L233.5,1408.7 L234.5,1408.7 L235.5,1408.7 L236.5,1408.7 L237.5,1408.7 L238.5,1408.7 L239.5,1408.7 L240.5,1408.7 L241.5,1408.7 L242.5,1408.7 L243.5,1408.7 L244.5,1408.7 L245.5,1408.7 L246.5,1408.7 L247.5,1408.7 L248.5,1408.7 L249.5,1408.7 L250.5,1408.7 L251.5,1408.7 L252.5,1408.7 L253.5,1408.7 L254.5,1408.7 L255.5,1408.7 L256.5,1408.7 L257.5,1408.7 L258.5,1408.7 L259.5,1408.7 L260.5,1408.7 L261.5,1408.7 L262.5,1408.7 L263.5,1408.7 L264.5,1408.7 L265.5,1408.7 L266.5,1408.7 L267.5,1408.7 L268.5,1408.7 L269.5,1408.7 L270.5,1408.7 L271.5,1408.7 L272.5,1408.7 L273.5,1408.7 L274.5,1408.7 L275.5,1408.7 L276.5,1408.7 L277.5,1408.7 L278.5,1408.7 L279.5,1408.7 L280.5,1408.7 L281.5,1408.7 L282.5,1408.7 L283.5,1408.7 L284.5,1408.7 L285.5,1408.7 L286.5,1408.7 L287.5,1408.7 L288.5,1408.7 L289.5,1408.7 L290.5,1408.7 L291.5,1408.7 L292.5,1408.7 L293.5,1408.7 L294.5,1408.7 L295.5,1408.7 L296.5,1408.7 L297.5,1408.7 L298.5,1408.7 L299.5,1408.7 L300.5,1408.7 L301.5,1408.7 L302.5,1408.7 L303.5,1408.7 L304.5,1408.7 L305.5,1408.7 L306.5,1408.7 L307.5,1408.7 L308.5,1408.7 L309.5,1408.7 L310.5,1408.7 L311.5,1408.7 L312.5,1408.7 L313.5,1408.7 L314.5,1408.7 L315.5,1408.7 L316.5,1408.7 L317.5,1408.7 L318.5,1408.7 L319.5,1408.7 L320.5,1408.7 L321.5,1408.7 L322.5,1408.7 L323.5,1408.7 L324.5,1408.7 L325.5,1408.7 L326.5,1408.7 L327.5,1408.7 L328.5,1408.7 L329.5,1408.7 L330.5,1408.7 L331.5,1408.7 L332.5,1408.7 L333.5,1408.7 L334.5,1408.7 L335.5,1408.7 L336.5,1408.7 L337.5,1408.7 L338.5,1408.7 L339.5,1408.6 L340.5,1408.6 L341.5,1408.6 L342.5,1408.6 L343.5,1408.6 L344.5,1408.6 L345.5,1408.6 L346.5,1408.6 L347.5,1408.6 L348.5,1408.6 L349.5,1408.6 L350.5,1408.6 L351.5,1408.5 L352.5,1408.5 L353.5,1408.5 L354.5,1408.5 L355.5,1408.5 L356.5,1408.5 L357.5,1408.5 L358.5,1408.4 L359.5,1408.4 L360.5,1408.4 L361.5,1408.4 L362.5,1408.3 L363.5,1408.3 L364.5,1408.3 L365.5,1408.3 L366.5,1408.2 L367.5,1408.2 L368.5,1408.2 L369.5,1408.1 L370.5,1408.1 L371.5,1408 L372.5,1408 L373.5,1407.9 L374.5,1407.9 L375.5,1407.8 L376.5,1407.8 L377.5,1407.7 L378.5,1407.6 L379.5,1407.6 L380.5,1407.5 L381.5,1407.4 L382.5,1407.3 L383.5,1407.3 L384.5,1407.2 L385.5,1407.1 L386.5,1407 L387.5,1406.9 L388.5,1406.8 L389.5,1406.7 L390.5,1406.6 L391.5,1406.4 L392.5,1406.3 L393.5,1406.2 L394.5,1406 L395.5,1405.9 L396.5,1405.8 L397.5,1405.6 L398.5,1405.4 L399.5,1405.3 L400.5,1405.1 L401.5,1404.9 L402.5,1404.8 L403.5,1404.6 L404.5,1404.4 L405.5,1404.2 L406.5,1404 L407.5,1403.8 L408.5,1403.5 L409.5,1403.3 L410.5,1403.1 L411.5,1402.9 L412.5,1402.6 L413.5,1402.4 L414.5,1402.1 L415.5,1401.9 L416.5,1401.6 L417.5,1401.3 L418.5,1401 L419.5,1400.8 L420.5,1400.5 L421.5,1400.2 L422.5,1399.9 L423.5,1399.6 L424.5,1399.3 L425.5,1399 L426.5,1398.6 L427.5,1398.3 L428.5,1398 L429.5,1397.7 L430.5,1397.3 L431.5,1397 L432.5,1396.6 L433.5,1396.3 L434.5,1395.9 L435.5,1395.6 L436.5,1395.2 L437.5,1394.9 L438.5,1394.5 L439.5,1394.1 L440.5,1393.8 L441.5,1393.4 L442.5,1393 L443.5,1392.6 L444.5,1392.2 L445.5,1391.9 L446.5,1391.5 L447.5,1391.1 L448.5,1390.7 L449.5,1390.3 L450.5,1389.9 L451.5,1389.5 L452.5,1389 L453.5,1388.6 L454.5,1388.2 L455.5,1387.8 L456.5,1387.3 L457.5,1386.9 L458.5,1386.5 L459.5,1386 L460.5,1385.5 L461.5,1385.1 L462.5,1384.6 L463.5,1384.1 L464.5,1383.6 L465.5,1383.1 L466.5,1382.6 L467.5,1382 L468.5,1381.5 L469.5,1380.9 L470.5,1380.4 L471.5,1379.8 L472.5,1379.2 L473.5,1378.6 L474.5,1377.9 L475.5,1377.3 L476.5,1376.6 L477.5,1375.9 L478.5,1375.2 L479.5,1374.4 L480.5,1373.7 L481.5,1372.9 L482.5,1372.1 L483.5,1371.3 L484.5,1370.4 L485.5,1369.5 L486.5,1368.6 L487.5,1367.7 L488.5,1366.7 L489.5,1365.7 L490.5,1364.7 L491.5,1363.6 L492.5,1362.5 L493.5,1361.4 L494.5,1360.2 L495.5,1359 L496.5,1357.8 L497.5,1356.5 L498.5,1355.3 L499.5,1353.9 L500.5,1352.6 L501.5,1351.2 L502.5,1349.8 L503.5,1348.3 L504.5,1346.8 L505.5,1345.3 L506.5,1343.7 L507.5,1342.2 L508.5,1340.5 L509.5,1338.9 L510.5,1337.2 L511.5,1335.5 L512.5,1333.7 L513.5,1331.9 L514.5,1330.1 L515.5,1328.2 L516.5,1326.4 L517.5,1324.5 L518.5,1322.5 L519.5,1320.5 L520.5,1318.5 L521.5,1316.5 L522.5,1314.4 L523.5,1312.4 L524.5,1310.2 L525.5,1308.1 L526.5,1305.9 L527.5,1303.7 L528.5,1301.5 L529.5,1299.2 L530.5,1296.9 L531.5,1294.6 L532.5,1292.2 L533.5,1289.8 L534.5,1287.4 L535.5,1285 L536.5,1282.5 L537.5,1280 L538.5,1277.4 L539.5,1274.8 L540.5,1272.2 L541.5,1269.6 L542.5,1266.9 L543.5,1264.2 L544.5,1261.4 L545.5,1258.6 L546.5,1255.8 L547.5,1252.9 L548.5,1250 L549.5,1247 L550.5,1244 L551.5,1241 L552.5,1237.9 L553.5,1234.8 L554.5,1231.6 L555.5,1228.4 L556.5,1225.1 L557.5,1221.8 L558.5,1218.5 L559.5,1215.1 L560.5,1211.7 L561.5,1208.2 L562.5,1204.7 L563.5,1201.2 L564.5,1197.6 L565.5,1193.9 L566.5,1190.3 L567.5,1186.6 L568.5,1182.9 L569.5,1179.1 L570.5,1175.3 L571.5,1171.5 L572.5,1167.6 L573.5,1163.8 L574.5,1159.9 L575.5,1156 L576.5,1152 L577.5,1148.1 L578.5,1144.2 L579.5,1140.2 L580.5,1136.3 L581.5,1132.3 L582.5,1128.3 L583.5,1124.4 L584.5,1120.4 L585.5,1116.5 L586.5,1112.6 L587.5,1108.7 L588.5,1104.8 L589.5,1100.9 L590.5,1097.1 L591.5,1093.3 L592.5,1089.5 L593.5,1085.7 L594.5,1082 L595.5,1078.2 L596.5,1074.6 L597.5,1070.9 L598.5,1067.3 L599.5,1063.8 L600.5,1060.3 L601.5,1056.8 L602.5,1053.3 L603.5,1049.9 L604.5,1046.6 L605.5,1043.3 L606.5,1040 L607.5,1036.7 L608.5,1033.5 L609.5,1030.4 L610.5,1027.2 L611.5,1024.1 L612.5,1021.1 L613.5,1018.1 L614.5,1015.1 L615.5,1012.1 L616.5,1009.2 L617.5,1006.4 L618.5,1003.5 L619.5,1000.7 L620.5,997.9 L621.5,995.1 L622.5,992.4 L623.5,989.7 L624.5,987 L625.5,984.4 L626.5,981.8 L627.5,979.2 L628.5,976.6 L629.5,974.1 L630.5,971.5 L631.5,969 L632.5,966.6 L633.5,964.1 L634.5,961.7 L635.5,959.4 L636.5,957 L637.5,954.7 L638.5,952.4 L639.5,950.2 L640.5,948 L641.5,945.8 L642.5,943.7 L643.5,941.6 L644.5,939.5 L645.5,937.5 L646.5,935.5 L647.5,933.6 L648.5,931.8 L649.5,930 L650.5,928.2 L651.5,926.5 L652.5,924.9 L653.5,923.3 L654.5,921.8 L655.5,920.4 L656.5,919 L657.5,917.7 L658.5,916.5 L659.5,915.4 L660.5,914.3 L661.5,913.4 L662.5,912.5 L663.5,911.7 L664.5,910.9 L665.5,910.3 L666.5,909.7 L667.5,909.3 L668.5,908.9 L669.5,908.7 L670.5,908.5 L671.5,908.4 L672.5,908.4 L673.5,908.6 L674.5,908.8 L675.5,909.1 L676.5,909.5 L677.5,910 L678.5,910.7 L679.5,911.4 L680.5,912.2 L681.5,913.1 L682.5,914.1 L683.5,915.3 L684.5,916.5 L685.5,917.8 L686.5,919.2 L687.5,920.7 L688.5,922.3 L689.5,924.1 L690.5,925.9 L691.5,927.7 L692.5,929.7 L693.5,931.8 L694.5,934 L695.5,936.2 L696.5,938.6 L697.5,941 L698.5,943.5 L699.5,946.1 L700.5,948.7 L701.5,951.5 L702.5,954.3 L703.5,957.2 L704.5,960.2 L705.5,963.2 L706.5,966.3 L707.5,969.5 L708.5,972.7 L709.5,976 L710.5,979.4 L711.5,982.8 L712.5,986.3 L713.5,989.8 L714.5,993.3 L715.5,997 L716.5,1000.6 L717.5,1004.4 L718.5,1008.1 L719.5,1011.9 L720.5,1015.8 L721.5,1019.6 L722.5,1023.5 L723.5,1027.5 L724.5,1031.5 L725.5,1035.5 L726.5,1039.5 L727.5,1043.5 L728.5,1047.6 L729.5,1051.7 L730.5,1055.8 L731.5,1059.9 L732.5,1064.1 L733.5,1068.2 L734.5,1072.4 L735.5,1076.6 L736.5,1080.7 L737.5,1084.9 L738.5,1089.1 L739.5,1093.3 L740.5,1097.5 L741.5,1101.7 L742.5,1105.9 L743.5,1110 L744.5,1114.2 L745.5,1118.4 L746.5,1122.5 L747.5,1126.7 L748.5,1130.8 L749.5,1134.9 L750.5,1139 L751.5,1143.1 L752.5,1147.2 L753.5,1151.3 L754.5,1155.3 L755.5,1159.3 L756.5,1163.3 L757.5,1167.3 L758.5,1171.2 L759.5,1175.1 L760.5,1179 L761.5,1182.9 L762.5,1186.8 L763.5,1190.6 L764.5,1194.4 L765.5,1198.1 L766.5,1201.8 L767.5,1205.5 L768.5,1209.2 L769.5,1212.8 L770.5,1216.4 L771.5,1220 L772.5,1223.5 L773.5,1227 L774.5,1230.4 L775.5,1233.9 L776.5,1237.3 L777.5,1240.6 L778.5,1243.9 L779.5,1247.2 L780.5,1250.4 L781.5,1253.6 L782.5,1256.8 L783.5,1259.9 L784.5,1263 L785.5,1266 L786.5,1269 L787.5,1272 L788.5,1274.9 L789.5,1277.8 L790.5,1280.6 L791.5,1283.4 L792.5,1286.2 L793.5,1288.9 L794.5,1291.6 L795.5,1294.2 L796.5,1296.9 L797.5,1299.4 L798.5,1301.9 L799.5,1304.4 L800.5,1306.9 L801.5,1309.3 L802.5,1311.6 L803.5,1314 L804.5,1316.3 L805.5,1318.5 L806.5,1320.7 L807.5,1322.9 L808.5,1325 L809.5,1327.1 L810.5,1329.2 L811.5,1331.2 L812.5,1333.2 L813.5,1335.1 L814.5,1337 L815.5,1338.9 L816.5,1340.7 L817.5,1342.5 L818.5,1344.3 L819.5,1346 L820.5,1347.7 L821.5,1349.4 L822.5,1351 L823.5,1352.6 L824.5,1354.2 L825.5,1355.7 L826.5,1357.2 L827.5,1358.6 L828.5,1360.1 L829.5,1361.5 L830.5,1362.8 L831.5,1364.2 L832.5,1365.5 L833.5,1366.8 L834.5,1368 L835.5,1369.2 L836.5,1370.4 L837.5,1371.6 L838.5,1372.7 L839.5,1373.8 L840.5,1374.9 L841.5,1375.9 L842.5,1376.9 L843.5,1377.9 L844.5,1378.9 L845.5,1379.9 L846.5,1380.8 L847.5,1381.7 L848.5,1382.6 L849.5,1383.4 L850.5,1384.2 L851.5,1385.1 L852.5,1385.8 L853.5,1386.6 L854.5,1387.3 L855.5,1388.1 L856.5,1388.8 L857.5,1389.5 L858.5,1390.1 L859.5,1390.8 L860.5,1391.4 L861.5,1392 L862.5,1392.6 L863.5,1393.1 L864.5,1393.7 L865.5,1394.2 L866.5,1394.8 L867.5,1395.3 L868.5,1395.8 L869.5,1396.2 L870.5,1396.7 L871.5,1397.1 L872.5,1397.6 L873.5,1398 L874.5,1398.4 L875.5,1398.8 L876.5,1399.2 L877.5,1399.5 L878.5,1399.9 L879.5,1400.2 L880.5,1400.5 L881.5,1400.9 L882.5,1401.2 L883.5,1401.5 L884.5,1401.8 L885.5,1402 L886.5,1402.3 L887.5,1402.6 L888.5,1402.8 L889.5,1403.1 L890.5,1403.3 L891.5,1403.5 L892.5,1403.7 L893.5,1403.9 L894.5,1404.1 L895.5,1404.3 L896.5,1404.5 L897.5,1404.7 L898.5,1404.9 L899.5,1405 L900.5,1405.2 L901.5,1405.3 L902.5,1405.5 L903.5,1405.6 L904.5,1405.8 L905.5,1405.9 L906.5,1406 L907.5,1406.1 L908.5,1406.3 L909.5,1406.4 L910.5,1406.5 L911.5,1406.6 L912.5,1406.7 L913.5,1406.8 L914.5,1406.8 L915.5,1406.9 L916.5,1407 L917.5,1407.1 L918.5,1407.2 L919.5,1407.2 L920.5,1407.3 L921.5,1407.4 L922.5,1407.4 L923.5,1407.5 L924.5,1407.6 L925.5,1407.6 L926.5,1407.7 L927.5,1407.7 L928.5,1407.8 L929.5,1407.8 L930.5,1407.9 L931.5,1407.9 L932.5,1407.9 L933.5,1408 L934.5,1408 L935.5,1408 L936.5,1408.1 L937.5,1408.1 L938.5,1408.1 L939.5,1408.2 L940.5,1408.2 L941.5,1408.2 L942.5,1408.3 L943.5,1408.3 L944.5,1408.3 L945.5,1408.3 L946.5,1408.3 L947.5,1408.4 L948.5,1408.4 L949.5,1408.4 L950.5,1408.4 L951.5,1408.4 L952.5,1408.4 L953.5,1408.5 L954.5,1408.5 L955.5,1408.5 L956.5,1408.5 L957.5,1408.5 L958.5,1408.5 L959.5,1408.5 L960.5,1408.5 L961.5,1408.5 L962.5,1408.6 L963.5,1408.6 L964.5,1408.6 L965.5,1408.6 L966.5,1408.6 L967.5,1408.6 L968.5,1408.6 L969.5,1408.6 L970.5,1408.6 L971.5,1408.6 L972.5,1408.6 L973.5,1408.6 L974.5,1408.6 L975.5,1408.6 L976.5,1408.6 L977.5,1408.6 L978.5,1408.6 L979.5,1408.6 L980.5,1408.7 L981.5,1408.7 L982.5,1408.7 L983.5,1408.7 L984.5,1408.7 L985.5,1408.7 L986.5,1408.7 L987.5,1408.7 L988.5,1408.7 L989.5,1408.7 L990.5,1408.7 L991.5,1408.7" fill="none" stroke="#e8206c" stroke-width="2.6" stroke-linejoin="round" stroke-linecap="round" stroke-dasharray="13 8"/>
<path d="M168.5,1408.7 L177.5,1409.1 L186.5,1408.4 L195.5,1408.8 L204.5,1408.8 L213.5,1408.9 L222.5,1408.5 L231.5,1409 L240.5,1408.5 L249.5,1408.8 L258.5,1408.7 L267.5,1408.8 L276.5,1408.6 L285.5,1408.5 L294.5,1409 L303.5,1408.4 L312.5,1408.5 L321.5,1408.4 L330.5,1408.3 L339.5,1409 L348.5,1408.1 L357.5,1408.8 L366.5,1408.4 L375.5,1407.7 L384.5,1406.9 L393.5,1406 L402.5,1404.7 L411.5,1402.7 L420.5,1400.8 L429.5,1397.7 L438.5,1393.8 L447.5,1391.7 L456.5,1387.4 L465.5,1383.1 L474.5,1378.2 L483.5,1371.3 L492.5,1362.5 L501.5,1351.3 L510.5,1337.2 L519.5,1320.9 L528.5,1301.2 L537.5,1280.2 L546.5,1256.3 L555.5,1227.3 L564.5,1197.9 L573.5,1164 L582.5,1129.6 L591.5,1093 L600.5,1061 L609.5,1030.9 L618.5,1002.9 L627.5,978.7 L636.5,957.7 L645.5,937 L654.5,921.4 L663.5,911.8 L672.5,909.3 L681.5,912.7 L690.5,927.3 L699.5,945.7 L708.5,972.7 L717.5,1005.4 L726.5,1040.3 L735.5,1074.8 L744.5,1115.5 L753.5,1151.2 L762.5,1186.9 L771.5,1219.7 L780.5,1250.3 L789.5,1277.4 L798.5,1301.6 L807.5,1322.9 L816.5,1341.1 L825.5,1355.3 L834.5,1366.1 L843.5,1374.3 L852.5,1381.6 L861.5,1389.5 L870.5,1396.1 L879.5,1400.2 L888.5,1402.7 L897.5,1404.4 L906.5,1405.8 L915.5,1406.7 L924.5,1407.9 L933.5,1408.1 L942.5,1408.1 L951.5,1408.3 L960.5,1408.3 L969.5,1408.9 L978.5,1408.5 L987.5,1409.3" fill="none" stroke="#111" stroke-width="1.65" stroke-linejoin="round" stroke-linecap="round" />
<path d="M168.5,1408.7 L169.5,1408.7 L170.5,1408.7 L171.5,1408.7 L172.5,1408.7 L173.5,1408.7 L174.5,1408.7 L175.5,1408.7 L176.5,1408.7 L177.5,1408.7 L178.5,1408.7 L179.5,1408.7 L180.5,1408.7 L181.5,1408.7 L182.5,1408.7 L183.5,1408.7 L184.5,1408.7 L185.5,1408.7 L186.5,1408.7 L187.5,1408.7 L188.5,1408.7 L189.5,1408.7 L190.5,1408.7 L191.5,1408.7 L192.5,1408.7 L193.5,1408.7 L194.5,1408.7 L195.5,1408.7 L196.5,1408.7 L197.5,1408.7 L198.5,1408.7 L199.5,1408.7 L200.5,1408.7 L201.5,1408.7 L202.5,1408.7 L203.5,1408.7 L204.5,1408.7 L205.5,1408.7 L206.5,1408.7 L207.5,1408.7 L208.5,1408.7 L209.5,1408.7 L210.5,1408.7 L211.5,1408.7 L212.5,1408.7 L213.5,1408.7 L214.5,1408.7 L215.5,1408.7 L216.5,1408.7 L217.5,1408.7 L218.5,1408.7 L219.5,1408.7 L220.5,1408.7 L221.5,1408.7 L222.5,1408.7 L223.5,1408.7 L224.5,1408.7 L225.5,1408.7 L226.5,1408.7 L227.5,1408.7 L228.5,1408.7 L229.5,1408.7 L230.5,1408.7 L231.5,1408.7 L232.5,1408.7 L233.5,1408.7 L234.5,1408.7 L235.5,1408.7 L236.5,1408.7 L237.5,1408.7 L238.5,1408.7 L239.5,1408.7 L240.5,1408.7 L241.5,1408.7 L242.5,1408.7 L243.5,1408.7 L244.5,1408.7 L245.5,1408.7 L246.5,1408.7 L247.5,1408.7 L248.5,1408.7 L249.5,1408.7 L250.5,1408.7 L251.5,1408.7 L252.5,1408.7 L253.5,1408.7 L254.5,1408.7 L255.5,1408.7 L256.5,1408.7 L257.5,1408.7 L258.5,1408.7 L259.5,1408.7 L260.5,1408.7 L261.5,1408.7 L262.5,1408.7 L263.5,1408.7 L264.5,1408.7 L265.5,1408.7 L266.5,1408.7 L267.5,1408.7 L268.5,1408.7 L269.5,1408.7 L270.5,1408.7 L271.5,1408.7 L272.5,1408.7 L273.5,1408.7 L274.5,1408.7 L275.5,1408.7 L276.5,1408.7 L277.5,1408.7 L278.5,1408.7 L279.5,1408.7 L280.5,1408.7 L281.5,1408.7 L282.5,1408.7 L283.5,1408.7 L284.5,1408.7 L285.5,1408.7 L286.5,1408.7 L287.5,1408.7 L288.5,1408.7 L289.5,1408.7 L290.5,1408.7 L291.5,1408.7 L292.5,1408.7 L293.5,1408.7 L294.5,1408.7 L295.5,1408.7 L296.5,1408.7 L297.5,1408.7 L298.5,1408.7 L299.5,1408.7 L300.5,1408.7 L301.5,1408.7 L302.5,1408.7 L303.5,1408.7 L304.5,1408.7 L305.5,1408.7 L306.5,1408.7 L307.5,1408.7 L308.5,1408.7 L309.5,1408.7 L310.5,1408.7 L311.5,1408.7 L312.5,1408.7 L313.5,1408.7 L314.5,1408.7 L315.5,1408.7 L316.5,1408.7 L317.5,1408.7 L318.5,1408.7 L319.5,1408.7 L320.5,1408.7 L321.5,1408.7 L322.5,1408.7 L323.5,1408.7 L324.5,1408.7 L325.5,1408.7 L326.5,1408.7 L327.5,1408.7 L328.5,1408.7 L329.5,1408.7 L330.5,1408.7 L331.5,1408.7 L332.5,1408.7 L333.5,1408.7 L334.5,1408.7 L335.5,1408.7 L336.5,1408.7 L337.5,1408.7 L338.5,1408.7 L339.5,1408.7 L340.5,1408.7 L341.5,1408.7 L342.5,1408.7 L343.5,1408.7 L344.5,1408.7 L345.5,1408.7 L346.5,1408.7 L347.5,1408.7 L348.5,1408.7 L349.5,1408.7 L350.5,1408.7 L351.5,1408.7 L352.5,1408.7 L353.5,1408.7 L354.5,1408.7 L355.5,1408.7 L356.5,1408.7 L357.5,1408.7 L358.5,1408.7 L359.5,1408.7 L360.5,1408.7 L361.5,1408.7 L362.5,1408.7 L363.5,1408.7 L364.5,1408.7 L365.5,1408.7 L366.5,1408.7 L367.5,1408.7 L368.5,1408.7 L369.5,1408.7 L370.5,1408.7 L371.5,1408.7 L372.5,1408.7 L373.5,1408.7 L374.5,1408.7 L375.5,1408.7 L376.5,1408.7 L377.5,1408.7 L378.5,1408.7 L379.5,1408.7 L380.5,1408.7 L381.5,1408.7 L382.5,1408.7 L383.5,1408.7 L384.5,1408.7 L385.5,1408.7 L386.5,1408.7 L387.5,1408.7 L388.5,1408.7 L389.5,1408.7 L390.5,1408.7 L391.5,1408.7 L392.5,1408.7 L393.5,1408.7 L394.5,1408.7 L395.5,1408.7 L396.5,1408.7 L397.5,1408.7 L398.5,1408.7 L399.5,1408.7 L400.5,1408.7 L401.5,1408.7 L402.5,1408.7 L403.5,1408.7 L404.5,1408.7 L405.5,1408.7 L406.5,1408.7 L407.5,1408.7 L408.5,1408.7 L409.5,1408.7 L410.5,1408.7 L411.5,1408.7 L412.5,1408.7 L413.5,1408.7 L414.5,1408.7 L415.5,1408.7 L416.5,1408.7 L417.5,1408.7 L418.5,1408.7 L419.5,1408.7 L420.5,1408.7 L421.5,1408.7 L422.5,1408.7 L423.5,1408.7 L424.5,1408.7 L425.5,1408.7 L426.5,1408.7 L427.5,1408.7 L428.5,1408.7 L429.5,1408.7 L430.5,1408.7 L431.5,1408.7 L432.5,1408.7 L433.5,1408.7 L434.5,1408.7 L435.5,1408.7 L436.5,1408.7 L437.5,1408.7 L438.5,1408.7 L439.5,1408.7 L440.5,1408.7 L441.5,1408.6 L442.5,1408.6 L443.5,1408.6 L444.5,1408.6 L445.5,1408.6 L446.5,1408.6 L447.5,1408.6 L448.5,1408.6 L449.5,1408.6 L450.5,1408.6 L451.5,1408.6 L452.5,1408.6 L453.5,1408.6 L454.5,1408.6 L455.5,1408.6 L456.5,1408.6 L457.5,1408.6 L458.5,1408.6 L459.5,1408.5 L460.5,1408.5 L461.5,1408.5 L462.5,1408.5 L463.5,1408.5 L464.5,1408.5 L465.5,1408.5 L466.5,1408.5 L467.5,1408.5 L468.5,1408.4 L469.5,1408.4 L470.5,1408.4 L471.5,1408.4 L472.5,1408.4 L473.5,1408.4 L474.5,1408.3 L475.5,1408.3 L476.5,1408.3 L477.5,1408.3 L478.5,1408.3 L479.5,1408.2 L480.5,1408.2 L481.5,1408.2 L482.5,1408.2 L483.5,1408.1 L484.5,1408.1 L485.5,1408.1 L486.5,1408 L487.5,1408 L488.5,1408 L489.5,1407.9 L490.5,1407.9 L491.5,1407.8 L492.5,1407.8 L493.5,1407.7 L494.5,1407.7 L495.5,1407.6 L496.5,1407.6 L497.5,1407.5 L498.5,1407.5 L499.5,1407.4 L500.5,1407.3 L501.5,1407.3 L502.5,1407.2 L503.5,1407.1 L504.5,1407.1 L505.5,1407 L506.5,1406.9 L507.5,1406.8 L508.5,1406.7 L509.5,1406.6 L510.5,1406.5 L511.5,1406.4 L512.5,1406.3 L513.5,1406.2 L514.5,1406.1 L515.5,1406 L516.5,1405.8 L517.5,1405.7 L518.5,1405.6 L519.5,1405.4 L520.5,1405.3 L521.5,1405.1 L522.5,1405 L523.5,1404.8 L524.5,1404.6 L525.5,1404.4 L526.5,1404.3 L527.5,1404.1 L528.5,1403.9 L529.5,1403.7 L530.5,1403.4 L531.5,1403.2 L532.5,1403 L533.5,1402.8 L534.5,1402.5 L535.5,1402.2 L536.5,1402 L537.5,1401.7 L538.5,1401.4 L539.5,1401.1 L540.5,1400.8 L541.5,1400.5 L542.5,1400.2 L543.5,1399.8 L544.5,1399.5 L545.5,1399.1 L546.5,1398.8 L547.5,1398.4 L548.5,1398 L549.5,1397.6 L550.5,1397.1 L551.5,1396.7 L552.5,1396.3 L553.5,1395.8 L554.5,1395.3 L555.5,1394.8 L556.5,1394.3 L557.5,1393.8 L558.5,1393.3 L559.5,1392.7 L560.5,1392.1 L561.5,1391.6 L562.5,1390.9 L563.5,1390.3 L564.5,1389.7 L565.5,1389 L566.5,1388.4 L567.5,1387.7 L568.5,1387 L569.5,1386.3 L570.5,1385.5 L571.5,1384.7 L572.5,1384 L573.5,1383.2 L574.5,1382.3 L575.5,1381.5 L576.5,1380.6 L577.5,1379.8 L578.5,1378.9 L579.5,1377.9 L580.5,1377 L581.5,1376 L582.5,1375 L583.5,1374 L584.5,1373 L585.5,1371.9 L586.5,1370.8 L587.5,1369.7 L588.5,1368.6 L589.5,1367.5 L590.5,1366.3 L591.5,1365.1 L592.5,1363.9 L593.5,1362.7 L594.5,1361.4 L595.5,1360.1 L596.5,1358.8 L597.5,1357.5 L598.5,1356.1 L599.5,1354.7 L600.5,1353.3 L601.5,1351.9 L602.5,1350.5 L603.5,1349 L604.5,1347.5 L605.5,1346 L606.5,1344.4 L607.5,1342.9 L608.5,1341.3 L609.5,1339.7 L610.5,1338.1 L611.5,1336.4 L612.5,1334.7 L613.5,1333 L614.5,1331.3 L615.5,1329.6 L616.5,1327.8 L617.5,1326.1 L618.5,1324.3 L619.5,1322.5 L620.5,1320.6 L621.5,1318.8 L622.5,1316.9 L623.5,1315 L624.5,1313.1 L625.5,1311.2 L626.5,1309.3 L627.5,1307.3 L628.5,1305.4 L629.5,1303.4 L630.5,1301.4 L631.5,1299.4 L632.5,1297.4 L633.5,1295.4 L634.5,1293.4 L635.5,1291.3 L636.5,1289.3 L637.5,1287.2 L638.5,1285.1 L639.5,1283.1 L640.5,1281 L641.5,1278.9 L642.5,1276.8 L643.5,1274.8 L644.5,1272.7 L645.5,1270.6 L646.5,1268.5 L647.5,1266.4 L648.5,1264.3 L649.5,1262.3 L650.5,1260.2 L651.5,1258.1 L652.5,1256 L653.5,1254 L654.5,1251.9 L655.5,1249.9 L656.5,1247.9 L657.5,1245.9 L658.5,1243.9 L659.5,1241.9 L660.5,1239.9 L661.5,1238 L662.5,1236 L663.5,1234.1 L664.5,1232.2 L665.5,1230.3 L666.5,1228.5 L667.5,1226.6 L668.5,1224.8 L669.5,1223 L670.5,1221.3 L671.5,1219.6 L672.5,1217.8 L673.5,1216.2 L674.5,1214.5 L675.5,1212.9 L676.5,1211.3 L677.5,1209.8 L678.5,1208.3 L679.5,1206.8 L680.5,1205.4 L681.5,1204 L682.5,1202.6 L683.5,1201.3 L684.5,1200 L685.5,1198.7 L686.5,1197.5 L687.5,1196.4 L688.5,1195.2 L689.5,1194.2 L690.5,1193.1 L691.5,1192.1 L692.5,1191.2 L693.5,1190.3 L694.5,1189.5 L695.5,1188.7 L696.5,1187.9 L697.5,1187.2 L698.5,1186.6 L699.5,1186 L700.5,1185.4 L701.5,1184.9 L702.5,1184.5 L703.5,1184.1 L704.5,1183.7 L705.5,1183.4 L706.5,1183.2 L707.5,1183 L708.5,1182.8 L709.5,1182.7 L710.5,1182.7 L711.5,1182.7 L712.5,1182.8 L713.5,1182.9 L714.5,1183.1 L715.5,1183.3 L716.5,1183.6 L717.5,1183.9 L718.5,1184.3 L719.5,1184.7 L720.5,1185.2 L721.5,1185.7 L722.5,1186.3 L723.5,1186.9 L724.5,1187.6 L725.5,1188.4 L726.5,1189.1 L727.5,1190 L728.5,1190.8 L729.5,1191.8 L730.5,1192.7 L731.5,1193.7 L732.5,1194.8 L733.5,1195.9 L734.5,1197.1 L735.5,1198.2 L736.5,1199.5 L737.5,1200.7 L738.5,1202.1 L739.5,1203.4 L740.5,1204.8 L741.5,1206.2 L742.5,1207.7 L743.5,1209.2 L744.5,1210.7 L745.5,1212.3 L746.5,1213.9 L747.5,1215.5 L748.5,1217.2 L749.5,1218.9 L750.5,1220.6 L751.5,1222.3 L752.5,1224.1 L753.5,1225.9 L754.5,1227.7 L755.5,1229.6 L756.5,1231.5 L757.5,1233.3 L758.5,1235.3 L759.5,1237.2 L760.5,1239.1 L761.5,1241.1 L762.5,1243.1 L763.5,1245.1 L764.5,1247.1 L765.5,1249.1 L766.5,1251.1 L767.5,1253.2 L768.5,1255.2 L769.5,1257.3 L770.5,1259.3 L771.5,1261.4 L772.5,1263.5 L773.5,1265.6 L774.5,1267.7 L775.5,1269.7 L776.5,1271.8 L777.5,1273.9 L778.5,1276 L779.5,1278.1 L780.5,1280.2 L781.5,1282.2 L782.5,1284.3 L783.5,1286.4 L784.5,1288.4 L785.5,1290.5 L786.5,1292.5 L787.5,1294.6 L788.5,1296.6 L789.5,1298.6 L790.5,1300.6 L791.5,1302.6 L792.5,1304.6 L793.5,1306.6 L794.5,1308.5 L795.5,1310.4 L796.5,1312.4 L797.5,1314.3 L798.5,1316.2 L799.5,1318 L800.5,1319.9 L801.5,1321.7 L802.5,1323.6 L803.5,1325.4 L804.5,1327.1 L805.5,1328.9 L806.5,1330.6 L807.5,1332.4 L808.5,1334.1 L809.5,1335.7 L810.5,1337.4 L811.5,1339 L812.5,1340.7 L813.5,1342.3 L814.5,1343.8 L815.5,1345.4 L816.5,1346.9 L817.5,1348.4 L818.5,1349.9 L819.5,1351.3 L820.5,1352.8 L821.5,1354.2 L822.5,1355.6 L823.5,1356.9 L824.5,1358.3 L825.5,1359.6 L826.5,1360.9 L827.5,1362.2 L828.5,1363.4 L829.5,1364.6 L830.5,1365.8 L831.5,1367 L832.5,1368.2 L833.5,1369.3 L834.5,1370.4 L835.5,1371.5 L836.5,1372.6 L837.5,1373.6 L838.5,1374.6 L839.5,1375.6 L840.5,1376.6 L841.5,1377.6 L842.5,1378.5 L843.5,1379.4 L844.5,1380.3 L845.5,1381.2 L846.5,1382 L847.5,1382.8 L848.5,1383.6 L849.5,1384.4 L850.5,1385.2 L851.5,1386 L852.5,1386.7 L853.5,1387.4 L854.5,1388.1 L855.5,1388.8 L856.5,1389.4 L857.5,1390.1 L858.5,1390.7 L859.5,1391.3 L860.5,1391.9 L861.5,1392.5 L862.5,1393 L863.5,1393.6 L864.5,1394.1 L865.5,1394.6 L866.5,1395.1 L867.5,1395.6 L868.5,1396.1 L869.5,1396.5 L870.5,1397 L871.5,1397.4 L872.5,1397.8 L873.5,1398.2 L874.5,1398.6 L875.5,1399 L876.5,1399.3 L877.5,1399.7 L878.5,1400 L879.5,1400.4 L880.5,1400.7 L881.5,1401 L882.5,1401.3 L883.5,1401.6 L884.5,1401.9 L885.5,1402.1 L886.5,1402.4 L887.5,1402.7 L888.5,1402.9 L889.5,1403.1 L890.5,1403.4 L891.5,1403.6 L892.5,1403.8 L893.5,1404 L894.5,1404.2 L895.5,1404.4 L896.5,1404.6 L897.5,1404.7 L898.5,1404.9 L899.5,1405.1 L900.5,1405.2 L901.5,1405.4 L902.5,1405.5 L903.5,1405.7 L904.5,1405.8 L905.5,1405.9 L906.5,1406 L907.5,1406.2 L908.5,1406.3 L909.5,1406.4 L910.5,1406.5 L911.5,1406.6 L912.5,1406.7 L913.5,1406.8 L914.5,1406.9 L915.5,1406.9 L916.5,1407 L917.5,1407.1 L918.5,1407.2 L919.5,1407.3 L920.5,1407.3 L921.5,1407.4 L922.5,1407.4 L923.5,1407.5 L924.5,1407.6 L925.5,1407.6 L926.5,1407.7 L927.5,1407.7 L928.5,1407.8 L929.5,1407.8 L930.5,1407.9 L931.5,1407.9 L932.5,1407.9 L933.5,1408 L934.5,1408 L935.5,1408.1 L936.5,1408.1 L937.5,1408.1 L938.5,1408.1 L939.5,1408.2 L940.5,1408.2 L941.5,1408.2 L942.5,1408.3 L943.5,1408.3 L944.5,1408.3 L945.5,1408.3 L946.5,1408.3 L947.5,1408.4 L948.5,1408.4 L949.5,1408.4 L950.5,1408.4 L951.5,1408.4 L952.5,1408.4 L953.5,1408.5 L954.5,1408.5 L955.5,1408.5 L956.5,1408.5 L957.5,1408.5 L958.5,1408.5 L959.5,1408.5 L960.5,1408.5 L961.5,1408.5 L962.5,1408.6 L963.5,1408.6 L964.5,1408.6 L965.5,1408.6 L966.5,1408.6 L967.5,1408.6 L968.5,1408.6 L969.5,1408.6 L970.5,1408.6 L971.5,1408.6 L972.5,1408.6 L973.5,1408.6 L974.5,1408.6 L975.5,1408.6 L976.5,1408.6 L977.5,1408.6 L978.5,1408.6 L979.5,1408.6 L980.5,1408.7 L981.5,1408.7 L982.5,1408.7 L983.5,1408.7 L984.5,1408.7 L985.5,1408.7 L986.5,1408.7 L987.5,1408.7 L988.5,1408.7 L989.5,1408.7 L990.5,1408.7 L991.5,1408.7" fill="none" stroke="#dc3444" stroke-width="1.5" stroke-linejoin="round" stroke-linecap="round" />
<path d="M168.5,1408.7 L169.5,1408.7 L170.5,1408.7 L171.5,1408.7 L172.5,1408.7 L173.5,1408.7 L174.5,1408.7 L175.5,1408.7 L176.5,1408.7 L177.5,1408.7 L178.5,1408.7 L179.5,1408.7 L180.5,1408.7 L181.5,1408.7 L182.5,1408.7 L183.5,1408.7 L184.5,1408.7 L185.5,1408.7 L186.5,1408.7 L187.5,1408.7 L188.5,1408.7 L189.5,1408.7 L190.5,1408.7 L191.5,1408.7 L192.5,1408.7 L193.5,1408.7 L194.5,1408.7 L195.5,1408.7 L196.5,1408.7 L197.5,1408.7 L198.5,1408.7 L199.5,1408.7 L200.5,1408.7 L201.5,1408.7 L202.5,1408.7 L203.5,1408.7 L204.5,1408.7 L205.5,1408.7 L206.5,1408.7 L207.5,1408.7 L208.5,1408.7 L209.5,1408.7 L210.5,1408.7 L211.5,1408.7 L212.5,1408.7 L213.5,1408.7 L214.5,1408.7 L215.5,1408.7 L216.5,1408.7 L217.5,1408.7 L218.5,1408.7 L219.5,1408.7 L220.5,1408.7 L221.5,1408.7 L222.5,1408.7 L223.5,1408.7 L224.5,1408.7 L225.5,1408.7 L226.5,1408.7 L227.5,1408.7 L228.5,1408.7 L229.5,1408.7 L230.5,1408.7 L231.5,1408.7 L232.5,1408.7 L233.5,1408.7 L234.5,1408.7 L235.5,1408.7 L236.5,1408.7 L237.5,1408.7 L238.5,1408.7 L239.5,1408.7 L240.5,1408.7 L241.5,1408.7 L242.5,1408.7 L243.5,1408.7 L244.5,1408.7 L245.5,1408.7 L246.5,1408.7 L247.5,1408.7 L248.5,1408.7 L249.5,1408.7 L250.5,1408.7 L251.5,1408.7 L252.5,1408.7 L253.5,1408.7 L254.5,1408.7 L255.5,1408.7 L256.5,1408.7 L257.5,1408.7 L258.5,1408.7 L259.5,1408.7 L260.5,1408.7 L261.5,1408.7 L262.5,1408.7 L263.5,1408.7 L264.5,1408.7 L265.5,1408.7 L266.5,1408.7 L267.5,1408.7 L268.5,1408.7 L269.5,1408.7 L270.5,1408.7 L271.5,1408.7 L272.5,1408.7 L273.5,1408.7 L274.5,1408.7 L275.5,1408.7 L276.5,1408.7 L277.5,1408.7 L278.5,1408.7 L279.5,1408.7 L280.5,1408.7 L281.5,1408.7 L282.5,1408.7 L283.5,1408.7 L284.5,1408.7 L285.5,1408.7 L286.5,1408.7 L287.5,1408.7 L288.5,1408.7 L289.5,1408.7 L290.5,1408.7 L291.5,1408.7 L292.5,1408.7 L293.5,1408.7 L294.5,1408.7 L295.5,1408.7 L296.5,1408.7 L297.5,1408.7 L298.5,1408.7 L299.5,1408.7 L300.5,1408.7 L301.5,1408.7 L302.5,1408.7 L303.5,1408.7 L304.5,1408.7 L305.5,1408.7 L306.5,1408.7 L307.5,1408.7 L308.5,1408.7 L309.5,1408.7 L310.5,1408.7 L311.5,1408.7 L312.5,1408.7 L313.5,1408.7 L314.5,1408.7 L315.5,1408.7 L316.5,1408.7 L317.5,1408.7 L318.5,1408.7 L319.5,1408.7 L320.5,1408.7 L321.5,1408.7 L322.5,1408.7 L323.5,1408.7 L324.5,1408.7 L325.5,1408.7 L326.5,1408.7 L327.5,1408.7 L328.5,1408.7 L329.5,1408.7 L330.5,1408.7 L331.5,1408.7 L332.5,1408.7 L333.5,1408.7 L334.5,1408.7 L335.5,1408.7 L336.5,1408.7 L337.5,1408.7 L338.5,1408.7 L339.5,1408.7 L340.5,1408.7 L341.5,1408.7 L342.5,1408.7 L343.5,1408.7 L344.5,1408.7 L345.5,1408.7 L346.5,1408.7 L347.5,1408.7 L348.5,1408.7 L349.5,1408.7 L350.5,1408.7 L351.5,1408.7 L352.5,1408.7 L353.5,1408.7 L354.5,1408.7 L355.5,1408.7 L356.5,1408.7 L357.5,1408.7 L358.5,1408.7 L359.5,1408.7 L360.5,1408.7 L361.5,1408.7 L362.5,1408.7 L363.5,1408.7 L364.5,1408.7 L365.5,1408.7 L366.5,1408.7 L367.5,1408.7 L368.5,1408.7 L369.5,1408.7 L370.5,1408.7 L371.5,1408.7 L372.5,1408.7 L373.5,1408.7 L374.5,1408.7 L375.5,1408.7 L376.5,1408.7 L377.5,1408.7 L378.5,1408.7 L379.5,1408.7 L380.5,1408.7 L381.5,1408.7 L382.5,1408.7 L383.5,1408.7 L384.5,1408.7 L385.5,1408.7 L386.5,1408.7 L387.5,1408.7 L388.5,1408.7 L389.5,1408.7 L390.5,1408.7 L391.5,1408.7 L392.5,1408.7 L393.5,1408.7 L394.5,1408.7 L395.5,1408.7 L396.5,1408.7 L397.5,1408.7 L398.5,1408.7 L399.5,1408.7 L400.5,1408.7 L401.5,1408.7 L402.5,1408.7 L403.5,1408.7 L404.5,1408.7 L405.5,1408.7 L406.5,1408.7 L407.5,1408.7 L408.5,1408.7 L409.5,1408.7 L410.5,1408.7 L411.5,1408.7 L412.5,1408.7 L413.5,1408.7 L414.5,1408.7 L415.5,1408.7 L416.5,1408.7 L417.5,1408.7 L418.5,1408.6 L419.5,1408.6 L420.5,1408.6 L421.5,1408.6 L422.5,1408.6 L423.5,1408.6 L424.5,1408.6 L425.5,1408.6 L426.5,1408.6 L427.5,1408.6 L428.5,1408.6 L429.5,1408.6 L430.5,1408.6 L431.5,1408.6 L432.5,1408.6 L433.5,1408.5 L434.5,1408.5 L435.5,1408.5 L436.5,1408.5 L437.5,1408.5 L438.5,1408.5 L439.5,1408.5 L440.5,1408.5 L441.5,1408.4 L442.5,1408.4 L443.5,1408.4 L444.5,1408.4 L445.5,1408.4 L446.5,1408.3 L447.5,1408.3 L448.5,1408.3 L449.5,1408.3 L450.5,1408.2 L451.5,1408.2 L452.5,1408.2 L453.5,1408.1 L454.5,1408.1 L455.5,1408.1 L456.5,1408 L457.5,1408 L458.5,1407.9 L459.5,1407.9 L460.5,1407.8 L461.5,1407.8 L462.5,1407.7 L463.5,1407.7 L464.5,1407.6 L465.5,1407.5 L466.5,1407.5 L467.5,1407.4 L468.5,1407.3 L469.5,1407.2 L470.5,1407.1 L471.5,1407 L472.5,1406.9 L473.5,1406.8 L474.5,1406.7 L475.5,1406.6 L476.5,1406.5 L477.5,1406.4 L478.5,1406.2 L479.5,1406.1 L480.5,1406 L481.5,1405.8 L482.5,1405.6 L483.5,1405.5 L484.5,1405.3 L485.5,1405.1 L486.5,1404.9 L487.5,1404.7 L488.5,1404.5 L489.5,1404.3 L490.5,1404.1 L491.5,1403.8 L492.5,1403.6 L493.5,1403.3 L494.5,1403 L495.5,1402.7 L496.5,1402.4 L497.5,1402.1 L498.5,1401.8 L499.5,1401.4 L500.5,1401.1 L501.5,1400.7 L502.5,1400.3 L503.5,1399.9 L504.5,1399.5 L505.5,1399 L506.5,1398.6 L507.5,1398.1 L508.5,1397.6 L509.5,1397.1 L510.5,1396.6 L511.5,1396 L512.5,1395.4 L513.5,1394.8 L514.5,1394.2 L515.5,1393.6 L516.5,1392.9 L517.5,1392.2 L518.5,1391.5 L519.5,1390.8 L520.5,1390 L521.5,1389.2 L522.5,1388.4 L523.5,1387.5 L524.5,1386.6 L525.5,1385.7 L526.5,1384.8 L527.5,1383.8 L528.5,1382.8 L529.5,1381.8 L530.5,1380.7 L531.5,1379.6 L532.5,1378.5 L533.5,1377.3 L534.5,1376.1 L535.5,1374.9 L536.5,1373.6 L537.5,1372.3 L538.5,1370.9 L539.5,1369.6 L540.5,1368.1 L541.5,1366.7 L542.5,1365.2 L543.5,1363.6 L544.5,1362 L545.5,1360.4 L546.5,1358.7 L547.5,1357 L548.5,1355.3 L549.5,1353.5 L550.5,1351.6 L551.5,1349.8 L552.5,1347.8 L553.5,1345.9 L554.5,1343.9 L555.5,1341.8 L556.5,1339.7 L557.5,1337.6 L558.5,1335.4 L559.5,1333.2 L560.5,1330.9 L561.5,1328.6 L562.5,1326.2 L563.5,1323.8 L564.5,1321.4 L565.5,1318.9 L566.5,1316.3 L567.5,1313.8 L568.5,1311.1 L569.5,1308.5 L570.5,1305.8 L571.5,1303.1 L572.5,1300.3 L573.5,1297.5 L574.5,1294.6 L575.5,1291.7 L576.5,1288.8 L577.5,1285.8 L578.5,1282.8 L579.5,1279.8 L580.5,1276.7 L581.5,1273.6 L582.5,1270.5 L583.5,1267.4 L584.5,1264.2 L585.5,1261 L586.5,1257.7 L587.5,1254.5 L588.5,1251.2 L589.5,1247.9 L590.5,1244.6 L591.5,1241.3 L592.5,1237.9 L593.5,1234.6 L594.5,1231.2 L595.5,1227.8 L596.5,1224.4 L597.5,1221 L598.5,1217.6 L599.5,1214.2 L600.5,1210.8 L601.5,1207.4 L602.5,1204 L603.5,1200.7 L604.5,1197.3 L605.5,1193.9 L606.5,1190.6 L607.5,1187.2 L608.5,1183.9 L609.5,1180.6 L610.5,1177.3 L611.5,1174.1 L612.5,1170.9 L613.5,1167.7 L614.5,1164.5 L615.5,1161.4 L616.5,1158.3 L617.5,1155.3 L618.5,1152.3 L619.5,1149.3 L620.5,1146.4 L621.5,1143.5 L622.5,1140.7 L623.5,1138 L624.5,1135.2 L625.5,1132.6 L626.5,1130 L627.5,1127.5 L628.5,1125 L629.5,1122.6 L630.5,1120.3 L631.5,1118.1 L632.5,1115.9 L633.5,1113.8 L634.5,1111.7 L635.5,1109.8 L636.5,1107.9 L637.5,1106.1 L638.5,1104.4 L639.5,1102.8 L640.5,1101.2 L641.5,1099.8 L642.5,1098.4 L643.5,1097.2 L644.5,1096 L645.5,1094.9 L646.5,1093.9 L647.5,1093 L648.5,1092.2 L649.5,1091.5 L650.5,1090.8 L651.5,1090.3 L652.5,1089.9 L653.5,1089.6 L654.5,1089.4 L655.5,1089.2 L656.5,1089.2 L657.5,1089.3 L658.5,1089.4 L659.5,1089.7 L660.5,1090.1 L661.5,1090.5 L662.5,1091.1 L663.5,1091.7 L664.5,1092.5 L665.5,1093.3 L666.5,1094.3 L667.5,1095.3 L668.5,1096.4 L669.5,1097.7 L670.5,1099 L671.5,1100.4 L672.5,1101.8 L673.5,1103.4 L674.5,1105.1 L675.5,1106.8 L676.5,1108.6 L677.5,1110.6 L678.5,1112.5 L679.5,1114.6 L680.5,1116.7 L681.5,1118.9 L682.5,1121.2 L683.5,1123.6 L684.5,1126 L685.5,1128.5 L686.5,1131 L687.5,1133.7 L688.5,1136.3 L689.5,1139 L690.5,1141.8 L691.5,1144.7 L692.5,1147.6 L693.5,1150.5 L694.5,1153.5 L695.5,1156.5 L696.5,1159.5 L697.5,1162.7 L698.5,1165.8 L699.5,1169 L700.5,1172.2 L701.5,1175.4 L702.5,1178.7 L703.5,1181.9 L704.5,1185.2 L705.5,1188.6 L706.5,1191.9 L707.5,1195.3 L708.5,1198.6 L709.5,1202 L710.5,1205.4 L711.5,1208.8 L712.5,1212.2 L713.5,1215.6 L714.5,1219 L715.5,1222.4 L716.5,1225.8 L717.5,1229.2 L718.5,1232.5 L719.5,1235.9 L720.5,1239.3 L721.5,1242.6 L722.5,1245.9 L723.5,1249.2 L724.5,1252.5 L725.5,1255.8 L726.5,1259 L727.5,1262.3 L728.5,1265.5 L729.5,1268.6 L730.5,1271.8 L731.5,1274.9 L732.5,1278 L733.5,1281 L734.5,1284 L735.5,1287 L736.5,1290 L737.5,1292.9 L738.5,1295.8 L739.5,1298.6 L740.5,1301.4 L741.5,1304.2 L742.5,1306.9 L743.5,1309.6 L744.5,1312.2 L745.5,1314.8 L746.5,1317.4 L747.5,1319.9 L748.5,1322.3 L749.5,1324.8 L750.5,1327.2 L751.5,1329.5 L752.5,1331.8 L753.5,1334.1 L754.5,1336.3 L755.5,1338.4 L756.5,1340.6 L757.5,1342.6 L758.5,1344.7 L759.5,1346.7 L760.5,1348.6 L761.5,1350.5 L762.5,1352.4 L763.5,1354.2 L764.5,1356 L765.5,1357.7 L766.5,1359.4 L767.5,1361.1 L768.5,1362.7 L769.5,1364.2 L770.5,1365.8 L771.5,1367.3 L772.5,1368.7 L773.5,1370.1 L774.5,1371.5 L775.5,1372.8 L776.5,1374.1 L777.5,1375.4 L778.5,1376.6 L779.5,1377.8 L780.5,1378.9 L781.5,1380.1 L782.5,1381.2 L783.5,1382.2 L784.5,1383.2 L785.5,1384.2 L786.5,1385.2 L787.5,1386.1 L788.5,1387 L789.5,1387.9 L790.5,1388.7 L791.5,1389.5 L792.5,1390.3 L793.5,1391.1 L794.5,1391.8 L795.5,1392.5 L796.5,1393.2 L797.5,1393.8 L798.5,1394.5 L799.5,1395.1 L800.5,1395.7 L801.5,1396.2 L802.5,1396.8 L803.5,1397.3 L804.5,1397.8 L805.5,1398.3 L806.5,1398.8 L807.5,1399.2 L808.5,1399.7 L809.5,1400.1 L810.5,1400.5 L811.5,1400.9 L812.5,1401.2 L813.5,1401.6 L814.5,1401.9 L815.5,1402.2 L816.5,1402.5 L817.5,1402.8 L818.5,1403.1 L819.5,1403.4 L820.5,1403.7 L821.5,1403.9 L822.5,1404.1 L823.5,1404.4 L824.5,1404.6 L825.5,1404.8 L826.5,1405 L827.5,1405.2 L828.5,1405.4 L829.5,1405.5 L830.5,1405.7 L831.5,1405.9 L832.5,1406 L833.5,1406.2 L834.5,1406.3 L835.5,1406.4 L836.5,1406.5 L837.5,1406.7 L838.5,1406.8 L839.5,1406.9 L840.5,1407 L841.5,1407.1 L842.5,1407.2 L843.5,1407.2 L844.5,1407.3 L845.5,1407.4 L846.5,1407.5 L847.5,1407.5 L848.5,1407.6 L849.5,1407.7 L850.5,1407.7 L851.5,1407.8 L852.5,1407.8 L853.5,1407.9 L854.5,1407.9 L855.5,1408 L856.5,1408 L857.5,1408.1 L858.5,1408.1 L859.5,1408.1 L860.5,1408.2 L861.5,1408.2 L862.5,1408.2 L863.5,1408.3 L864.5,1408.3 L865.5,1408.3 L866.5,1408.3 L867.5,1408.4 L868.5,1408.4 L869.5,1408.4 L870.5,1408.4 L871.5,1408.4 L872.5,1408.5 L873.5,1408.5 L874.5,1408.5 L875.5,1408.5 L876.5,1408.5 L877.5,1408.5 L878.5,1408.5 L879.5,1408.6 L880.5,1408.6 L881.5,1408.6 L882.5,1408.6 L883.5,1408.6 L884.5,1408.6 L885.5,1408.6 L886.5,1408.6 L887.5,1408.6 L888.5,1408.6 L889.5,1408.6 L890.5,1408.6 L891.5,1408.6 L892.5,1408.6 L893.5,1408.6 L894.5,1408.6 L895.5,1408.7 L896.5,1408.7 L897.5,1408.7 L898.5,1408.7 L899.5,1408.7 L900.5,1408.7 L901.5,1408.7 L902.5,1408.7 L903.5,1408.7 L904.5,1408.7 L905.5,1408.7 L906.5,1408.7 L907.5,1408.7 L908.5,1408.7 L909.5,1408.7 L910.5,1408.7 L911.5,1408.7 L912.5,1408.7 L913.5,1408.7 L914.5,1408.7 L915.5,1408.7 L916.5,1408.7 L917.5,1408.7 L918.5,1408.7 L919.5,1408.7 L920.5,1408.7 L921.5,1408.7 L922.5,1408.7 L923.5,1408.7 L924.5,1408.7 L925.5,1408.7 L926.5,1408.7 L927.5,1408.7 L928.5,1408.7 L929.5,1408.7 L930.5,1408.7 L931.5,1408.7 L932.5,1408.7 L933.5,1408.7 L934.5,1408.7 L935.5,1408.7 L936.5,1408.7 L937.5,1408.7 L938.5,1408.7 L939.5,1408.7 L940.5,1408.7 L941.5,1408.7 L942.5,1408.7 L943.5,1408.7 L944.5,1408.7 L945.5,1408.7 L946.5,1408.7 L947.5,1408.7 L948.5,1408.7 L949.5,1408.7 L950.5,1408.7 L951.5,1408.7 L952.5,1408.7 L953.5,1408.7 L954.5,1408.7 L955.5,1408.7 L956.5,1408.7 L957.5,1408.7 L958.5,1408.7 L959.5,1408.7 L960.5,1408.7 L961.5,1408.7 L962.5,1408.7 L963.5,1408.7 L964.5,1408.7 L965.5,1408.7 L966.5,1408.7 L967.5,1408.7 L968.5,1408.7 L969.5,1408.7 L970.5,1408.7 L971.5,1408.7 L972.5,1408.7 L973.5,1408.7 L974.5,1408.7 L975.5,1408.7 L976.5,1408.7 L977.5,1408.7 L978.5,1408.7 L979.5,1408.7 L980.5,1408.7 L981.5,1408.7 L982.5,1408.7 L983.5,1408.7 L984.5,1408.7 L985.5,1408.7 L986.5,1408.7 L987.5,1408.7 L988.5,1408.7 L989.5,1408.7 L990.5,1408.7 L991.5,1408.7" fill="none" stroke="#ec8438" stroke-width="1.5" stroke-linejoin="round" stroke-linecap="round" />
<path d="M168.5,1408.7 L169.5,1408.7 L170.5,1408.7 L171.5,1408.7 L172.5,1408.7 L173.5,1408.7 L174.5,1408.7 L175.5,1408.7 L176.5,1408.7 L177.5,1408.7 L178.5,1408.7 L179.5,1408.7 L180.5,1408.7 L181.5,1408.7 L182.5,1408.7 L183.5,1408.7 L184.5,1408.7 L185.5,1408.7 L186.5,1408.7 L187.5,1408.7 L188.5,1408.7 L189.5,1408.7 L190.5,1408.7 L191.5,1408.7 L192.5,1408.7 L193.5,1408.7 L194.5,1408.7 L195.5,1408.7 L196.5,1408.7 L197.5,1408.7 L198.5,1408.7 L199.5,1408.7 L200.5,1408.7 L201.5,1408.7 L202.5,1408.7 L203.5,1408.7 L204.5,1408.7 L205.5,1408.7 L206.5,1408.7 L207.5,1408.7 L208.5,1408.7 L209.5,1408.7 L210.5,1408.7 L211.5,1408.7 L212.5,1408.7 L213.5,1408.7 L214.5,1408.7 L215.5,1408.7 L216.5,1408.7 L217.5,1408.7 L218.5,1408.7 L219.5,1408.7 L220.5,1408.7 L221.5,1408.7 L222.5,1408.7 L223.5,1408.7 L224.5,1408.7 L225.5,1408.7 L226.5,1408.7 L227.5,1408.7 L228.5,1408.7 L229.5,1408.7 L230.5,1408.7 L231.5,1408.7 L232.5,1408.7 L233.5,1408.7 L234.5,1408.7 L235.5,1408.7 L236.5,1408.7 L237.5,1408.7 L238.5,1408.7 L239.5,1408.7 L240.5,1408.7 L241.5,1408.7 L242.5,1408.7 L243.5,1408.7 L244.5,1408.7 L245.5,1408.7 L246.5,1408.7 L247.5,1408.7 L248.5,1408.7 L249.5,1408.7 L250.5,1408.7 L251.5,1408.7 L252.5,1408.7 L253.5,1408.7 L254.5,1408.7 L255.5,1408.7 L256.5,1408.7 L257.5,1408.7 L258.5,1408.7 L259.5,1408.7 L260.5,1408.7 L261.5,1408.7 L262.5,1408.7 L263.5,1408.7 L264.5,1408.7 L265.5,1408.7 L266.5,1408.7 L267.5,1408.7 L268.5,1408.7 L269.5,1408.7 L270.5,1408.7 L271.5,1408.7 L272.5,1408.7 L273.5,1408.7 L274.5,1408.7 L275.5,1408.7 L276.5,1408.7 L277.5,1408.7 L278.5,1408.7 L279.5,1408.7 L280.5,1408.7 L281.5,1408.7 L282.5,1408.7 L283.5,1408.7 L284.5,1408.7 L285.5,1408.7 L286.5,1408.7 L287.5,1408.7 L288.5,1408.7 L289.5,1408.7 L290.5,1408.7 L291.5,1408.7 L292.5,1408.7 L293.5,1408.7 L294.5,1408.7 L295.5,1408.7 L296.5,1408.7 L297.5,1408.7 L298.5,1408.7 L299.5,1408.7 L300.5,1408.7 L301.5,1408.7 L302.5,1408.7 L303.5,1408.7 L304.5,1408.7 L305.5,1408.7 L306.5,1408.7 L307.5,1408.7 L308.5,1408.7 L309.5,1408.7 L310.5,1408.7 L311.5,1408.7 L312.5,1408.7 L313.5,1408.7 L314.5,1408.7 L315.5,1408.7 L316.5,1408.7 L317.5,1408.7 L318.5,1408.7 L319.5,1408.7 L320.5,1408.7 L321.5,1408.7 L322.5,1408.7 L323.5,1408.7 L324.5,1408.7 L325.5,1408.7 L326.5,1408.7 L327.5,1408.7 L328.5,1408.7 L329.5,1408.7 L330.5,1408.7 L331.5,1408.7 L332.5,1408.7 L333.5,1408.7 L334.5,1408.7 L335.5,1408.7 L336.5,1408.7 L337.5,1408.7 L338.5,1408.7 L339.5,1408.7 L340.5,1408.7 L341.5,1408.7 L342.5,1408.7 L343.5,1408.7 L344.5,1408.7 L345.5,1408.7 L346.5,1408.7 L347.5,1408.7 L348.5,1408.7 L349.5,1408.7 L350.5,1408.7 L351.5,1408.7 L352.5,1408.7 L353.5,1408.7 L354.5,1408.7 L355.5,1408.7 L356.5,1408.7 L357.5,1408.7 L358.5,1408.7 L359.5,1408.7 L360.5,1408.7 L361.5,1408.7 L362.5,1408.7 L363.5,1408.7 L364.5,1408.7 L365.5,1408.7 L366.5,1408.7 L367.5,1408.7 L368.5,1408.7 L369.5,1408.7 L370.5,1408.7 L371.5,1408.7 L372.5,1408.7 L373.5,1408.7 L374.5,1408.7 L375.5,1408.7 L376.5,1408.7 L377.5,1408.7 L378.5,1408.7 L379.5,1408.7 L380.5,1408.7 L381.5,1408.7 L382.5,1408.7 L383.5,1408.7 L384.5,1408.7 L385.5,1408.7 L386.5,1408.7 L387.5,1408.7 L388.5,1408.7 L389.5,1408.7 L390.5,1408.7 L391.5,1408.7 L392.5,1408.7 L393.5,1408.7 L394.5,1408.7 L395.5,1408.7 L396.5,1408.7 L397.5,1408.7 L398.5,1408.7 L399.5,1408.7 L400.5,1408.7 L401.5,1408.7 L402.5,1408.7 L403.5,1408.7 L404.5,1408.7 L405.5,1408.7 L406.5,1408.7 L407.5,1408.7 L408.5,1408.7 L409.5,1408.7 L410.5,1408.7 L411.5,1408.7 L412.5,1408.7 L413.5,1408.7 L414.5,1408.7 L415.5,1408.7 L416.5,1408.7 L417.5,1408.7 L418.5,1408.7 L419.5,1408.7 L420.5,1408.7 L421.5,1408.7 L422.5,1408.7 L423.5,1408.7 L424.5,1408.7 L425.5,1408.7 L426.5,1408.7 L427.5,1408.7 L428.5,1408.7 L429.5,1408.7 L430.5,1408.7 L431.5,1408.7 L432.5,1408.7 L433.5,1408.7 L434.5,1408.7 L435.5,1408.7 L436.5,1408.7 L437.5,1408.7 L438.5,1408.7 L439.5,1408.7 L440.5,1408.7 L441.5,1408.7 L442.5,1408.7 L443.5,1408.7 L444.5,1408.7 L445.5,1408.7 L446.5,1408.7 L447.5,1408.7 L448.5,1408.7 L449.5,1408.7 L450.5,1408.7 L451.5,1408.7 L452.5,1408.7 L453.5,1408.7 L454.5,1408.7 L455.5,1408.7 L456.5,1408.7 L457.5,1408.7 L458.5,1408.7 L459.5,1408.7 L460.5,1408.7 L461.5,1408.7 L462.5,1408.7 L463.5,1408.7 L464.5,1408.7 L465.5,1408.7 L466.5,1408.7 L467.5,1408.7 L468.5,1408.7 L469.5,1408.7 L470.5,1408.7 L471.5,1408.7 L472.5,1408.7 L473.5,1408.7 L474.5,1408.7 L475.5,1408.7 L476.5,1408.7 L477.5,1408.7 L478.5,1408.7 L479.5,1408.7 L480.5,1408.7 L481.5,1408.7 L482.5,1408.7 L483.5,1408.7 L484.5,1408.7 L485.5,1408.7 L486.5,1408.6 L487.5,1408.6 L488.5,1408.6 L489.5,1408.6 L490.5,1408.6 L491.5,1408.6 L492.5,1408.6 L493.5,1408.6 L494.5,1408.6 L495.5,1408.5 L496.5,1408.5 L497.5,1408.5 L498.5,1408.5 L499.5,1408.4 L500.5,1408.4 L501.5,1408.4 L502.5,1408.3 L503.5,1408.3 L504.5,1408.2 L505.5,1408.2 L506.5,1408.1 L507.5,1408.1 L508.5,1408 L509.5,1407.9 L510.5,1407.8 L511.5,1407.7 L512.5,1407.6 L513.5,1407.5 L514.5,1407.4 L515.5,1407.3 L516.5,1407.1 L517.5,1407 L518.5,1406.8 L519.5,1406.6 L520.5,1406.4 L521.5,1406.2 L522.5,1406 L523.5,1405.7 L524.5,1405.5 L525.5,1405.2 L526.5,1404.9 L527.5,1404.5 L528.5,1404.2 L529.5,1403.8 L530.5,1403.4 L531.5,1403 L532.5,1402.5 L533.5,1402 L534.5,1401.5 L535.5,1400.9 L536.5,1400.4 L537.5,1399.8 L538.5,1399.1 L539.5,1398.4 L540.5,1397.7 L541.5,1396.9 L542.5,1396.2 L543.5,1395.3 L544.5,1394.5 L545.5,1393.6 L546.5,1392.6 L547.5,1391.6 L548.5,1390.6 L549.5,1389.6 L550.5,1388.5 L551.5,1387.3 L552.5,1386.2 L553.5,1385 L554.5,1383.7 L555.5,1382.4 L556.5,1381.1 L557.5,1379.8 L558.5,1378.4 L559.5,1377 L560.5,1375.6 L561.5,1374.2 L562.5,1372.7 L563.5,1371.3 L564.5,1369.8 L565.5,1368.3 L566.5,1366.8 L567.5,1365.2 L568.5,1363.7 L569.5,1362.2 L570.5,1360.7 L571.5,1359.2 L572.5,1357.7 L573.5,1356.3 L574.5,1354.8 L575.5,1353.4 L576.5,1352 L577.5,1350.7 L578.5,1349.4 L579.5,1348.1 L580.5,1346.9 L581.5,1345.7 L582.5,1344.6 L583.5,1343.5 L584.5,1342.5 L585.5,1341.6 L586.5,1340.7 L587.5,1339.9 L588.5,1339.2 L589.5,1338.6 L590.5,1338 L591.5,1337.5 L592.5,1337.1 L593.5,1336.8 L594.5,1336.5 L595.5,1336.4 L596.5,1336.3 L597.5,1336.3 L598.5,1336.4 L599.5,1336.6 L600.5,1336.9 L601.5,1337.2 L602.5,1337.7 L603.5,1338.2 L604.5,1338.8 L605.5,1339.5 L606.5,1340.2 L607.5,1341.1 L608.5,1342 L609.5,1342.9 L610.5,1343.9 L611.5,1345 L612.5,1346.2 L613.5,1347.4 L614.5,1348.6 L615.5,1349.9 L616.5,1351.2 L617.5,1352.6 L618.5,1354 L619.5,1355.4 L620.5,1356.9 L621.5,1358.3 L622.5,1359.8 L623.5,1361.3 L624.5,1362.8 L625.5,1364.3 L626.5,1365.8 L627.5,1367.4 L628.5,1368.9 L629.5,1370.4 L630.5,1371.8 L631.5,1373.3 L632.5,1374.8 L633.5,1376.2 L634.5,1377.6 L635.5,1379 L636.5,1380.3 L637.5,1381.7 L638.5,1383 L639.5,1384.2 L640.5,1385.4 L641.5,1386.6 L642.5,1387.8 L643.5,1388.9 L644.5,1390 L645.5,1391 L646.5,1392 L647.5,1393 L648.5,1393.9 L649.5,1394.8 L650.5,1395.7 L651.5,1396.5 L652.5,1397.3 L653.5,1398 L654.5,1398.7 L655.5,1399.4 L656.5,1400 L657.5,1400.6 L658.5,1401.2 L659.5,1401.7 L660.5,1402.2 L661.5,1402.7 L662.5,1403.1 L663.5,1403.6 L664.5,1404 L665.5,1404.3 L666.5,1404.7 L667.5,1405 L668.5,1405.3 L669.5,1405.6 L670.5,1405.8 L671.5,1406.1 L672.5,1406.3 L673.5,1406.5 L674.5,1406.7 L675.5,1406.9 L676.5,1407 L677.5,1407.2 L678.5,1407.3 L679.5,1407.5 L680.5,1407.6 L681.5,1407.7 L682.5,1407.8 L683.5,1407.9 L684.5,1408 L685.5,1408 L686.5,1408.1 L687.5,1408.2 L688.5,1408.2 L689.5,1408.3 L690.5,1408.3 L691.5,1408.3 L692.5,1408.4 L693.5,1408.4 L694.5,1408.5 L695.5,1408.5 L696.5,1408.5 L697.5,1408.5 L698.5,1408.5 L699.5,1408.6 L700.5,1408.6 L701.5,1408.6 L702.5,1408.6 L703.5,1408.6 L704.5,1408.6 L705.5,1408.6 L706.5,1408.6 L707.5,1408.7 L708.5,1408.7 L709.5,1408.7 L710.5,1408.7 L711.5,1408.7 L712.5,1408.7 L713.5,1408.7 L714.5,1408.7 L715.5,1408.7 L716.5,1408.7 L717.5,1408.7 L718.5,1408.7 L719.5,1408.7 L720.5,1408.7 L721.5,1408.7 L722.5,1408.7 L723.5,1408.7 L724.5,1408.7 L725.5,1408.7 L726.5,1408.7 L727.5,1408.7 L728.5,1408.7 L729.5,1408.7 L730.5,1408.7 L731.5,1408.7 L732.5,1408.7 L733.5,1408.7 L734.5,1408.7 L735.5,1408.7 L736.5,1408.7 L737.5,1408.7 L738.5,1408.7 L739.5,1408.7 L740.5,1408.7 L741.5,1408.7 L742.5,1408.7 L743.5,1408.7 L744.5,1408.7 L745.5,1408.7 L746.5,1408.7 L747.5,1408.7 L748.5,1408.7 L749.5,1408.7 L750.5,1408.7 L751.5,1408.7 L752.5,1408.7 L753.5,1408.7 L754.5,1408.7 L755.5,1408.7 L756.5,1408.7 L757.5,1408.7 L758.5,1408.7 L759.5,1408.7 L760.5,1408.7 L761.5,1408.7 L762.5,1408.7 L763.5,1408.7 L764.5,1408.7 L765.5,1408.7 L766.5,1408.7 L767.5,1408.7 L768.5,1408.7 L769.5,1408.7 L770.5,1408.7 L771.5,1408.7 L772.5,1408.7 L773.5,1408.7 L774.5,1408.7 L775.5,1408.7 L776.5,1408.7 L777.5,1408.7 L778.5,1408.7 L779.5,1408.7 L780.5,1408.7 L781.5,1408.7 L782.5,1408.7 L783.5,1408.7 L784.5,1408.7 L785.5,1408.7 L786.5,1408.7 L787.5,1408.7 L788.5,1408.7 L789.5,1408.7 L790.5,1408.7 L791.5,1408.7 L792.5,1408.7 L793.5,1408.7 L794.5,1408.7 L795.5,1408.7 L796.5,1408.7 L797.5,1408.7 L798.5,1408.7 L799.5,1408.7 L800.5,1408.7 L801.5,1408.7 L802.5,1408.7 L803.5,1408.7 L804.5,1408.7 L805.5,1408.7 L806.5,1408.7 L807.5,1408.7 L808.5,1408.7 L809.5,1408.7 L810.5,1408.7 L811.5,1408.7 L812.5,1408.7 L813.5,1408.7 L814.5,1408.7 L815.5,1408.7 L816.5,1408.7 L817.5,1408.7 L818.5,1408.7 L819.5,1408.7 L820.5,1408.7 L821.5,1408.7 L822.5,1408.7 L823.5,1408.7 L824.5,1408.7 L825.5,1408.7 L826.5,1408.7 L827.5,1408.7 L828.5,1408.7 L829.5,1408.7 L830.5,1408.7 L831.5,1408.7 L832.5,1408.7 L833.5,1408.7 L834.5,1408.7 L835.5,1408.7 L836.5,1408.7 L837.5,1408.7 L838.5,1408.7 L839.5,1408.7 L840.5,1408.7 L841.5,1408.7 L842.5,1408.7 L843.5,1408.7 L844.5,1408.7 L845.5,1408.7 L846.5,1408.7 L847.5,1408.7 L848.5,1408.7 L849.5,1408.7 L850.5,1408.7 L851.5,1408.7 L852.5,1408.7 L853.5,1408.7 L854.5,1408.7 L855.5,1408.7 L856.5,1408.7 L857.5,1408.7 L858.5,1408.7 L859.5,1408.7 L860.5,1408.7 L861.5,1408.7 L862.5,1408.7 L863.5,1408.7 L864.5,1408.7 L865.5,1408.7 L866.5,1408.7 L867.5,1408.7 L868.5,1408.7 L869.5,1408.7 L870.5,1408.7 L871.5,1408.7 L872.5,1408.7 L873.5,1408.7 L874.5,1408.7 L875.5,1408.7 L876.5,1408.7 L877.5,1408.7 L878.5,1408.7 L879.5,1408.7 L880.5,1408.7 L881.5,1408.7 L882.5,1408.7 L883.5,1408.7 L884.5,1408.7 L885.5,1408.7 L886.5,1408.7 L887.5,1408.7 L888.5,1408.7 L889.5,1408.7 L890.5,1408.7 L891.5,1408.7 L892.5,1408.7 L893.5,1408.7 L894.5,1408.7 L895.5,1408.7 L896.5,1408.7 L897.5,1408.7 L898.5,1408.7 L899.5,1408.7 L900.5,1408.7 L901.5,1408.7 L902.5,1408.7 L903.5,1408.7 L904.5,1408.7 L905.5,1408.7 L906.5,1408.7 L907.5,1408.7 L908.5,1408.7 L909.5,1408.7 L910.5,1408.7 L911.5,1408.7 L912.5,1408.7 L913.5,1408.7 L914.5,1408.7 L915.5,1408.7 L916.5,1408.7 L917.5,1408.7 L918.5,1408.7 L919.5,1408.7 L920.5,1408.7 L921.5,1408.7 L922.5,1408.7 L923.5,1408.7 L924.5,1408.7 L925.5,1408.7 L926.5,1408.7 L927.5,1408.7 L928.5,1408.7 L929.5,1408.7 L930.5,1408.7 L931.5,1408.7 L932.5,1408.7 L933.5,1408.7 L934.5,1408.7 L935.5,1408.7 L936.5,1408.7 L937.5,1408.7 L938.5,1408.7 L939.5,1408.7 L940.5,1408.7 L941.5,1408.7 L942.5,1408.7 L943.5,1408.7 L944.5,1408.7 L945.5,1408.7 L946.5,1408.7 L947.5,1408.7 L948.5,1408.7 L949.5,1408.7 L950.5,1408.7 L951.5,1408.7 L952.5,1408.7 L953.5,1408.7 L954.5,1408.7 L955.5,1408.7 L956.5,1408.7 L957.5,1408.7 L958.5,1408.7 L959.5,1408.7 L960.5,1408.7 L961.5,1408.7 L962.5,1408.7 L963.5,1408.7 L964.5,1408.7 L965.5,1408.7 L966.5,1408.7 L967.5,1408.7 L968.5,1408.7 L969.5,1408.7 L970.5,1408.7 L971.5,1408.7 L972.5,1408.7 L973.5,1408.7 L974.5,1408.7 L975.5,1408.7 L976.5,1408.7 L977.5,1408.7 L978.5,1408.7 L979.5,1408.7 L980.5,1408.7 L981.5,1408.7 L982.5,1408.7 L983.5,1408.7 L984.5,1408.7 L985.5,1408.7 L986.5,1408.7 L987.5,1408.7 L988.5,1408.7 L989.5,1408.7 L990.5,1408.7 L991.5,1408.7" fill="none" stroke="#2c428e" stroke-width="1.5" stroke-linejoin="round" stroke-linecap="round" />
<path d="M168.5,1408.7 L169.5,1408.7 L170.5,1408.7 L171.5,1408.7 L172.5,1408.7 L173.5,1408.7 L174.5,1408.7 L175.5,1408.7 L176.5,1408.7 L177.5,1408.7 L178.5,1408.7 L179.5,1408.7 L180.5,1408.7 L181.5,1408.7 L182.5,1408.7 L183.5,1408.7 L184.5,1408.7 L185.5,1408.7 L186.5,1408.7 L187.5,1408.7 L188.5,1408.7 L189.5,1408.7 L190.5,1408.7 L191.5,1408.7 L192.5,1408.7 L193.5,1408.7 L194.5,1408.7 L195.5,1408.7 L196.5,1408.7 L197.5,1408.7 L198.5,1408.7 L199.5,1408.7 L200.5,1408.7 L201.5,1408.7 L202.5,1408.7 L203.5,1408.7 L204.5,1408.7 L205.5,1408.7 L206.5,1408.7 L207.5,1408.7 L208.5,1408.7 L209.5,1408.7 L210.5,1408.7 L211.5,1408.7 L212.5,1408.7 L213.5,1408.7 L214.5,1408.7 L215.5,1408.7 L216.5,1408.7 L217.5,1408.7 L218.5,1408.7 L219.5,1408.7 L220.5,1408.7 L221.5,1408.7 L222.5,1408.7 L223.5,1408.7 L224.5,1408.7 L225.5,1408.7 L226.5,1408.7 L227.5,1408.7 L228.5,1408.7 L229.5,1408.7 L230.5,1408.7 L231.5,1408.7 L232.5,1408.7 L233.5,1408.7 L234.5,1408.7 L235.5,1408.7 L236.5,1408.7 L237.5,1408.7 L238.5,1408.7 L239.5,1408.7 L240.5,1408.7 L241.5,1408.7 L242.5,1408.7 L243.5,1408.7 L244.5,1408.7 L245.5,1408.7 L246.5,1408.7 L247.5,1408.7 L248.5,1408.7 L249.5,1408.7 L250.5,1408.7 L251.5,1408.7 L252.5,1408.7 L253.5,1408.7 L254.5,1408.7 L255.5,1408.7 L256.5,1408.7 L257.5,1408.7 L258.5,1408.7 L259.5,1408.7 L260.5,1408.7 L261.5,1408.7 L262.5,1408.7 L263.5,1408.7 L264.5,1408.7 L265.5,1408.7 L266.5,1408.7 L267.5,1408.7 L268.5,1408.7 L269.5,1408.7 L270.5,1408.7 L271.5,1408.7 L272.5,1408.7 L273.5,1408.7 L274.5,1408.7 L275.5,1408.7 L276.5,1408.7 L277.5,1408.7 L278.5,1408.7 L279.5,1408.7 L280.5,1408.7 L281.5,1408.7 L282.5,1408.7 L283.5,1408.7 L284.5,1408.7 L285.5,1408.7 L286.5,1408.7 L287.5,1408.7 L288.5,1408.7 L289.5,1408.7 L290.5,1408.7 L291.5,1408.7 L292.5,1408.7 L293.5,1408.7 L294.5,1408.7 L295.5,1408.7 L296.5,1408.7 L297.5,1408.7 L298.5,1408.7 L299.5,1408.7 L300.5,1408.7 L301.5,1408.7 L302.5,1408.7 L303.5,1408.7 L304.5,1408.7 L305.5,1408.7 L306.5,1408.7 L307.5,1408.7 L308.5,1408.7 L309.5,1408.7 L310.5,1408.7 L311.5,1408.7 L312.5,1408.7 L313.5,1408.7 L314.5,1408.7 L315.5,1408.7 L316.5,1408.7 L317.5,1408.7 L318.5,1408.7 L319.5,1408.7 L320.5,1408.7 L321.5,1408.7 L322.5,1408.7 L323.5,1408.7 L324.5,1408.7 L325.5,1408.7 L326.5,1408.7 L327.5,1408.7 L328.5,1408.7 L329.5,1408.7 L330.5,1408.7 L331.5,1408.7 L332.5,1408.7 L333.5,1408.7 L334.5,1408.7 L335.5,1408.7 L336.5,1408.7 L337.5,1408.7 L338.5,1408.7 L339.5,1408.7 L340.5,1408.7 L341.5,1408.7 L342.5,1408.7 L343.5,1408.7 L344.5,1408.7 L345.5,1408.7 L346.5,1408.7 L347.5,1408.7 L348.5,1408.7 L349.5,1408.7 L350.5,1408.7 L351.5,1408.7 L352.5,1408.7 L353.5,1408.7 L354.5,1408.7 L355.5,1408.7 L356.5,1408.7 L357.5,1408.7 L358.5,1408.7 L359.5,1408.7 L360.5,1408.7 L361.5,1408.7 L362.5,1408.7 L363.5,1408.7 L364.5,1408.7 L365.5,1408.7 L366.5,1408.7 L367.5,1408.7 L368.5,1408.7 L369.5,1408.7 L370.5,1408.7 L371.5,1408.7 L372.5,1408.7 L373.5,1408.7 L374.5,1408.7 L375.5,1408.7 L376.5,1408.7 L377.5,1408.7 L378.5,1408.7 L379.5,1408.7 L380.5,1408.7 L381.5,1408.7 L382.5,1408.7 L383.5,1408.7 L384.5,1408.7 L385.5,1408.7 L386.5,1408.7 L387.5,1408.7 L388.5,1408.7 L389.5,1408.7 L390.5,1408.7 L391.5,1408.7 L392.5,1408.7 L393.5,1408.7 L394.5,1408.7 L395.5,1408.7 L396.5,1408.7 L397.5,1408.7 L398.5,1408.7 L399.5,1408.7 L400.5,1408.7 L401.5,1408.7 L402.5,1408.7 L403.5,1408.7 L404.5,1408.7 L405.5,1408.7 L406.5,1408.7 L407.5,1408.7 L408.5,1408.6 L409.5,1408.6 L410.5,1408.6 L411.5,1408.6 L412.5,1408.6 L413.5,1408.6 L414.5,1408.6 L415.5,1408.6 L416.5,1408.6 L417.5,1408.6 L418.5,1408.6 L419.5,1408.5 L420.5,1408.5 L421.5,1408.5 L422.5,1408.5 L423.5,1408.5 L424.5,1408.4 L425.5,1408.4 L426.5,1408.4 L427.5,1408.4 L428.5,1408.3 L429.5,1408.3 L430.5,1408.2 L431.5,1408.2 L432.5,1408.2 L433.5,1408.1 L434.5,1408.1 L435.5,1408 L436.5,1407.9 L437.5,1407.9 L438.5,1407.8 L439.5,1407.7 L440.5,1407.6 L441.5,1407.6 L442.5,1407.5 L443.5,1407.4 L444.5,1407.3 L445.5,1407.1 L446.5,1407 L447.5,1406.9 L448.5,1406.7 L449.5,1406.6 L450.5,1406.4 L451.5,1406.2 L452.5,1406.1 L453.5,1405.9 L454.5,1405.7 L455.5,1405.4 L456.5,1405.2 L457.5,1405 L458.5,1404.7 L459.5,1404.4 L460.5,1404.1 L461.5,1403.8 L462.5,1403.5 L463.5,1403.2 L464.5,1402.8 L465.5,1402.4 L466.5,1402 L467.5,1401.6 L468.5,1401.2 L469.5,1400.7 L470.5,1400.2 L471.5,1399.7 L472.5,1399.2 L473.5,1398.6 L474.5,1398.1 L475.5,1397.5 L476.5,1396.9 L477.5,1396.2 L478.5,1395.5 L479.5,1394.9 L480.5,1394.1 L481.5,1393.4 L482.5,1392.6 L483.5,1391.8 L484.5,1391 L485.5,1390.2 L486.5,1389.3 L487.5,1388.4 L488.5,1387.5 L489.5,1386.5 L490.5,1385.5 L491.5,1384.5 L492.5,1383.5 L493.5,1382.5 L494.5,1381.4 L495.5,1380.3 L496.5,1379.2 L497.5,1378.1 L498.5,1377 L499.5,1375.8 L500.5,1374.6 L501.5,1373.4 L502.5,1372.2 L503.5,1371 L504.5,1369.8 L505.5,1368.5 L506.5,1367.3 L507.5,1366 L508.5,1364.8 L509.5,1363.5 L510.5,1362.3 L511.5,1361 L512.5,1359.8 L513.5,1358.5 L514.5,1357.3 L515.5,1356 L516.5,1354.8 L517.5,1353.6 L518.5,1352.4 L519.5,1351.3 L520.5,1350.1 L521.5,1349 L522.5,1347.9 L523.5,1346.8 L524.5,1345.8 L525.5,1344.8 L526.5,1343.8 L527.5,1342.9 L528.5,1342 L529.5,1341.1 L530.5,1340.3 L531.5,1339.5 L532.5,1338.8 L533.5,1338.1 L534.5,1337.5 L535.5,1336.9 L536.5,1336.3 L537.5,1335.9 L538.5,1335.4 L539.5,1335.1 L540.5,1334.7 L541.5,1334.5 L542.5,1334.3 L543.5,1334.1 L544.5,1334 L545.5,1334 L546.5,1334 L547.5,1334.1 L548.5,1334.2 L549.5,1334.4 L550.5,1334.7 L551.5,1335 L552.5,1335.4 L553.5,1335.8 L554.5,1336.2 L555.5,1336.8 L556.5,1337.3 L557.5,1338 L558.5,1338.6 L559.5,1339.4 L560.5,1340.1 L561.5,1340.9 L562.5,1341.8 L563.5,1342.7 L564.5,1343.6 L565.5,1344.6 L566.5,1345.6 L567.5,1346.6 L568.5,1347.7 L569.5,1348.8 L570.5,1349.9 L571.5,1351 L572.5,1352.2 L573.5,1353.4 L574.5,1354.6 L575.5,1355.8 L576.5,1357 L577.5,1358.3 L578.5,1359.5 L579.5,1360.8 L580.5,1362 L581.5,1363.3 L582.5,1364.5 L583.5,1365.8 L584.5,1367 L585.5,1368.3 L586.5,1369.5 L587.5,1370.8 L588.5,1372 L589.5,1373.2 L590.5,1374.4 L591.5,1375.6 L592.5,1376.7 L593.5,1377.9 L594.5,1379 L595.5,1380.1 L596.5,1381.2 L597.5,1382.3 L598.5,1383.3 L599.5,1384.3 L600.5,1385.3 L601.5,1386.3 L602.5,1387.3 L603.5,1388.2 L604.5,1389.1 L605.5,1390 L606.5,1390.8 L607.5,1391.7 L608.5,1392.5 L609.5,1393.2 L610.5,1394 L611.5,1394.7 L612.5,1395.4 L613.5,1396.1 L614.5,1396.7 L615.5,1397.4 L616.5,1398 L617.5,1398.5 L618.5,1399.1 L619.5,1399.6 L620.5,1400.1 L621.5,1400.6 L622.5,1401.1 L623.5,1401.5 L624.5,1401.9 L625.5,1402.3 L626.5,1402.7 L627.5,1403.1 L628.5,1403.4 L629.5,1403.8 L630.5,1404.1 L631.5,1404.4 L632.5,1404.6 L633.5,1404.9 L634.5,1405.2 L635.5,1405.4 L636.5,1405.6 L637.5,1405.8 L638.5,1406 L639.5,1406.2 L640.5,1406.4 L641.5,1406.6 L642.5,1406.7 L643.5,1406.8 L644.5,1407 L645.5,1407.1 L646.5,1407.2 L647.5,1407.3 L648.5,1407.4 L649.5,1407.5 L650.5,1407.6 L651.5,1407.7 L652.5,1407.8 L653.5,1407.9 L654.5,1407.9 L655.5,1408 L656.5,1408.1 L657.5,1408.1 L658.5,1408.2 L659.5,1408.2 L660.5,1408.2 L661.5,1408.3 L662.5,1408.3 L663.5,1408.3 L664.5,1408.4 L665.5,1408.4 L666.5,1408.4 L667.5,1408.5 L668.5,1408.5 L669.5,1408.5 L670.5,1408.5 L671.5,1408.5 L672.5,1408.6 L673.5,1408.6 L674.5,1408.6 L675.5,1408.6 L676.5,1408.6 L677.5,1408.6 L678.5,1408.6 L679.5,1408.6 L680.5,1408.6 L681.5,1408.6 L682.5,1408.6 L683.5,1408.7 L684.5,1408.7 L685.5,1408.7 L686.5,1408.7 L687.5,1408.7 L688.5,1408.7 L689.5,1408.7 L690.5,1408.7 L691.5,1408.7 L692.5,1408.7 L693.5,1408.7 L694.5,1408.7 L695.5,1408.7 L696.5,1408.7 L697.5,1408.7 L698.5,1408.7 L699.5,1408.7 L700.5,1408.7 L701.5,1408.7 L702.5,1408.7 L703.5,1408.7 L704.5,1408.7 L705.5,1408.7 L706.5,1408.7 L707.5,1408.7 L708.5,1408.7 L709.5,1408.7 L710.5,1408.7 L711.5,1408.7 L712.5,1408.7 L713.5,1408.7 L714.5,1408.7 L715.5,1408.7 L716.5,1408.7 L717.5,1408.7 L718.5,1408.7 L719.5,1408.7 L720.5,1408.7 L721.5,1408.7 L722.5,1408.7 L723.5,1408.7 L724.5,1408.7 L725.5,1408.7 L726.5,1408.7 L727.5,1408.7 L728.5,1408.7 L729.5,1408.7 L730.5,1408.7 L731.5,1408.7 L732.5,1408.7 L733.5,1408.7 L734.5,1408.7 L735.5,1408.7 L736.5,1408.7 L737.5,1408.7 L738.5,1408.7 L739.5,1408.7 L740.5,1408.7 L741.5,1408.7 L742.5,1408.7 L743.5,1408.7 L744.5,1408.7 L745.5,1408.7 L746.5,1408.7 L747.5,1408.7 L748.5,1408.7 L749.5,1408.7 L750.5,1408.7 L751.5,1408.7 L752.5,1408.7 L753.5,1408.7 L754.5,1408.7 L755.5,1408.7 L756.5,1408.7 L757.5,1408.7 L758.5,1408.7 L759.5,1408.7 L760.5,1408.7 L761.5,1408.7 L762.5,1408.7 L763.5,1408.7 L764.5,1408.7 L765.5,1408.7 L766.5,1408.7 L767.5,1408.7 L768.5,1408.7 L769.5,1408.7 L770.5,1408.7 L771.5,1408.7 L772.5,1408.7 L773.5,1408.7 L774.5,1408.7 L775.5,1408.7 L776.5,1408.7 L777.5,1408.7 L778.5,1408.7 L779.5,1408.7 L780.5,1408.7 L781.5,1408.7 L782.5,1408.7 L783.5,1408.7 L784.5,1408.7 L785.5,1408.7 L786.5,1408.7 L787.5,1408.7 L788.5,1408.7 L789.5,1408.7 L790.5,1408.7 L791.5,1408.7 L792.5,1408.7 L793.5,1408.7 L794.5,1408.7 L795.5,1408.7 L796.5,1408.7 L797.5,1408.7 L798.5,1408.7 L799.5,1408.7 L800.5,1408.7 L801.5,1408.7 L802.5,1408.7 L803.5,1408.7 L804.5,1408.7 L805.5,1408.7 L806.5,1408.7 L807.5,1408.7 L808.5,1408.7 L809.5,1408.7 L810.5,1408.7 L811.5,1408.7 L812.5,1408.7 L813.5,1408.7 L814.5,1408.7 L815.5,1408.7 L816.5,1408.7 L817.5,1408.7 L818.5,1408.7 L819.5,1408.7 L820.5,1408.7 L821.5,1408.7 L822.5,1408.7 L823.5,1408.7 L824.5,1408.7 L825.5,1408.7 L826.5,1408.7 L827.5,1408.7 L828.5,1408.7 L829.5,1408.7 L830.5,1408.7 L831.5,1408.7 L832.5,1408.7 L833.5,1408.7 L834.5,1408.7 L835.5,1408.7 L836.5,1408.7 L837.5,1408.7 L838.5,1408.7 L839.5,1408.7 L840.5,1408.7 L841.5,1408.7 L842.5,1408.7 L843.5,1408.7 L844.5,1408.7 L845.5,1408.7 L846.5,1408.7 L847.5,1408.7 L848.5,1408.7 L849.5,1408.7 L850.5,1408.7 L851.5,1408.7 L852.5,1408.7 L853.5,1408.7 L854.5,1408.7 L855.5,1408.7 L856.5,1408.7 L857.5,1408.7 L858.5,1408.7 L859.5,1408.7 L860.5,1408.7 L861.5,1408.7 L862.5,1408.7 L863.5,1408.7 L864.5,1408.7 L865.5,1408.7 L866.5,1408.7 L867.5,1408.7 L868.5,1408.7 L869.5,1408.7 L870.5,1408.7 L871.5,1408.7 L872.5,1408.7 L873.5,1408.7 L874.5,1408.7 L875.5,1408.7 L876.5,1408.7 L877.5,1408.7 L878.5,1408.7 L879.5,1408.7 L880.5,1408.7 L881.5,1408.7 L882.5,1408.7 L883.5,1408.7 L884.5,1408.7 L885.5,1408.7 L886.5,1408.7 L887.5,1408.7 L888.5,1408.7 L889.5,1408.7 L890.5,1408.7 L891.5,1408.7 L892.5,1408.7 L893.5,1408.7 L894.5,1408.7 L895.5,1408.7 L896.5,1408.7 L897.5,1408.7 L898.5,1408.7 L899.5,1408.7 L900.5,1408.7 L901.5,1408.7 L902.5,1408.7 L903.5,1408.7 L904.5,1408.7 L905.5,1408.7 L906.5,1408.7 L907.5,1408.7 L908.5,1408.7 L909.5,1408.7 L910.5,1408.7 L911.5,1408.7 L912.5,1408.7 L913.5,1408.7 L914.5,1408.7 L915.5,1408.7 L916.5,1408.7 L917.5,1408.7 L918.5,1408.7 L919.5,1408.7 L920.5,1408.7 L921.5,1408.7 L922.5,1408.7 L923.5,1408.7 L924.5,1408.7 L925.5,1408.7 L926.5,1408.7 L927.5,1408.7 L928.5,1408.7 L929.5,1408.7 L930.5,1408.7 L931.5,1408.7 L932.5,1408.7 L933.5,1408.7 L934.5,1408.7 L935.5,1408.7 L936.5,1408.7 L937.5,1408.7 L938.5,1408.7 L939.5,1408.7 L940.5,1408.7 L941.5,1408.7 L942.5,1408.7 L943.5,1408.7 L944.5,1408.7 L945.5,1408.7 L946.5,1408.7 L947.5,1408.7 L948.5,1408.7 L949.5,1408.7 L950.5,1408.7 L951.5,1408.7 L952.5,1408.7 L953.5,1408.7 L954.5,1408.7 L955.5,1408.7 L956.5,1408.7 L957.5,1408.7 L958.5,1408.7 L959.5,1408.7 L960.5,1408.7 L961.5,1408.7 L962.5,1408.7 L963.5,1408.7 L964.5,1408.7 L965.5,1408.7 L966.5,1408.7 L967.5,1408.7 L968.5,1408.7 L969.5,1408.7 L970.5,1408.7 L971.5,1408.7 L972.5,1408.7 L973.5,1408.7 L974.5,1408.7 L975.5,1408.7 L976.5,1408.7 L977.5,1408.7 L978.5,1408.7 L979.5,1408.7 L980.5,1408.7 L981.5,1408.7 L982.5,1408.7 L983.5,1408.7 L984.5,1408.7 L985.5,1408.7 L986.5,1408.7 L987.5,1408.7 L988.5,1408.7 L989.5,1408.7 L990.5,1408.7 L991.5,1408.7" fill="none" stroke="#78c2c6" stroke-width="1.5" stroke-linejoin="round" stroke-linecap="round" />
<path d="M168.5,1408.7 L169.5,1408.7 L170.5,1408.7 L171.5,1408.7 L172.5,1408.7 L173.5,1408.7 L174.5,1408.7 L175.5,1408.7 L176.5,1408.7 L177.5,1408.7 L178.5,1408.7 L179.5,1408.7 L180.5,1408.7 L181.5,1408.7 L182.5,1408.7 L183.5,1408.7 L184.5,1408.7 L185.5,1408.7 L186.5,1408.7 L187.5,1408.7 L188.5,1408.7 L189.5,1408.7 L190.5,1408.7 L191.5,1408.7 L192.5,1408.7 L193.5,1408.7 L194.5,1408.7 L195.5,1408.7 L196.5,1408.7 L197.5,1408.7 L198.5,1408.7 L199.5,1408.7 L200.5,1408.7 L201.5,1408.7 L202.5,1408.7 L203.5,1408.7 L204.5,1408.7 L205.5,1408.7 L206.5,1408.7 L207.5,1408.7 L208.5,1408.7 L209.5,1408.7 L210.5,1408.7 L211.5,1408.7 L212.5,1408.7 L213.5,1408.7 L214.5,1408.7 L215.5,1408.7 L216.5,1408.7 L217.5,1408.7 L218.5,1408.7 L219.5,1408.7 L220.5,1408.7 L221.5,1408.7 L222.5,1408.7 L223.5,1408.7 L224.5,1408.7 L225.5,1408.7 L226.5,1408.7 L227.5,1408.7 L228.5,1408.7 L229.5,1408.7 L230.5,1408.7 L231.5,1408.7 L232.5,1408.7 L233.5,1408.7 L234.5,1408.7 L235.5,1408.7 L236.5,1408.7 L237.5,1408.7 L238.5,1408.7 L239.5,1408.7 L240.5,1408.7 L241.5,1408.7 L242.5,1408.7 L243.5,1408.7 L244.5,1408.7 L245.5,1408.7 L246.5,1408.7 L247.5,1408.7 L248.5,1408.7 L249.5,1408.7 L250.5,1408.7 L251.5,1408.7 L252.5,1408.7 L253.5,1408.7 L254.5,1408.7 L255.5,1408.7 L256.5,1408.7 L257.5,1408.7 L258.5,1408.7 L259.5,1408.7 L260.5,1408.7 L261.5,1408.7 L262.5,1408.7 L263.5,1408.7 L264.5,1408.7 L265.5,1408.7 L266.5,1408.7 L267.5,1408.7 L268.5,1408.7 L269.5,1408.7 L270.5,1408.7 L271.5,1408.7 L272.5,1408.7 L273.5,1408.7 L274.5,1408.7 L275.5,1408.7 L276.5,1408.7 L277.5,1408.7 L278.5,1408.7 L279.5,1408.7 L280.5,1408.7 L281.5,1408.7 L282.5,1408.7 L283.5,1408.7 L284.5,1408.7 L285.5,1408.7 L286.5,1408.7 L287.5,1408.7 L288.5,1408.7 L289.5,1408.7 L290.5,1408.7 L291.5,1408.7 L292.5,1408.7 L293.5,1408.7 L294.5,1408.7 L295.5,1408.7 L296.5,1408.7 L297.5,1408.7 L298.5,1408.7 L299.5,1408.7 L300.5,1408.7 L301.5,1408.7 L302.5,1408.7 L303.5,1408.7 L304.5,1408.7 L305.5,1408.7 L306.5,1408.7 L307.5,1408.7 L308.5,1408.7 L309.5,1408.7 L310.5,1408.7 L311.5,1408.7 L312.5,1408.7 L313.5,1408.7 L314.5,1408.7 L315.5,1408.7 L316.5,1408.7 L317.5,1408.7 L318.5,1408.7 L319.5,1408.7 L320.5,1408.7 L321.5,1408.7 L322.5,1408.7 L323.5,1408.7 L324.5,1408.7 L325.5,1408.7 L326.5,1408.7 L327.5,1408.7 L328.5,1408.7 L329.5,1408.7 L330.5,1408.7 L331.5,1408.7 L332.5,1408.7 L333.5,1408.7 L334.5,1408.7 L335.5,1408.7 L336.5,1408.7 L337.5,1408.7 L338.5,1408.7 L339.5,1408.6 L340.5,1408.6 L341.5,1408.6 L342.5,1408.6 L343.5,1408.6 L344.5,1408.6 L345.5,1408.6 L346.5,1408.6 L347.5,1408.6 L348.5,1408.6 L349.5,1408.6 L350.5,1408.6 L351.5,1408.5 L352.5,1408.5 L353.5,1408.5 L354.5,1408.5 L355.5,1408.5 L356.5,1408.5 L357.5,1408.5 L358.5,1408.4 L359.5,1408.4 L360.5,1408.4 L361.5,1408.4 L362.5,1408.3 L363.5,1408.3 L364.5,1408.3 L365.5,1408.3 L366.5,1408.2 L367.5,1408.2 L368.5,1408.2 L369.5,1408.1 L370.5,1408.1 L371.5,1408 L372.5,1408 L373.5,1407.9 L374.5,1407.9 L375.5,1407.8 L376.5,1407.8 L377.5,1407.7 L378.5,1407.6 L379.5,1407.6 L380.5,1407.5 L381.5,1407.4 L382.5,1407.4 L383.5,1407.3 L384.5,1407.2 L385.5,1407.1 L386.5,1407 L387.5,1406.9 L388.5,1406.8 L389.5,1406.7 L390.5,1406.6 L391.5,1406.5 L392.5,1406.3 L393.5,1406.2 L394.5,1406.1 L395.5,1405.9 L396.5,1405.8 L397.5,1405.6 L398.5,1405.5 L399.5,1405.3 L400.5,1405.2 L401.5,1405 L402.5,1404.8 L403.5,1404.6 L404.5,1404.4 L405.5,1404.2 L406.5,1404 L407.5,1403.8 L408.5,1403.6 L409.5,1403.4 L410.5,1403.2 L411.5,1403 L412.5,1402.7 L413.5,1402.5 L414.5,1402.3 L415.5,1402 L416.5,1401.8 L417.5,1401.5 L418.5,1401.3 L419.5,1401 L420.5,1400.7 L421.5,1400.5 L422.5,1400.2 L423.5,1399.9 L424.5,1399.6 L425.5,1399.4 L426.5,1399.1 L427.5,1398.8 L428.5,1398.5 L429.5,1398.2 L430.5,1397.9 L431.5,1397.6 L432.5,1397.4 L433.5,1397.1 L434.5,1396.8 L435.5,1396.5 L436.5,1396.2 L437.5,1395.9 L438.5,1395.7 L439.5,1395.4 L440.5,1395.1 L441.5,1394.8 L442.5,1394.6 L443.5,1394.3 L444.5,1394.1 L445.5,1393.8 L446.5,1393.6 L447.5,1393.4 L448.5,1393.1 L449.5,1392.9 L450.5,1392.7 L451.5,1392.5 L452.5,1392.3 L453.5,1392.1 L454.5,1392 L455.5,1391.8 L456.5,1391.6 L457.5,1391.5 L458.5,1391.4 L459.5,1391.3 L460.5,1391.1 L461.5,1391 L462.5,1391 L463.5,1390.9 L464.5,1390.8 L465.5,1390.8 L466.5,1390.7 L467.5,1390.7 L468.5,1390.7 L469.5,1390.7 L470.5,1390.7 L471.5,1390.7 L472.5,1390.8 L473.5,1390.8 L474.5,1390.9 L475.5,1391 L476.5,1391 L477.5,1391.1 L478.5,1391.3 L479.5,1391.4 L480.5,1391.5 L481.5,1391.6 L482.5,1391.8 L483.5,1392 L484.5,1392.1 L485.5,1392.3 L486.5,1392.5 L487.5,1392.7 L488.5,1392.9 L489.5,1393.1 L490.5,1393.4 L491.5,1393.6 L492.5,1393.8 L493.5,1394.1 L494.5,1394.3 L495.5,1394.6 L496.5,1394.8 L497.5,1395.1 L498.5,1395.4 L499.5,1395.7 L500.5,1395.9 L501.5,1396.2 L502.5,1396.5 L503.5,1396.8 L504.5,1397.1 L505.5,1397.4 L506.5,1397.6 L507.5,1397.9 L508.5,1398.2 L509.5,1398.5 L510.5,1398.8 L511.5,1399.1 L512.5,1399.4 L513.5,1399.6 L514.5,1399.9 L515.5,1400.2 L516.5,1400.5 L517.5,1400.7 L518.5,1401 L519.5,1401.3 L520.5,1401.5 L521.5,1401.8 L522.5,1402 L523.5,1402.3 L524.5,1402.5 L525.5,1402.7 L526.5,1403 L527.5,1403.2 L528.5,1403.4 L529.5,1403.6 L530.5,1403.8 L531.5,1404 L532.5,1404.2 L533.5,1404.4 L534.5,1404.6 L535.5,1404.8 L536.5,1405 L537.5,1405.2 L538.5,1405.3 L539.5,1405.5 L540.5,1405.6 L541.5,1405.8 L542.5,1405.9 L543.5,1406.1 L544.5,1406.2 L545.5,1406.3 L546.5,1406.5 L547.5,1406.6 L548.5,1406.7 L549.5,1406.8 L550.5,1406.9 L551.5,1407 L552.5,1407.1 L553.5,1407.2 L554.5,1407.3 L555.5,1407.4 L556.5,1407.4 L557.5,1407.5 L558.5,1407.6 L559.5,1407.6 L560.5,1407.7 L561.5,1407.8 L562.5,1407.8 L563.5,1407.9 L564.5,1407.9 L565.5,1408 L566.5,1408 L567.5,1408.1 L568.5,1408.1 L569.5,1408.2 L570.5,1408.2 L571.5,1408.2 L572.5,1408.3 L573.5,1408.3 L574.5,1408.3 L575.5,1408.3 L576.5,1408.4 L577.5,1408.4 L578.5,1408.4 L579.5,1408.4 L580.5,1408.5 L581.5,1408.5 L582.5,1408.5 L583.5,1408.5 L584.5,1408.5 L585.5,1408.5 L586.5,1408.5 L587.5,1408.6 L588.5,1408.6 L589.5,1408.6 L590.5,1408.6 L591.5,1408.6 L592.5,1408.6 L593.5,1408.6 L594.5,1408.6 L595.5,1408.6 L596.5,1408.6 L597.5,1408.6 L598.5,1408.6 L599.5,1408.7 L600.5,1408.7 L601.5,1408.7 L602.5,1408.7 L603.5,1408.7 L604.5,1408.7 L605.5,1408.7 L606.5,1408.7 L607.5,1408.7 L608.5,1408.7 L609.5,1408.7 L610.5,1408.7 L611.5,1408.7 L612.5,1408.7 L613.5,1408.7 L614.5,1408.7 L615.5,1408.7 L616.5,1408.7 L617.5,1408.7 L618.5,1408.7 L619.5,1408.7 L620.5,1408.7 L621.5,1408.7 L622.5,1408.7 L623.5,1408.7 L624.5,1408.7 L625.5,1408.7 L626.5,1408.7 L627.5,1408.7 L628.5,1408.7 L629.5,1408.7 L630.5,1408.7 L631.5,1408.7 L632.5,1408.7 L633.5,1408.7 L634.5,1408.7 L635.5,1408.7 L636.5,1408.7 L637.5,1408.7 L638.5,1408.7 L639.5,1408.7 L640.5,1408.7 L641.5,1408.7 L642.5,1408.7 L643.5,1408.7 L644.5,1408.7 L645.5,1408.7 L646.5,1408.7 L647.5,1408.7 L648.5,1408.7 L649.5,1408.7 L650.5,1408.7 L651.5,1408.7 L652.5,1408.7 L653.5,1408.7 L654.5,1408.7 L655.5,1408.7 L656.5,1408.7 L657.5,1408.7 L658.5,1408.7 L659.5,1408.7 L660.5,1408.7 L661.5,1408.7 L662.5,1408.7 L663.5,1408.7 L664.5,1408.7 L665.5,1408.7 L666.5,1408.7 L667.5,1408.7 L668.5,1408.7 L669.5,1408.7 L670.5,1408.7 L671.5,1408.7 L672.5,1408.7 L673.5,1408.7 L674.5,1408.7 L675.5,1408.7 L676.5,1408.7 L677.5,1408.7 L678.5,1408.7 L679.5,1408.7 L680.5,1408.7 L681.5,1408.7 L682.5,1408.7 L683.5,1408.7 L684.5,1408.7 L685.5,1408.7 L686.5,1408.7 L687.5,1408.7 L688.5,1408.7 L689.5,1408.7 L690.5,1408.7 L691.5,1408.7 L692.5,1408.7 L693.5,1408.7 L694.5,1408.7 L695.5,1408.7 L696.5,1408.7 L697.5,1408.7 L698.5,1408.7 L699.5,1408.7 L700.5,1408.7 L701.5,1408.7 L702.5,1408.7 L703.5,1408.7 L704.5,1408.7 L705.5,1408.7 L706.5,1408.7 L707.5,1408.7 L708.5,1408.7 L709.5,1408.7 L710.5,1408.7 L711.5,1408.7 L712.5,1408.7 L713.5,1408.7 L714.5,1408.7 L715.5,1408.7 L716.5,1408.7 L717.5,1408.7 L718.5,1408.7 L719.5,1408.7 L720.5,1408.7 L721.5,1408.7 L722.5,1408.7 L723.5,1408.7 L724.5,1408.7 L725.5,1408.7 L726.5,1408.7 L727.5,1408.7 L728.5,1408.7 L729.5,1408.7 L730.5,1408.7 L731.5,1408.7 L732.5,1408.7 L733.5,1408.7 L734.5,1408.7 L735.5,1408.7 L736.5,1408.7 L737.5,1408.7 L738.5,1408.7 L739.5,1408.7 L740.5,1408.7 L741.5,1408.7 L742.5,1408.7 L743.5,1408.7 L744.5,1408.7 L745.5,1408.7 L746.5,1408.7 L747.5,1408.7 L748.5,1408.7 L749.5,1408.7 L750.5,1408.7 L751.5,1408.7 L752.5,1408.7 L753.5,1408.7 L754.5,1408.7 L755.5,1408.7 L756.5,1408.7 L757.5,1408.7 L758.5,1408.7 L759.5,1408.7 L760.5,1408.7 L761.5,1408.7 L762.5,1408.7 L763.5,1408.7 L764.5,1408.7 L765.5,1408.7 L766.5,1408.7 L767.5,1408.7 L768.5,1408.7 L769.5,1408.7 L770.5,1408.7 L771.5,1408.7 L772.5,1408.7 L773.5,1408.7 L774.5,1408.7 L775.5,1408.7 L776.5,1408.7 L777.5,1408.7 L778.5,1408.7 L779.5,1408.7 L780.5,1408.7 L781.5,1408.7 L782.5,1408.7 L783.5,1408.7 L784.5,1408.7 L785.5,1408.7 L786.5,1408.7 L787.5,1408.7 L788.5,1408.7 L789.5,1408.7 L790.5,1408.7 L791.5,1408.7 L792.5,1408.7 L793.5,1408.7 L794.5,1408.7 L795.5,1408.7 L796.5,1408.7 L797.5,1408.7 L798.5,1408.7 L799.5,1408.7 L800.5,1408.7 L801.5,1408.7 L802.5,1408.7 L803.5,1408.7 L804.5,1408.7 L805.5,1408.7 L806.5,1408.7 L807.5,1408.7 L808.5,1408.7 L809.5,1408.7 L810.5,1408.7 L811.5,1408.7 L812.5,1408.7 L813.5,1408.7 L814.5,1408.7 L815.5,1408.7 L816.5,1408.7 L817.5,1408.7 L818.5,1408.7 L819.5,1408.7 L820.5,1408.7 L821.5,1408.7 L822.5,1408.7 L823.5,1408.7 L824.5,1408.7 L825.5,1408.7 L826.5,1408.7 L827.5,1408.7 L828.5,1408.7 L829.5,1408.7 L830.5,1408.7 L831.5,1408.7 L832.5,1408.7 L833.5,1408.7 L834.5,1408.7 L835.5,1408.7 L836.5,1408.7 L837.5,1408.7 L838.5,1408.7 L839.5,1408.7 L840.5,1408.7 L841.5,1408.7 L842.5,1408.7 L843.5,1408.7 L844.5,1408.7 L845.5,1408.7 L846.5,1408.7 L847.5,1408.7 L848.5,1408.7 L849.5,1408.7 L850.5,1408.7 L851.5,1408.7 L852.5,1408.7 L853.5,1408.7 L854.5,1408.7 L855.5,1408.7 L856.5,1408.7 L857.5,1408.7 L858.5,1408.7 L859.5,1408.7 L860.5,1408.7 L861.5,1408.7 L862.5,1408.7 L863.5,1408.7 L864.5,1408.7 L865.5,1408.7 L866.5,1408.7 L867.5,1408.7 L868.5,1408.7 L869.5,1408.7 L870.5,1408.7 L871.5,1408.7 L872.5,1408.7 L873.5,1408.7 L874.5,1408.7 L875.5,1408.7 L876.5,1408.7 L877.5,1408.7 L878.5,1408.7 L879.5,1408.7 L880.5,1408.7 L881.5,1408.7 L882.5,1408.7 L883.5,1408.7 L884.5,1408.7 L885.5,1408.7 L886.5,1408.7 L887.5,1408.7 L888.5,1408.7 L889.5,1408.7 L890.5,1408.7 L891.5,1408.7 L892.5,1408.7 L893.5,1408.7 L894.5,1408.7 L895.5,1408.7 L896.5,1408.7 L897.5,1408.7 L898.5,1408.7 L899.5,1408.7 L900.5,1408.7 L901.5,1408.7 L902.5,1408.7 L903.5,1408.7 L904.5,1408.7 L905.5,1408.7 L906.5,1408.7 L907.5,1408.7 L908.5,1408.7 L909.5,1408.7 L910.5,1408.7 L911.5,1408.7 L912.5,1408.7 L913.5,1408.7 L914.5,1408.7 L915.5,1408.7 L916.5,1408.7 L917.5,1408.7 L918.5,1408.7 L919.5,1408.7 L920.5,1408.7 L921.5,1408.7 L922.5,1408.7 L923.5,1408.7 L924.5,1408.7 L925.5,1408.7 L926.5,1408.7 L927.5,1408.7 L928.5,1408.7 L929.5,1408.7 L930.5,1408.7 L931.5,1408.7 L932.5,1408.7 L933.5,1408.7 L934.5,1408.7 L935.5,1408.7 L936.5,1408.7 L937.5,1408.7 L938.5,1408.7 L939.5,1408.7 L940.5,1408.7 L941.5,1408.7 L942.5,1408.7 L943.5,1408.7 L944.5,1408.7 L945.5,1408.7 L946.5,1408.7 L947.5,1408.7 L948.5,1408.7 L949.5,1408.7 L950.5,1408.7 L951.5,1408.7 L952.5,1408.7 L953.5,1408.7 L954.5,1408.7 L955.5,1408.7 L956.5,1408.7 L957.5,1408.7 L958.5,1408.7 L959.5,1408.7 L960.5,1408.7 L961.5,1408.7 L962.5,1408.7 L963.5,1408.7 L964.5,1408.7 L965.5,1408.7 L966.5,1408.7 L967.5,1408.7 L968.5,1408.7 L969.5,1408.7 L970.5,1408.7 L971.5,1408.7 L972.5,1408.7 L973.5,1408.7 L974.5,1408.7 L975.5,1408.7 L976.5,1408.7 L977.5,1408.7 L978.5,1408.7 L979.5,1408.7 L980.5,1408.7 L981.5,1408.7 L982.5,1408.7 L983.5,1408.7 L984.5,1408.7 L985.5,1408.7 L986.5,1408.7 L987.5,1408.7 L988.5,1408.7 L989.5,1408.7 L990.5,1408.7 L991.5,1408.7" fill="none" stroke="#1c6e48" stroke-width="1.5" stroke-linejoin="round" stroke-linecap="round" />
<rect x="167.5" y="847" width="825.2" height="617.7" fill="none" stroke="#000" stroke-width="1.8" />
<line x1="167.5" y1="1464.7" x2="167.5" y2="1475.2" stroke="#000" stroke-width="1.8" />
<line x1="305" y1="1464.7" x2="305" y2="1475.2" stroke="#000" stroke-width="1.8" />
<line x1="442.6" y1="1464.7" x2="442.6" y2="1475.2" stroke="#000" stroke-width="1.8" />
<line x1="580.1" y1="1464.7" x2="580.1" y2="1475.2" stroke="#000" stroke-width="1.8" />
<line x1="717.7" y1="1464.7" x2="717.7" y2="1475.2" stroke="#000" stroke-width="1.8" />
<line x1="855.2" y1="1464.7" x2="855.2" y2="1475.2" stroke="#000" stroke-width="1.8" />
<line x1="992.7" y1="1464.7" x2="992.7" y2="1475.2" stroke="#000" stroke-width="1.8" />
<line x1="236.3" y1="1464.7" x2="236.3" y2="1470.7" stroke="#000" stroke-width="1.8" />
<line x1="373.8" y1="1464.7" x2="373.8" y2="1470.7" stroke="#000" stroke-width="1.8" />
<line x1="511.3" y1="1464.7" x2="511.3" y2="1470.7" stroke="#000" stroke-width="1.8" />
<line x1="648.9" y1="1464.7" x2="648.9" y2="1470.7" stroke="#000" stroke-width="1.8" />
<line x1="786.4" y1="1464.7" x2="786.4" y2="1470.7" stroke="#000" stroke-width="1.8" />
<line x1="924" y1="1464.7" x2="924" y2="1470.7" stroke="#000" stroke-width="1.8" />
<text x="167.5" y="1521" font-size="46.5" fill="#000" text-anchor="middle" font-weight="normal"  stroke="#000" stroke-width="0.4">292</text>
<text x="305" y="1521" font-size="46.5" fill="#000" text-anchor="middle" font-weight="normal"  stroke="#000" stroke-width="0.4">290</text>
<text x="442.6" y="1521" font-size="46.5" fill="#000" text-anchor="middle" font-weight="normal"  stroke="#000" stroke-width="0.4">288</text>
<text x="580.1" y="1521" font-size="46.5" fill="#000" text-anchor="middle" font-weight="normal"  stroke="#000" stroke-width="0.4">286</text>
<text x="717.7" y="1521" font-size="46.5" fill="#000" text-anchor="middle" font-weight="normal"  stroke="#000" stroke-width="0.4">284</text>
<text x="855.2" y="1521" font-size="46.5" fill="#000" text-anchor="middle" font-weight="normal"  stroke="#000" stroke-width="0.4">282</text>
<text x="992.7" y="1521" font-size="46.5" fill="#000" text-anchor="middle" font-weight="normal"  stroke="#000" stroke-width="0.4">280</text>
<text x="194.6" y="901.6" font-size="31.5" fill="#000" text-anchor="start" font-weight="bold" stroke="#000" stroke-width="0.5">ND<tspan dy="-0.6363636363636364em" font-size="66%">+</tspan><tspan dy="0.42em">-C1s</tspan></text>
<text x="451.9" y="1116.4" font-size="31" fill="#000" text-anchor="middle" font-weight="normal"  stroke="#000" stroke-width="0.25">C–N</text>
<text x="451.6" y="1155.5" font-size="31" fill="#000" text-anchor="middle" font-weight="normal"  stroke="#000" stroke-width="0.25">(285.7 eV)</text>
<text x="359.3" y="1253" font-size="31" fill="#000" text-anchor="middle" font-weight="normal"  stroke="#000" stroke-width="0.25">C–O–C</text>
<text x="354.7" y="1292.1" font-size="31" fill="#000" text-anchor="middle" font-weight="normal"  stroke="#000" stroke-width="0.25">(286.6 eV)</text>
<text x="311.4" y="1348.2" font-size="31" fill="#000" text-anchor="middle" font-weight="normal"  stroke="#000" stroke-width="0.25">C=O</text>
<text x="309.7" y="1387.3" font-size="31" fill="#000" text-anchor="middle" font-weight="normal"  stroke="#000" stroke-width="0.25">(287.7 eV)</text>
<text x="851.2" y="1006" font-size="31" fill="#000" text-anchor="middle" font-weight="normal"  stroke="#000" stroke-width="0.25">C–C sp<tspan dy="-0.5294117647058822em" font-size="68%">3</tspan></text>
<text x="857.3" y="1045" font-size="31" fill="#000" text-anchor="middle" font-weight="normal"  stroke="#000" stroke-width="0.25">(284.9 eV)</text>
<text x="875.8" y="1135" font-size="31" fill="#000" text-anchor="middle" font-weight="normal"  stroke="#000" stroke-width="0.25">C–C sp<tspan dy="-0.5294117647058822em" font-size="68%">2</tspan></text>
<text x="873.3" y="1174.2" font-size="31" fill="#000" text-anchor="middle" font-weight="normal"  stroke="#000" stroke-width="0.25">(284.2 eV)</text>
<line x1="480" y1="1167" x2="578.5" y2="1318" stroke="#000" stroke-width="1.7" />
<polygon points="587,1331 573.5,1318.9 581.4,1313.8" fill="#000"/>
<line x1="455" y1="1292" x2="517.3" y2="1324.8" stroke="#000" stroke-width="1.7" />
<polygon points="531,1332 513.3,1328 517.7,1319.7" fill="#000"/>
<line x1="398" y1="1361" x2="455.5" y2="1382.6" stroke="#000" stroke-width="1.7" />
<polygon points="470,1388 452,1386.3 455.3,1377.5" fill="#000"/>
<line x1="773" y1="1022" x2="691.1" y2="1101.2" stroke="#000" stroke-width="1.7" />
<polygon points="680,1112 689.3,1096.5 695.8,1103.2" fill="#000"/>
<line x1="795" y1="1146" x2="748.1" y2="1183.3" stroke="#000" stroke-width="1.7" />
<polygon points="736,1193 746.8,1178.4 752.6,1185.8" fill="#000"/>
<text x="611.5" y="1581" font-size="52" fill="#000" text-anchor="middle" font-weight="normal"  stroke="#000" stroke-width="0.4">Binding energy (eV)</text>
<text transform="translate(140.3 1143) rotate(-90)" font-size="52" fill="#000" stroke="#000" stroke-width="0.4" text-anchor="middle" >Intensity (a.u.)</text>
<text x="88.5" y="840.5" font-size="80.5" fill="#111" text-anchor="start" font-weight="bold"  stroke="#111" stroke-width="0.4">c</text>
</g>
<g id="panel-d">
<path d="M1243.7,1407 L1244.7,1407 L1245.7,1407 L1246.7,1407 L1247.7,1407 L1248.7,1407 L1249.7,1407 L1250.7,1407 L1251.7,1407 L1252.7,1407 L1253.7,1407 L1254.7,1407 L1255.7,1407 L1256.7,1407 L1257.7,1407 L1258.7,1407 L1259.7,1407 L1260.7,1407 L1261.7,1407 L1262.7,1407 L1263.7,1406.9 L1264.7,1406.9 L1265.7,1406.9 L1266.7,1406.9 L1267.7,1406.9 L1268.7,1406.9 L1269.7,1406.9 L1270.7,1406.9 L1271.7,1406.9 L1272.7,1406.9 L1273.7,1406.9 L1274.7,1406.9 L1275.7,1406.9 L1276.7,1406.9 L1277.7,1406.9 L1278.7,1406.9 L1279.7,1406.9 L1280.7,1406.9 L1281.7,1406.9 L1282.7,1406.8 L1283.7,1406.8 L1284.7,1406.8 L1285.7,1406.8 L1286.7,1406.8 L1287.7,1406.8 L1288.7,1406.8 L1289.7,1406.8 L1290.7,1406.8 L1291.7,1406.7 L1292.7,1406.7 L1293.7,1406.7 L1294.7,1406.7 L1295.7,1406.7 L1296.7,1406.7 L1297.7,1406.6 L1298.7,1406.6 L1299.7,1406.6 L1300.7,1406.6 L1301.7,1406.6 L1302.7,1406.5 L1303.7,1406.5 L1304.7,1406.5 L1305.7,1406.5 L1306.7,1406.4 L1307.7,1406.4 L1308.7,1406.4 L1309.7,1406.3 L1310.7,1406.3 L1311.7,1406.3 L1312.7,1406.2 L1313.7,1406.2 L1314.7,1406.2 L1315.7,1406.1 L1316.7,1406.1 L1317.7,1406 L1318.7,1406 L1319.7,1405.9 L1320.7,1405.9 L1321.7,1405.8 L1322.7,1405.8 L1323.7,1405.7 L1324.7,1405.6 L1325.7,1405.6 L1326.7,1405.5 L1327.7,1405.4 L1328.7,1405.4 L1329.7,1405.3 L1330.7,1405.2 L1331.7,1405.1 L1332.7,1405.1 L1333.7,1405 L1334.7,1404.9 L1335.7,1404.8 L1336.7,1404.7 L1337.7,1404.6 L1338.7,1404.5 L1339.7,1404.4 L1340.7,1404.3 L1341.7,1404.1 L1342.7,1404 L1343.7,1403.9 L1344.7,1403.8 L1345.7,1403.6 L1346.7,1403.5 L1347.7,1403.3 L1348.7,1403.2 L1349.7,1403 L1350.7,1402.9 L1351.7,1402.7 L1352.7,1402.6 L1353.7,1402.4 L1354.7,1402.2 L1355.7,1402 L1356.7,1401.8 L1357.7,1401.6 L1358.7,1401.4 L1359.7,1401.2 L1360.7,1401 L1361.7,1400.8 L1362.7,1400.5 L1363.7,1400.3 L1364.7,1400.1 L1365.7,1399.8 L1366.7,1399.5 L1367.7,1399.3 L1368.7,1399 L1369.7,1398.7 L1370.7,1398.4 L1371.7,1398.1 L1372.7,1397.8 L1373.7,1397.5 L1374.7,1397.2 L1375.7,1396.9 L1376.7,1396.5 L1377.7,1396.2 L1378.7,1395.8 L1379.7,1395.5 L1380.7,1395.1 L1381.7,1394.7 L1382.7,1394.3 L1383.7,1393.9 L1384.7,1393.5 L1385.7,1393.1 L1386.7,1392.7 L1387.7,1392.2 L1388.7,1391.8 L1389.7,1391.3 L1390.7,1390.9 L1391.7,1390.4 L1392.7,1389.9 L1393.7,1389.4 L1394.7,1388.9 L1395.7,1388.4 L1396.7,1387.8 L1397.7,1387.3 L1398.7,1386.7 L1399.7,1386.2 L1400.7,1385.6 L1401.7,1385 L1402.7,1384.4 L1403.7,1383.8 L1404.7,1383.2 L1405.7,1382.6 L1406.7,1381.9 L1407.7,1381.3 L1408.7,1380.6 L1409.7,1379.9 L1410.7,1379.3 L1411.7,1378.6 L1412.7,1377.8 L1413.7,1377.1 L1414.7,1376.4 L1415.7,1375.6 L1416.7,1374.9 L1417.7,1374.1 L1418.7,1373.3 L1419.7,1372.5 L1420.7,1371.7 L1421.7,1370.9 L1422.7,1370.1 L1423.7,1369.2 L1424.7,1368.4 L1425.7,1367.5 L1426.7,1366.6 L1427.7,1365.7 L1428.7,1364.8 L1429.7,1363.9 L1430.7,1363 L1431.7,1362 L1432.7,1361.1 L1433.7,1360.1 L1434.7,1359.1 L1435.7,1358.1 L1436.7,1357.1 L1437.7,1356.1 L1438.7,1355 L1439.7,1354 L1440.7,1352.9 L1441.7,1351.8 L1442.7,1350.7 L1443.7,1349.6 L1444.7,1348.5 L1445.7,1347.4 L1446.7,1346.2 L1447.7,1345 L1448.7,1343.8 L1449.7,1342.6 L1450.7,1341.4 L1451.7,1340.2 L1452.7,1338.9 L1453.7,1337.7 L1454.7,1336.4 L1455.7,1335.1 L1456.7,1333.7 L1457.7,1332.4 L1458.7,1331.1 L1459.7,1329.7 L1460.7,1328.3 L1461.7,1326.9 L1462.7,1325.5 L1463.7,1324 L1464.7,1322.5 L1465.7,1321.1 L1466.7,1319.6 L1467.7,1318 L1468.7,1316.5 L1469.7,1314.9 L1470.7,1313.3 L1471.7,1311.7 L1472.7,1310.1 L1473.7,1308.5 L1474.7,1306.8 L1475.7,1305.1 L1476.7,1303.4 L1477.7,1301.7 L1478.7,1299.9 L1479.7,1298.1 L1480.7,1296.3 L1481.7,1294.5 L1482.7,1292.7 L1483.7,1290.8 L1484.7,1288.9 L1485.7,1287 L1486.7,1285.1 L1487.7,1283.1 L1488.7,1281.1 L1489.7,1279.1 L1490.7,1277.1 L1491.7,1275.1 L1492.7,1273 L1493.7,1270.9 L1494.7,1268.8 L1495.7,1266.7 L1496.7,1264.5 L1497.7,1262.4 L1498.7,1260.2 L1499.7,1258 L1500.7,1255.7 L1501.7,1253.5 L1502.7,1251.2 L1503.7,1248.9 L1504.7,1246.5 L1505.7,1244.2 L1506.7,1241.8 L1507.7,1239.5 L1508.7,1237.1 L1509.7,1234.6 L1510.7,1232.2 L1511.7,1229.7 L1512.7,1227.2 L1513.7,1224.7 L1514.7,1222.2 L1515.7,1219.7 L1516.7,1217.1 L1517.7,1214.5 L1518.7,1211.9 L1519.7,1209.3 L1520.7,1206.7 L1521.7,1204 L1522.7,1201.3 L1523.7,1198.6 L1524.7,1195.9 L1525.7,1193.2 L1526.7,1190.4 L1527.7,1187.6 L1528.7,1184.8 L1529.7,1182 L1530.7,1179.2 L1531.7,1176.3 L1532.7,1173.4 L1533.7,1170.5 L1534.7,1167.5 L1535.7,1164.6 L1536.7,1161.6 L1537.7,1158.6 L1538.7,1155.5 L1539.7,1152.4 L1540.7,1149.3 L1541.7,1146.2 L1542.7,1143.1 L1543.7,1139.9 L1544.7,1136.7 L1545.7,1133.4 L1546.7,1130.1 L1547.7,1126.8 L1548.7,1123.5 L1549.7,1120.1 L1550.7,1116.7 L1551.7,1113.3 L1552.7,1109.8 L1553.7,1106.3 L1554.7,1102.7 L1555.7,1099.2 L1556.7,1095.6 L1557.7,1092 L1558.7,1088.3 L1559.7,1084.6 L1560.7,1080.9 L1561.7,1077.2 L1562.7,1073.4 L1563.7,1069.7 L1564.7,1065.9 L1565.7,1062 L1566.7,1058.2 L1567.7,1054.4 L1568.7,1050.5 L1569.7,1046.7 L1570.7,1042.8 L1571.7,1038.9 L1572.7,1035.1 L1573.7,1031.2 L1574.7,1027.4 L1575.7,1023.6 L1576.7,1019.8 L1577.7,1016 L1578.7,1012.2 L1579.7,1008.5 L1580.7,1004.9 L1581.7,1001.2 L1582.7,997.7 L1583.7,994.2 L1584.7,990.7 L1585.7,987.3 L1586.7,984 L1587.7,980.8 L1588.7,977.6 L1589.7,974.5 L1590.7,971.6 L1591.7,968.7 L1592.7,965.9 L1593.7,963.2 L1594.7,960.7 L1595.7,958.2 L1596.7,955.9 L1597.7,953.7 L1598.7,951.6 L1599.7,949.7 L1600.7,947.9 L1601.7,946.2 L1602.7,944.6 L1603.7,943.2 L1604.7,941.9 L1605.7,940.8 L1606.7,939.8 L1607.7,938.9 L1608.7,938.2 L1609.7,937.5 L1610.7,937.1 L1611.7,936.7 L1612.7,936.5 L1613.7,936.4 L1614.7,936.4 L1615.7,936.5 L1616.7,936.7 L1617.7,937 L1618.7,937.4 L1619.7,937.9 L1620.7,938.5 L1621.7,939.2 L1622.7,939.9 L1623.7,940.7 L1624.7,941.6 L1625.7,942.5 L1626.7,943.4 L1627.7,944.4 L1628.7,945.5 L1629.7,946.6 L1630.7,947.7 L1631.7,948.8 L1632.7,949.9 L1633.7,951 L1634.7,952.2 L1635.7,953.4 L1636.7,954.5 L1637.7,955.7 L1638.7,956.8 L1639.7,957.9 L1640.7,959.1 L1641.7,960.2 L1642.7,961.3 L1643.7,962.4 L1644.7,963.5 L1645.7,964.6 L1646.7,965.7 L1647.7,966.8 L1648.7,967.9 L1649.7,969 L1650.7,970.1 L1651.7,971.2 L1652.7,972.3 L1653.7,973.4 L1654.7,974.5 L1655.7,975.7 L1656.7,976.8 L1657.7,978 L1658.7,979.2 L1659.7,980.5 L1660.7,981.7 L1661.7,983 L1662.7,984.3 L1663.7,985.7 L1664.7,987 L1665.7,988.4 L1666.7,989.9 L1667.7,991.3 L1668.7,992.8 L1669.7,994.3 L1670.7,995.8 L1671.7,997.3 L1672.7,998.8 L1673.7,1000.3 L1674.7,1001.8 L1675.7,1003.3 L1676.7,1004.8 L1677.7,1006.3 L1678.7,1007.7 L1679.7,1009.1 L1680.7,1010.5 L1681.7,1011.8 L1682.7,1013.1 L1683.7,1014.3 L1684.7,1015.4 L1685.7,1016.5 L1686.7,1017.5 L1687.7,1018.4 L1688.7,1019.2 L1689.7,1019.9 L1690.7,1020.5 L1691.7,1021 L1692.7,1021.4 L1693.7,1021.7 L1694.7,1021.9 L1695.7,1022 L1696.7,1022 L1697.7,1021.8 L1698.7,1021.6 L1699.7,1021.2 L1700.7,1020.7 L1701.7,1020.2 L1702.7,1019.5 L1703.7,1018.7 L1704.7,1017.8 L1705.7,1016.9 L1706.7,1015.8 L1707.7,1014.7 L1708.7,1013.5 L1709.7,1012.2 L1710.7,1010.8 L1711.7,1009.5 L1712.7,1008 L1713.7,1006.5 L1714.7,1005 L1715.7,1003.5 L1716.7,1001.9 L1717.7,1000.3 L1718.7,998.7 L1719.7,997.2 L1720.7,995.6 L1721.7,994.1 L1722.7,992.5 L1723.7,991.1 L1724.7,989.6 L1725.7,988.2 L1726.7,986.9 L1727.7,985.6 L1728.7,984.4 L1729.7,983.2 L1730.7,982.1 L1731.7,981.1 L1732.7,980.2 L1733.7,979.4 L1734.7,978.7 L1735.7,978 L1736.7,977.5 L1737.7,977.1 L1738.7,976.7 L1739.7,976.5 L1740.7,976.4 L1741.7,976.4 L1742.7,976.5 L1743.7,976.8 L1744.7,977.1 L1745.7,977.6 L1746.7,978.1 L1747.7,978.8 L1748.7,979.6 L1749.7,980.5 L1750.7,981.6 L1751.7,982.7 L1752.7,984 L1753.7,985.3 L1754.7,986.8 L1755.7,988.4 L1756.7,990.1 L1757.7,991.9 L1758.7,993.8 L1759.7,995.7 L1760.7,997.8 L1761.7,1000 L1762.7,1002.3 L1763.7,1004.7 L1764.7,1007.1 L1765.7,1009.7 L1766.7,1012.3 L1767.7,1015 L1768.7,1017.8 L1769.7,1020.7 L1770.7,1023.7 L1771.7,1026.7 L1772.7,1029.8 L1773.7,1032.9 L1774.7,1036.1 L1775.7,1039.4 L1776.7,1042.7 L1777.7,1046.1 L1778.7,1049.6 L1779.7,1053.1 L1780.7,1056.6 L1781.7,1060.2 L1782.7,1063.8 L1783.7,1067.5 L1784.7,1071.2 L1785.7,1075 L1786.7,1078.7 L1787.7,1082.6 L1788.7,1086.4 L1789.7,1090.3 L1790.7,1094.2 L1791.7,1098.1 L1792.7,1102 L1793.7,1106 L1794.7,1109.9 L1795.7,1113.9 L1796.7,1117.9 L1797.7,1121.9 L1798.7,1125.9 L1799.7,1129.9 L1800.7,1134 L1801.7,1138 L1802.7,1142 L1803.7,1146.1 L1804.7,1150.1 L1805.7,1154.1 L1806.7,1158.1 L1807.7,1162.1 L1808.7,1166.1 L1809.7,1170.1 L1810.7,1174.1 L1811.7,1178.1 L1812.7,1182 L1813.7,1186 L1814.7,1189.9 L1815.7,1193.8 L1816.7,1197.7 L1817.7,1201.6 L1818.7,1205.4 L1819.7,1209.2 L1820.7,1213 L1821.7,1216.8 L1822.7,1220.5 L1823.7,1224.2 L1824.7,1227.9 L1825.7,1231.6 L1826.7,1235.2 L1827.7,1238.8 L1828.7,1242.4 L1829.7,1245.9 L1830.7,1249.4 L1831.7,1252.8 L1832.7,1256.2 L1833.7,1259.6 L1834.7,1263 L1835.7,1266.3 L1836.7,1269.6 L1837.7,1272.8 L1838.7,1276 L1839.7,1279.1 L1840.7,1282.2 L1841.7,1285.3 L1842.7,1288.3 L1843.7,1291.3 L1844.7,1294.2 L1845.7,1297.1 L1846.7,1300 L1847.7,1302.8 L1848.7,1305.5 L1849.7,1308.3 L1850.7,1310.9 L1851.7,1313.5 L1852.7,1316.1 L1853.7,1318.7 L1854.7,1321.2 L1855.7,1323.6 L1856.7,1326 L1857.7,1328.3 L1858.7,1330.6 L1859.7,1332.9 L1860.7,1335.1 L1861.7,1337.3 L1862.7,1339.4 L1863.7,1341.5 L1864.7,1343.5 L1865.7,1345.5 L1866.7,1347.5 L1867.7,1349.4 L1868.7,1351.2 L1869.7,1353 L1870.7,1354.8 L1871.7,1356.5 L1872.7,1358.2 L1873.7,1359.9 L1874.7,1361.5 L1875.7,1363 L1876.7,1364.6 L1877.7,1366.1 L1878.7,1367.5 L1879.7,1368.9 L1880.7,1370.3 L1881.7,1371.6 L1882.7,1372.9 L1883.7,1374.1 L1884.7,1375.4 L1885.7,1376.5 L1886.7,1377.7 L1887.7,1378.8 L1888.7,1379.9 L1889.7,1380.9 L1890.7,1381.9 L1891.7,1382.9 L1892.7,1383.9 L1893.7,1384.8 L1894.7,1385.7 L1895.7,1386.6 L1896.7,1387.4 L1897.7,1388.2 L1898.7,1389 L1899.7,1389.7 L1900.7,1390.5 L1901.7,1391.2 L1902.7,1391.8 L1903.7,1392.5 L1904.7,1393.1 L1905.7,1393.7 L1906.7,1394.3 L1907.7,1394.9 L1908.7,1395.4 L1909.7,1395.9 L1910.7,1396.4 L1911.7,1396.9 L1912.7,1397.4 L1913.7,1397.8 L1914.7,1398.2 L1915.7,1398.6 L1916.7,1399 L1917.7,1399.4 L1918.7,1399.8 L1919.7,1400.1 L1920.7,1400.4 L1921.7,1400.8 L1922.7,1401.1 L1923.7,1401.4 L1924.7,1401.6 L1925.7,1401.9 L1926.7,1402.2 L1927.7,1402.4 L1928.7,1402.6 L1929.7,1402.9 L1930.7,1403.1 L1931.7,1403.3 L1932.7,1403.5 L1933.7,1403.7 L1934.7,1403.8 L1935.7,1404 L1936.7,1404.2 L1937.7,1404.3 L1938.7,1404.5 L1939.7,1404.6 L1940.7,1404.7 L1941.7,1404.8 L1942.7,1405 L1943.7,1405.1 L1944.7,1405.2 L1945.7,1405.3 L1946.7,1405.4 L1947.7,1405.5 L1948.7,1405.6 L1949.7,1405.6 L1950.7,1405.7 L1951.7,1405.8 L1952.7,1405.9 L1953.7,1405.9 L1954.7,1406 L1955.7,1406.1 L1956.7,1406.1 L1957.7,1406.2 L1958.7,1406.2 L1959.7,1406.3 L1960.7,1406.3 L1961.7,1406.3 L1962.7,1406.4 L1963.7,1406.4 L1964.7,1406.5 L1965.7,1406.5 L1966.7,1406.5 L1967.7,1406.6 L1968.7,1406.6 L1969.7,1406.6 L1970.7,1406.6 L1971.7,1406.7 L1972.7,1406.7 L1973.7,1406.7 L1974.7,1406.7 L1975.7,1406.7 L1976.7,1406.8 L1977.7,1406.8 L1978.7,1406.8 L1979.7,1406.8 L1980.7,1406.8 L1981.7,1406.8 L1982.7,1406.8 L1983.7,1406.9 L1984.7,1406.9 L1985.7,1406.9 L1986.7,1406.9 L1987.7,1406.9 L1988.7,1406.9 L1989.7,1406.9 L1990.7,1406.9 L1991.7,1406.9 L1992.7,1406.9 L1993.7,1406.9 L1994.7,1406.9 L1995.7,1406.9 L1996.7,1406.9 L1997.7,1406.9 L1998.7,1406.9 L1999.7,1407 L2000.7,1407 L2001.7,1407 L2002.7,1407 L2003.7,1407 L2004.7,1407 L2005.7,1407 L2006.7,1407 L2007.7,1407 L2008.7,1407 L2009.7,1407 L2010.7,1407 L2011.7,1407 L2012.7,1407 L2013.7,1407 L2014.7,1407 L2015.7,1407 L2016.7,1407 L2017.7,1407 L2018.7,1407 L2019.7,1407 L2020.7,1407 L2021.7,1407 L2022.7,1407 L2023.7,1407 L2024.7,1407 L2025.7,1407 L2026.7,1407 L2027.7,1407 L2028.7,1407 L2029.7,1407 L2030.7,1407 L2031.7,1407 L2032.7,1407 L2033.7,1407 L2034.7,1407 L2035.7,1407 L2036.7,1407 L2037.7,1407 L2038.7,1407 L2039.7,1407 L2040.7,1407 L2041.7,1407 L2042.7,1407 L2043.7,1407 L2044.7,1407 L2045.7,1407 L2046.7,1407 L2047.7,1407 L2048.7,1407 L2049.7,1407 L2050.7,1407 L2051.7,1407 L2052.7,1407 L2053.7,1407 L2054.7,1407 L2055.7,1407 L2056.7,1407 L2057.7,1407 L2058.7,1407 L2059.7,1407 L2060.7,1407 L2061.7,1407 L2062.7,1407 L2063.7,1407 L2064.7,1407" fill="none" stroke="#e8206c" stroke-width="2.6" stroke-linejoin="round" stroke-linecap="round" stroke-dasharray="13 8"/>
<path d="M1243.7,1406.5 L1252.7,1407 L1261.7,1407.5 L1270.7,1406.3 L1279.7,1406.4 L1288.7,1407.5 L1297.7,1406.9 L1306.7,1407.2 L1315.7,1407 L1324.7,1404.4 L1333.7,1405.2 L1342.7,1403.5 L1351.7,1402.5 L1360.7,1400.9 L1369.7,1399.5 L1378.7,1396.6 L1387.7,1391.9 L1396.7,1387 L1405.7,1384 L1414.7,1377.2 L1423.7,1369.4 L1432.7,1360.2 L1441.7,1351.3 L1450.7,1340.6 L1459.7,1329.4 L1468.7,1317.5 L1477.7,1301.8 L1486.7,1283.6 L1495.7,1266.5 L1504.7,1248.2 L1513.7,1222.7 L1522.7,1200.6 L1531.7,1175.1 L1540.7,1145.9 L1549.7,1121.1 L1558.7,1089.6 L1567.7,1059.7 L1576.7,1019.4 L1585.7,985.9 L1594.7,960.7 L1603.7,943.2 L1612.7,933.7 L1621.7,934.1 L1630.7,938.7 L1639.7,955.1 L1648.7,967.8 L1657.7,975.5 L1666.7,991.9 L1675.7,1012.1 L1684.7,1020.2 L1693.7,1022.2 L1702.7,1019.1 L1711.7,1008.3 L1720.7,995.9 L1729.7,986.6 L1738.7,984.7 L1747.7,979.6 L1756.7,992.9 L1765.7,1010.1 L1774.7,1033.5 L1783.7,1067 L1792.7,1103.6 L1801.7,1136.8 L1810.7,1174.6 L1819.7,1209.9 L1828.7,1240.7 L1837.7,1271.9 L1846.7,1296.4 L1855.7,1324.7 L1864.7,1343.5 L1873.7,1359.5 L1882.7,1371.8 L1891.7,1383.1 L1900.7,1388.9 L1909.7,1394.9 L1918.7,1398.2 L1927.7,1398.7 L1936.7,1398.8 L1945.7,1399.4 L1954.7,1401.2 L1963.7,1403.1 L1972.7,1404.1 L1981.7,1405.4 L1990.7,1405.3 L1999.7,1407.5 L2008.7,1407.7 L2017.7,1405.5 L2026.7,1406.7 L2035.7,1406.7 L2044.7,1407.6 L2053.7,1406.7 L2062.7,1406.9" fill="none" stroke="#111" stroke-width="1.65" stroke-linejoin="round" stroke-linecap="round" />
<path d="M1243.7,1407 L1244.7,1407 L1245.7,1407 L1246.7,1407 L1247.7,1407 L1248.7,1407 L1249.7,1407 L1250.7,1407 L1251.7,1407 L1252.7,1407 L1253.7,1407 L1254.7,1407 L1255.7,1407 L1256.7,1407 L1257.7,1407 L1258.7,1407 L1259.7,1407 L1260.7,1407 L1261.7,1407 L1262.7,1407 L1263.7,1407 L1264.7,1407 L1265.7,1407 L1266.7,1407 L1267.7,1407 L1268.7,1407 L1269.7,1407 L1270.7,1407 L1271.7,1407 L1272.7,1407 L1273.7,1407 L1274.7,1407 L1275.7,1407 L1276.7,1407 L1277.7,1407 L1278.7,1407 L1279.7,1407 L1280.7,1407 L1281.7,1407 L1282.7,1407 L1283.7,1407 L1284.7,1407 L1285.7,1407 L1286.7,1407 L1287.7,1407 L1288.7,1407 L1289.7,1407 L1290.7,1407 L1291.7,1407 L1292.7,1407 L1293.7,1407 L1294.7,1407 L1295.7,1407 L1296.7,1407 L1297.7,1407 L1298.7,1407 L1299.7,1407 L1300.7,1407 L1301.7,1407 L1302.7,1407 L1303.7,1407 L1304.7,1407 L1305.7,1407 L1306.7,1407 L1307.7,1407 L1308.7,1407 L1309.7,1407 L1310.7,1407 L1311.7,1407 L1312.7,1407 L1313.7,1407 L1314.7,1407 L1315.7,1407 L1316.7,1407 L1317.7,1407 L1318.7,1407 L1319.7,1407 L1320.7,1407 L1321.7,1407 L1322.7,1407 L1323.7,1407 L1324.7,1407 L1325.7,1407 L1326.7,1407 L1327.7,1407 L1328.7,1407 L1329.7,1407 L1330.7,1407 L1331.7,1407 L1332.7,1407 L1333.7,1407 L1334.7,1407 L1335.7,1407 L1336.7,1407 L1337.7,1407 L1338.7,1407 L1339.7,1407 L1340.7,1407 L1341.7,1407 L1342.7,1407 L1343.7,1407 L1344.7,1407 L1345.7,1407 L1346.7,1407 L1347.7,1407 L1348.7,1407 L1349.7,1407 L1350.7,1407 L1351.7,1407 L1352.7,1407 L1353.7,1407 L1354.7,1407 L1355.7,1407 L1356.7,1407 L1357.7,1407 L1358.7,1407 L1359.7,1407 L1360.7,1407 L1361.7,1407 L1362.7,1407 L1363.7,1407 L1364.7,1407 L1365.7,1407 L1366.7,1407 L1367.7,1407 L1368.7,1407 L1369.7,1407 L1370.7,1407 L1371.7,1407 L1372.7,1407 L1373.7,1407 L1374.7,1407 L1375.7,1407 L1376.7,1407 L1377.7,1407 L1378.7,1407 L1379.7,1407 L1380.7,1407 L1381.7,1407 L1382.7,1407 L1383.7,1407 L1384.7,1407 L1385.7,1407 L1386.7,1407 L1387.7,1407 L1388.7,1407 L1389.7,1407 L1390.7,1407 L1391.7,1407 L1392.7,1407 L1393.7,1407 L1394.7,1407 L1395.7,1407 L1396.7,1407 L1397.7,1407 L1398.7,1407 L1399.7,1407 L1400.7,1407 L1401.7,1407 L1402.7,1407 L1403.7,1407 L1404.7,1407 L1405.7,1407 L1406.7,1407 L1407.7,1407 L1408.7,1407 L1409.7,1407 L1410.7,1407 L1411.7,1407 L1412.7,1407 L1413.7,1407 L1414.7,1407 L1415.7,1407 L1416.7,1407 L1417.7,1407 L1418.7,1407 L1419.7,1407 L1420.7,1407 L1421.7,1407 L1422.7,1407 L1423.7,1407 L1424.7,1407 L1425.7,1407 L1426.7,1407 L1427.7,1407 L1428.7,1407 L1429.7,1407 L1430.7,1407 L1431.7,1407 L1432.7,1407 L1433.7,1407 L1434.7,1407 L1435.7,1407 L1436.7,1407 L1437.7,1407 L1438.7,1407 L1439.7,1407 L1440.7,1407 L1441.7,1407 L1442.7,1407 L1443.7,1407 L1444.7,1407 L1445.7,1407 L1446.7,1407 L1447.7,1407 L1448.7,1407 L1449.7,1407 L1450.7,1407 L1451.7,1407 L1452.7,1407 L1453.7,1407 L1454.7,1407 L1455.7,1407 L1456.7,1407 L1457.7,1407 L1458.7,1407 L1459.7,1407 L1460.7,1407 L1461.7,1407 L1462.7,1407 L1463.7,1407 L1464.7,1407 L1465.7,1407 L1466.7,1407 L1467.7,1407 L1468.7,1407 L1469.7,1407 L1470.7,1407 L1471.7,1407 L1472.7,1407 L1473.7,1407 L1474.7,1407 L1475.7,1407 L1476.7,1407 L1477.7,1407 L1478.7,1407 L1479.7,1407 L1480.7,1407 L1481.7,1407 L1482.7,1407 L1483.7,1407 L1484.7,1407 L1485.7,1407 L1486.7,1407 L1487.7,1407 L1488.7,1407 L1489.7,1407 L1490.7,1407 L1491.7,1407 L1492.7,1407 L1493.7,1407 L1494.7,1407 L1495.7,1407 L1496.7,1407 L1497.7,1407 L1498.7,1407 L1499.7,1407 L1500.7,1407 L1501.7,1407 L1502.7,1407 L1503.7,1407 L1504.7,1407 L1505.7,1407 L1506.7,1407 L1507.7,1407 L1508.7,1407 L1509.7,1407 L1510.7,1407 L1511.7,1407 L1512.7,1407 L1513.7,1407 L1514.7,1407 L1515.7,1407 L1516.7,1407 L1517.7,1407 L1518.7,1407 L1519.7,1407 L1520.7,1407 L1521.7,1407 L1522.7,1407 L1523.7,1407 L1524.7,1407 L1525.7,1407 L1526.7,1407 L1527.7,1407 L1528.7,1407 L1529.7,1407 L1530.7,1407 L1531.7,1407 L1532.7,1407 L1533.7,1407 L1534.7,1407 L1535.7,1407 L1536.7,1407 L1537.7,1407 L1538.7,1407 L1539.7,1407 L1540.7,1407 L1541.7,1407 L1542.7,1407 L1543.7,1406.9 L1544.7,1406.9 L1545.7,1406.9 L1546.7,1406.9 L1547.7,1406.9 L1548.7,1406.9 L1549.7,1406.9 L1550.7,1406.9 L1551.7,1406.9 L1552.7,1406.9 L1553.7,1406.9 L1554.7,1406.9 L1555.7,1406.9 L1556.7,1406.9 L1557.7,1406.9 L1558.7,1406.8 L1559.7,1406.8 L1560.7,1406.8 L1561.7,1406.8 L1562.7,1406.8 L1563.7,1406.8 L1564.7,1406.8 L1565.7,1406.7 L1566.7,1406.7 L1567.7,1406.7 L1568.7,1406.7 L1569.7,1406.7 L1570.7,1406.6 L1571.7,1406.6 L1572.7,1406.6 L1573.7,1406.6 L1574.7,1406.5 L1575.7,1406.5 L1576.7,1406.5 L1577.7,1406.4 L1578.7,1406.4 L1579.7,1406.4 L1580.7,1406.3 L1581.7,1406.3 L1582.7,1406.2 L1583.7,1406.2 L1584.7,1406.1 L1585.7,1406.1 L1586.7,1406 L1587.7,1405.9 L1588.7,1405.9 L1589.7,1405.8 L1590.7,1405.7 L1591.7,1405.7 L1592.7,1405.6 L1593.7,1405.5 L1594.7,1405.4 L1595.7,1405.3 L1596.7,1405.2 L1597.7,1405.1 L1598.7,1405 L1599.7,1404.9 L1600.7,1404.8 L1601.7,1404.6 L1602.7,1404.5 L1603.7,1404.3 L1604.7,1404.2 L1605.7,1404 L1606.7,1403.9 L1607.7,1403.7 L1608.7,1403.5 L1609.7,1403.3 L1610.7,1403.1 L1611.7,1402.9 L1612.7,1402.7 L1613.7,1402.5 L1614.7,1402.2 L1615.7,1402 L1616.7,1401.7 L1617.7,1401.4 L1618.7,1401.1 L1619.7,1400.8 L1620.7,1400.5 L1621.7,1400.2 L1622.7,1399.8 L1623.7,1399.5 L1624.7,1399.1 L1625.7,1398.7 L1626.7,1398.3 L1627.7,1397.9 L1628.7,1397.5 L1629.7,1397 L1630.7,1396.5 L1631.7,1396 L1632.7,1395.5 L1633.7,1395 L1634.7,1394.4 L1635.7,1393.9 L1636.7,1393.3 L1637.7,1392.6 L1638.7,1392 L1639.7,1391.3 L1640.7,1390.6 L1641.7,1389.9 L1642.7,1389.2 L1643.7,1388.4 L1644.7,1387.6 L1645.7,1386.8 L1646.7,1385.9 L1647.7,1385.1 L1648.7,1384.2 L1649.7,1383.2 L1650.7,1382.3 L1651.7,1381.3 L1652.7,1380.2 L1653.7,1379.2 L1654.7,1378.1 L1655.7,1376.9 L1656.7,1375.8 L1657.7,1374.6 L1658.7,1373.4 L1659.7,1372.1 L1660.7,1370.8 L1661.7,1369.5 L1662.7,1368.1 L1663.7,1366.7 L1664.7,1365.2 L1665.7,1363.7 L1666.7,1362.2 L1667.7,1360.7 L1668.7,1359.1 L1669.7,1357.4 L1670.7,1355.8 L1671.7,1354 L1672.7,1352.3 L1673.7,1350.5 L1674.7,1348.7 L1675.7,1346.8 L1676.7,1344.9 L1677.7,1342.9 L1678.7,1340.9 L1679.7,1338.9 L1680.7,1336.8 L1681.7,1334.7 L1682.7,1332.6 L1683.7,1330.4 L1684.7,1328.2 L1685.7,1325.9 L1686.7,1323.6 L1687.7,1321.3 L1688.7,1318.9 L1689.7,1316.5 L1690.7,1314 L1691.7,1311.5 L1692.7,1309 L1693.7,1306.5 L1694.7,1303.9 L1695.7,1301.3 L1696.7,1298.7 L1697.7,1296 L1698.7,1293.3 L1699.7,1290.6 L1700.7,1287.8 L1701.7,1285 L1702.7,1282.3 L1703.7,1279.4 L1704.7,1276.6 L1705.7,1273.7 L1706.7,1270.9 L1707.7,1268 L1708.7,1265.1 L1709.7,1262.1 L1710.7,1259.2 L1711.7,1256.3 L1712.7,1253.3 L1713.7,1250.4 L1714.7,1247.4 L1715.7,1244.4 L1716.7,1241.5 L1717.7,1238.5 L1718.7,1235.6 L1719.7,1232.6 L1720.7,1229.7 L1721.7,1226.7 L1722.7,1223.8 L1723.7,1220.9 L1724.7,1218 L1725.7,1215.2 L1726.7,1212.3 L1727.7,1209.5 L1728.7,1206.7 L1729.7,1203.9 L1730.7,1201.2 L1731.7,1198.5 L1732.7,1195.8 L1733.7,1193.1 L1734.7,1190.5 L1735.7,1188 L1736.7,1185.4 L1737.7,1183 L1738.7,1180.5 L1739.7,1178.2 L1740.7,1175.8 L1741.7,1173.6 L1742.7,1171.4 L1743.7,1169.2 L1744.7,1167.1 L1745.7,1165.1 L1746.7,1163.1 L1747.7,1161.2 L1748.7,1159.3 L1749.7,1157.5 L1750.7,1155.8 L1751.7,1154.2 L1752.7,1152.7 L1753.7,1151.2 L1754.7,1149.8 L1755.7,1148.4 L1756.7,1147.2 L1757.7,1146 L1758.7,1144.9 L1759.7,1143.9 L1760.7,1143 L1761.7,1142.2 L1762.7,1141.4 L1763.7,1140.7 L1764.7,1140.1 L1765.7,1139.7 L1766.7,1139.2 L1767.7,1138.9 L1768.7,1138.7 L1769.7,1138.6 L1770.7,1138.5 L1771.7,1138.5 L1772.7,1138.7 L1773.7,1138.9 L1774.7,1139.2 L1775.7,1139.6 L1776.7,1140 L1777.7,1140.6 L1778.7,1141.3 L1779.7,1142 L1780.7,1142.8 L1781.7,1143.7 L1782.7,1144.7 L1783.7,1145.8 L1784.7,1146.9 L1785.7,1148.2 L1786.7,1149.5 L1787.7,1150.9 L1788.7,1152.3 L1789.7,1153.9 L1790.7,1155.5 L1791.7,1157.2 L1792.7,1159 L1793.7,1160.8 L1794.7,1162.7 L1795.7,1164.7 L1796.7,1166.7 L1797.7,1168.8 L1798.7,1170.9 L1799.7,1173.1 L1800.7,1175.4 L1801.7,1177.7 L1802.7,1180.1 L1803.7,1182.5 L1804.7,1185 L1805.7,1187.5 L1806.7,1190 L1807.7,1192.6 L1808.7,1195.2 L1809.7,1197.9 L1810.7,1200.6 L1811.7,1203.4 L1812.7,1206.1 L1813.7,1208.9 L1814.7,1211.7 L1815.7,1214.6 L1816.7,1217.5 L1817.7,1220.3 L1818.7,1223.2 L1819.7,1226.2 L1820.7,1229.1 L1821.7,1232 L1822.7,1235 L1823.7,1237.9 L1824.7,1240.9 L1825.7,1243.9 L1826.7,1246.8 L1827.7,1249.8 L1828.7,1252.7 L1829.7,1255.7 L1830.7,1258.6 L1831.7,1261.6 L1832.7,1264.5 L1833.7,1267.4 L1834.7,1270.3 L1835.7,1273.2 L1836.7,1276 L1837.7,1278.9 L1838.7,1281.7 L1839.7,1284.5 L1840.7,1287.3 L1841.7,1290 L1842.7,1292.8 L1843.7,1295.5 L1844.7,1298.1 L1845.7,1300.8 L1846.7,1303.4 L1847.7,1306 L1848.7,1308.5 L1849.7,1311 L1850.7,1313.5 L1851.7,1316 L1852.7,1318.4 L1853.7,1320.8 L1854.7,1323.1 L1855.7,1325.4 L1856.7,1327.7 L1857.7,1329.9 L1858.7,1332.1 L1859.7,1334.3 L1860.7,1336.4 L1861.7,1338.5 L1862.7,1340.5 L1863.7,1342.5 L1864.7,1344.5 L1865.7,1346.4 L1866.7,1348.3 L1867.7,1350.1 L1868.7,1351.9 L1869.7,1353.7 L1870.7,1355.4 L1871.7,1357.1 L1872.7,1358.7 L1873.7,1360.3 L1874.7,1361.9 L1875.7,1363.4 L1876.7,1364.9 L1877.7,1366.4 L1878.7,1367.8 L1879.7,1369.2 L1880.7,1370.5 L1881.7,1371.8 L1882.7,1373.1 L1883.7,1374.3 L1884.7,1375.5 L1885.7,1376.7 L1886.7,1377.8 L1887.7,1378.9 L1888.7,1380 L1889.7,1381.1 L1890.7,1382.1 L1891.7,1383 L1892.7,1384 L1893.7,1384.9 L1894.7,1385.8 L1895.7,1386.6 L1896.7,1387.5 L1897.7,1388.3 L1898.7,1389 L1899.7,1389.8 L1900.7,1390.5 L1901.7,1391.2 L1902.7,1391.9 L1903.7,1392.5 L1904.7,1393.1 L1905.7,1393.7 L1906.7,1394.3 L1907.7,1394.9 L1908.7,1395.4 L1909.7,1395.9 L1910.7,1396.4 L1911.7,1396.9 L1912.7,1397.4 L1913.7,1397.8 L1914.7,1398.2 L1915.7,1398.6 L1916.7,1399 L1917.7,1399.4 L1918.7,1399.8 L1919.7,1400.1 L1920.7,1400.5 L1921.7,1400.8 L1922.7,1401.1 L1923.7,1401.4 L1924.7,1401.6 L1925.7,1401.9 L1926.7,1402.2 L1927.7,1402.4 L1928.7,1402.6 L1929.7,1402.9 L1930.7,1403.1 L1931.7,1403.3 L1932.7,1403.5 L1933.7,1403.7 L1934.7,1403.8 L1935.7,1404 L1936.7,1404.2 L1937.7,1404.3 L1938.7,1404.5 L1939.7,1404.6 L1940.7,1404.7 L1941.7,1404.9 L1942.7,1405 L1943.7,1405.1 L1944.7,1405.2 L1945.7,1405.3 L1946.7,1405.4 L1947.7,1405.5 L1948.7,1405.6 L1949.7,1405.6 L1950.7,1405.7 L1951.7,1405.8 L1952.7,1405.9 L1953.7,1405.9 L1954.7,1406 L1955.7,1406.1 L1956.7,1406.1 L1957.7,1406.2 L1958.7,1406.2 L1959.7,1406.3 L1960.7,1406.3 L1961.7,1406.3 L1962.7,1406.4 L1963.7,1406.4 L1964.7,1406.5 L1965.7,1406.5 L1966.7,1406.5 L1967.7,1406.6 L1968.7,1406.6 L1969.7,1406.6 L1970.7,1406.6 L1971.7,1406.7 L1972.7,1406.7 L1973.7,1406.7 L1974.7,1406.7 L1975.7,1406.7 L1976.7,1406.8 L1977.7,1406.8 L1978.7,1406.8 L1979.7,1406.8 L1980.7,1406.8 L1981.7,1406.8 L1982.7,1406.8 L1983.7,1406.9 L1984.7,1406.9 L1985.7,1406.9 L1986.7,1406.9 L1987.7,1406.9 L1988.7,1406.9 L1989.7,1406.9 L1990.7,1406.9 L1991.7,1406.9 L1992.7,1406.9 L1993.7,1406.9 L1994.7,1406.9 L1995.7,1406.9 L1996.7,1406.9 L1997.7,1406.9 L1998.7,1406.9 L1999.7,1407 L2000.7,1407 L2001.7,1407 L2002.7,1407 L2003.7,1407 L2004.7,1407 L2005.7,1407 L2006.7,1407 L2007.7,1407 L2008.7,1407 L2009.7,1407 L2010.7,1407 L2011.7,1407 L2012.7,1407 L2013.7,1407 L2014.7,1407 L2015.7,1407 L2016.7,1407 L2017.7,1407 L2018.7,1407 L2019.7,1407 L2020.7,1407 L2021.7,1407 L2022.7,1407 L2023.7,1407 L2024.7,1407 L2025.7,1407 L2026.7,1407 L2027.7,1407 L2028.7,1407 L2029.7,1407 L2030.7,1407 L2031.7,1407 L2032.7,1407 L2033.7,1407 L2034.7,1407 L2035.7,1407 L2036.7,1407 L2037.7,1407 L2038.7,1407 L2039.7,1407 L2040.7,1407 L2041.7,1407 L2042.7,1407 L2043.7,1407 L2044.7,1407 L2045.7,1407 L2046.7,1407 L2047.7,1407 L2048.7,1407 L2049.7,1407 L2050.7,1407 L2051.7,1407 L2052.7,1407 L2053.7,1407 L2054.7,1407 L2055.7,1407 L2056.7,1407 L2057.7,1407 L2058.7,1407 L2059.7,1407 L2060.7,1407 L2061.7,1407 L2062.7,1407 L2063.7,1407 L2064.7,1407" fill="none" stroke="#dc3444" stroke-width="1.5" stroke-linejoin="round" stroke-linecap="round" />
<path d="M1243.7,1407 L1244.7,1407 L1245.7,1407 L1246.7,1407 L1247.7,1407 L1248.7,1407 L1249.7,1407 L1250.7,1407 L1251.7,1407 L1252.7,1407 L1253.7,1407 L1254.7,1407 L1255.7,1407 L1256.7,1407 L1257.7,1407 L1258.7,1407 L1259.7,1407 L1260.7,1407 L1261.7,1407 L1262.7,1407 L1263.7,1407 L1264.7,1407 L1265.7,1407 L1266.7,1407 L1267.7,1407 L1268.7,1407 L1269.7,1407 L1270.7,1407 L1271.7,1407 L1272.7,1407 L1273.7,1407 L1274.7,1407 L1275.7,1407 L1276.7,1407 L1277.7,1407 L1278.7,1407 L1279.7,1407 L1280.7,1407 L1281.7,1407 L1282.7,1407 L1283.7,1407 L1284.7,1407 L1285.7,1407 L1286.7,1407 L1287.7,1407 L1288.7,1407 L1289.7,1407 L1290.7,1407 L1291.7,1407 L1292.7,1407 L1293.7,1407 L1294.7,1407 L1295.7,1407 L1296.7,1407 L1297.7,1407 L1298.7,1407 L1299.7,1407 L1300.7,1407 L1301.7,1407 L1302.7,1407 L1303.7,1407 L1304.7,1407 L1305.7,1407 L1306.7,1407 L1307.7,1407 L1308.7,1407 L1309.7,1407 L1310.7,1407 L1311.7,1407 L1312.7,1407 L1313.7,1407 L1314.7,1407 L1315.7,1407 L1316.7,1407 L1317.7,1407 L1318.7,1407 L1319.7,1407 L1320.7,1407 L1321.7,1407 L1322.7,1407 L1323.7,1407 L1324.7,1407 L1325.7,1407 L1326.7,1407 L1327.7,1407 L1328.7,1407 L1329.7,1407 L1330.7,1407 L1331.7,1407 L1332.7,1407 L1333.7,1407 L1334.7,1407 L1335.7,1407 L1336.7,1407 L1337.7,1407 L1338.7,1407 L1339.7,1407 L1340.7,1407 L1341.7,1407 L1342.7,1407 L1343.7,1407 L1344.7,1407 L1345.7,1407 L1346.7,1407 L1347.7,1407 L1348.7,1407 L1349.7,1407 L1350.7,1407 L1351.7,1407 L1352.7,1407 L1353.7,1407 L1354.7,1407 L1355.7,1407 L1356.7,1407 L1357.7,1407 L1358.7,1407 L1359.7,1407 L1360.7,1407 L1361.7,1407 L1362.7,1407 L1363.7,1407 L1364.7,1407 L1365.7,1407 L1366.7,1407 L1367.7,1407 L1368.7,1407 L1369.7,1407 L1370.7,1407 L1371.7,1407 L1372.7,1407 L1373.7,1407 L1374.7,1407 L1375.7,1407 L1376.7,1407 L1377.7,1407 L1378.7,1407 L1379.7,1407 L1380.7,1407 L1381.7,1407 L1382.7,1407 L1383.7,1407 L1384.7,1407 L1385.7,1407 L1386.7,1407 L1387.7,1407 L1388.7,1407 L1389.7,1407 L1390.7,1407 L1391.7,1407 L1392.7,1407 L1393.7,1407 L1394.7,1407 L1395.7,1407 L1396.7,1407 L1397.7,1407 L1398.7,1407 L1399.7,1407 L1400.7,1407 L1401.7,1407 L1402.7,1407 L1403.7,1407 L1404.7,1407 L1405.7,1407 L1406.7,1407 L1407.7,1407 L1408.7,1407 L1409.7,1407 L1410.7,1407 L1411.7,1407 L1412.7,1407 L1413.7,1407 L1414.7,1407 L1415.7,1407 L1416.7,1407 L1417.7,1407 L1418.7,1407 L1419.7,1407 L1420.7,1407 L1421.7,1407 L1422.7,1407 L1423.7,1407 L1424.7,1407 L1425.7,1407 L1426.7,1407 L1427.7,1407 L1428.7,1407 L1429.7,1407 L1430.7,1407 L1431.7,1407 L1432.7,1407 L1433.7,1407 L1434.7,1407 L1435.7,1407 L1436.7,1407 L1437.7,1407 L1438.7,1407 L1439.7,1407 L1440.7,1407 L1441.7,1407 L1442.7,1407 L1443.7,1407 L1444.7,1407 L1445.7,1407 L1446.7,1407 L1447.7,1407 L1448.7,1407 L1449.7,1407 L1450.7,1407 L1451.7,1407 L1452.7,1407 L1453.7,1407 L1454.7,1407 L1455.7,1407 L1456.7,1407 L1457.7,1407 L1458.7,1407 L1459.7,1407 L1460.7,1407 L1461.7,1407 L1462.7,1407 L1463.7,1407 L1464.7,1407 L1465.7,1407 L1466.7,1407 L1467.7,1407 L1468.7,1407 L1469.7,1407 L1470.7,1407 L1471.7,1407 L1472.7,1407 L1473.7,1407 L1474.7,1407 L1475.7,1407 L1476.7,1407 L1477.7,1407 L1478.7,1407 L1479.7,1407 L1480.7,1407 L1481.7,1407 L1482.7,1407 L1483.7,1407 L1484.7,1407 L1485.7,1407 L1486.7,1407 L1487.7,1407 L1488.7,1407 L1489.7,1407 L1490.7,1407 L1491.7,1407 L1492.7,1407 L1493.7,1407 L1494.7,1407 L1495.7,1407 L1496.7,1407 L1497.7,1407 L1498.7,1407 L1499.7,1407 L1500.7,1407 L1501.7,1407 L1502.7,1407 L1503.7,1407 L1504.7,1407 L1505.7,1407 L1506.7,1407 L1507.7,1407 L1508.7,1407 L1509.7,1407 L1510.7,1407 L1511.7,1407 L1512.7,1407 L1513.7,1407 L1514.7,1407 L1515.7,1407 L1516.7,1407 L1517.7,1407 L1518.7,1407 L1519.7,1407 L1520.7,1407 L1521.7,1407 L1522.7,1407 L1523.7,1407 L1524.7,1407 L1525.7,1407 L1526.7,1407 L1527.7,1407 L1528.7,1407 L1529.7,1407 L1530.7,1407 L1531.7,1407 L1532.7,1407 L1533.7,1407 L1534.7,1407 L1535.7,1407 L1536.7,1407 L1537.7,1407 L1538.7,1407 L1539.7,1407 L1540.7,1407 L1541.7,1407 L1542.7,1407 L1543.7,1407 L1544.7,1407 L1545.7,1406.9 L1546.7,1406.9 L1547.7,1406.9 L1548.7,1406.9 L1549.7,1406.9 L1550.7,1406.9 L1551.7,1406.9 L1552.7,1406.9 L1553.7,1406.9 L1554.7,1406.9 L1555.7,1406.9 L1556.7,1406.9 L1557.7,1406.8 L1558.7,1406.8 L1559.7,1406.8 L1560.7,1406.8 L1561.7,1406.8 L1562.7,1406.8 L1563.7,1406.7 L1564.7,1406.7 L1565.7,1406.7 L1566.7,1406.7 L1567.7,1406.6 L1568.7,1406.6 L1569.7,1406.6 L1570.7,1406.5 L1571.7,1406.5 L1572.7,1406.4 L1573.7,1406.4 L1574.7,1406.3 L1575.7,1406.3 L1576.7,1406.2 L1577.7,1406.2 L1578.7,1406.1 L1579.7,1406 L1580.7,1405.9 L1581.7,1405.9 L1582.7,1405.8 L1583.7,1405.7 L1584.7,1405.6 L1585.7,1405.5 L1586.7,1405.4 L1587.7,1405.2 L1588.7,1405.1 L1589.7,1405 L1590.7,1404.8 L1591.7,1404.7 L1592.7,1404.5 L1593.7,1404.3 L1594.7,1404.1 L1595.7,1403.9 L1596.7,1403.7 L1597.7,1403.5 L1598.7,1403.3 L1599.7,1403 L1600.7,1402.7 L1601.7,1402.4 L1602.7,1402.1 L1603.7,1401.8 L1604.7,1401.5 L1605.7,1401.1 L1606.7,1400.8 L1607.7,1400.4 L1608.7,1400 L1609.7,1399.5 L1610.7,1399.1 L1611.7,1398.6 L1612.7,1398.1 L1613.7,1397.5 L1614.7,1397 L1615.7,1396.4 L1616.7,1395.8 L1617.7,1395.1 L1618.7,1394.5 L1619.7,1393.7 L1620.7,1393 L1621.7,1392.2 L1622.7,1391.4 L1623.7,1390.6 L1624.7,1389.7 L1625.7,1388.8 L1626.7,1387.8 L1627.7,1386.8 L1628.7,1385.8 L1629.7,1384.7 L1630.7,1383.6 L1631.7,1382.4 L1632.7,1381.2 L1633.7,1380 L1634.7,1378.7 L1635.7,1377.4 L1636.7,1376 L1637.7,1374.5 L1638.7,1373.1 L1639.7,1371.5 L1640.7,1369.9 L1641.7,1368.3 L1642.7,1366.6 L1643.7,1364.9 L1644.7,1363.1 L1645.7,1361.3 L1646.7,1359.4 L1647.7,1357.4 L1648.7,1355.5 L1649.7,1353.4 L1650.7,1351.3 L1651.7,1349.2 L1652.7,1347 L1653.7,1344.7 L1654.7,1342.5 L1655.7,1340.1 L1656.7,1337.7 L1657.7,1335.3 L1658.7,1332.8 L1659.7,1330.3 L1660.7,1327.7 L1661.7,1325.1 L1662.7,1322.4 L1663.7,1319.7 L1664.7,1317 L1665.7,1314.2 L1666.7,1311.4 L1667.7,1308.6 L1668.7,1305.7 L1669.7,1302.9 L1670.7,1299.9 L1671.7,1297 L1672.7,1294 L1673.7,1291.1 L1674.7,1288.1 L1675.7,1285.1 L1676.7,1282 L1677.7,1279 L1678.7,1276 L1679.7,1273 L1680.7,1269.9 L1681.7,1266.9 L1682.7,1263.9 L1683.7,1260.9 L1684.7,1258 L1685.7,1255 L1686.7,1252.1 L1687.7,1249.2 L1688.7,1246.3 L1689.7,1243.5 L1690.7,1240.7 L1691.7,1237.9 L1692.7,1235.2 L1693.7,1232.5 L1694.7,1229.9 L1695.7,1227.4 L1696.7,1224.9 L1697.7,1222.5 L1698.7,1220.1 L1699.7,1217.8 L1700.7,1215.6 L1701.7,1213.5 L1702.7,1211.4 L1703.7,1209.5 L1704.7,1207.6 L1705.7,1205.8 L1706.7,1204.1 L1707.7,1202.5 L1708.7,1201 L1709.7,1199.5 L1710.7,1198.2 L1711.7,1197 L1712.7,1195.9 L1713.7,1194.9 L1714.7,1194 L1715.7,1193.3 L1716.7,1192.6 L1717.7,1192.1 L1718.7,1191.6 L1719.7,1191.3 L1720.7,1191.1 L1721.7,1191 L1722.7,1191 L1723.7,1191.2 L1724.7,1191.4 L1725.7,1191.8 L1726.7,1192.3 L1727.7,1192.9 L1728.7,1193.6 L1729.7,1194.4 L1730.7,1195.3 L1731.7,1196.4 L1732.7,1197.5 L1733.7,1198.7 L1734.7,1200.1 L1735.7,1201.5 L1736.7,1203.1 L1737.7,1204.7 L1738.7,1206.5 L1739.7,1208.3 L1740.7,1210.2 L1741.7,1212.2 L1742.7,1214.3 L1743.7,1216.5 L1744.7,1218.7 L1745.7,1221 L1746.7,1223.4 L1747.7,1225.9 L1748.7,1228.4 L1749.7,1231 L1750.7,1233.6 L1751.7,1236.3 L1752.7,1239 L1753.7,1241.8 L1754.7,1244.6 L1755.7,1247.4 L1756.7,1250.3 L1757.7,1253.2 L1758.7,1256.2 L1759.7,1259.1 L1760.7,1262.1 L1761.7,1265.1 L1762.7,1268.1 L1763.7,1271.2 L1764.7,1274.2 L1765.7,1277.2 L1766.7,1280.2 L1767.7,1283.2 L1768.7,1286.3 L1769.7,1289.3 L1770.7,1292.2 L1771.7,1295.2 L1772.7,1298.2 L1773.7,1301.1 L1774.7,1304 L1775.7,1306.9 L1776.7,1309.7 L1777.7,1312.6 L1778.7,1315.4 L1779.7,1318.1 L1780.7,1320.8 L1781.7,1323.5 L1782.7,1326.1 L1783.7,1328.7 L1784.7,1331.3 L1785.7,1333.8 L1786.7,1336.3 L1787.7,1338.7 L1788.7,1341.1 L1789.7,1343.4 L1790.7,1345.6 L1791.7,1347.9 L1792.7,1350 L1793.7,1352.2 L1794.7,1354.2 L1795.7,1356.3 L1796.7,1358.2 L1797.7,1360.1 L1798.7,1362 L1799.7,1363.8 L1800.7,1365.6 L1801.7,1367.3 L1802.7,1369 L1803.7,1370.6 L1804.7,1372.1 L1805.7,1373.7 L1806.7,1375.1 L1807.7,1376.5 L1808.7,1377.9 L1809.7,1379.2 L1810.7,1380.5 L1811.7,1381.7 L1812.7,1382.9 L1813.7,1384.1 L1814.7,1385.2 L1815.7,1386.2 L1816.7,1387.2 L1817.7,1388.2 L1818.7,1389.2 L1819.7,1390.1 L1820.7,1390.9 L1821.7,1391.8 L1822.7,1392.5 L1823.7,1393.3 L1824.7,1394 L1825.7,1394.7 L1826.7,1395.4 L1827.7,1396 L1828.7,1396.6 L1829.7,1397.2 L1830.7,1397.8 L1831.7,1398.3 L1832.7,1398.8 L1833.7,1399.2 L1834.7,1399.7 L1835.7,1400.1 L1836.7,1400.5 L1837.7,1400.9 L1838.7,1401.3 L1839.7,1401.6 L1840.7,1402 L1841.7,1402.3 L1842.7,1402.6 L1843.7,1402.8 L1844.7,1403.1 L1845.7,1403.4 L1846.7,1403.6 L1847.7,1403.8 L1848.7,1404 L1849.7,1404.2 L1850.7,1404.4 L1851.7,1404.6 L1852.7,1404.7 L1853.7,1404.9 L1854.7,1405 L1855.7,1405.2 L1856.7,1405.3 L1857.7,1405.4 L1858.7,1405.5 L1859.7,1405.6 L1860.7,1405.7 L1861.7,1405.8 L1862.7,1405.9 L1863.7,1406 L1864.7,1406.1 L1865.7,1406.1 L1866.7,1406.2 L1867.7,1406.2 L1868.7,1406.3 L1869.7,1406.4 L1870.7,1406.4 L1871.7,1406.5 L1872.7,1406.5 L1873.7,1406.5 L1874.7,1406.6 L1875.7,1406.6 L1876.7,1406.6 L1877.7,1406.7 L1878.7,1406.7 L1879.7,1406.7 L1880.7,1406.7 L1881.7,1406.8 L1882.7,1406.8 L1883.7,1406.8 L1884.7,1406.8 L1885.7,1406.8 L1886.7,1406.8 L1887.7,1406.9 L1888.7,1406.9 L1889.7,1406.9 L1890.7,1406.9 L1891.7,1406.9 L1892.7,1406.9 L1893.7,1406.9 L1894.7,1406.9 L1895.7,1406.9 L1896.7,1406.9 L1897.7,1406.9 L1898.7,1406.9 L1899.7,1407 L1900.7,1407 L1901.7,1407 L1902.7,1407 L1903.7,1407 L1904.7,1407 L1905.7,1407 L1906.7,1407 L1907.7,1407 L1908.7,1407 L1909.7,1407 L1910.7,1407 L1911.7,1407 L1912.7,1407 L1913.7,1407 L1914.7,1407 L1915.7,1407 L1916.7,1407 L1917.7,1407 L1918.7,1407 L1919.7,1407 L1920.7,1407 L1921.7,1407 L1922.7,1407 L1923.7,1407 L1924.7,1407 L1925.7,1407 L1926.7,1407 L1927.7,1407 L1928.7,1407 L1929.7,1407 L1930.7,1407 L1931.7,1407 L1932.7,1407 L1933.7,1407 L1934.7,1407 L1935.7,1407 L1936.7,1407 L1937.7,1407 L1938.7,1407 L1939.7,1407 L1940.7,1407 L1941.7,1407 L1942.7,1407 L1943.7,1407 L1944.7,1407 L1945.7,1407 L1946.7,1407 L1947.7,1407 L1948.7,1407 L1949.7,1407 L1950.7,1407 L1951.7,1407 L1952.7,1407 L1953.7,1407 L1954.7,1407 L1955.7,1407 L1956.7,1407 L1957.7,1407 L1958.7,1407 L1959.7,1407 L1960.7,1407 L1961.7,1407 L1962.7,1407 L1963.7,1407 L1964.7,1407 L1965.7,1407 L1966.7,1407 L1967.7,1407 L1968.7,1407 L1969.7,1407 L1970.7,1407 L1971.7,1407 L1972.7,1407 L1973.7,1407 L1974.7,1407 L1975.7,1407 L1976.7,1407 L1977.7,1407 L1978.7,1407 L1979.7,1407 L1980.7,1407 L1981.7,1407 L1982.7,1407 L1983.7,1407 L1984.7,1407 L1985.7,1407 L1986.7,1407 L1987.7,1407 L1988.7,1407 L1989.7,1407 L1990.7,1407 L1991.7,1407 L1992.7,1407 L1993.7,1407 L1994.7,1407 L1995.7,1407 L1996.7,1407 L1997.7,1407 L1998.7,1407 L1999.7,1407 L2000.7,1407 L2001.7,1407 L2002.7,1407 L2003.7,1407 L2004.7,1407 L2005.7,1407 L2006.7,1407 L2007.7,1407 L2008.7,1407 L2009.7,1407 L2010.7,1407 L2011.7,1407 L2012.7,1407 L2013.7,1407 L2014.7,1407 L2015.7,1407 L2016.7,1407 L2017.7,1407 L2018.7,1407 L2019.7,1407 L2020.7,1407 L2021.7,1407 L2022.7,1407 L2023.7,1407 L2024.7,1407 L2025.7,1407 L2026.7,1407 L2027.7,1407 L2028.7,1407 L2029.7,1407 L2030.7,1407 L2031.7,1407 L2032.7,1407 L2033.7,1407 L2034.7,1407 L2035.7,1407 L2036.7,1407 L2037.7,1407 L2038.7,1407 L2039.7,1407 L2040.7,1407 L2041.7,1407 L2042.7,1407 L2043.7,1407 L2044.7,1407 L2045.7,1407 L2046.7,1407 L2047.7,1407 L2048.7,1407 L2049.7,1407 L2050.7,1407 L2051.7,1407 L2052.7,1407 L2053.7,1407 L2054.7,1407 L2055.7,1407 L2056.7,1407 L2057.7,1407 L2058.7,1407 L2059.7,1407 L2060.7,1407 L2061.7,1407 L2062.7,1407 L2063.7,1407 L2064.7,1407" fill="none" stroke="#ec8438" stroke-width="1.5" stroke-linejoin="round" stroke-linecap="round" />
<path d="M1243.7,1407 L1244.7,1407 L1245.7,1407 L1246.7,1407 L1247.7,1407 L1248.7,1407 L1249.7,1407 L1250.7,1407 L1251.7,1407 L1252.7,1407 L1253.7,1407 L1254.7,1407 L1255.7,1407 L1256.7,1407 L1257.7,1407 L1258.7,1407 L1259.7,1407 L1260.7,1407 L1261.7,1407 L1262.7,1407 L1263.7,1407 L1264.7,1407 L1265.7,1407 L1266.7,1407 L1267.7,1407 L1268.7,1407 L1269.7,1407 L1270.7,1407 L1271.7,1407 L1272.7,1407 L1273.7,1407 L1274.7,1407 L1275.7,1407 L1276.7,1407 L1277.7,1407 L1278.7,1407 L1279.7,1407 L1280.7,1407 L1281.7,1407 L1282.7,1407 L1283.7,1407 L1284.7,1407 L1285.7,1407 L1286.7,1407 L1287.7,1407 L1288.7,1407 L1289.7,1407 L1290.7,1407 L1291.7,1407 L1292.7,1407 L1293.7,1407 L1294.7,1407 L1295.7,1407 L1296.7,1407 L1297.7,1407 L1298.7,1407 L1299.7,1407 L1300.7,1407 L1301.7,1407 L1302.7,1407 L1303.7,1407 L1304.7,1407 L1305.7,1407 L1306.7,1407 L1307.7,1407 L1308.7,1407 L1309.7,1407 L1310.7,1407 L1311.7,1407 L1312.7,1407 L1313.7,1407 L1314.7,1407 L1315.7,1407 L1316.7,1407 L1317.7,1407 L1318.7,1407 L1319.7,1407 L1320.7,1407 L1321.7,1407 L1322.7,1407 L1323.7,1407 L1324.7,1407 L1325.7,1407 L1326.7,1407 L1327.7,1407 L1328.7,1407 L1329.7,1407 L1330.7,1407 L1331.7,1407 L1332.7,1407 L1333.7,1407 L1334.7,1407 L1335.7,1407 L1336.7,1407 L1337.7,1407 L1338.7,1407 L1339.7,1407 L1340.7,1407 L1341.7,1407 L1342.7,1407 L1343.7,1407 L1344.7,1407 L1345.7,1407 L1346.7,1407 L1347.7,1407 L1348.7,1407 L1349.7,1407 L1350.7,1407 L1351.7,1407 L1352.7,1407 L1353.7,1407 L1354.7,1407 L1355.7,1407 L1356.7,1407 L1357.7,1407 L1358.7,1407 L1359.7,1407 L1360.7,1407 L1361.7,1407 L1362.7,1407 L1363.7,1407 L1364.7,1407 L1365.7,1407 L1366.7,1407 L1367.7,1407 L1368.7,1407 L1369.7,1407 L1370.7,1407 L1371.7,1407 L1372.7,1407 L1373.7,1407 L1374.7,1407 L1375.7,1407 L1376.7,1407 L1377.7,1407 L1378.7,1407 L1379.7,1407 L1380.7,1407 L1381.7,1407 L1382.7,1407 L1383.7,1407 L1384.7,1407 L1385.7,1407 L1386.7,1407 L1387.7,1407 L1388.7,1407 L1389.7,1407 L1390.7,1407 L1391.7,1407 L1392.7,1407 L1393.7,1407 L1394.7,1407 L1395.7,1407 L1396.7,1407 L1397.7,1407 L1398.7,1407 L1399.7,1407 L1400.7,1407 L1401.7,1407 L1402.7,1407 L1403.7,1407 L1404.7,1407 L1405.7,1407 L1406.7,1407 L1407.7,1407 L1408.7,1407 L1409.7,1407 L1410.7,1407 L1411.7,1407 L1412.7,1407 L1413.7,1407 L1414.7,1407 L1415.7,1407 L1416.7,1407 L1417.7,1407 L1418.7,1407 L1419.7,1407 L1420.7,1407 L1421.7,1407 L1422.7,1407 L1423.7,1407 L1424.7,1407 L1425.7,1407 L1426.7,1407 L1427.7,1407 L1428.7,1407 L1429.7,1407 L1430.7,1407 L1431.7,1407 L1432.7,1407 L1433.7,1407 L1434.7,1407 L1435.7,1407 L1436.7,1407 L1437.7,1407 L1438.7,1407 L1439.7,1407 L1440.7,1407 L1441.7,1407 L1442.7,1407 L1443.7,1407 L1444.7,1407 L1445.7,1407 L1446.7,1407 L1447.7,1407 L1448.7,1407 L1449.7,1407 L1450.7,1407 L1451.7,1407 L1452.7,1407 L1453.7,1407 L1454.7,1407 L1455.7,1407 L1456.7,1407 L1457.7,1407 L1458.7,1407 L1459.7,1407 L1460.7,1407 L1461.7,1407 L1462.7,1407 L1463.7,1407 L1464.7,1407 L1465.7,1407 L1466.7,1407 L1467.7,1407 L1468.7,1407 L1469.7,1407 L1470.7,1407 L1471.7,1407 L1472.7,1407 L1473.7,1407 L1474.7,1407 L1475.7,1407 L1476.7,1407 L1477.7,1407 L1478.7,1407 L1479.7,1407 L1480.7,1407 L1481.7,1407 L1482.7,1407 L1483.7,1407 L1484.7,1407 L1485.7,1407 L1486.7,1407 L1487.7,1407 L1488.7,1407 L1489.7,1407 L1490.7,1407 L1491.7,1407 L1492.7,1407 L1493.7,1407 L1494.7,1407 L1495.7,1407 L1496.7,1407 L1497.7,1407 L1498.7,1407 L1499.7,1407 L1500.7,1407 L1501.7,1407 L1502.7,1407 L1503.7,1407 L1504.7,1407 L1505.7,1407 L1506.7,1407 L1507.7,1407 L1508.7,1407 L1509.7,1407 L1510.7,1407 L1511.7,1407 L1512.7,1407 L1513.7,1407 L1514.7,1407 L1515.7,1407 L1516.7,1407 L1517.7,1407 L1518.7,1407 L1519.7,1407 L1520.7,1407 L1521.7,1407 L1522.7,1407 L1523.7,1407 L1524.7,1407 L1525.7,1407 L1526.7,1407 L1527.7,1407 L1528.7,1407 L1529.7,1407 L1530.7,1407 L1531.7,1407 L1532.7,1407 L1533.7,1407 L1534.7,1407 L1535.7,1407 L1536.7,1407 L1537.7,1407 L1538.7,1407 L1539.7,1407 L1540.7,1407 L1541.7,1407 L1542.7,1407 L1543.7,1407 L1544.7,1407 L1545.7,1407 L1546.7,1407 L1547.7,1407 L1548.7,1407 L1549.7,1407 L1550.7,1407 L1551.7,1407 L1552.7,1407 L1553.7,1407 L1554.7,1407 L1555.7,1407 L1556.7,1407 L1557.7,1407 L1558.7,1407 L1559.7,1407 L1560.7,1407 L1561.7,1407 L1562.7,1407 L1563.7,1407 L1564.7,1407 L1565.7,1407 L1566.7,1406.9 L1567.7,1406.9 L1568.7,1406.9 L1569.7,1406.9 L1570.7,1406.9 L1571.7,1406.9 L1572.7,1406.9 L1573.7,1406.9 L1574.7,1406.8 L1575.7,1406.8 L1576.7,1406.8 L1577.7,1406.7 L1578.7,1406.7 L1579.7,1406.7 L1580.7,1406.6 L1581.7,1406.5 L1582.7,1406.5 L1583.7,1406.4 L1584.7,1406.3 L1585.7,1406.2 L1586.7,1406.1 L1587.7,1406 L1588.7,1405.9 L1589.7,1405.7 L1590.7,1405.6 L1591.7,1405.4 L1592.7,1405.2 L1593.7,1404.9 L1594.7,1404.7 L1595.7,1404.4 L1596.7,1404.1 L1597.7,1403.8 L1598.7,1403.4 L1599.7,1403 L1600.7,1402.5 L1601.7,1402.1 L1602.7,1401.5 L1603.7,1400.9 L1604.7,1400.3 L1605.7,1399.6 L1606.7,1398.9 L1607.7,1398.1 L1608.7,1397.2 L1609.7,1396.3 L1610.7,1395.3 L1611.7,1394.2 L1612.7,1393.1 L1613.7,1391.9 L1614.7,1390.6 L1615.7,1389.2 L1616.7,1387.7 L1617.7,1386.1 L1618.7,1384.5 L1619.7,1382.7 L1620.7,1380.9 L1621.7,1378.9 L1622.7,1376.9 L1623.7,1374.7 L1624.7,1372.5 L1625.7,1370.2 L1626.7,1367.8 L1627.7,1365.2 L1628.7,1362.6 L1629.7,1360 L1630.7,1357.2 L1631.7,1354.3 L1632.7,1351.4 L1633.7,1348.4 L1634.7,1345.3 L1635.7,1342.2 L1636.7,1339.1 L1637.7,1335.9 L1638.7,1332.6 L1639.7,1329.4 L1640.7,1326.1 L1641.7,1322.8 L1642.7,1319.6 L1643.7,1316.3 L1644.7,1313.1 L1645.7,1309.9 L1646.7,1306.8 L1647.7,1303.7 L1648.7,1300.7 L1649.7,1297.9 L1650.7,1295.1 L1651.7,1292.4 L1652.7,1289.8 L1653.7,1287.4 L1654.7,1285.1 L1655.7,1283 L1656.7,1281 L1657.7,1279.2 L1658.7,1277.6 L1659.7,1276.2 L1660.7,1275 L1661.7,1274 L1662.7,1273.2 L1663.7,1272.6 L1664.7,1272.2 L1665.7,1272 L1666.7,1272.1 L1667.7,1272.3 L1668.7,1272.8 L1669.7,1273.5 L1670.7,1274.4 L1671.7,1275.5 L1672.7,1276.8 L1673.7,1278.3 L1674.7,1279.9 L1675.7,1281.8 L1676.7,1283.8 L1677.7,1286 L1678.7,1288.3 L1679.7,1290.8 L1680.7,1293.4 L1681.7,1296.2 L1682.7,1299 L1683.7,1301.9 L1684.7,1304.9 L1685.7,1308 L1686.7,1311.2 L1687.7,1314.4 L1688.7,1317.6 L1689.7,1320.9 L1690.7,1324.1 L1691.7,1327.4 L1692.7,1330.7 L1693.7,1333.9 L1694.7,1337.2 L1695.7,1340.3 L1696.7,1343.5 L1697.7,1346.6 L1698.7,1349.6 L1699.7,1352.6 L1700.7,1355.5 L1701.7,1358.3 L1702.7,1361 L1703.7,1363.7 L1704.7,1366.3 L1705.7,1368.7 L1706.7,1371.1 L1707.7,1373.4 L1708.7,1375.6 L1709.7,1377.7 L1710.7,1379.7 L1711.7,1381.6 L1712.7,1383.4 L1713.7,1385.1 L1714.7,1386.8 L1715.7,1388.3 L1716.7,1389.7 L1717.7,1391.1 L1718.7,1392.4 L1719.7,1393.6 L1720.7,1394.7 L1721.7,1395.7 L1722.7,1396.7 L1723.7,1397.6 L1724.7,1398.4 L1725.7,1399.2 L1726.7,1399.9 L1727.7,1400.6 L1728.7,1401.2 L1729.7,1401.7 L1730.7,1402.3 L1731.7,1402.7 L1732.7,1403.2 L1733.7,1403.5 L1734.7,1403.9 L1735.7,1404.2 L1736.7,1404.5 L1737.7,1404.8 L1738.7,1405 L1739.7,1405.2 L1740.7,1405.4 L1741.7,1405.6 L1742.7,1405.8 L1743.7,1405.9 L1744.7,1406 L1745.7,1406.2 L1746.7,1406.3 L1747.7,1406.4 L1748.7,1406.4 L1749.7,1406.5 L1750.7,1406.6 L1751.7,1406.6 L1752.7,1406.7 L1753.7,1406.7 L1754.7,1406.8 L1755.7,1406.8 L1756.7,1406.8 L1757.7,1406.8 L1758.7,1406.9 L1759.7,1406.9 L1760.7,1406.9 L1761.7,1406.9 L1762.7,1406.9 L1763.7,1406.9 L1764.7,1406.9 L1765.7,1407 L1766.7,1407 L1767.7,1407 L1768.7,1407 L1769.7,1407 L1770.7,1407 L1771.7,1407 L1772.7,1407 L1773.7,1407 L1774.7,1407 L1775.7,1407 L1776.7,1407 L1777.7,1407 L1778.7,1407 L1779.7,1407 L1780.7,1407 L1781.7,1407 L1782.7,1407 L1783.7,1407 L1784.7,1407 L1785.7,1407 L1786.7,1407 L1787.7,1407 L1788.7,1407 L1789.7,1407 L1790.7,1407 L1791.7,1407 L1792.7,1407 L1793.7,1407 L1794.7,1407 L1795.7,1407 L1796.7,1407 L1797.7,1407 L1798.7,1407 L1799.7,1407 L1800.7,1407 L1801.7,1407 L1802.7,1407 L1803.7,1407 L1804.7,1407 L1805.7,1407 L1806.7,1407 L1807.7,1407 L1808.7,1407 L1809.7,1407 L1810.7,1407 L1811.7,1407 L1812.7,1407 L1813.7,1407 L1814.7,1407 L1815.7,1407 L1816.7,1407 L1817.7,1407 L1818.7,1407 L1819.7,1407 L1820.7,1407 L1821.7,1407 L1822.7,1407 L1823.7,1407 L1824.7,1407 L1825.7,1407 L1826.7,1407 L1827.7,1407 L1828.7,1407 L1829.7,1407 L1830.7,1407 L1831.7,1407 L1832.7,1407 L1833.7,1407 L1834.7,1407 L1835.7,1407 L1836.7,1407 L1837.7,1407 L1838.7,1407 L1839.7,1407 L1840.7,1407 L1841.7,1407 L1842.7,1407 L1843.7,1407 L1844.7,1407 L1845.7,1407 L1846.7,1407 L1847.7,1407 L1848.7,1407 L1849.7,1407 L1850.7,1407 L1851.7,1407 L1852.7,1407 L1853.7,1407 L1854.7,1407 L1855.7,1407 L1856.7,1407 L1857.7,1407 L1858.7,1407 L1859.7,1407 L1860.7,1407 L1861.7,1407 L1862.7,1407 L1863.7,1407 L1864.7,1407 L1865.7,1407 L1866.7,1407 L1867.7,1407 L1868.7,1407 L1869.7,1407 L1870.7,1407 L1871.7,1407 L1872.7,1407 L1873.7,1407 L1874.7,1407 L1875.7,1407 L1876.7,1407 L1877.7,1407 L1878.7,1407 L1879.7,1407 L1880.7,1407 L1881.7,1407 L1882.7,1407 L1883.7,1407 L1884.7,1407 L1885.7,1407 L1886.7,1407 L1887.7,1407 L1888.7,1407 L1889.7,1407 L1890.7,1407 L1891.7,1407 L1892.7,1407 L1893.7,1407 L1894.7,1407 L1895.7,1407 L1896.7,1407 L1897.7,1407 L1898.7,1407 L1899.7,1407 L1900.7,1407 L1901.7,1407 L1902.7,1407 L1903.7,1407 L1904.7,1407 L1905.7,1407 L1906.7,1407 L1907.7,1407 L1908.7,1407 L1909.7,1407 L1910.7,1407 L1911.7,1407 L1912.7,1407 L1913.7,1407 L1914.7,1407 L1915.7,1407 L1916.7,1407 L1917.7,1407 L1918.7,1407 L1919.7,1407 L1920.7,1407 L1921.7,1407 L1922.7,1407 L1923.7,1407 L1924.7,1407 L1925.7,1407 L1926.7,1407 L1927.7,1407 L1928.7,1407 L1929.7,1407 L1930.7,1407 L1931.7,1407 L1932.7,1407 L1933.7,1407 L1934.7,1407 L1935.7,1407 L1936.7,1407 L1937.7,1407 L1938.7,1407 L1939.7,1407 L1940.7,1407 L1941.7,1407 L1942.7,1407 L1943.7,1407 L1944.7,1407 L1945.7,1407 L1946.7,1407 L1947.7,1407 L1948.7,1407 L1949.7,1407 L1950.7,1407 L1951.7,1407 L1952.7,1407 L1953.7,1407 L1954.7,1407 L1955.7,1407 L1956.7,1407 L1957.7,1407 L1958.7,1407 L1959.7,1407 L1960.7,1407 L1961.7,1407 L1962.7,1407 L1963.7,1407 L1964.7,1407 L1965.7,1407 L1966.7,1407 L1967.7,1407 L1968.7,1407 L1969.7,1407 L1970.7,1407 L1971.7,1407 L1972.7,1407 L1973.7,1407 L1974.7,1407 L1975.7,1407 L1976.7,1407 L1977.7,1407 L1978.7,1407 L1979.7,1407 L1980.7,1407 L1981.7,1407 L1982.7,1407 L1983.7,1407 L1984.7,1407 L1985.7,1407 L1986.7,1407 L1987.7,1407 L1988.7,1407 L1989.7,1407 L1990.7,1407 L1991.7,1407 L1992.7,1407 L1993.7,1407 L1994.7,1407 L1995.7,1407 L1996.7,1407 L1997.7,1407 L1998.7,1407 L1999.7,1407 L2000.7,1407 L2001.7,1407 L2002.7,1407 L2003.7,1407 L2004.7,1407 L2005.7,1407 L2006.7,1407 L2007.7,1407 L2008.7,1407 L2009.7,1407 L2010.7,1407 L2011.7,1407 L2012.7,1407 L2013.7,1407 L2014.7,1407 L2015.7,1407 L2016.7,1407 L2017.7,1407 L2018.7,1407 L2019.7,1407 L2020.7,1407 L2021.7,1407 L2022.7,1407 L2023.7,1407 L2024.7,1407 L2025.7,1407 L2026.7,1407 L2027.7,1407 L2028.7,1407 L2029.7,1407 L2030.7,1407 L2031.7,1407 L2032.7,1407 L2033.7,1407 L2034.7,1407 L2035.7,1407 L2036.7,1407 L2037.7,1407 L2038.7,1407 L2039.7,1407 L2040.7,1407 L2041.7,1407 L2042.7,1407 L2043.7,1407 L2044.7,1407 L2045.7,1407 L2046.7,1407 L2047.7,1407 L2048.7,1407 L2049.7,1407 L2050.7,1407 L2051.7,1407 L2052.7,1407 L2053.7,1407 L2054.7,1407 L2055.7,1407 L2056.7,1407 L2057.7,1407 L2058.7,1407 L2059.7,1407 L2060.7,1407 L2061.7,1407 L2062.7,1407 L2063.7,1407 L2064.7,1407" fill="none" stroke="#2c428e" stroke-width="1.5" stroke-linejoin="round" stroke-linecap="round" />
<path d="M1243.7,1407 L1244.7,1407 L1245.7,1407 L1246.7,1407 L1247.7,1407 L1248.7,1407 L1249.7,1407 L1250.7,1407 L1251.7,1407 L1252.7,1407 L1253.7,1407 L1254.7,1407 L1255.7,1407 L1256.7,1407 L1257.7,1407 L1258.7,1407 L1259.7,1407 L1260.7,1407 L1261.7,1407 L1262.7,1407 L1263.7,1407 L1264.7,1407 L1265.7,1407 L1266.7,1407 L1267.7,1407 L1268.7,1407 L1269.7,1407 L1270.7,1407 L1271.7,1407 L1272.7,1407 L1273.7,1407 L1274.7,1407 L1275.7,1407 L1276.7,1407 L1277.7,1407 L1278.7,1407 L1279.7,1407 L1280.7,1407 L1281.7,1407 L1282.7,1407 L1283.7,1407 L1284.7,1407 L1285.7,1407 L1286.7,1407 L1287.7,1407 L1288.7,1407 L1289.7,1407 L1290.7,1407 L1291.7,1407 L1292.7,1407 L1293.7,1407 L1294.7,1407 L1295.7,1407 L1296.7,1407 L1297.7,1407 L1298.7,1407 L1299.7,1407 L1300.7,1407 L1301.7,1407 L1302.7,1407 L1303.7,1407 L1304.7,1407 L1305.7,1407 L1306.7,1407 L1307.7,1407 L1308.7,1407 L1309.7,1407 L1310.7,1407 L1311.7,1407 L1312.7,1407 L1313.7,1407 L1314.7,1407 L1315.7,1407 L1316.7,1407 L1317.7,1407 L1318.7,1407 L1319.7,1407 L1320.7,1407 L1321.7,1407 L1322.7,1407 L1323.7,1407 L1324.7,1407 L1325.7,1407 L1326.7,1407 L1327.7,1407 L1328.7,1407 L1329.7,1407 L1330.7,1407 L1331.7,1407 L1332.7,1407 L1333.7,1407 L1334.7,1407 L1335.7,1407 L1336.7,1407 L1337.7,1407 L1338.7,1407 L1339.7,1407 L1340.7,1407 L1341.7,1407 L1342.7,1407 L1343.7,1407 L1344.7,1407 L1345.7,1407 L1346.7,1407 L1347.7,1407 L1348.7,1407 L1349.7,1407 L1350.7,1407 L1351.7,1407 L1352.7,1407 L1353.7,1407 L1354.7,1407 L1355.7,1407 L1356.7,1407 L1357.7,1407 L1358.7,1407 L1359.7,1407 L1360.7,1407 L1361.7,1407 L1362.7,1407 L1363.7,1407 L1364.7,1407 L1365.7,1407 L1366.7,1407 L1367.7,1407 L1368.7,1407 L1369.7,1407 L1370.7,1407 L1371.7,1407 L1372.7,1407 L1373.7,1407 L1374.7,1407 L1375.7,1407 L1376.7,1407 L1377.7,1407 L1378.7,1407 L1379.7,1407 L1380.7,1407 L1381.7,1407 L1382.7,1407 L1383.7,1407 L1384.7,1407 L1385.7,1407 L1386.7,1407 L1387.7,1407 L1388.7,1407 L1389.7,1407 L1390.7,1407 L1391.7,1407 L1392.7,1407 L1393.7,1407 L1394.7,1407 L1395.7,1407 L1396.7,1407 L1397.7,1407 L1398.7,1407 L1399.7,1407 L1400.7,1407 L1401.7,1407 L1402.7,1407 L1403.7,1407 L1404.7,1407 L1405.7,1407 L1406.7,1407 L1407.7,1407 L1408.7,1407 L1409.7,1407 L1410.7,1407 L1411.7,1407 L1412.7,1407 L1413.7,1407 L1414.7,1407 L1415.7,1407 L1416.7,1407 L1417.7,1407 L1418.7,1407 L1419.7,1407 L1420.7,1407 L1421.7,1407 L1422.7,1407 L1423.7,1407 L1424.7,1407 L1425.7,1407 L1426.7,1407 L1427.7,1407 L1428.7,1407 L1429.7,1407 L1430.7,1407 L1431.7,1407 L1432.7,1407 L1433.7,1407 L1434.7,1407 L1435.7,1407 L1436.7,1407 L1437.7,1407 L1438.7,1407 L1439.7,1407 L1440.7,1407 L1441.7,1407 L1442.7,1407 L1443.7,1407 L1444.7,1407 L1445.7,1407 L1446.7,1407 L1447.7,1407 L1448.7,1407 L1449.7,1407 L1450.7,1407 L1451.7,1407 L1452.7,1407 L1453.7,1407 L1454.7,1407 L1455.7,1407 L1456.7,1407 L1457.7,1407 L1458.7,1407 L1459.7,1407 L1460.7,1407 L1461.7,1407 L1462.7,1407 L1463.7,1407 L1464.7,1407 L1465.7,1407 L1466.7,1407 L1467.7,1407 L1468.7,1407 L1469.7,1407 L1470.7,1406.9 L1471.7,1406.9 L1472.7,1406.9 L1473.7,1406.9 L1474.7,1406.9 L1475.7,1406.9 L1476.7,1406.9 L1477.7,1406.9 L1478.7,1406.9 L1479.7,1406.8 L1480.7,1406.8 L1481.7,1406.8 L1482.7,1406.8 L1483.7,1406.8 L1484.7,1406.7 L1485.7,1406.7 L1486.7,1406.7 L1487.7,1406.6 L1488.7,1406.6 L1489.7,1406.6 L1490.7,1406.5 L1491.7,1406.5 L1492.7,1406.4 L1493.7,1406.3 L1494.7,1406.3 L1495.7,1406.2 L1496.7,1406.1 L1497.7,1406 L1498.7,1405.9 L1499.7,1405.8 L1500.7,1405.7 L1501.7,1405.6 L1502.7,1405.4 L1503.7,1405.3 L1504.7,1405.1 L1505.7,1405 L1506.7,1404.8 L1507.7,1404.6 L1508.7,1404.3 L1509.7,1404.1 L1510.7,1403.8 L1511.7,1403.6 L1512.7,1403.3 L1513.7,1402.9 L1514.7,1402.6 L1515.7,1402.2 L1516.7,1401.8 L1517.7,1401.4 L1518.7,1400.9 L1519.7,1400.4 L1520.7,1399.9 L1521.7,1399.3 L1522.7,1398.7 L1523.7,1398 L1524.7,1397.3 L1525.7,1396.6 L1526.7,1395.8 L1527.7,1395 L1528.7,1394.1 L1529.7,1393.2 L1530.7,1392.2 L1531.7,1391.1 L1532.7,1390 L1533.7,1388.8 L1534.7,1387.5 L1535.7,1386.2 L1536.7,1384.8 L1537.7,1383.4 L1538.7,1381.8 L1539.7,1380.2 L1540.7,1378.5 L1541.7,1376.7 L1542.7,1374.8 L1543.7,1372.9 L1544.7,1370.8 L1545.7,1368.6 L1546.7,1366.4 L1547.7,1364.1 L1548.7,1361.6 L1549.7,1359.1 L1550.7,1356.4 L1551.7,1353.7 L1552.7,1350.8 L1553.7,1347.9 L1554.7,1344.8 L1555.7,1341.6 L1556.7,1338.4 L1557.7,1335 L1558.7,1331.5 L1559.7,1327.9 L1560.7,1324.2 L1561.7,1320.4 L1562.7,1316.5 L1563.7,1312.5 L1564.7,1308.4 L1565.7,1304.2 L1566.7,1299.9 L1567.7,1295.5 L1568.7,1291 L1569.7,1286.4 L1570.7,1281.8 L1571.7,1277.1 L1572.7,1272.3 L1573.7,1267.5 L1574.7,1262.6 L1575.7,1257.6 L1576.7,1252.6 L1577.7,1247.5 L1578.7,1242.5 L1579.7,1237.4 L1580.7,1232.2 L1581.7,1227.1 L1582.7,1222 L1583.7,1216.8 L1584.7,1211.7 L1585.7,1206.6 L1586.7,1201.5 L1587.7,1196.5 L1588.7,1191.5 L1589.7,1186.6 L1590.7,1181.7 L1591.7,1177 L1592.7,1172.3 L1593.7,1167.7 L1594.7,1163.2 L1595.7,1158.8 L1596.7,1154.6 L1597.7,1150.4 L1598.7,1146.5 L1599.7,1142.6 L1600.7,1139 L1601.7,1135.4 L1602.7,1132.1 L1603.7,1129 L1604.7,1126 L1605.7,1123.2 L1606.7,1120.6 L1607.7,1118.3 L1608.7,1116.1 L1609.7,1114.2 L1610.7,1112.5 L1611.7,1111 L1612.7,1109.7 L1613.7,1108.7 L1614.7,1107.9 L1615.7,1107.4 L1616.7,1107.1 L1617.7,1107 L1618.7,1107.2 L1619.7,1107.6 L1620.7,1108.2 L1621.7,1109.1 L1622.7,1110.2 L1623.7,1111.6 L1624.7,1113.1 L1625.7,1114.9 L1626.7,1117 L1627.7,1119.2 L1628.7,1121.6 L1629.7,1124.3 L1630.7,1127.1 L1631.7,1130.2 L1632.7,1133.4 L1633.7,1136.8 L1634.7,1140.4 L1635.7,1144.1 L1636.7,1148 L1637.7,1152.1 L1638.7,1156.2 L1639.7,1160.6 L1640.7,1165 L1641.7,1169.5 L1642.7,1174.1 L1643.7,1178.9 L1644.7,1183.7 L1645.7,1188.6 L1646.7,1193.5 L1647.7,1198.5 L1648.7,1203.6 L1649.7,1208.6 L1650.7,1213.7 L1651.7,1218.9 L1652.7,1224 L1653.7,1229.2 L1654.7,1234.3 L1655.7,1239.4 L1656.7,1244.5 L1657.7,1249.6 L1658.7,1254.6 L1659.7,1259.6 L1660.7,1264.5 L1661.7,1269.4 L1662.7,1274.2 L1663.7,1279 L1664.7,1283.7 L1665.7,1288.3 L1666.7,1292.8 L1667.7,1297.2 L1668.7,1301.6 L1669.7,1305.9 L1670.7,1310 L1671.7,1314.1 L1672.7,1318.1 L1673.7,1321.9 L1674.7,1325.7 L1675.7,1329.3 L1676.7,1332.9 L1677.7,1336.3 L1678.7,1339.7 L1679.7,1342.9 L1680.7,1346 L1681.7,1349.1 L1682.7,1352 L1683.7,1354.8 L1684.7,1357.5 L1685.7,1360.1 L1686.7,1362.6 L1687.7,1365 L1688.7,1367.3 L1689.7,1369.5 L1690.7,1371.6 L1691.7,1373.6 L1692.7,1375.6 L1693.7,1377.4 L1694.7,1379.2 L1695.7,1380.8 L1696.7,1382.4 L1697.7,1384 L1698.7,1385.4 L1699.7,1386.8 L1700.7,1388 L1701.7,1389.3 L1702.7,1390.4 L1703.7,1391.5 L1704.7,1392.6 L1705.7,1393.5 L1706.7,1394.5 L1707.7,1395.3 L1708.7,1396.1 L1709.7,1396.9 L1710.7,1397.6 L1711.7,1398.3 L1712.7,1398.9 L1713.7,1399.5 L1714.7,1400.1 L1715.7,1400.6 L1716.7,1401.1 L1717.7,1401.5 L1718.7,1402 L1719.7,1402.4 L1720.7,1402.7 L1721.7,1403.1 L1722.7,1403.4 L1723.7,1403.7 L1724.7,1403.9 L1725.7,1404.2 L1726.7,1404.4 L1727.7,1404.6 L1728.7,1404.8 L1729.7,1405 L1730.7,1405.2 L1731.7,1405.4 L1732.7,1405.5 L1733.7,1405.6 L1734.7,1405.7 L1735.7,1405.9 L1736.7,1406 L1737.7,1406.1 L1738.7,1406.1 L1739.7,1406.2 L1740.7,1406.3 L1741.7,1406.4 L1742.7,1406.4 L1743.7,1406.5 L1744.7,1406.5 L1745.7,1406.6 L1746.7,1406.6 L1747.7,1406.7 L1748.7,1406.7 L1749.7,1406.7 L1750.7,1406.7 L1751.7,1406.8 L1752.7,1406.8 L1753.7,1406.8 L1754.7,1406.8 L1755.7,1406.9 L1756.7,1406.9 L1757.7,1406.9 L1758.7,1406.9 L1759.7,1406.9 L1760.7,1406.9 L1761.7,1406.9 L1762.7,1406.9 L1763.7,1406.9 L1764.7,1406.9 L1765.7,1407 L1766.7,1407 L1767.7,1407 L1768.7,1407 L1769.7,1407 L1770.7,1407 L1771.7,1407 L1772.7,1407 L1773.7,1407 L1774.7,1407 L1775.7,1407 L1776.7,1407 L1777.7,1407 L1778.7,1407 L1779.7,1407 L1780.7,1407 L1781.7,1407 L1782.7,1407 L1783.7,1407 L1784.7,1407 L1785.7,1407 L1786.7,1407 L1787.7,1407 L1788.7,1407 L1789.7,1407 L1790.7,1407 L1791.7,1407 L1792.7,1407 L1793.7,1407 L1794.7,1407 L1795.7,1407 L1796.7,1407 L1797.7,1407 L1798.7,1407 L1799.7,1407 L1800.7,1407 L1801.7,1407 L1802.7,1407 L1803.7,1407 L1804.7,1407 L1805.7,1407 L1806.7,1407 L1807.7,1407 L1808.7,1407 L1809.7,1407 L1810.7,1407 L1811.7,1407 L1812.7,1407 L1813.7,1407 L1814.7,1407 L1815.7,1407 L1816.7,1407 L1817.7,1407 L1818.7,1407 L1819.7,1407 L1820.7,1407 L1821.7,1407 L1822.7,1407 L1823.7,1407 L1824.7,1407 L1825.7,1407 L1826.7,1407 L1827.7,1407 L1828.7,1407 L1829.7,1407 L1830.7,1407 L1831.7,1407 L1832.7,1407 L1833.7,1407 L1834.7,1407 L1835.7,1407 L1836.7,1407 L1837.7,1407 L1838.7,1407 L1839.7,1407 L1840.7,1407 L1841.7,1407 L1842.7,1407 L1843.7,1407 L1844.7,1407 L1845.7,1407 L1846.7,1407 L1847.7,1407 L1848.7,1407 L1849.7,1407 L1850.7,1407 L1851.7,1407 L1852.7,1407 L1853.7,1407 L1854.7,1407 L1855.7,1407 L1856.7,1407 L1857.7,1407 L1858.7,1407 L1859.7,1407 L1860.7,1407 L1861.7,1407 L1862.7,1407 L1863.7,1407 L1864.7,1407 L1865.7,1407 L1866.7,1407 L1867.7,1407 L1868.7,1407 L1869.7,1407 L1870.7,1407 L1871.7,1407 L1872.7,1407 L1873.7,1407 L1874.7,1407 L1875.7,1407 L1876.7,1407 L1877.7,1407 L1878.7,1407 L1879.7,1407 L1880.7,1407 L1881.7,1407 L1882.7,1407 L1883.7,1407 L1884.7,1407 L1885.7,1407 L1886.7,1407 L1887.7,1407 L1888.7,1407 L1889.7,1407 L1890.7,1407 L1891.7,1407 L1892.7,1407 L1893.7,1407 L1894.7,1407 L1895.7,1407 L1896.7,1407 L1897.7,1407 L1898.7,1407 L1899.7,1407 L1900.7,1407 L1901.7,1407 L1902.7,1407 L1903.7,1407 L1904.7,1407 L1905.7,1407 L1906.7,1407 L1907.7,1407 L1908.7,1407 L1909.7,1407 L1910.7,1407 L1911.7,1407 L1912.7,1407 L1913.7,1407 L1914.7,1407 L1915.7,1407 L1916.7,1407 L1917.7,1407 L1918.7,1407 L1919.7,1407 L1920.7,1407 L1921.7,1407 L1922.7,1407 L1923.7,1407 L1924.7,1407 L1925.7,1407 L1926.7,1407 L1927.7,1407 L1928.7,1407 L1929.7,1407 L1930.7,1407 L1931.7,1407 L1932.7,1407 L1933.7,1407 L1934.7,1407 L1935.7,1407 L1936.7,1407 L1937.7,1407 L1938.7,1407 L1939.7,1407 L1940.7,1407 L1941.7,1407 L1942.7,1407 L1943.7,1407 L1944.7,1407 L1945.7,1407 L1946.7,1407 L1947.7,1407 L1948.7,1407 L1949.7,1407 L1950.7,1407 L1951.7,1407 L1952.7,1407 L1953.7,1407 L1954.7,1407 L1955.7,1407 L1956.7,1407 L1957.7,1407 L1958.7,1407 L1959.7,1407 L1960.7,1407 L1961.7,1407 L1962.7,1407 L1963.7,1407 L1964.7,1407 L1965.7,1407 L1966.7,1407 L1967.7,1407 L1968.7,1407 L1969.7,1407 L1970.7,1407 L1971.7,1407 L1972.7,1407 L1973.7,1407 L1974.7,1407 L1975.7,1407 L1976.7,1407 L1977.7,1407 L1978.7,1407 L1979.7,1407 L1980.7,1407 L1981.7,1407 L1982.7,1407 L1983.7,1407 L1984.7,1407 L1985.7,1407 L1986.7,1407 L1987.7,1407 L1988.7,1407 L1989.7,1407 L1990.7,1407 L1991.7,1407 L1992.7,1407 L1993.7,1407 L1994.7,1407 L1995.7,1407 L1996.7,1407 L1997.7,1407 L1998.7,1407 L1999.7,1407 L2000.7,1407 L2001.7,1407 L2002.7,1407 L2003.7,1407 L2004.7,1407 L2005.7,1407 L2006.7,1407 L2007.7,1407 L2008.7,1407 L2009.7,1407 L2010.7,1407 L2011.7,1407 L2012.7,1407 L2013.7,1407 L2014.7,1407 L2015.7,1407 L2016.7,1407 L2017.7,1407 L2018.7,1407 L2019.7,1407 L2020.7,1407 L2021.7,1407 L2022.7,1407 L2023.7,1407 L2024.7,1407 L2025.7,1407 L2026.7,1407 L2027.7,1407 L2028.7,1407 L2029.7,1407 L2030.7,1407 L2031.7,1407 L2032.7,1407 L2033.7,1407 L2034.7,1407 L2035.7,1407 L2036.7,1407 L2037.7,1407 L2038.7,1407 L2039.7,1407 L2040.7,1407 L2041.7,1407 L2042.7,1407 L2043.7,1407 L2044.7,1407 L2045.7,1407 L2046.7,1407 L2047.7,1407 L2048.7,1407 L2049.7,1407 L2050.7,1407 L2051.7,1407 L2052.7,1407 L2053.7,1407 L2054.7,1407 L2055.7,1407 L2056.7,1407 L2057.7,1407 L2058.7,1407 L2059.7,1407 L2060.7,1407 L2061.7,1407 L2062.7,1407 L2063.7,1407 L2064.7,1407" fill="none" stroke="#78c2c6" stroke-width="1.5" stroke-linejoin="round" stroke-linecap="round" />
<path d="M1243.7,1407 L1244.7,1407 L1245.7,1407 L1246.7,1407 L1247.7,1407 L1248.7,1407 L1249.7,1407 L1250.7,1407 L1251.7,1407 L1252.7,1407 L1253.7,1407 L1254.7,1407 L1255.7,1407 L1256.7,1407 L1257.7,1407 L1258.7,1407 L1259.7,1407 L1260.7,1407 L1261.7,1407 L1262.7,1407 L1263.7,1407 L1264.7,1407 L1265.7,1407 L1266.7,1407 L1267.7,1407 L1268.7,1407 L1269.7,1407 L1270.7,1407 L1271.7,1407 L1272.7,1407 L1273.7,1407 L1274.7,1407 L1275.7,1407 L1276.7,1407 L1277.7,1407 L1278.7,1407 L1279.7,1407 L1280.7,1407 L1281.7,1407 L1282.7,1407 L1283.7,1407 L1284.7,1407 L1285.7,1407 L1286.7,1407 L1287.7,1407 L1288.7,1407 L1289.7,1407 L1290.7,1407 L1291.7,1407 L1292.7,1407 L1293.7,1407 L1294.7,1407 L1295.7,1407 L1296.7,1407 L1297.7,1407 L1298.7,1407 L1299.7,1407 L1300.7,1407 L1301.7,1407 L1302.7,1407 L1303.7,1407 L1304.7,1407 L1305.7,1407 L1306.7,1407 L1307.7,1407 L1308.7,1407 L1309.7,1407 L1310.7,1407 L1311.7,1407 L1312.7,1407 L1313.7,1407 L1314.7,1407 L1315.7,1407 L1316.7,1407 L1317.7,1407 L1318.7,1407 L1319.7,1407 L1320.7,1407 L1321.7,1407 L1322.7,1407 L1323.7,1407 L1324.7,1407 L1325.7,1407 L1326.7,1407 L1327.7,1407 L1328.7,1407 L1329.7,1407 L1330.7,1407 L1331.7,1407 L1332.7,1407 L1333.7,1407 L1334.7,1407 L1335.7,1407 L1336.7,1407 L1337.7,1407 L1338.7,1407 L1339.7,1407 L1340.7,1407 L1341.7,1407 L1342.7,1407 L1343.7,1407 L1344.7,1407 L1345.7,1407 L1346.7,1407 L1347.7,1407 L1348.7,1407 L1349.7,1407 L1350.7,1407 L1351.7,1407 L1352.7,1407 L1353.7,1407 L1354.7,1407 L1355.7,1407 L1356.7,1407 L1357.7,1407 L1358.7,1407 L1359.7,1407 L1360.7,1407 L1361.7,1407 L1362.7,1407 L1363.7,1407 L1364.7,1407 L1365.7,1407 L1366.7,1407 L1367.7,1407 L1368.7,1407 L1369.7,1407 L1370.7,1407 L1371.7,1407 L1372.7,1406.9 L1373.7,1406.9 L1374.7,1406.9 L1375.7,1406.9 L1376.7,1406.9 L1377.7,1406.9 L1378.7,1406.9 L1379.7,1406.9 L1380.7,1406.9 L1381.7,1406.9 L1382.7,1406.9 L1383.7,1406.9 L1384.7,1406.9 L1385.7,1406.9 L1386.7,1406.8 L1387.7,1406.8 L1388.7,1406.8 L1389.7,1406.8 L1390.7,1406.8 L1391.7,1406.8 L1392.7,1406.7 L1393.7,1406.7 L1394.7,1406.7 L1395.7,1406.7 L1396.7,1406.7 L1397.7,1406.6 L1398.7,1406.6 L1399.7,1406.6 L1400.7,1406.5 L1401.7,1406.5 L1402.7,1406.5 L1403.7,1406.4 L1404.7,1406.4 L1405.7,1406.4 L1406.7,1406.3 L1407.7,1406.3 L1408.7,1406.2 L1409.7,1406.1 L1410.7,1406.1 L1411.7,1406 L1412.7,1406 L1413.7,1405.9 L1414.7,1405.8 L1415.7,1405.7 L1416.7,1405.6 L1417.7,1405.5 L1418.7,1405.4 L1419.7,1405.3 L1420.7,1405.2 L1421.7,1405.1 L1422.7,1405 L1423.7,1404.9 L1424.7,1404.7 L1425.7,1404.6 L1426.7,1404.4 L1427.7,1404.3 L1428.7,1404.1 L1429.7,1403.9 L1430.7,1403.7 L1431.7,1403.5 L1432.7,1403.3 L1433.7,1403.1 L1434.7,1402.9 L1435.7,1402.6 L1436.7,1402.4 L1437.7,1402.1 L1438.7,1401.8 L1439.7,1401.5 L1440.7,1401.2 L1441.7,1400.9 L1442.7,1400.5 L1443.7,1400.2 L1444.7,1399.8 L1445.7,1399.4 L1446.7,1399 L1447.7,1398.6 L1448.7,1398.1 L1449.7,1397.7 L1450.7,1397.2 L1451.7,1396.7 L1452.7,1396.1 L1453.7,1395.6 L1454.7,1395 L1455.7,1394.4 L1456.7,1393.8 L1457.7,1393.2 L1458.7,1392.5 L1459.7,1391.8 L1460.7,1391.1 L1461.7,1390.3 L1462.7,1389.5 L1463.7,1388.7 L1464.7,1387.9 L1465.7,1387 L1466.7,1386.1 L1467.7,1385.2 L1468.7,1384.2 L1469.7,1383.2 L1470.7,1382.2 L1471.7,1381.1 L1472.7,1380 L1473.7,1378.9 L1474.7,1377.7 L1475.7,1376.5 L1476.7,1375.3 L1477.7,1374 L1478.7,1372.7 L1479.7,1371.3 L1480.7,1370 L1481.7,1368.5 L1482.7,1367.1 L1483.7,1365.6 L1484.7,1364 L1485.7,1362.5 L1486.7,1360.9 L1487.7,1359.2 L1488.7,1357.5 L1489.7,1355.8 L1490.7,1354.1 L1491.7,1352.3 L1492.7,1350.4 L1493.7,1348.6 L1494.7,1346.7 L1495.7,1344.7 L1496.7,1342.7 L1497.7,1340.7 L1498.7,1338.7 L1499.7,1336.6 L1500.7,1334.5 L1501.7,1332.4 L1502.7,1330.2 L1503.7,1328 L1504.7,1325.8 L1505.7,1323.5 L1506.7,1321.3 L1507.7,1319 L1508.7,1316.6 L1509.7,1314.3 L1510.7,1311.9 L1511.7,1309.5 L1512.7,1307.1 L1513.7,1304.7 L1514.7,1302.3 L1515.7,1299.8 L1516.7,1297.4 L1517.7,1294.9 L1518.7,1292.5 L1519.7,1290 L1520.7,1287.5 L1521.7,1285 L1522.7,1282.6 L1523.7,1280.1 L1524.7,1277.6 L1525.7,1275.2 L1526.7,1272.7 L1527.7,1270.3 L1528.7,1267.9 L1529.7,1265.5 L1530.7,1263.1 L1531.7,1260.8 L1532.7,1258.5 L1533.7,1256.2 L1534.7,1253.9 L1535.7,1251.7 L1536.7,1249.5 L1537.7,1247.3 L1538.7,1245.2 L1539.7,1243.1 L1540.7,1241.1 L1541.7,1239.1 L1542.7,1237.1 L1543.7,1235.3 L1544.7,1233.4 L1545.7,1231.6 L1546.7,1229.9 L1547.7,1228.3 L1548.7,1226.7 L1549.7,1225.1 L1550.7,1223.6 L1551.7,1222.2 L1552.7,1220.9 L1553.7,1219.6 L1554.7,1218.4 L1555.7,1217.3 L1556.7,1216.3 L1557.7,1215.3 L1558.7,1214.4 L1559.7,1213.6 L1560.7,1212.9 L1561.7,1212.2 L1562.7,1211.7 L1563.7,1211.2 L1564.7,1210.8 L1565.7,1210.5 L1566.7,1210.2 L1567.7,1210.1 L1568.7,1210 L1569.7,1210 L1570.7,1210.1 L1571.7,1210.3 L1572.7,1210.6 L1573.7,1210.9 L1574.7,1211.4 L1575.7,1211.9 L1576.7,1212.5 L1577.7,1213.2 L1578.7,1213.9 L1579.7,1214.8 L1580.7,1215.7 L1581.7,1216.7 L1582.7,1217.8 L1583.7,1218.9 L1584.7,1220.1 L1585.7,1221.4 L1586.7,1222.8 L1587.7,1224.2 L1588.7,1225.7 L1589.7,1227.3 L1590.7,1228.9 L1591.7,1230.6 L1592.7,1232.3 L1593.7,1234.1 L1594.7,1236 L1595.7,1237.9 L1596.7,1239.9 L1597.7,1241.9 L1598.7,1243.9 L1599.7,1246 L1600.7,1248.2 L1601.7,1250.3 L1602.7,1252.6 L1603.7,1254.8 L1604.7,1257.1 L1605.7,1259.4 L1606.7,1261.7 L1607.7,1264.1 L1608.7,1266.5 L1609.7,1268.9 L1610.7,1271.3 L1611.7,1273.7 L1612.7,1276.2 L1613.7,1278.6 L1614.7,1281.1 L1615.7,1283.6 L1616.7,1286 L1617.7,1288.5 L1618.7,1291 L1619.7,1293.4 L1620.7,1295.9 L1621.7,1298.4 L1622.7,1300.8 L1623.7,1303.3 L1624.7,1305.7 L1625.7,1308.1 L1626.7,1310.5 L1627.7,1312.9 L1628.7,1315.2 L1629.7,1317.6 L1630.7,1319.9 L1631.7,1322.2 L1632.7,1324.4 L1633.7,1326.7 L1634.7,1328.9 L1635.7,1331.1 L1636.7,1333.2 L1637.7,1335.4 L1638.7,1337.5 L1639.7,1339.5 L1640.7,1341.5 L1641.7,1343.5 L1642.7,1345.5 L1643.7,1347.4 L1644.7,1349.3 L1645.7,1351.2 L1646.7,1353 L1647.7,1354.8 L1648.7,1356.5 L1649.7,1358.2 L1650.7,1359.9 L1651.7,1361.5 L1652.7,1363.1 L1653.7,1364.7 L1654.7,1366.2 L1655.7,1367.7 L1656.7,1369.1 L1657.7,1370.5 L1658.7,1371.9 L1659.7,1373.2 L1660.7,1374.5 L1661.7,1375.8 L1662.7,1377 L1663.7,1378.2 L1664.7,1379.3 L1665.7,1380.4 L1666.7,1381.5 L1667.7,1382.6 L1668.7,1383.6 L1669.7,1384.6 L1670.7,1385.5 L1671.7,1386.5 L1672.7,1387.3 L1673.7,1388.2 L1674.7,1389 L1675.7,1389.8 L1676.7,1390.6 L1677.7,1391.3 L1678.7,1392.1 L1679.7,1392.8 L1680.7,1393.4 L1681.7,1394.1 L1682.7,1394.7 L1683.7,1395.3 L1684.7,1395.8 L1685.7,1396.4 L1686.7,1396.9 L1687.7,1397.4 L1688.7,1397.9 L1689.7,1398.3 L1690.7,1398.8 L1691.7,1399.2 L1692.7,1399.6 L1693.7,1400 L1694.7,1400.3 L1695.7,1400.7 L1696.7,1401 L1697.7,1401.3 L1698.7,1401.6 L1699.7,1401.9 L1700.7,1402.2 L1701.7,1402.5 L1702.7,1402.7 L1703.7,1403 L1704.7,1403.2 L1705.7,1403.4 L1706.7,1403.6 L1707.7,1403.8 L1708.7,1404 L1709.7,1404.2 L1710.7,1404.3 L1711.7,1404.5 L1712.7,1404.6 L1713.7,1404.8 L1714.7,1404.9 L1715.7,1405 L1716.7,1405.2 L1717.7,1405.3 L1718.7,1405.4 L1719.7,1405.5 L1720.7,1405.6 L1721.7,1405.7 L1722.7,1405.8 L1723.7,1405.8 L1724.7,1405.9 L1725.7,1406 L1726.7,1406 L1727.7,1406.1 L1728.7,1406.2 L1729.7,1406.2 L1730.7,1406.3 L1731.7,1406.3 L1732.7,1406.4 L1733.7,1406.4 L1734.7,1406.5 L1735.7,1406.5 L1736.7,1406.5 L1737.7,1406.6 L1738.7,1406.6 L1739.7,1406.6 L1740.7,1406.6 L1741.7,1406.7 L1742.7,1406.7 L1743.7,1406.7 L1744.7,1406.7 L1745.7,1406.8 L1746.7,1406.8 L1747.7,1406.8 L1748.7,1406.8 L1749.7,1406.8 L1750.7,1406.8 L1751.7,1406.8 L1752.7,1406.9 L1753.7,1406.9 L1754.7,1406.9 L1755.7,1406.9 L1756.7,1406.9 L1757.7,1406.9 L1758.7,1406.9 L1759.7,1406.9 L1760.7,1406.9 L1761.7,1406.9 L1762.7,1406.9 L1763.7,1406.9 L1764.7,1406.9 L1765.7,1407 L1766.7,1407 L1767.7,1407 L1768.7,1407 L1769.7,1407 L1770.7,1407 L1771.7,1407 L1772.7,1407 L1773.7,1407 L1774.7,1407 L1775.7,1407 L1776.7,1407 L1777.7,1407 L1778.7,1407 L1779.7,1407 L1780.7,1407 L1781.7,1407 L1782.7,1407 L1783.7,1407 L1784.7,1407 L1785.7,1407 L1786.7,1407 L1787.7,1407 L1788.7,1407 L1789.7,1407 L1790.7,1407 L1791.7,1407 L1792.7,1407 L1793.7,1407 L1794.7,1407 L1795.7,1407 L1796.7,1407 L1797.7,1407 L1798.7,1407 L1799.7,1407 L1800.7,1407 L1801.7,1407 L1802.7,1407 L1803.7,1407 L1804.7,1407 L1805.7,1407 L1806.7,1407 L1807.7,1407 L1808.7,1407 L1809.7,1407 L1810.7,1407 L1811.7,1407 L1812.7,1407 L1813.7,1407 L1814.7,1407 L1815.7,1407 L1816.7,1407 L1817.7,1407 L1818.7,1407 L1819.7,1407 L1820.7,1407 L1821.7,1407 L1822.7,1407 L1823.7,1407 L1824.7,1407 L1825.7,1407 L1826.7,1407 L1827.7,1407 L1828.7,1407 L1829.7,1407 L1830.7,1407 L1831.7,1407 L1832.7,1407 L1833.7,1407 L1834.7,1407 L1835.7,1407 L1836.7,1407 L1837.7,1407 L1838.7,1407 L1839.7,1407 L1840.7,1407 L1841.7,1407 L1842.7,1407 L1843.7,1407 L1844.7,1407 L1845.7,1407 L1846.7,1407 L1847.7,1407 L1848.7,1407 L1849.7,1407 L1850.7,1407 L1851.7,1407 L1852.7,1407 L1853.7,1407 L1854.7,1407 L1855.7,1407 L1856.7,1407 L1857.7,1407 L1858.7,1407 L1859.7,1407 L1860.7,1407 L1861.7,1407 L1862.7,1407 L1863.7,1407 L1864.7,1407 L1865.7,1407 L1866.7,1407 L1867.7,1407 L1868.7,1407 L1869.7,1407 L1870.7,1407 L1871.7,1407 L1872.7,1407 L1873.7,1407 L1874.7,1407 L1875.7,1407 L1876.7,1407 L1877.7,1407 L1878.7,1407 L1879.7,1407 L1880.7,1407 L1881.7,1407 L1882.7,1407 L1883.7,1407 L1884.7,1407 L1885.7,1407 L1886.7,1407 L1887.7,1407 L1888.7,1407 L1889.7,1407 L1890.7,1407 L1891.7,1407 L1892.7,1407 L1893.7,1407 L1894.7,1407 L1895.7,1407 L1896.7,1407 L1897.7,1407 L1898.7,1407 L1899.7,1407 L1900.7,1407 L1901.7,1407 L1902.7,1407 L1903.7,1407 L1904.7,1407 L1905.7,1407 L1906.7,1407 L1907.7,1407 L1908.7,1407 L1909.7,1407 L1910.7,1407 L1911.7,1407 L1912.7,1407 L1913.7,1407 L1914.7,1407 L1915.7,1407 L1916.7,1407 L1917.7,1407 L1918.7,1407 L1919.7,1407 L1920.7,1407 L1921.7,1407 L1922.7,1407 L1923.7,1407 L1924.7,1407 L1925.7,1407 L1926.7,1407 L1927.7,1407 L1928.7,1407 L1929.7,1407 L1930.7,1407 L1931.7,1407 L1932.7,1407 L1933.7,1407 L1934.7,1407 L1935.7,1407 L1936.7,1407 L1937.7,1407 L1938.7,1407 L1939.7,1407 L1940.7,1407 L1941.7,1407 L1942.7,1407 L1943.7,1407 L1944.7,1407 L1945.7,1407 L1946.7,1407 L1947.7,1407 L1948.7,1407 L1949.7,1407 L1950.7,1407 L1951.7,1407 L1952.7,1407 L1953.7,1407 L1954.7,1407 L1955.7,1407 L1956.7,1407 L1957.7,1407 L1958.7,1407 L1959.7,1407 L1960.7,1407 L1961.7,1407 L1962.7,1407 L1963.7,1407 L1964.7,1407 L1965.7,1407 L1966.7,1407 L1967.7,1407 L1968.7,1407 L1969.7,1407 L1970.7,1407 L1971.7,1407 L1972.7,1407 L1973.7,1407 L1974.7,1407 L1975.7,1407 L1976.7,1407 L1977.7,1407 L1978.7,1407 L1979.7,1407 L1980.7,1407 L1981.7,1407 L1982.7,1407 L1983.7,1407 L1984.7,1407 L1985.7,1407 L1986.7,1407 L1987.7,1407 L1988.7,1407 L1989.7,1407 L1990.7,1407 L1991.7,1407 L1992.7,1407 L1993.7,1407 L1994.7,1407 L1995.7,1407 L1996.7,1407 L1997.7,1407 L1998.7,1407 L1999.7,1407 L2000.7,1407 L2001.7,1407 L2002.7,1407 L2003.7,1407 L2004.7,1407 L2005.7,1407 L2006.7,1407 L2007.7,1407 L2008.7,1407 L2009.7,1407 L2010.7,1407 L2011.7,1407 L2012.7,1407 L2013.7,1407 L2014.7,1407 L2015.7,1407 L2016.7,1407 L2017.7,1407 L2018.7,1407 L2019.7,1407 L2020.7,1407 L2021.7,1407 L2022.7,1407 L2023.7,1407 L2024.7,1407 L2025.7,1407 L2026.7,1407 L2027.7,1407 L2028.7,1407 L2029.7,1407 L2030.7,1407 L2031.7,1407 L2032.7,1407 L2033.7,1407 L2034.7,1407 L2035.7,1407 L2036.7,1407 L2037.7,1407 L2038.7,1407 L2039.7,1407 L2040.7,1407 L2041.7,1407 L2042.7,1407 L2043.7,1407 L2044.7,1407 L2045.7,1407 L2046.7,1407 L2047.7,1407 L2048.7,1407 L2049.7,1407 L2050.7,1407 L2051.7,1407 L2052.7,1407 L2053.7,1407 L2054.7,1407 L2055.7,1407 L2056.7,1407 L2057.7,1407 L2058.7,1407 L2059.7,1407 L2060.7,1407 L2061.7,1407 L2062.7,1407 L2063.7,1407 L2064.7,1407" fill="none" stroke="#1c6e48" stroke-width="1.5" stroke-linejoin="round" stroke-linecap="round" />
<path d="M1243.7,1407 L1244.7,1407 L1245.7,1407 L1246.7,1407 L1247.7,1407 L1248.7,1407 L1249.7,1407 L1250.7,1407 L1251.7,1407 L1252.7,1407 L1253.7,1407 L1254.7,1407 L1255.7,1407 L1256.7,1407 L1257.7,1407 L1258.7,1407 L1259.7,1407 L1260.7,1407 L1261.7,1407 L1262.7,1407 L1263.7,1406.9 L1264.7,1406.9 L1265.7,1406.9 L1266.7,1406.9 L1267.7,1406.9 L1268.7,1406.9 L1269.7,1406.9 L1270.7,1406.9 L1271.7,1406.9 L1272.7,1406.9 L1273.7,1406.9 L1274.7,1406.9 L1275.7,1406.9 L1276.7,1406.9 L1277.7,1406.9 L1278.7,1406.9 L1279.7,1406.9 L1280.7,1406.9 L1281.7,1406.9 L1282.7,1406.8 L1283.7,1406.8 L1284.7,1406.8 L1285.7,1406.8 L1286.7,1406.8 L1287.7,1406.8 L1288.7,1406.8 L1289.7,1406.8 L1290.7,1406.8 L1291.7,1406.7 L1292.7,1406.7 L1293.7,1406.7 L1294.7,1406.7 L1295.7,1406.7 L1296.7,1406.7 L1297.7,1406.6 L1298.7,1406.6 L1299.7,1406.6 L1300.7,1406.6 L1301.7,1406.6 L1302.7,1406.5 L1303.7,1406.5 L1304.7,1406.5 L1305.7,1406.5 L1306.7,1406.4 L1307.7,1406.4 L1308.7,1406.4 L1309.7,1406.3 L1310.7,1406.3 L1311.7,1406.3 L1312.7,1406.2 L1313.7,1406.2 L1314.7,1406.2 L1315.7,1406.1 L1316.7,1406.1 L1317.7,1406 L1318.7,1406 L1319.7,1405.9 L1320.7,1405.9 L1321.7,1405.8 L1322.7,1405.8 L1323.7,1405.7 L1324.7,1405.6 L1325.7,1405.6 L1326.7,1405.5 L1327.7,1405.4 L1328.7,1405.4 L1329.7,1405.3 L1330.7,1405.2 L1331.7,1405.1 L1332.7,1405.1 L1333.7,1405 L1334.7,1404.9 L1335.7,1404.8 L1336.7,1404.7 L1337.7,1404.6 L1338.7,1404.5 L1339.7,1404.4 L1340.7,1404.3 L1341.7,1404.1 L1342.7,1404 L1343.7,1403.9 L1344.7,1403.8 L1345.7,1403.6 L1346.7,1403.5 L1347.7,1403.4 L1348.7,1403.2 L1349.7,1403.1 L1350.7,1402.9 L1351.7,1402.7 L1352.7,1402.6 L1353.7,1402.4 L1354.7,1402.2 L1355.7,1402 L1356.7,1401.8 L1357.7,1401.6 L1358.7,1401.4 L1359.7,1401.2 L1360.7,1401 L1361.7,1400.8 L1362.7,1400.6 L1363.7,1400.3 L1364.7,1400.1 L1365.7,1399.8 L1366.7,1399.6 L1367.7,1399.3 L1368.7,1399 L1369.7,1398.8 L1370.7,1398.5 L1371.7,1398.2 L1372.7,1397.9 L1373.7,1397.6 L1374.7,1397.3 L1375.7,1396.9 L1376.7,1396.6 L1377.7,1396.3 L1378.7,1395.9 L1379.7,1395.6 L1380.7,1395.2 L1381.7,1394.8 L1382.7,1394.4 L1383.7,1394.1 L1384.7,1393.7 L1385.7,1393.2 L1386.7,1392.8 L1387.7,1392.4 L1388.7,1392 L1389.7,1391.5 L1390.7,1391.1 L1391.7,1390.6 L1392.7,1390.1 L1393.7,1389.7 L1394.7,1389.2 L1395.7,1388.7 L1396.7,1388.2 L1397.7,1387.7 L1398.7,1387.1 L1399.7,1386.6 L1400.7,1386.1 L1401.7,1385.5 L1402.7,1384.9 L1403.7,1384.4 L1404.7,1383.8 L1405.7,1383.2 L1406.7,1382.6 L1407.7,1382 L1408.7,1381.4 L1409.7,1380.8 L1410.7,1380.2 L1411.7,1379.5 L1412.7,1378.9 L1413.7,1378.2 L1414.7,1377.6 L1415.7,1376.9 L1416.7,1376.2 L1417.7,1375.6 L1418.7,1374.9 L1419.7,1374.2 L1420.7,1373.5 L1421.7,1372.8 L1422.7,1372.1 L1423.7,1371.4 L1424.7,1370.7 L1425.7,1369.9 L1426.7,1369.2 L1427.7,1368.5 L1428.7,1367.7 L1429.7,1367 L1430.7,1366.3 L1431.7,1365.5 L1432.7,1364.8 L1433.7,1364 L1434.7,1363.2 L1435.7,1362.5 L1436.7,1361.7 L1437.7,1361 L1438.7,1360.2 L1439.7,1359.5 L1440.7,1358.7 L1441.7,1357.9 L1442.7,1357.2 L1443.7,1356.4 L1444.7,1355.7 L1445.7,1354.9 L1446.7,1354.2 L1447.7,1353.4 L1448.7,1352.7 L1449.7,1352 L1450.7,1351.2 L1451.7,1350.5 L1452.7,1349.8 L1453.7,1349.1 L1454.7,1348.4 L1455.7,1347.7 L1456.7,1347 L1457.7,1346.3 L1458.7,1345.6 L1459.7,1344.9 L1460.7,1344.3 L1461.7,1343.6 L1462.7,1343 L1463.7,1342.3 L1464.7,1341.7 L1465.7,1341.1 L1466.7,1340.5 L1467.7,1339.9 L1468.7,1339.3 L1469.7,1338.8 L1470.7,1338.2 L1471.7,1337.7 L1472.7,1337.2 L1473.7,1336.7 L1474.7,1336.2 L1475.7,1335.7 L1476.7,1335.2 L1477.7,1334.8 L1478.7,1334.4 L1479.7,1333.9 L1480.7,1333.5 L1481.7,1333.2 L1482.7,1332.8 L1483.7,1332.5 L1484.7,1332.1 L1485.7,1331.8 L1486.7,1331.5 L1487.7,1331.3 L1488.7,1331 L1489.7,1330.8 L1490.7,1330.6 L1491.7,1330.4 L1492.7,1330.2 L1493.7,1330 L1494.7,1329.9 L1495.7,1329.8 L1496.7,1329.7 L1497.7,1329.6 L1498.7,1329.6 L1499.7,1329.5 L1500.7,1329.5 L1501.7,1329.5 L1502.7,1329.5 L1503.7,1329.6 L1504.7,1329.6 L1505.7,1329.7 L1506.7,1329.8 L1507.7,1330 L1508.7,1330.1 L1509.7,1330.3 L1510.7,1330.4 L1511.7,1330.6 L1512.7,1330.9 L1513.7,1331.1 L1514.7,1331.4 L1515.7,1331.6 L1516.7,1331.9 L1517.7,1332.3 L1518.7,1332.6 L1519.7,1332.9 L1520.7,1333.3 L1521.7,1333.7 L1522.7,1334.1 L1523.7,1334.5 L1524.7,1335 L1525.7,1335.4 L1526.7,1335.9 L1527.7,1336.4 L1528.7,1336.9 L1529.7,1337.4 L1530.7,1337.9 L1531.7,1338.4 L1532.7,1339 L1533.7,1339.6 L1534.7,1340.1 L1535.7,1340.7 L1536.7,1341.3 L1537.7,1342 L1538.7,1342.6 L1539.7,1343.2 L1540.7,1343.9 L1541.7,1344.5 L1542.7,1345.2 L1543.7,1345.9 L1544.7,1346.5 L1545.7,1347.2 L1546.7,1347.9 L1547.7,1348.6 L1548.7,1349.4 L1549.7,1350.1 L1550.7,1350.8 L1551.7,1351.5 L1552.7,1352.3 L1553.7,1353 L1554.7,1353.7 L1555.7,1354.5 L1556.7,1355.2 L1557.7,1356 L1558.7,1356.7 L1559.7,1357.5 L1560.7,1358.3 L1561.7,1359 L1562.7,1359.8 L1563.7,1360.5 L1564.7,1361.3 L1565.7,1362 L1566.7,1362.8 L1567.7,1363.6 L1568.7,1364.3 L1569.7,1365.1 L1570.7,1365.8 L1571.7,1366.5 L1572.7,1367.3 L1573.7,1368 L1574.7,1368.8 L1575.7,1369.5 L1576.7,1370.2 L1577.7,1370.9 L1578.7,1371.7 L1579.7,1372.4 L1580.7,1373.1 L1581.7,1373.8 L1582.7,1374.5 L1583.7,1375.2 L1584.7,1375.8 L1585.7,1376.5 L1586.7,1377.2 L1587.7,1377.8 L1588.7,1378.5 L1589.7,1379.1 L1590.7,1379.8 L1591.7,1380.4 L1592.7,1381 L1593.7,1381.7 L1594.7,1382.3 L1595.7,1382.9 L1596.7,1383.5 L1597.7,1384 L1598.7,1384.6 L1599.7,1385.2 L1600.7,1385.7 L1601.7,1386.3 L1602.7,1386.8 L1603.7,1387.3 L1604.7,1387.9 L1605.7,1388.4 L1606.7,1388.9 L1607.7,1389.4 L1608.7,1389.9 L1609.7,1390.3 L1610.7,1390.8 L1611.7,1391.3 L1612.7,1391.7 L1613.7,1392.1 L1614.7,1392.6 L1615.7,1393 L1616.7,1393.4 L1617.7,1393.8 L1618.7,1394.2 L1619.7,1394.6 L1620.7,1395 L1621.7,1395.3 L1622.7,1395.7 L1623.7,1396.1 L1624.7,1396.4 L1625.7,1396.7 L1626.7,1397.1 L1627.7,1397.4 L1628.7,1397.7 L1629.7,1398 L1630.7,1398.3 L1631.7,1398.6 L1632.7,1398.9 L1633.7,1399.2 L1634.7,1399.4 L1635.7,1399.7 L1636.7,1399.9 L1637.7,1400.2 L1638.7,1400.4 L1639.7,1400.7 L1640.7,1400.9 L1641.7,1401.1 L1642.7,1401.3 L1643.7,1401.5 L1644.7,1401.7 L1645.7,1401.9 L1646.7,1402.1 L1647.7,1402.3 L1648.7,1402.5 L1649.7,1402.6 L1650.7,1402.8 L1651.7,1403 L1652.7,1403.1 L1653.7,1403.3 L1654.7,1403.4 L1655.7,1403.6 L1656.7,1403.7 L1657.7,1403.8 L1658.7,1403.9 L1659.7,1404.1 L1660.7,1404.2 L1661.7,1404.3 L1662.7,1404.4 L1663.7,1404.5 L1664.7,1404.6 L1665.7,1404.7 L1666.7,1404.8 L1667.7,1404.9 L1668.7,1405 L1669.7,1405.1 L1670.7,1405.2 L1671.7,1405.2 L1672.7,1405.3 L1673.7,1405.4 L1674.7,1405.5 L1675.7,1405.5 L1676.7,1405.6 L1677.7,1405.7 L1678.7,1405.7 L1679.7,1405.8 L1680.7,1405.8 L1681.7,1405.9 L1682.7,1405.9 L1683.7,1406 L1684.7,1406 L1685.7,1406.1 L1686.7,1406.1 L1687.7,1406.2 L1688.7,1406.2 L1689.7,1406.2 L1690.7,1406.3 L1691.7,1406.3 L1692.7,1406.3 L1693.7,1406.4 L1694.7,1406.4 L1695.7,1406.4 L1696.7,1406.5 L1697.7,1406.5 L1698.7,1406.5 L1699.7,1406.5 L1700.7,1406.6 L1701.7,1406.6 L1702.7,1406.6 L1703.7,1406.6 L1704.7,1406.6 L1705.7,1406.7 L1706.7,1406.7 L1707.7,1406.7 L1708.7,1406.7 L1709.7,1406.7 L1710.7,1406.7 L1711.7,1406.8 L1712.7,1406.8 L1713.7,1406.8 L1714.7,1406.8 L1715.7,1406.8 L1716.7,1406.8 L1717.7,1406.8 L1718.7,1406.8 L1719.7,1406.8 L1720.7,1406.9 L1721.7,1406.9 L1722.7,1406.9 L1723.7,1406.9 L1724.7,1406.9 L1725.7,1406.9 L1726.7,1406.9 L1727.7,1406.9 L1728.7,1406.9 L1729.7,1406.9 L1730.7,1406.9 L1731.7,1406.9 L1732.7,1406.9 L1733.7,1406.9 L1734.7,1406.9 L1735.7,1406.9 L1736.7,1406.9 L1737.7,1406.9 L1738.7,1407 L1739.7,1407 L1740.7,1407 L1741.7,1407 L1742.7,1407 L1743.7,1407 L1744.7,1407 L1745.7,1407 L1746.7,1407 L1747.7,1407 L1748.7,1407 L1749.7,1407 L1750.7,1407 L1751.7,1407 L1752.7,1407 L1753.7,1407 L1754.7,1407 L1755.7,1407 L1756.7,1407 L1757.7,1407 L1758.7,1407 L1759.7,1407 L1760.7,1407 L1761.7,1407 L1762.7,1407 L1763.7,1407 L1764.7,1407 L1765.7,1407 L1766.7,1407 L1767.7,1407 L1768.7,1407 L1769.7,1407 L1770.7,1407 L1771.7,1407 L1772.7,1407 L1773.7,1407 L1774.7,1407 L1775.7,1407 L1776.7,1407 L1777.7,1407 L1778.7,1407 L1779.7,1407 L1780.7,1407 L1781.7,1407 L1782.7,1407 L1783.7,1407 L1784.7,1407 L1785.7,1407 L1786.7,1407 L1787.7,1407 L1788.7,1407 L1789.7,1407 L1790.7,1407 L1791.7,1407 L1792.7,1407 L1793.7,1407 L1794.7,1407 L1795.7,1407 L1796.7,1407 L1797.7,1407 L1798.7,1407 L1799.7,1407 L1800.7,1407 L1801.7,1407 L1802.7,1407 L1803.7,1407 L1804.7,1407 L1805.7,1407 L1806.7,1407 L1807.7,1407 L1808.7,1407 L1809.7,1407 L1810.7,1407 L1811.7,1407 L1812.7,1407 L1813.7,1407 L1814.7,1407 L1815.7,1407 L1816.7,1407 L1817.7,1407 L1818.7,1407 L1819.7,1407 L1820.7,1407 L1821.7,1407 L1822.7,1407 L1823.7,1407 L1824.7,1407 L1825.7,1407 L1826.7,1407 L1827.7,1407 L1828.7,1407 L1829.7,1407 L1830.7,1407 L1831.7,1407 L1832.7,1407 L1833.7,1407 L1834.7,1407 L1835.7,1407 L1836.7,1407 L1837.7,1407 L1838.7,1407 L1839.7,1407 L1840.7,1407 L1841.7,1407 L1842.7,1407 L1843.7,1407 L1844.7,1407 L1845.7,1407 L1846.7,1407 L1847.7,1407 L1848.7,1407 L1849.7,1407 L1850.7,1407 L1851.7,1407 L1852.7,1407 L1853.7,1407 L1854.7,1407 L1855.7,1407 L1856.7,1407 L1857.7,1407 L1858.7,1407 L1859.7,1407 L1860.7,1407 L1861.7,1407 L1862.7,1407 L1863.7,1407 L1864.7,1407 L1865.7,1407 L1866.7,1407 L1867.7,1407 L1868.7,1407 L1869.7,1407 L1870.7,1407 L1871.7,1407 L1872.7,1407 L1873.7,1407 L1874.7,1407 L1875.7,1407 L1876.7,1407 L1877.7,1407 L1878.7,1407 L1879.7,1407 L1880.7,1407 L1881.7,1407 L1882.7,1407 L1883.7,1407 L1884.7,1407 L1885.7,1407 L1886.7,1407 L1887.7,1407 L1888.7,1407 L1889.7,1407 L1890.7,1407 L1891.7,1407 L1892.7,1407 L1893.7,1407 L1894.7,1407 L1895.7,1407 L1896.7,1407 L1897.7,1407 L1898.7,1407 L1899.7,1407 L1900.7,1407 L1901.7,1407 L1902.7,1407 L1903.7,1407 L1904.7,1407 L1905.7,1407 L1906.7,1407 L1907.7,1407 L1908.7,1407 L1909.7,1407 L1910.7,1407 L1911.7,1407 L1912.7,1407 L1913.7,1407 L1914.7,1407 L1915.7,1407 L1916.7,1407 L1917.7,1407 L1918.7,1407 L1919.7,1407 L1920.7,1407 L1921.7,1407 L1922.7,1407 L1923.7,1407 L1924.7,1407 L1925.7,1407 L1926.7,1407 L1927.7,1407 L1928.7,1407 L1929.7,1407 L1930.7,1407 L1931.7,1407 L1932.7,1407 L1933.7,1407 L1934.7,1407 L1935.7,1407 L1936.7,1407 L1937.7,1407 L1938.7,1407 L1939.7,1407 L1940.7,1407 L1941.7,1407 L1942.7,1407 L1943.7,1407 L1944.7,1407 L1945.7,1407 L1946.7,1407 L1947.7,1407 L1948.7,1407 L1949.7,1407 L1950.7,1407 L1951.7,1407 L1952.7,1407 L1953.7,1407 L1954.7,1407 L1955.7,1407 L1956.7,1407 L1957.7,1407 L1958.7,1407 L1959.7,1407 L1960.7,1407 L1961.7,1407 L1962.7,1407 L1963.7,1407 L1964.7,1407 L1965.7,1407 L1966.7,1407 L1967.7,1407 L1968.7,1407 L1969.7,1407 L1970.7,1407 L1971.7,1407 L1972.7,1407 L1973.7,1407 L1974.7,1407 L1975.7,1407 L1976.7,1407 L1977.7,1407 L1978.7,1407 L1979.7,1407 L1980.7,1407 L1981.7,1407 L1982.7,1407 L1983.7,1407 L1984.7,1407 L1985.7,1407 L1986.7,1407 L1987.7,1407 L1988.7,1407 L1989.7,1407 L1990.7,1407 L1991.7,1407 L1992.7,1407 L1993.7,1407 L1994.7,1407 L1995.7,1407 L1996.7,1407 L1997.7,1407 L1998.7,1407 L1999.7,1407 L2000.7,1407 L2001.7,1407 L2002.7,1407 L2003.7,1407 L2004.7,1407 L2005.7,1407 L2006.7,1407 L2007.7,1407 L2008.7,1407 L2009.7,1407 L2010.7,1407 L2011.7,1407 L2012.7,1407 L2013.7,1407 L2014.7,1407 L2015.7,1407 L2016.7,1407 L2017.7,1407 L2018.7,1407 L2019.7,1407 L2020.7,1407 L2021.7,1407 L2022.7,1407 L2023.7,1407 L2024.7,1407 L2025.7,1407 L2026.7,1407 L2027.7,1407 L2028.7,1407 L2029.7,1407 L2030.7,1407 L2031.7,1407 L2032.7,1407 L2033.7,1407 L2034.7,1407 L2035.7,1407 L2036.7,1407 L2037.7,1407 L2038.7,1407 L2039.7,1407 L2040.7,1407 L2041.7,1407 L2042.7,1407 L2043.7,1407 L2044.7,1407 L2045.7,1407 L2046.7,1407 L2047.7,1407 L2048.7,1407 L2049.7,1407 L2050.7,1407 L2051.7,1407 L2052.7,1407 L2053.7,1407 L2054.7,1407 L2055.7,1407 L2056.7,1407 L2057.7,1407 L2058.7,1407 L2059.7,1407 L2060.7,1407 L2061.7,1407 L2062.7,1407 L2063.7,1407 L2064.7,1407" fill="none" stroke="#5cae48" stroke-width="1.5" stroke-linejoin="round" stroke-linecap="round" />
<rect x="1242.7" y="847" width="822.7" height="615.7" fill="none" stroke="#000" stroke-width="1.8" />
<line x1="1242.7" y1="1462.7" x2="1242.7" y2="1473.2" stroke="#000" stroke-width="1.8" />
<line x1="1379.8" y1="1462.7" x2="1379.8" y2="1473.2" stroke="#000" stroke-width="1.8" />
<line x1="1516.9" y1="1462.7" x2="1516.9" y2="1473.2" stroke="#000" stroke-width="1.8" />
<line x1="1654.1" y1="1462.7" x2="1654.1" y2="1473.2" stroke="#000" stroke-width="1.8" />
<line x1="1791.2" y1="1462.7" x2="1791.2" y2="1473.2" stroke="#000" stroke-width="1.8" />
<line x1="1928.3" y1="1462.7" x2="1928.3" y2="1473.2" stroke="#000" stroke-width="1.8" />
<line x1="2065.4" y1="1462.7" x2="2065.4" y2="1473.2" stroke="#000" stroke-width="1.8" />
<line x1="1311.3" y1="1462.7" x2="1311.3" y2="1468.7" stroke="#000" stroke-width="1.8" />
<line x1="1448.4" y1="1462.7" x2="1448.4" y2="1468.7" stroke="#000" stroke-width="1.8" />
<line x1="1585.5" y1="1462.7" x2="1585.5" y2="1468.7" stroke="#000" stroke-width="1.8" />
<line x1="1722.6" y1="1462.7" x2="1722.6" y2="1468.7" stroke="#000" stroke-width="1.8" />
<line x1="1859.7" y1="1462.7" x2="1859.7" y2="1468.7" stroke="#000" stroke-width="1.8" />
<line x1="1996.9" y1="1462.7" x2="1996.9" y2="1468.7" stroke="#000" stroke-width="1.8" />
<text x="1242.7" y="1519.3" font-size="46.5" fill="#000" text-anchor="middle" font-weight="normal"  stroke="#000" stroke-width="0.4">292</text>
<text x="1379.8" y="1519.3" font-size="46.5" fill="#000" text-anchor="middle" font-weight="normal"  stroke="#000" stroke-width="0.4">290</text>
<text x="1516.9" y="1519.3" font-size="46.5" fill="#000" text-anchor="middle" font-weight="normal"  stroke="#000" stroke-width="0.4">288</text>
<text x="1654.1" y="1519.3" font-size="46.5" fill="#000" text-anchor="middle" font-weight="normal"  stroke="#000" stroke-width="0.4">286</text>
<text x="1791.2" y="1519.3" font-size="46.5" fill="#000" text-anchor="middle" font-weight="normal"  stroke="#000" stroke-width="0.4">284</text>
<text x="1928.3" y="1519.3" font-size="46.5" fill="#000" text-anchor="middle" font-weight="normal"  stroke="#000" stroke-width="0.4">282</text>
<text x="2065.4" y="1519.3" font-size="46.5" fill="#000" text-anchor="middle" font-weight="normal"  stroke="#000" stroke-width="0.4">280</text>
<text x="1258" y="894.4" font-size="31.5" fill="#000" text-anchor="start" font-weight="bold" stroke="#000" stroke-width="0.5">GO30ND<tspan dy="-0.6363636363636364em" font-size="66%">+</tspan><tspan dy="0.42em">-C1s</tspan></text>
<text x="1482.8" y="978.8" font-size="31" fill="#000" text-anchor="middle" font-weight="normal"  stroke="#000" stroke-width="0.25">C–N</text>
<text x="1481.9" y="1017.9" font-size="31" fill="#000" text-anchor="middle" font-weight="normal"  stroke="#000" stroke-width="0.25">(285.7 eV)</text>
<text x="1358.2" y="1093.3" font-size="31" fill="#000" text-anchor="middle" font-weight="normal"  stroke="#000" stroke-width="0.25">C–O–C</text>
<text x="1354.3" y="1132.4" font-size="31" fill="#000" text-anchor="middle" font-weight="normal"  stroke="#000" stroke-width="0.25">(286.6 eV)</text>
<text x="1353.7" y="1182.7" font-size="31" fill="#000" text-anchor="middle" font-weight="normal"  stroke="#000" stroke-width="0.25">C=O</text>
<text x="1352" y="1221.7" font-size="31" fill="#000" text-anchor="middle" font-weight="normal"  stroke="#000" stroke-width="0.25">(287.7 eV)</text>
<text x="1340.7" y="1267.7" font-size="31" fill="#000" text-anchor="middle" font-weight="normal"  stroke="#000" stroke-width="0.25">O–C=O</text>
<text x="1345" y="1306.4" font-size="31" fill="#000" text-anchor="middle" font-weight="normal"  stroke="#000" stroke-width="0.25">(288.8 eV)</text>
<text x="1912.5" y="984.9" font-size="31" fill="#000" text-anchor="middle" font-weight="normal"  stroke="#000" stroke-width="0.25">C–C sp<tspan dy="-0.5294117647058822em" font-size="68%">2</tspan></text>
<text x="1909.7" y="1024" font-size="31" fill="#000" text-anchor="middle" font-weight="normal"  stroke="#000" stroke-width="0.25">(284.2 eV)</text>
<text x="1910.4" y="1155.5" font-size="31" fill="#000" text-anchor="middle" font-weight="normal"  stroke="#000" stroke-width="0.25">C–C sp<tspan dy="-0.5294117647058822em" font-size="68%">3</tspan></text>
<text x="1917" y="1194.5" font-size="31" fill="#000" text-anchor="middle" font-weight="normal"  stroke="#000" stroke-width="0.25">(284.9 eV)</text>
<line x1="1536" y1="1034" x2="1638.9" y2="1273.8" stroke="#000" stroke-width="1.7" />
<polygon points="1645,1288 1633.8,1273.8 1642.4,1270.1" fill="#000"/>
<line x1="1455" y1="1119" x2="1569.9" y2="1191.7" stroke="#000" stroke-width="1.7" />
<polygon points="1583,1200 1565.7,1194.6 1570.7,1186.7" fill="#000"/>
<line x1="1456" y1="1208" x2="1520.5" y2="1244.4" stroke="#000" stroke-width="1.7" />
<polygon points="1534,1252 1516.4,1247.5 1521.1,1239.3" fill="#000"/>
<line x1="1436" y1="1304" x2="1473.1" y2="1322.2" stroke="#000" stroke-width="1.7" />
<polygon points="1487,1329 1469.2,1325.5 1473.4,1317.1" fill="#000"/>
<line x1="1850" y1="1041" x2="1782.7" y2="1124.9" stroke="#000" stroke-width="1.7" />
<polygon points="1773,1137 1780.3,1120.4 1787.6,1126.3" fill="#000"/>
<line x1="1886" y1="1204" x2="1793.4" y2="1306.5" stroke="#000" stroke-width="1.7" />
<polygon points="1783,1318 1791.2,1301.9 1798.2,1308.2" fill="#000"/>
<text x="1670.5" y="1581" font-size="52" fill="#000" text-anchor="middle" font-weight="normal"  stroke="#000" stroke-width="0.4">Binding energy (eV)</text>
<text transform="translate(1208.7 1156.3) rotate(-90)" font-size="52" fill="#000" stroke="#000" stroke-width="0.4" text-anchor="middle" >Intensity (a.u.)</text>
<text x="1155.5" y="840.5" font-size="80.5" fill="#111" text-anchor="start" font-weight="bold"  stroke="#111" stroke-width="0.4">d</text>
</g>
<g id="panel-e">
<rect x="183.1" y="1876.7" width="51" height="394.8" fill="#d8232a" stroke="none" stroke-width="0" />
<rect x="306.2" y="1860.4" width="51" height="411.1" fill="#d8232a" stroke="none" stroke-width="0" />
<rect x="429.3" y="1842.7" width="51" height="428.8" fill="#d8232a" stroke="none" stroke-width="0" />
<rect x="552.4" y="1792" width="51" height="479.5" fill="#d8232a" stroke="none" stroke-width="0" />
<rect x="675.5" y="1908.3" width="51" height="363.2" fill="#d8232a" stroke="none" stroke-width="0" />
<rect x="798.6" y="1954.2" width="51" height="317.3" fill="#d8232a" stroke="none" stroke-width="0" />
<rect x="921.7" y="2011.6" width="51" height="259.9" fill="#d8232a" stroke="none" stroke-width="0" />
<line x1="208.6" y1="1859.7" x2="208.6" y2="1894.7" stroke="#111" stroke-width="1.7" />
<line x1="202.1" y1="1859.7" x2="215.1" y2="1859.7" stroke="#111" stroke-width="1.7" />
<line x1="202.1" y1="1894.7" x2="215.1" y2="1894.7" stroke="#111" stroke-width="1.7" />
<line x1="331.7" y1="1841.3" x2="331.7" y2="1879.4" stroke="#111" stroke-width="1.7" />
<line x1="325.2" y1="1841.3" x2="338.2" y2="1841.3" stroke="#111" stroke-width="1.7" />
<line x1="325.2" y1="1879.4" x2="338.2" y2="1879.4" stroke="#111" stroke-width="1.7" />
<line x1="454.8" y1="1831.8" x2="454.8" y2="1855.6" stroke="#111" stroke-width="1.7" />
<line x1="448.3" y1="1831.8" x2="461.3" y2="1831.8" stroke="#111" stroke-width="1.7" />
<line x1="448.3" y1="1855.6" x2="461.3" y2="1855.6" stroke="#111" stroke-width="1.7" />
<line x1="577.9" y1="1777.5" x2="577.9" y2="1807.4" stroke="#111" stroke-width="1.7" />
<line x1="571.4" y1="1777.5" x2="584.4" y2="1777.5" stroke="#111" stroke-width="1.7" />
<line x1="571.4" y1="1807.4" x2="584.4" y2="1807.4" stroke="#111" stroke-width="1.7" />
<line x1="701" y1="1886.2" x2="701" y2="1930.4" stroke="#111" stroke-width="1.7" />
<line x1="694.5" y1="1886.2" x2="707.5" y2="1886.2" stroke="#111" stroke-width="1.7" />
<line x1="694.5" y1="1930.4" x2="707.5" y2="1930.4" stroke="#111" stroke-width="1.7" />
<line x1="824.1" y1="1931" x2="824.1" y2="1977.4" stroke="#111" stroke-width="1.7" />
<line x1="817.6" y1="1931" x2="830.6" y2="1931" stroke="#111" stroke-width="1.7" />
<line x1="817.6" y1="1977.4" x2="830.6" y2="1977.4" stroke="#111" stroke-width="1.7" />
<line x1="947.2" y1="1985.5" x2="947.2" y2="2039.9" stroke="#111" stroke-width="1.7" />
<line x1="940.7" y1="1985.5" x2="953.7" y2="1985.5" stroke="#111" stroke-width="1.7" />
<line x1="940.7" y1="2039.9" x2="953.7" y2="2039.9" stroke="#111" stroke-width="1.7" />
<path d="M208.6,1831.8 L331.7,1812.1 L454.8,1789.7 L577.9,1736.7 L701,1929.4 L824.1,1986.4 L947.2,2053.4" fill="none" stroke="#25448f" stroke-width="1.6" stroke-linejoin="round" stroke-linecap="round" stroke-dasharray="5 3.5"/>
<line x1="208.6" y1="1805.3" x2="208.6" y2="1859" stroke="#2a4a9c" stroke-width="1.6" />
<line x1="202.1" y1="1805.3" x2="215.1" y2="1805.3" stroke="#2a4a9c" stroke-width="1.6" />
<line x1="202.1" y1="1859" x2="215.1" y2="1859" stroke="#2a4a9c" stroke-width="1.6" />
<line x1="331.7" y1="1783.6" x2="331.7" y2="1840.7" stroke="#2a4a9c" stroke-width="1.6" />
<line x1="325.2" y1="1783.6" x2="338.2" y2="1783.6" stroke="#2a4a9c" stroke-width="1.6" />
<line x1="325.2" y1="1840.7" x2="338.2" y2="1840.7" stroke="#2a4a9c" stroke-width="1.6" />
<line x1="454.8" y1="1762.2" x2="454.8" y2="1816.5" stroke="#2a4a9c" stroke-width="1.6" />
<line x1="448.3" y1="1762.2" x2="461.3" y2="1762.2" stroke="#2a4a9c" stroke-width="1.6" />
<line x1="448.3" y1="1816.5" x2="461.3" y2="1816.5" stroke="#2a4a9c" stroke-width="1.6" />
<line x1="577.9" y1="1705.4" x2="577.9" y2="1767.3" stroke="#2a4a9c" stroke-width="1.6" />
<line x1="571.4" y1="1705.4" x2="584.4" y2="1705.4" stroke="#2a4a9c" stroke-width="1.6" />
<line x1="571.4" y1="1767.3" x2="584.4" y2="1767.3" stroke="#2a4a9c" stroke-width="1.6" />
<line x1="701" y1="1893" x2="701" y2="1964.4" stroke="#2a4a9c" stroke-width="1.6" />
<line x1="694.5" y1="1893" x2="707.5" y2="1893" stroke="#2a4a9c" stroke-width="1.6" />
<line x1="694.5" y1="1964.4" x2="707.5" y2="1964.4" stroke="#2a4a9c" stroke-width="1.6" />
<line x1="824.1" y1="1962.7" x2="824.1" y2="2009.3" stroke="#2a4a9c" stroke-width="1.6" />
<line x1="817.6" y1="1962.7" x2="830.6" y2="1962.7" stroke="#2a4a9c" stroke-width="1.6" />
<line x1="817.6" y1="2009.3" x2="830.6" y2="2009.3" stroke="#2a4a9c" stroke-width="1.6" />
<line x1="947.2" y1="2013.7" x2="947.2" y2="2090.8" stroke="#2a4a9c" stroke-width="1.6" />
<line x1="940.7" y1="2013.7" x2="953.7" y2="2013.7" stroke="#2a4a9c" stroke-width="1.6" />
<line x1="940.7" y1="2090.8" x2="953.7" y2="2090.8" stroke="#2a4a9c" stroke-width="1.6" />
<rect x="200.6" y="1823.8" width="16" height="16" fill="#2a4a9c" stroke="none" stroke-width="0" />
<rect x="323.7" y="1804.1" width="16" height="16" fill="#2a4a9c" stroke="none" stroke-width="0" />
<rect x="446.8" y="1781.7" width="16" height="16" fill="#2a4a9c" stroke="none" stroke-width="0" />
<rect x="569.9" y="1728.7" width="16" height="16" fill="#2a4a9c" stroke="none" stroke-width="0" />
<rect x="693" y="1921.4" width="16" height="16" fill="#2a4a9c" stroke="none" stroke-width="0" />
<rect x="816.1" y="1978.4" width="16" height="16" fill="#2a4a9c" stroke="none" stroke-width="0" />
<rect x="939.2" y="2045.4" width="16" height="16" fill="#2a4a9c" stroke="none" stroke-width="0" />
<line x1="159.7" y1="1636" x2="1008.5" y2="1636" stroke="#000" stroke-width="1.8" />
<line x1="159.7" y1="2271.5" x2="1008.5" y2="2271.5" stroke="#000" stroke-width="1.8" />
<line x1="159.7" y1="1635" x2="159.7" y2="2272.5" stroke="#d8232a" stroke-width="1.6" />
<line x1="1008.5" y1="1635" x2="1008.5" y2="2272.5" stroke="#25448f" stroke-width="1.6" />
<line x1="149.2" y1="2271.5" x2="159.7" y2="2271.5" stroke="#d8232a" stroke-width="1.6" />
<text x="141.6" y="2284.3" font-size="39" fill="#d8232a" text-anchor="end" font-weight="normal"  stroke="#d8232a" stroke-width="0.25">0</text>
<line x1="1008.5" y1="2271.5" x2="1019" y2="2271.5" stroke="#25448f" stroke-width="1.6" />
<text x="1026.5" y="2283.7" font-size="38" fill="#25448f" text-anchor="start" font-weight="normal"  stroke="#25448f" stroke-width="0.25">0</text>
<line x1="149.2" y1="2144.4" x2="159.7" y2="2144.4" stroke="#d8232a" stroke-width="1.6" />
<text x="141.6" y="2157.2" font-size="39" fill="#d8232a" text-anchor="end" font-weight="normal"  stroke="#d8232a" stroke-width="0.25">200</text>
<line x1="1008.5" y1="2144.4" x2="1019" y2="2144.4" stroke="#25448f" stroke-width="1.6" />
<text x="1026.5" y="2156.6" font-size="38" fill="#25448f" text-anchor="start" font-weight="normal"  stroke="#25448f" stroke-width="0.25">5</text>
<line x1="149.2" y1="2017.3" x2="159.7" y2="2017.3" stroke="#d8232a" stroke-width="1.6" />
<text x="141.6" y="2030.1" font-size="39" fill="#d8232a" text-anchor="end" font-weight="normal"  stroke="#d8232a" stroke-width="0.25">400</text>
<line x1="1008.5" y1="2017.3" x2="1019" y2="2017.3" stroke="#25448f" stroke-width="1.6" />
<text x="1026.5" y="2029.5" font-size="38" fill="#25448f" text-anchor="start" font-weight="normal"  stroke="#25448f" stroke-width="0.25">10</text>
<line x1="149.2" y1="1890.2" x2="159.7" y2="1890.2" stroke="#d8232a" stroke-width="1.6" />
<text x="141.6" y="1903" font-size="39" fill="#d8232a" text-anchor="end" font-weight="normal"  stroke="#d8232a" stroke-width="0.25">600</text>
<line x1="1008.5" y1="1890.2" x2="1019" y2="1890.2" stroke="#25448f" stroke-width="1.6" />
<text x="1026.5" y="1902.4" font-size="38" fill="#25448f" text-anchor="start" font-weight="normal"  stroke="#25448f" stroke-width="0.25">15</text>
<line x1="149.2" y1="1763.1" x2="159.7" y2="1763.1" stroke="#d8232a" stroke-width="1.6" />
<text x="141.6" y="1775.9" font-size="39" fill="#d8232a" text-anchor="end" font-weight="normal"  stroke="#d8232a" stroke-width="0.25">800</text>
<line x1="1008.5" y1="1763.1" x2="1019" y2="1763.1" stroke="#25448f" stroke-width="1.6" />
<text x="1026.5" y="1775.3" font-size="38" fill="#25448f" text-anchor="start" font-weight="normal"  stroke="#25448f" stroke-width="0.25">20</text>
<line x1="149.2" y1="1636" x2="159.7" y2="1636" stroke="#d8232a" stroke-width="1.6" />
<text x="141.6" y="1648.8" font-size="39" fill="#d8232a" text-anchor="end" font-weight="normal"  stroke="#d8232a" stroke-width="0.25">1000</text>
<line x1="1008.5" y1="1636" x2="1019" y2="1636" stroke="#25448f" stroke-width="1.6" />
<text x="1026.5" y="1648.2" font-size="38" fill="#25448f" text-anchor="start" font-weight="normal"  stroke="#25448f" stroke-width="0.25">25</text>
<line x1="153.7" y1="2207.9" x2="159.7" y2="2207.9" stroke="#d8232a" stroke-width="1.6" />
<line x1="1008.5" y1="2207.9" x2="1014.5" y2="2207.9" stroke="#25448f" stroke-width="1.6" />
<line x1="153.7" y1="2080.8" x2="159.7" y2="2080.8" stroke="#d8232a" stroke-width="1.6" />
<line x1="1008.5" y1="2080.8" x2="1014.5" y2="2080.8" stroke="#25448f" stroke-width="1.6" />
<line x1="153.7" y1="1953.8" x2="159.7" y2="1953.8" stroke="#d8232a" stroke-width="1.6" />
<line x1="1008.5" y1="1953.8" x2="1014.5" y2="1953.8" stroke="#25448f" stroke-width="1.6" />
<line x1="153.7" y1="1826.7" x2="159.7" y2="1826.7" stroke="#d8232a" stroke-width="1.6" />
<line x1="1008.5" y1="1826.7" x2="1014.5" y2="1826.7" stroke="#25448f" stroke-width="1.6" />
<line x1="153.7" y1="1699.5" x2="159.7" y2="1699.5" stroke="#d8232a" stroke-width="1.6" />
<line x1="1008.5" y1="1699.5" x2="1014.5" y2="1699.5" stroke="#25448f" stroke-width="1.6" />
<line x1="208.6" y1="2271.5" x2="208.6" y2="2281.5" stroke="#000" stroke-width="1.8" />
<line x1="331.7" y1="2271.5" x2="331.7" y2="2281.5" stroke="#000" stroke-width="1.8" />
<line x1="454.8" y1="2271.5" x2="454.8" y2="2281.5" stroke="#000" stroke-width="1.8" />
<line x1="577.9" y1="2271.5" x2="577.9" y2="2281.5" stroke="#000" stroke-width="1.8" />
<line x1="701" y1="2271.5" x2="701" y2="2281.5" stroke="#000" stroke-width="1.8" />
<line x1="824.1" y1="2271.5" x2="824.1" y2="2281.5" stroke="#000" stroke-width="1.8" />
<line x1="947.2" y1="2271.5" x2="947.2" y2="2281.5" stroke="#000" stroke-width="1.8" />
<text transform="translate(40.5 1941.8) rotate(-90)" font-size="52" fill="#d8232a" stroke="#d8232a" stroke-width="0.4" text-anchor="middle" >Hardness (MPa)</text>
<text transform="translate(1116 1920.5) rotate(-90)" font-size="51.7" fill="#25448f" stroke="#25448f" stroke-width="0.4" text-anchor="middle" >Young’s modulus (GPa)</text>
<rect x="184.3" y="1662" width="309.3" height="75.9" fill="#fff" stroke="#000" stroke-width="1.8" />
<rect x="197" y="1670.8" width="56.4" height="27.5" fill="#d8232a" stroke="none" stroke-width="0" />
<text x="260.6" y="1693" font-size="28.4" fill="#d8232a" text-anchor="start" font-weight="normal"  stroke="#d8232a" stroke-width="0.25">Hardness</text>
<line x1="197" y1="1720" x2="253.4" y2="1720" stroke="#25448f" stroke-width="1.6" stroke-dasharray="4 3"/>
<rect x="217.8" y="1712.4" width="15.3" height="15.3" fill="#2a4a9c" stroke="none" stroke-width="0" />
<text x="262" y="1729" font-size="28.4" fill="#25448f" text-anchor="start" font-weight="normal"  stroke="#25448f" stroke-width="0.25">Young's modulus</text>
<text x="210.1" y="2324" font-size="46.5" fill="#000" text-anchor="middle" font-weight="normal"  stroke="#000" stroke-width="0.4">GO</text>
<text transform="translate(312.9 2314.8) rotate(45)" font-size="46.5" fill="#000">GO10ND<tspan dy="-0.5714285714285715em" font-size="70%">+</tspan></text>
<text transform="translate(436 2314.8) rotate(45)" font-size="46.5" fill="#000">GO20ND<tspan dy="-0.5714285714285715em" font-size="70%">+</tspan></text>
<text transform="translate(559.1 2314.8) rotate(45)" font-size="46.5" fill="#000">GO30ND<tspan dy="-0.5714285714285715em" font-size="70%">+</tspan></text>
<text transform="translate(682.2 2314.8) rotate(45)" font-size="46.5" fill="#000">GO10POSS<tspan dy="-0.5714285714285715em" font-size="70%">−</tspan></text>
<text transform="translate(805.3 2314.8) rotate(45)" font-size="46.5" fill="#000">GO20POSS<tspan dy="-0.5714285714285715em" font-size="70%">−</tspan></text>
<text transform="translate(928.4 2314.8) rotate(45)" font-size="46.5" fill="#000">GO30POSS<tspan dy="-0.5714285714285715em" font-size="70%">−</tspan></text>
<text x="88.5" y="1601.3" font-size="80.5" fill="#111" text-anchor="start" font-weight="bold"  stroke="#111" stroke-width="0.4">e</text>
</g>
<g id="panel-f">
<defs><pattern id="hA" width="5" height="5" patternUnits="userSpaceOnUse" patternTransform="rotate(45)"><rect width="5" height="5" fill="#cbe8a4"/><line x1="0" y1="0" x2="0" y2="5" stroke="#3c8a3a" stroke-width="1.5"/></pattern><pattern id="hD" width="10" height="10" patternUnits="userSpaceOnUse" patternTransform="rotate(45)"><rect width="10" height="10" fill="#bb8e8b"/><path d="M0,0V10M0,0H10" stroke="#7a1f28" stroke-width="1.8"/></pattern><pattern id="hG" width="5" height="5" patternUnits="userSpaceOnUse" patternTransform="rotate(-45)"><rect width="5" height="5" fill="#a0a6d2"/><line x1="0" y1="0" x2="0" y2="5" stroke="#2b3f8c" stroke-width="1.5"/></pattern></defs>
<path d="M1383,2191.7 L1384,2191.2 L1385,2190.8 L1386,2190.3 L1387,2189.1 L1388,2188.5 L1389,2188.2 L1390,2188.6 L1391,2188.5 L1392,2188 L1393,2187.9 L1394,2187.2 L1395,2186.8 L1396,2185.3 L1397,2185 L1398,2184.6 L1399,2184.8 L1400,2184.2 L1401,2184.3 L1402,2183.5 L1403,2182.9 L1404,2182.1 L1405,2181.9 L1406,2182.4 L1407,2182.1 L1408,2182.3 L1409,2181.9 L1410,2182.1 L1411,2181.8 L1412,2181.3 L1413,2180.5 L1414,2180.2 L1415,2180.4 L1416,2180.6 L1417,2180.2 L1418,2180 L1419,2179.6 L1420,2179.8 L1421,2180.5 L1422,2180.7 L1423,2181.5 L1424,2180.5 L1425,2181.3 L1426,2181 L1427,2181.5 L1428,2182 L1429,2182.4 L1430,2182.5 L1431,2181.8 L1432,2181.7 L1433,2182.6 L1434,2183.4 L1435,2183.9 L1436,2183.8 L1437,2184.6 L1438,2185.4 L1439,2185.8 L1440,2186.4 L1441,2187 L1442,2187.8 L1443,2188.2 L1444,2189.2 L1445,2190.1 L1446,2189.8 L1447,2189.5 L1448,2189.3 L1449,2190.2 L1450,2190.6 L1451,2191.6 L1452,2191.6 L1453,2192.3 L1454,2192.5 L1455,2193.5 L1456,2193.5 L1457,2193.8 L1458,2194.3 L1458,2195.3 L1383,2195.3 Z" fill="url(#hA)" stroke="none"/>
<path d="M1475,2191.4 L1476,2190.9 L1477,2191.2 L1478,2189.9 L1479,2189.4 L1480,2188.3 L1481,2187.6 L1482,2186.5 L1483,2185 L1484,2184.5 L1485,2183.6 L1486,2183.1 L1487,2181.6 L1488,2180.1 L1489,2178.2 L1490,2177 L1491,2176.1 L1492,2175.3 L1493,2173.8 L1494,2172.8 L1495,2170.8 L1496,2169.8 L1497,2167.9 L1498,2166.7 L1499,2164.2 L1500,2162.2 L1501,2160.6 L1502,2159.4 L1503,2158.4 L1504,2157.7 L1505,2156.1 L1506,2154.7 L1507,2152.1 L1508,2150.7 L1509,2149.4 L1510,2150.1 L1511,2150.8 L1512,2151.3 L1513,2151.7 L1514,2152.9 L1515,2154.6 L1516,2156.9 L1517,2159.6 L1518,2161.6 L1519,2163.8 L1520,2164.8 L1521,2166.3 L1522,2167.8 L1523,2169.8 L1524,2171.2 L1525,2171.5 L1526,2173 L1527,2174.8 L1528,2177.1 L1529,2178 L1530,2180 L1531,2181.6 L1532,2183.5 L1533,2183.7 L1534,2184.6 L1535,2186.3 L1536,2188.2 L1537,2188.8 L1538,2189.3 L1539,2190.1 L1540,2191.4 L1541,2191.7 L1542,2191.3 L1542,2195.3 L1475,2195.3 Z" fill="url(#hD)" stroke="none"/>
<path d="M1671,2193.2 L1672,2192.8 L1673,2192.6 L1674,2191.6 L1675,2190.7 L1676,2189.1 L1677,2188.6 L1678,2187.7 L1679,2186.8 L1680,2185.9 L1681,2184.5 L1682,2182.7 L1683,2181.2 L1684,2180.7 L1685,2181.1 L1686,2180.9 L1687,2180.1 L1688,2178.9 L1689,2178 L1690,2176.8 L1691,2177 L1692,2176 L1693,2176 L1694,2174.5 L1695,2174.2 L1696,2173.8 L1697,2173.8 L1698,2174 L1699,2174 L1700,2174 L1701,2173.1 L1702,2172.4 L1703,2171.3 L1704,2171 L1705,2170 L1706,2170.9 L1707,2170.6 L1708,2171.2 L1709,2170.5 L1710,2170.8 L1711,2170.5 L1712,2170.7 L1713,2170.9 L1714,2172 L1715,2171.6 L1716,2171.8 L1717,2171.8 L1718,2172.5 L1719,2172.9 L1720,2172.6 L1721,2173.3 L1722,2173.3 L1723,2173.7 L1724,2173.4 L1725,2173.8 L1726,2173.9 L1727,2174.6 L1728,2175.4 L1729,2176.2 L1730,2175.8 L1731,2174.8 L1732,2175.3 L1733,2176.5 L1734,2177 L1735,2177.1 L1736,2177.2 L1737,2178.2 L1738,2178.1 L1739,2178.3 L1740,2178.3 L1741,2179.1 L1742,2180.1 L1743,2180.4 L1744,2180.9 L1745,2180.6 L1746,2181.2 L1747,2180.8 L1748,2181.2 L1749,2181.6 L1750,2182 L1751,2182.6 L1752,2182.3 L1753,2183.5 L1754,2182.8 L1755,2183.6 L1756,2183.8 L1757,2184.8 L1758,2185.3 L1759,2185.5 L1760,2185.3 L1761,2185.9 L1762,2186.5 L1763,2188.2 L1764,2188.3 L1765,2188.5 L1766,2189 L1767,2189.8 L1768,2191.4 L1769,2191.9 L1770,2193 L1771,2192.7 L1772,2192.7 L1773,2193.2 L1774,2193 L1775,2193.4 L1776,2193.3 L1777,2194.2 L1778,2194 L1779,2194.4 L1779,2195.3 L1671,2195.3 Z" fill="url(#hG)" stroke="none"/>
<path d="M1241,2195.2 L1242,2195.2 L1243,2195.1 L1244,2195.2 L1245,2194.9 L1246,2195 L1247,2195.7 L1248,2195.7 L1249,2196 L1250,2195.5 L1251,2195.7 L1252,2195.4 L1253,2195 L1254,2195.5 L1255,2195.8 L1256,2195.5 L1257,2195.1 L1258,2195 L1259,2195.4 L1260,2195.1 L1261,2195.9 L1262,2196.8 L1263,2197 L1264,2196.5 L1265,2195.7 L1266,2195.6 L1267,2195.7 L1268,2196 L1269,2196.2 L1270,2196.4 L1271,2196.4 L1272,2196.9 L1273,2196.7 L1274,2196.4 L1275,2195.9 L1276,2196 L1277,2195.7 L1278,2195.5 L1279,2195.1 L1280,2195.5 L1281,2195.9 L1282,2196.1 L1283,2196.6 L1284,2196.5 L1285,2196.6 L1286,2195.8 L1287,2196.4 L1288,2197.1 L1289,2197.2 L1290,2196.9 L1291,2196.6 L1292,2196.3 L1293,2195.6 L1294,2194.9 L1295,2196.2 L1296,2196.9 L1297,2197.6 L1298,2196.7 L1299,2196.5 L1300,2197 L1301,2196.8 L1302,2197.1 L1303,2197.3 L1304,2197.5 L1305,2197.4 L1306,2196.5 L1307,2196.2 L1308,2196.2 L1309,2196.8 L1310,2197.1 L1311,2197.2 L1312,2196.3 L1313,2195.6 L1314,2196 L1315,2195.9 L1316,2196.6 L1317,2196.1 L1318,2197.1 L1319,2196.9 L1320,2197.3 L1321,2196.1 L1322,2196.8 L1323,2196.9 L1324,2197.7 L1325,2197.6 L1326,2197.3 L1327,2197.5 L1328,2197.2 L1329,2198.1 L1330,2197.6 L1331,2197.7 L1332,2196.7 L1333,2196.9 L1334,2196.7 L1335,2196.6 L1336,2196 L1337,2195.5 L1338,2195.1 L1339,2195.8 L1340,2197.1 L1341,2197 L1342,2196.8 L1343,2195.7 L1344,2196.5 L1345,2196.3 L1346,2197.9 L1347,2197.3 L1348,2197.8 L1349,2196.5 L1350,2196.6 L1351,2196.3 L1352,2196 L1353,2196.3 L1354,2195.8 L1355,2196.3 L1356,2196.2 L1357,2195.6 L1358,2195 L1359,2194.7 L1360,2195.1 L1361,2195.4 L1362,2195.5 L1363,2195.5 L1364,2195.5 L1365,2195.3 L1366,2195.1 L1367,2195.1 L1368,2194.9 L1369,2195.3 L1370,2194.6 L1371,2194.4 L1372,2193.8 L1373,2193.8 L1374,2193.2 L1375,2193.2 L1376,2192.8 L1377,2193.1 L1378,2192.2 L1379,2192 L1380,2191.9 L1381,2192.3 L1382,2191.9 L1383,2191.7 L1384,2191.2 L1385,2190.8 L1386,2190.3 L1387,2189.1 L1388,2188.5 L1389,2188.2 L1390,2188.6 L1391,2188.5 L1392,2188 L1393,2187.9 L1394,2187.2 L1395,2186.8 L1396,2185.3 L1397,2185 L1398,2184.6 L1399,2184.8 L1400,2184.2 L1401,2184.3 L1402,2183.5 L1403,2182.9 L1404,2182.1 L1405,2181.9 L1406,2182.4 L1407,2182.1 L1408,2182.3 L1409,2181.9 L1410,2182.1 L1411,2181.8 L1412,2181.3 L1413,2180.5 L1414,2180.2 L1415,2180.4 L1416,2180.6 L1417,2180.2 L1418,2180 L1419,2179.6 L1420,2179.8 L1421,2180.5 L1422,2180.7 L1423,2181.5 L1424,2180.5 L1425,2181.3 L1426,2181 L1427,2181.5 L1428,2182 L1429,2182.4 L1430,2182.5 L1431,2181.8 L1432,2181.7 L1433,2182.6 L1434,2183.4 L1435,2183.9 L1436,2183.8 L1437,2184.6 L1438,2185.4 L1439,2185.8 L1440,2186.4 L1441,2187 L1442,2187.8 L1443,2188.2 L1444,2189.2 L1445,2190.1 L1446,2189.8 L1447,2189.5 L1448,2189.3 L1449,2190.2 L1450,2190.6 L1451,2191.6 L1452,2191.6 L1453,2192.3 L1454,2192.5 L1455,2193.5 L1456,2193.5 L1457,2193.8 L1458,2194.3 L1459,2195.1 L1460,2194.6 L1461,2194.4 L1462,2194.6 L1463,2194.9 L1464,2194 L1465,2193.4 L1466,2193.8 L1467,2193.7 L1468,2193.9 L1469,2194.3 L1470,2194.6 L1471,2194.5 L1472,2193.7 L1473,2193.3 L1474,2192 L1475,2191.4 L1476,2190.9 L1477,2191.2 L1478,2189.9 L1479,2189.4 L1480,2188.3 L1481,2187.6 L1482,2186.5 L1483,2185 L1484,2184.5 L1485,2183.6 L1486,2183.1 L1487,2181.6 L1488,2180.1 L1489,2178.2 L1490,2177 L1491,2176.1 L1492,2175.3 L1493,2173.8 L1494,2172.8 L1495,2170.8 L1496,2169.8 L1497,2167.9 L1498,2166.7 L1499,2164.2 L1500,2162.2 L1501,2160.6 L1502,2159.4 L1503,2158.4 L1504,2157.7 L1505,2156.1 L1506,2154.7 L1507,2152.1 L1508,2150.7 L1509,2149.4 L1510,2150.1 L1511,2150.8 L1512,2151.3 L1513,2151.7 L1514,2152.9 L1515,2154.6 L1516,2156.9 L1517,2159.6 L1518,2161.6 L1519,2163.8 L1520,2164.8 L1521,2166.3 L1522,2167.8 L1523,2169.8 L1524,2171.2 L1525,2171.5 L1526,2173 L1527,2174.8 L1528,2177.1 L1529,2178 L1530,2180 L1531,2181.6 L1532,2183.5 L1533,2183.7 L1534,2184.6 L1535,2186.3 L1536,2188.2 L1537,2188.8 L1538,2189.3 L1539,2190.1 L1540,2191.4 L1541,2191.7 L1542,2191.3 L1543,2191.7 L1544,2192.3 L1545,2193.7 L1546,2193.4 L1547,2193.3 L1548,2194.3 L1549,2195.5 L1550,2196.7 L1551,2196.3 L1552,2195.7 L1553,2194.8 L1554,2194.7 L1555,2194.7 L1556,2195.4 L1557,2194.8 L1558,2194.9 L1559,2193.9 L1560,2194.1 L1561,2194.5 L1562,2195.2 L1563,2194.7 L1564,2193.9 L1565,2194 L1566,2193.6 L1567,2194.2 L1568,2193.1 L1569,2192.8 L1570,2191.6 L1571,2191.5 L1572,2191.1 L1573,2190.4 L1574,2189.1 L1575,2188.2 L1576,2187 L1577,2187 L1578,2186.5 L1579,2185.9 L1580,2185.4 L1581,2184.1 L1582,2183.4 L1583,2182.7 L1584,2182.8 L1585,2182.4 L1586,2181 L1587,2179.3 L1588,2179.8 L1589,2180 L1590,2180.7 L1591,2180.2 L1592,2179.7 L1593,2178.5 L1594,2177.6 L1595,2177.5 L1596,2177.9 L1597,2177.4 L1598,2177.2 L1599,2176 L1600,2175.9 L1601,2175.5 L1602,2176.1 L1603,2176.2 L1604,2176 L1605,2175.7 L1606,2175.3 L1607,2175.7 L1608,2176.3 L1609,2176.8 L1610,2176.8 L1611,2177.5 L1612,2178.4 L1613,2178.3 L1614,2178.1 L1615,2177.9 L1616,2178.8 L1617,2178.9 L1618,2179.3 L1619,2179.6 L1620,2180.1 L1621,2180.9 L1622,2182.2 L1623,2183.4 L1624,2184.4 L1625,2184.5 L1626,2185.4 L1627,2185.9 L1628,2187.1 L1629,2187.8 L1630,2189 L1631,2189.3 L1632,2190 L1633,2191 L1634,2191.9 L1635,2192.4 L1636,2192.8 L1637,2193 L1638,2193.4 L1639,2194.1 L1640,2195.2 L1641,2196.2 L1642,2196.6 L1643,2197.2 L1644,2197.4 L1645,2197.2 L1646,2197.4 L1647,2196.9 L1648,2196.9 L1649,2196.1 L1650,2196.6 L1651,2196.1 L1652,2197.1 L1653,2197 L1654,2197.8 L1655,2197 L1656,2197 L1657,2196.4 L1658,2195.7 L1659,2196.1 L1660,2196.5 L1661,2197.2 L1662,2196.8 L1663,2196.2 L1664,2196.1 L1665,2195.7 L1666,2195.6 L1667,2194.6 L1668,2194.2 L1669,2193.4 L1670,2193.4 L1671,2193.2 L1672,2192.8 L1673,2192.6 L1674,2191.6 L1675,2190.7 L1676,2189.1 L1677,2188.6 L1678,2187.7 L1679,2186.8 L1680,2185.9 L1681,2184.5 L1682,2182.7 L1683,2181.2 L1684,2180.7 L1685,2181.1 L1686,2180.9 L1687,2180.1 L1688,2178.9 L1689,2178 L1690,2176.8 L1691,2177 L1692,2176 L1693,2176 L1694,2174.5 L1695,2174.2 L1696,2173.8 L1697,2173.8 L1698,2174 L1699,2174 L1700,2174 L1701,2173.1 L1702,2172.4 L1703,2171.3 L1704,2171 L1705,2170 L1706,2170.9 L1707,2170.6 L1708,2171.2 L1709,2170.5 L1710,2170.8 L1711,2170.5 L1712,2170.7 L1713,2170.9 L1714,2172 L1715,2171.6 L1716,2171.8 L1717,2171.8 L1718,2172.5 L1719,2172.9 L1720,2172.6 L1721,2173.3 L1722,2173.3 L1723,2173.7 L1724,2173.4 L1725,2173.8 L1726,2173.9 L1727,2174.6 L1728,2175.4 L1729,2176.2 L1730,2175.8 L1731,2174.8 L1732,2175.3 L1733,2176.5 L1734,2177 L1735,2177.1 L1736,2177.2 L1737,2178.2 L1738,2178.1 L1739,2178.3 L1740,2178.3 L1741,2179.1 L1742,2180.1 L1743,2180.4 L1744,2180.9 L1745,2180.6 L1746,2181.2 L1747,2180.8 L1748,2181.2 L1749,2181.6 L1750,2182 L1751,2182.6 L1752,2182.3 L1753,2183.5 L1754,2182.8 L1755,2183.6 L1756,2183.8 L1757,2184.8 L1758,2185.3 L1759,2185.5 L1760,2185.3 L1761,2185.9 L1762,2186.5 L1763,2188.2 L1764,2188.3 L1765,2188.5 L1766,2189 L1767,2189.8 L1768,2191.4 L1769,2191.9 L1770,2193 L1771,2192.7 L1772,2192.7 L1773,2193.2 L1774,2193 L1775,2193.4 L1776,2193.3 L1777,2194.2 L1778,2194 L1779,2194.4 L1780,2194.6 L1781,2195.2 L1782,2194.7 L1783,2194.8 L1784,2193.9 L1785,2193.4 L1786,2193.5 L1787,2193.8 L1788,2194.6 L1789,2193.8 L1790,2193.4 L1791,2192.7 L1792,2192.7 L1793,2193.2 L1794,2193.3 L1795,2193.2 L1796,2193.1 L1797,2193.5 L1798,2193.3 L1799,2192.8 L1800,2192.8 L1801,2193 L1802,2193.5 L1803,2192.9 L1804,2192.6 L1805,2192.6 L1806,2194 L1807,2194.9 L1808,2195.1 L1809,2194.3 L1810,2194 L1811,2193.9 L1812,2193.3 L1813,2193.3 L1814,2193.6 L1815,2194.3 L1816,2194.5 L1817,2194.6 L1818,2194.4 L1819,2194.7 L1820,2195.3 L1821,2195.7 L1822,2195 L1823,2194.4 L1824,2194.7 L1825,2195.1 L1826,2194.8 L1827,2195.2 L1828,2195.7 L1829,2196.5 L1830,2195.6 L1831,2195.5 L1832,2195.5 L1833,2196.2 L1834,2196.1 L1835,2196 L1836,2196.4 L1837,2197.3 L1838,2197.5 L1839,2197.7 L1840,2196.9 L1841,2196.9 L1842,2196.6 L1843,2197 L1844,2196.7 L1845,2196.6 L1846,2196.6 L1847,2197.6 L1848,2197.3 L1849,2197 L1850,2196.9 L1851,2197.5 L1852,2197.7 L1853,2197.2 L1854,2197 L1855,2197 L1856,2197.2 L1857,2196.9 L1858,2196.5 L1859,2196.2 L1860,2196.4 L1861,2196.3 L1862,2196.4 L1863,2195.9 L1864,2196 L1865,2196.4 L1866,2196.2 L1867,2196.8 L1868,2196.6 L1869,2197.2 L1870,2197.2 L1871,2197.2 L1872,2196.7 L1873,2196.3 L1874,2196 L1875,2195.9 L1876,2195.4 L1877,2195.2 L1878,2195.1 L1879,2194.9 L1880,2195.3 L1881,2195.5 L1882,2196.6 L1883,2195.8 L1884,2195.3 L1885,2194.2 L1886,2194.5 L1887,2194.7 L1888,2195.5 L1889,2195.4 L1890,2196 L1891,2195.8 L1892,2195.9 L1893,2195.3 L1894,2194.2 L1895,2194.2 L1896,2194.6 L1897,2195.4 L1898,2194.8 L1899,2193.7 L1900,2193.7 L1901,2193.3 L1902,2194.7 L1903,2194.6 L1904,2195 L1905,2194 L1906,2193.5 L1907,2192.9 L1908,2192.6 L1909,2192.2 L1910,2191.8 L1911,2191.8 L1912,2191.5 L1913,2192.3 L1914,2192 L1915,2192.4 L1916,2191.4 L1917,2191.3 L1918,2190.8 L1919,2190.6 L1920,2189.9 L1921,2189.8 L1922,2189.6 L1923,2190 L1924,2190.4 L1925,2190.3 L1926,2189.7 L1927,2189.2 L1928,2189.6 L1929,2190.7 L1930,2190.9 L1931,2191.1 L1932,2190.6 L1933,2190.9 L1934,2191.6 L1935,2191.2 L1936,2191.3 L1937,2190.6 L1938,2191.4 L1939,2191.1 L1940,2191.2 L1941,2190.8 L1942,2191.4 L1943,2191.8 L1944,2192.2 L1945,2192 L1946,2191.9 L1947,2192.2 L1948,2192.7 L1949,2192.9 L1950,2192.6 L1951,2193 L1952,2192.8 L1953,2192.6 L1954,2191.5 L1955,2190.9 L1956,2190.8 L1957,2191.3 L1958,2191.9 L1959,2192.6 L1960,2192.9 L1961,2192.5 L1962,2193 L1963,2193 L1964,2194.1 L1965,2192.7 L1966,2192.4 L1967,2192.2 L1968,2192.6 L1969,2192.5 L1970,2192.3 L1971,2193 L1972,2194 L1973,2194 L1974,2194.2 L1975,2193.4 L1976,2193.9 L1977,2193 L1978,2192.6 L1979,2192.2 L1980,2192 L1981,2192.9 L1982,2193 L1983,2193.3 L1984,2192.9 L1985,2193.4 L1986,2193.9 L1987,2194.3 L1988,2194.1 L1989,2194 L1990,2194.4 L1991,2194.6 L1992,2194.9 L1993,2193.9 L1994,2193.8 L1995,2194.3 L1996,2195.2 L1997,2195.3 L1998,2195.1 L1999,2195.7 L2000,2195.6 L2001,2195.4 L2002,2194.4 L2003,2193.7 L2004,2193.9 L2005,2194.3 L2006,2195.1 L2007,2195.6 L2008,2196.3 L2009,2196.5 L2010,2196.5 L2011,2195.8 L2012,2196.6 L2013,2196.3 L2014,2196.5 L2015,2196.4 L2016,2196.4 L2017,2196.5 L2018,2196.6 L2019,2197.3 L2020,2197.7 L2021,2197.9 L2022,2198.4 L2023,2198.1 L2024,2197.5 L2025,2196.5 L2026,2196.4 L2027,2196.6 L2028,2197.3 L2029,2197.4 L2030,2196.8 L2031,2196 L2032,2195.9 L2033,2196 L2034,2196.7 L2035,2196.1 L2036,2196.5 L2037,2195.8 L2038,2196.3 L2039,2195.6 L2040,2196 L2041,2195.6 L2042,2195.5 L2043,2195 L2044,2195.5 L2045,2195.4 L2046,2195.8 L2047,2195 L2048,2195.7 L2049,2194.7 L2050,2195.1 L2051,2194.7 L2052,2194.3 L2053,2194 L2054,2192.7 L2055,2192.5 L2056,2191.6 L2057,2192.8 L2058,2192.8 L2059,2192.8 L2060,2191.6 L2061,2191.8 L2062,2192.6 L2063,2193.2 L2064,2192.6 L2065,2192.3 L2066,2192.8 L2067,2193.7 L2068,2193.7 L2069,2193 L2070,2192.7" fill="none" stroke="#1b7040" stroke-width="1.7" stroke-linejoin="round" stroke-linecap="round" />
<path d="M1242,1779.2 L1243,1779.2 L1244,1779.3 L1245,1779.2 L1246,1779.5 L1247,1779.3 L1248,1779.3 L1249,1779.3 L1250,1779.5 L1251,1779.7 L1252,1779.7 L1253,1779.7 L1254,1779.6 L1255,1779.6 L1256,1779.2 L1257,1779.3 L1258,1778.8 L1259,1778.7 L1260,1778.4 L1261,1779.1 L1262,1779.7 L1263,1779.9 L1264,1779.8 L1265,1779.3 L1266,1779.6 L1267,1779.2 L1268,1779.6 L1269,1779 L1270,1779.3 L1271,1779 L1272,1779.2 L1273,1779 L1274,1779.1 L1275,1778.9 L1276,1778.9 L1277,1779.2 L1278,1779.8 L1279,1779.8 L1280,1779.9 L1281,1779.4 L1282,1779.2 L1283,1779.1 L1284,1779.3 L1285,1779.1 L1286,1779 L1287,1778.5 L1288,1778.6 L1289,1778.8 L1290,1779.3 L1291,1779.3 L1292,1779.3 L1293,1779.1 L1294,1779.1 L1295,1778.8 L1296,1778.8 L1297,1779 L1298,1779.4 L1299,1779.8 L1300,1779.7 L1301,1779.1 L1302,1779 L1303,1778.7 L1304,1779.4 L1305,1779.3 L1306,1779.7 L1307,1779 L1308,1778.9 L1309,1778.6 L1310,1778.7 L1311,1778.3 L1312,1778.4 L1313,1778.5 L1314,1778.6 L1315,1778.5 L1316,1778.5 L1317,1778.7 L1318,1779.5 L1319,1779.7 L1320,1779.6 L1321,1778.8 L1322,1778 L1323,1778.1 L1324,1778.4 L1325,1779.2 L1326,1778.9 L1327,1779 L1328,1779 L1329,1779.3 L1330,1779.2 L1331,1778.6 L1332,1778.4 L1333,1778.3 L1334,1778.4 L1335,1778.7 L1336,1778.3 L1337,1778.4 L1338,1778.5 L1339,1778.9 L1340,1779 L1341,1779.1 L1342,1778.8 L1343,1778.9 L1344,1778.7 L1345,1779 L1346,1778.9 L1347,1778.7 L1348,1778.3 L1349,1778.1 L1350,1777.9 L1351,1778 L1352,1778.2 L1353,1778.4 L1354,1778.6 L1355,1778.4 L1356,1778.5 L1357,1778.3 L1358,1778.3 L1359,1778.4 L1360,1778.7 L1361,1778.7 L1362,1778.2 L1363,1778 L1364,1777.9 L1365,1778 L1366,1777.6 L1367,1777.5 L1368,1777.7 L1369,1777.2 L1370,1777.1 L1371,1776.7 L1372,1777 L1373,1777.2 L1374,1777.2 L1375,1777 L1376,1776.6 L1377,1776.4 L1378,1776.6 L1379,1776.4 L1380,1776 L1381,1775.3 L1382,1775.4 L1383,1775.1 L1384,1775.2 L1385,1774.4 L1386,1774.1 L1387,1773.5 L1388,1773.1 L1389,1773 L1390,1773.1 L1391,1772.9 L1392,1772.7 L1393,1772 L1394,1771.9 L1395,1771.4 L1396,1771.3 L1397,1770.7 L1398,1770.6 L1399,1770.2 L1400,1770 L1401,1769.8 L1402,1769.6 L1403,1769.1 L1404,1768.6 L1405,1768.1 L1406,1768 L1407,1767.7 L1408,1767.6 L1409,1767.4 L1410,1767 L1411,1765.9 L1412,1765.2 L1413,1765.1 L1414,1765 L1415,1765 L1416,1764.5 L1417,1764.1 L1418,1763.6 L1419,1763.2 L1420,1763 L1421,1762.9 L1422,1762.4 L1423,1762.1 L1424,1761.4 L1425,1761.1 L1426,1760.8 L1427,1760.3 L1428,1759.9 L1429,1759.4 L1430,1759 L1431,1758.7 L1432,1758.3 L1433,1757.9 L1434,1757.5 L1435,1756.1 L1436,1755.4 L1437,1754.2 L1438,1754.4 L1439,1754 L1440,1753.6 L1441,1753.2 L1442,1752.5 L1443,1752.1 L1444,1751.3 L1445,1750.9 L1446,1750.3 L1447,1749.5 L1448,1748.6 L1449,1747.9 L1450,1747.7 L1451,1747.2 L1452,1746.9 L1453,1746.1 L1454,1745.5 L1455,1744.7 L1456,1744.4 L1457,1744.1 L1458,1743.3 L1459,1742.4 L1460,1741.2 L1461,1740.6 L1462,1740.1 L1463,1739.1 L1464,1738.1 L1465,1737.2 L1466,1736.4 L1467,1736 L1468,1734.4 L1469,1733.6 L1470,1732.7 L1471,1732.6 L1472,1732.2 L1473,1731.1 L1474,1729.9 L1475,1728.8 L1476,1728 L1477,1726.7 L1478,1725.5 L1479,1724.7 L1480,1723.9 L1481,1723 L1482,1721.8 L1483,1721.1 L1484,1719.9 L1485,1719 L1486,1717.5 L1487,1716.4 L1488,1715.1 L1489,1714.5 L1490,1713.6 L1491,1713 L1492,1711.5 L1493,1710.8 L1494,1709.1 L1495,1708.6 L1496,1707.4 L1497,1706.7 L1498,1705.8 L1499,1704.9 L1500,1703.9 L1501,1702.5 L1502,1701.3 L1503,1699.9 L1504,1698.8 L1505,1697.7 L1506,1697.4 L1507,1696.6 L1508,1696.2 L1509,1695.5 L1510,1694.7 L1511,1693.8 L1512,1692.8 L1513,1692.1 L1514,1691.5 L1515,1691.2 L1516,1690.4 L1517,1690.1 L1518,1689.2 L1519,1688.9 L1520,1688.3 L1521,1688.3 L1522,1688.1 L1523,1687.7 L1524,1687.8 L1525,1687.8 L1526,1688.2 L1527,1687.5 L1528,1687.7 L1529,1687.7 L1530,1688.3 L1531,1688.2 L1532,1688.7 L1533,1688.8 L1534,1689.3 L1535,1689.3 L1536,1689.4 L1537,1689.4 L1538,1689.5 L1539,1689.9 L1540,1690.3 L1541,1691 L1542,1691.5 L1543,1692 L1544,1692.6 L1545,1693.5 L1546,1694.6 L1547,1695.2 L1548,1696.3 L1549,1696.7 L1550,1697.8 L1551,1698.2 L1552,1699.1 L1553,1699.8 L1554,1700.9 L1555,1702 L1556,1702.9 L1557,1703.5 L1558,1704.1 L1559,1705.1 L1560,1705.9 L1561,1706.9 L1562,1707.5 L1563,1708.2 L1564,1709.2 L1565,1710 L1566,1710.9 L1567,1711.5 L1568,1712.2 L1569,1713.3 L1570,1713.9 L1571,1714.7 L1572,1715.1 L1573,1715.7 L1574,1716.6 L1575,1717.3 L1576,1718.1 L1577,1718.5 L1578,1719 L1579,1719.4 L1580,1720.1 L1581,1720.8 L1582,1721.3 L1583,1721.3 L1584,1721.7 L1585,1722.5 L1586,1723.8 L1587,1723.9 L1588,1723.6 L1589,1723.5 L1590,1724.1 L1591,1724.5 L1592,1724.8 L1593,1724.7 L1594,1725.4 L1595,1725.6 L1596,1726.4 L1597,1726.5 L1598,1727.2 L1599,1727.6 L1600,1727.8 L1601,1727.7 L1602,1727.5 L1603,1728.2 L1604,1728.4 L1605,1729.3 L1606,1729 L1607,1729.2 L1608,1729.2 L1609,1729.9 L1610,1730.5 L1611,1730.8 L1612,1730.8 L1613,1730.8 L1614,1730.9 L1615,1731.2 L1616,1731.6 L1617,1731.6 L1618,1731.2 L1619,1731.6 L1620,1732 L1621,1732.3 L1622,1732.1 L1623,1732.4 L1624,1732.5 L1625,1732.8 L1626,1732.6 L1627,1733 L1628,1732.4 L1629,1732.5 L1630,1732.7 L1631,1733.1 L1632,1733.1 L1633,1733 L1634,1733.1 L1635,1733.8 L1636,1734.2 L1637,1734.1 L1638,1733.6 L1639,1733.6 L1640,1734 L1641,1734.3 L1642,1734.2 L1643,1734.4 L1644,1734.5 L1645,1734.5 L1646,1734.3 L1647,1733.9 L1648,1733.6 L1649,1733.3 L1650,1733.3 L1651,1733.6 L1652,1733.5 L1653,1733 L1654,1732.9 L1655,1733.1 L1656,1733.2 L1657,1733 L1658,1732.3 L1659,1731.7 L1660,1731.3 L1661,1731.5 L1662,1731.2 L1663,1731.4 L1664,1730.7 L1665,1730.7 L1666,1729.7 L1667,1729.3 L1668,1728.8 L1669,1728.5 L1670,1728.2 L1671,1727.4 L1672,1727 L1673,1726.6 L1674,1726.6 L1675,1725.8 L1676,1725.2 L1677,1724.7 L1678,1724.1 L1679,1723 L1680,1721.8 L1681,1721.5 L1682,1720.6 L1683,1719.9 L1684,1718.6 L1685,1718.1 L1686,1717.1 L1687,1715.6 L1688,1714.3 L1689,1713.2 L1690,1712.1 L1691,1710.4 L1692,1708.9 L1693,1707.8 L1694,1706.3 L1695,1704.9 L1696,1703.5 L1697,1702.5 L1698,1701.1 L1699,1699.9 L1700,1699 L1701,1697.9 L1702,1696.2 L1703,1694.5 L1704,1693 L1705,1691.7 L1706,1690.4 L1707,1689.1 L1708,1687.7 L1709,1686.3 L1710,1685.1 L1711,1684 L1712,1682.2 L1713,1680.6 L1714,1679.2 L1715,1677.9 L1716,1676.5 L1717,1675.6 L1718,1675 L1719,1674.5 L1720,1673.1 L1721,1672.4 L1722,1671.1 L1723,1670.7 L1724,1670.2 L1725,1670.2 L1726,1670 L1727,1669.4 L1728,1669.1 L1729,1669.4 L1730,1669.8 L1731,1670.4 L1732,1670.7 L1733,1671.3 L1734,1672.1 L1735,1673.2 L1736,1674.2 L1737,1675.5 L1738,1676.4 L1739,1677.7 L1740,1679 L1741,1680.9 L1742,1683 L1743,1685.3 L1744,1687.5 L1745,1689.6 L1746,1692 L1747,1694.6 L1748,1697.4 L1749,1699.8 L1750,1703 L1751,1706.3 L1752,1709.9 L1753,1712.8 L1754,1715.4 L1755,1718.8 L1756,1721.7 L1757,1724.5 L1758,1726.6 L1759,1729.8 L1760,1732.8 L1761,1735.5 L1762,1737.8 L1763,1739.6 L1764,1741.7 L1765,1743.4 L1766,1745.7 L1767,1747.3 L1768,1748.9 L1769,1750.5 L1770,1751.9 L1771,1752.8 L1772,1753.4 L1773,1754 L1774,1755.3 L1775,1755.9 L1776,1756.5 L1777,1757 L1778,1758.2 L1779,1759.6 L1780,1760.3 L1781,1760.7 L1782,1761.4 L1783,1762.1 L1784,1763.1 L1785,1763.6 L1786,1764.5 L1787,1764.9 L1788,1765.7 L1789,1766.1 L1790,1766.4 L1791,1767.4 L1792,1768 L1793,1769 L1794,1769.3 L1795,1769.7 L1796,1770.2 L1797,1770.4 L1798,1770.9 L1799,1771.4 L1800,1771.6 L1801,1771.8 L1802,1771.8 L1803,1772.4 L1804,1772.9 L1805,1773.5 L1806,1774.2 L1807,1774.3 L1808,1774.5 L1809,1774.5 L1810,1775 L1811,1775.6 L1812,1775.9 L1813,1776 L1814,1775.8 L1815,1776 L1816,1776.3 L1817,1776.8 L1818,1777 L1819,1777.1 L1820,1777.2 L1821,1777.7 L1822,1778.1 L1823,1778.1 L1824,1777.6 L1825,1777.5 L1826,1778 L1827,1778.4 L1828,1778.4 L1829,1778.7 L1830,1779.1 L1831,1779 L1832,1778.9 L1833,1778.4 L1834,1779.1 L1835,1778.9 L1836,1779.4 L1837,1779.5 L1838,1779.4 L1839,1779.2 L1840,1778.9 L1841,1779.4 L1842,1779.5 L1843,1779.5 L1844,1779.3 L1845,1779.4 L1846,1779.5 L1847,1779.5 L1848,1779.6 L1849,1779.6 L1850,1779.2 L1851,1778.9 L1852,1778.4 L1853,1778.8 L1854,1779.2 L1855,1779.7 L1856,1779.4 L1857,1778.9 L1858,1778.9 L1859,1779 L1860,1779.3 L1861,1779.6 L1862,1779.7 L1863,1779.5 L1864,1779 L1865,1778.6 L1866,1778.8 L1867,1778.7 L1868,1779.1 L1869,1779.1 L1870,1779.1 L1871,1778.7 L1872,1778.8 L1873,1779.2 L1874,1779.5 L1875,1779.2 L1876,1779.2 L1877,1778.9 L1878,1778.5 L1879,1778.2 L1880,1778.1 L1881,1778.6 L1882,1778.9 L1883,1779.1 L1884,1779.3 L1885,1779 L1886,1779.2 L1887,1779.5 L1888,1779.7 L1889,1779.4 L1890,1778.8 L1891,1778.9 L1892,1778.8 L1893,1778.9 L1894,1778.9 L1895,1779.5 L1896,1779.5 L1897,1779.3 L1898,1779.2 L1899,1779.4 L1900,1779.4 L1901,1779.3 L1902,1779.4 L1903,1779.5 L1904,1779.4 L1905,1779.1 L1906,1779 L1907,1779.3 L1908,1779.4 L1909,1779.5 L1910,1779.2 L1911,1779.5 L1912,1779.7 L1913,1779.6 L1914,1779.3 L1915,1778.8 L1916,1779 L1917,1779.2 L1918,1779.4 L1919,1779.7 L1920,1779.3 L1921,1779.2 L1922,1778.9 L1923,1779.1 L1924,1779.7 L1925,1779.8 L1926,1779.5 L1927,1778.9 L1928,1778.7 L1929,1779.2 L1930,1779.7 L1931,1779.6 L1932,1779.4 L1933,1778.7 L1934,1778.7 L1935,1778.3 L1936,1778.7 L1937,1778.6 L1938,1779.1 L1939,1779.5 L1940,1780 L1941,1779.6 L1942,1779.3 L1943,1779.1 L1944,1779.2 L1945,1779.3 L1946,1779.5 L1947,1779.3 L1948,1779.4 L1949,1779.1 L1950,1779.8 L1951,1779.4 L1952,1779.6 L1953,1779.2 L1954,1779.2 L1955,1779 L1956,1779.2 L1957,1779.3 L1958,1779.4 L1959,1778.6 L1960,1778.9 L1961,1778.7 L1962,1779.3 L1963,1779.2 L1964,1779.6 L1965,1779.5 L1966,1779.2 L1967,1779.1 L1968,1779.2 L1969,1779.2 L1970,1779 L1971,1779 L1972,1779.4 L1973,1779.5 L1974,1779.6 L1975,1779.5 L1976,1779.6 L1977,1779.5 L1978,1779.6 L1979,1779.8 L1980,1779.6 L1981,1779 L1982,1778.7 L1983,1778.6 L1984,1778.9 L1985,1778.8 L1986,1779.1 L1987,1779.2 L1988,1779.5 L1989,1779.4 L1990,1779.4 L1991,1779.3 L1992,1779.5 L1993,1779.3 L1994,1779.1 L1995,1779 L1996,1779.2 L1997,1779.3 L1998,1779.1 L1999,1779.1 L2000,1779 L2001,1779 L2002,1779.1 L2003,1779.2 L2004,1779.3 L2005,1778.9 L2006,1779 L2007,1779 L2008,1779.3 L2009,1779.2 L2010,1779.2 L2011,1779.2 L2012,1779.1 L2013,1778.9 L2014,1779 L2015,1779.2 L2016,1779.3 L2017,1778.9 L2018,1779 L2019,1779 L2020,1779.4 L2021,1779.5 L2022,1779.2 L2023,1779 L2024,1778.8 L2025,1779.3 L2026,1779.5 L2027,1779.5 L2028,1779.3 L2029,1779 L2030,1779.1 L2031,1779.3 L2032,1779.7 L2033,1779.9 L2034,1779.5 L2035,1779.8 L2036,1779.5 L2037,1779.6 L2038,1779 L2039,1778.8 L2040,1778.6 L2041,1778.7 L2042,1779.1 L2043,1778.9 L2044,1778.9 L2045,1778.8 L2046,1779.4 L2047,1779.4 L2048,1779 L2049,1779 L2050,1779.1 L2051,1779 L2052,1778.9 L2053,1779 L2054,1779.6 L2055,1779.5 L2056,1779.7 L2057,1779.5 L2058,1779.6 L2059,1779.4 L2060,1779.5 L2061,1779.4 L2062,1779.4 L2063,1779.4 L2064,1779.4 L2065,1779.5 L2066,1779.2 L2067,1778.8 L2068,1778.9 L2069,1778.9 L2070,1779.3" fill="none" stroke="#6c2a6e" stroke-width="1.7" stroke-linejoin="round" stroke-linecap="round" />
<path d="M1242,1895.6 L1243,1895.5 L1244,1895.3 L1245,1895.3 L1246,1895.5 L1247,1895.5 L1248,1895.3 L1249,1895.3 L1250,1895.5 L1251,1895.8 L1252,1895.8 L1253,1895.8 L1254,1896.1 L1255,1896.4 L1256,1896.6 L1257,1896.4 L1258,1896 L1259,1896 L1260,1896.1 L1261,1895.9 L1262,1895.7 L1263,1895.4 L1264,1896 L1265,1896.1 L1266,1896.1 L1267,1896 L1268,1895.8 L1269,1896 L1270,1895.8 L1271,1896 L1272,1895.5 L1273,1895.5 L1274,1895.6 L1275,1895.8 L1276,1896 L1277,1895.8 L1278,1896.3 L1279,1896.3 L1280,1896.3 L1281,1895.8 L1282,1895.5 L1283,1895.6 L1284,1895.8 L1285,1896.1 L1286,1896.2 L1287,1896.3 L1288,1895.8 L1289,1895.5 L1290,1895.8 L1291,1896 L1292,1896.1 L1293,1895.9 L1294,1895.8 L1295,1895.5 L1296,1895.2 L1297,1895.5 L1298,1895.8 L1299,1895.9 L1300,1895.6 L1301,1895.6 L1302,1895.7 L1303,1896.1 L1304,1896.3 L1305,1896.1 L1306,1895.6 L1307,1895.3 L1308,1895.3 L1309,1895.5 L1310,1895.6 L1311,1895.8 L1312,1895.5 L1313,1895.4 L1314,1895.2 L1315,1896 L1316,1895.8 L1317,1896.1 L1318,1895.7 L1319,1895.8 L1320,1896.2 L1321,1896.2 L1322,1896.2 L1323,1895.5 L1324,1895.5 L1325,1895.8 L1326,1896.2 L1327,1895.9 L1328,1895.7 L1329,1895.7 L1330,1895.8 L1331,1895.8 L1332,1895.5 L1333,1895.8 L1334,1895.8 L1335,1896.1 L1336,1896.3 L1337,1896.2 L1338,1896 L1339,1895.7 L1340,1895.8 L1341,1896.2 L1342,1896.3 L1343,1896.3 L1344,1896.2 L1345,1896.1 L1346,1896 L1347,1895.4 L1348,1895.4 L1349,1895.4 L1350,1895.8 L1351,1896.2 L1352,1896.3 L1353,1896.3 L1354,1895.4 L1355,1895.4 L1356,1895.4 L1357,1895.9 L1358,1896.1 L1359,1895.9 L1360,1895.8 L1361,1895.4 L1362,1895.8 L1363,1895.7 L1364,1896.1 L1365,1895.8 L1366,1895.7 L1367,1895.6 L1368,1895.8 L1369,1896.2 L1370,1896.2 L1371,1896.4 L1372,1896.4 L1373,1896.5 L1374,1896.1 L1375,1896.3 L1376,1895.8 L1377,1896 L1378,1895.9 L1379,1896.1 L1380,1896.1 L1381,1896 L1382,1896 L1383,1896 L1384,1896.1 L1385,1896.3 L1386,1895.8 L1387,1896.1 L1388,1896.4 L1389,1896.5 L1390,1896.2 L1391,1895.9 L1392,1896 L1393,1896.2 L1394,1896.2 L1395,1896.2 L1396,1896.3 L1397,1895.9 L1398,1895.9 L1399,1896 L1400,1896.3 L1401,1896.6 L1402,1896.2 L1403,1896.1 L1404,1896.1 L1405,1896 L1406,1896.2 L1407,1895.7 L1408,1895.4 L1409,1895.4 L1410,1895.5 L1411,1895.8 L1412,1895.6 L1413,1895.2 L1414,1894.6 L1415,1894 L1416,1893.5 L1417,1893.2 L1418,1892.6 L1419,1892.4 L1420,1891.5 L1421,1891.3 L1422,1891.1 L1423,1891.5 L1424,1891.2 L1425,1890.7 L1426,1890 L1427,1889.7 L1428,1889.3 L1429,1889.2 L1430,1889.3 L1431,1889 L1432,1888.2 L1433,1887.5 L1434,1887.2 L1435,1886.9 L1436,1886.5 L1437,1885.9 L1438,1885.5 L1439,1885 L1440,1884.6 L1441,1884 L1442,1883.3 L1443,1882.3 L1444,1881.5 L1445,1881.3 L1446,1881 L1447,1880.4 L1448,1879.3 L1449,1878.3 L1450,1876.9 L1451,1876.1 L1452,1875.2 L1453,1875 L1454,1874.3 L1455,1873.8 L1456,1873.1 L1457,1872.6 L1458,1871.9 L1459,1871.4 L1460,1870.4 L1461,1869.1 L1462,1868.6 L1463,1867.7 L1464,1867.8 L1465,1866.7 L1466,1865.8 L1467,1864.7 L1468,1864 L1469,1863.5 L1470,1862.5 L1471,1861.6 L1472,1860.6 L1473,1859.8 L1474,1858.9 L1475,1857.6 L1476,1856.6 L1477,1855.9 L1478,1855.3 L1479,1854.6 L1480,1853.1 L1481,1852.3 L1482,1851.2 L1483,1850.2 L1484,1848.8 L1485,1848 L1486,1847.2 L1487,1846.4 L1488,1845.2 L1489,1843.8 L1490,1842.5 L1491,1841.6 L1492,1840.7 L1493,1839.3 L1494,1837.7 L1495,1837.1 L1496,1836.4 L1497,1835.2 L1498,1833.9 L1499,1832.6 L1500,1831.5 L1501,1830.4 L1502,1829.4 L1503,1829.1 L1504,1828 L1505,1827 L1506,1825.5 L1507,1824 L1508,1823.2 L1509,1822.1 L1510,1821.4 L1511,1819.8 L1512,1819 L1513,1817.9 L1514,1817.3 L1515,1816.3 L1516,1815.7 L1517,1814.9 L1518,1814.1 L1519,1813.5 L1520,1812.9 L1521,1812.1 L1522,1811.4 L1523,1810.5 L1524,1810.5 L1525,1810.1 L1526,1810.9 L1527,1810.7 L1528,1811.2 L1529,1811 L1530,1811.4 L1531,1811.8 L1532,1812.4 L1533,1812.7 L1534,1812.9 L1535,1813.2 L1536,1813.7 L1537,1814.1 L1538,1814.6 L1539,1814.8 L1540,1815.4 L1541,1816.2 L1542,1817.2 L1543,1817.9 L1544,1818.5 L1545,1819.2 L1546,1820.3 L1547,1821 L1548,1822.1 L1549,1822.9 L1550,1824 L1551,1824.8 L1552,1825.4 L1553,1826 L1554,1826.6 L1555,1827.3 L1556,1828.3 L1557,1829.1 L1558,1830.2 L1559,1830.9 L1560,1831.8 L1561,1832.5 L1562,1833.1 L1563,1834 L1564,1834.3 L1565,1835.4 L1566,1836.1 L1567,1837 L1568,1837.4 L1569,1837.7 L1570,1838.5 L1571,1839.3 L1572,1840.3 L1573,1841 L1574,1841.8 L1575,1842 L1576,1842.7 L1577,1843.3 L1578,1844.2 L1579,1844.7 L1580,1845.2 L1581,1845.9 L1582,1846.5 L1583,1846.9 L1584,1847.3 L1585,1848 L1586,1848.4 L1587,1849.1 L1588,1849.7 L1589,1850.3 L1590,1850.4 L1591,1850.5 L1592,1850.4 L1593,1850.5 L1594,1851 L1595,1851.6 L1596,1852.3 L1597,1852.6 L1598,1853 L1599,1853 L1600,1853.5 L1601,1853.6 L1602,1853.7 L1603,1853.8 L1604,1854.1 L1605,1854.6 L1606,1854.9 L1607,1855.2 L1608,1855.6 L1609,1855.8 L1610,1856.2 L1611,1856.4 L1612,1856.6 L1613,1856.4 L1614,1856.4 L1615,1856.3 L1616,1857 L1617,1857.2 L1618,1857.8 L1619,1857.4 L1620,1857.9 L1621,1858.3 L1622,1859 L1623,1859.4 L1624,1859.5 L1625,1859.7 L1626,1859.4 L1627,1859.3 L1628,1858.9 L1629,1858.9 L1630,1859.2 L1631,1859.8 L1632,1860 L1633,1860.3 L1634,1859.8 L1635,1859.7 L1636,1859.6 L1637,1860.4 L1638,1860.4 L1639,1860.3 L1640,1859.8 L1641,1860.4 L1642,1860.6 L1643,1860.9 L1644,1860.6 L1645,1860.5 L1646,1860.4 L1647,1860.7 L1648,1860.6 L1649,1860.7 L1650,1860.3 L1651,1860.1 L1652,1860.3 L1653,1860.6 L1654,1860.4 L1655,1860 L1656,1859.7 L1657,1859.5 L1658,1859.4 L1659,1858.7 L1660,1858.8 L1661,1858.1 L1662,1857.7 L1663,1857.4 L1664,1857.3 L1665,1857.1 L1666,1856.4 L1667,1856.3 L1668,1855.9 L1669,1855.5 L1670,1855.2 L1671,1855.1 L1672,1855.2 L1673,1854.3 L1674,1853.2 L1675,1851.8 L1676,1851 L1677,1850.1 L1678,1849.9 L1679,1849.4 L1680,1848.8 L1681,1847.6 L1682,1846.3 L1683,1845.8 L1684,1844.8 L1685,1844 L1686,1842.2 L1687,1840.7 L1688,1839.3 L1689,1838 L1690,1836.8 L1691,1835.1 L1692,1833.3 L1693,1831.7 L1694,1830 L1695,1828.8 L1696,1827.3 L1697,1826.1 L1698,1824.8 L1699,1823.3 L1700,1822.2 L1701,1820.2 L1702,1818.6 L1703,1817.2 L1704,1816.1 L1705,1814.8 L1706,1813.4 L1707,1811.9 L1708,1810.4 L1709,1809 L1710,1807.8 L1711,1806.6 L1712,1805.6 L1713,1804.4 L1714,1802.7 L1715,1800.7 L1716,1799.3 L1717,1798.5 L1718,1797.9 L1719,1796.3 L1720,1795.4 L1721,1794.7 L1722,1794.8 L1723,1794.8 L1724,1794.3 L1725,1793.9 L1726,1793.5 L1727,1793.4 L1728,1793.4 L1729,1792.9 L1730,1792.9 L1731,1793.1 L1732,1793.7 L1733,1794.4 L1734,1795.2 L1735,1795.9 L1736,1796.7 L1737,1797.8 L1738,1799.4 L1739,1801 L1740,1802.5 L1741,1803.7 L1742,1804.9 L1743,1806.9 L1744,1809.2 L1745,1812.2 L1746,1814.6 L1747,1817.6 L1748,1820.6 L1749,1823.9 L1750,1827.7 L1751,1831.3 L1752,1835 L1753,1838.4 L1754,1842.1 L1755,1845.8 L1756,1849.2 L1757,1852.2 L1758,1855.4 L1759,1858.2 L1760,1860.5 L1761,1862.7 L1762,1864.5 L1763,1866.6 L1764,1867.8 L1765,1869.5 L1766,1871.1 L1767,1872.8 L1768,1873.7 L1769,1874.4 L1770,1875.2 L1771,1876 L1772,1877.3 L1773,1878 L1774,1879.2 L1775,1879.8 L1776,1880.6 L1777,1881.3 L1778,1882 L1779,1882.6 L1780,1883.3 L1781,1883.8 L1782,1884.9 L1783,1885.3 L1784,1885.9 L1785,1886.7 L1786,1887.6 L1787,1888.3 L1788,1888.3 L1789,1888.6 L1790,1889.3 L1791,1889.7 L1792,1890.2 L1793,1890.3 L1794,1890.7 L1795,1891 L1796,1891.6 L1797,1892.1 L1798,1892.6 L1799,1892.8 L1800,1893 L1801,1893.1 L1802,1893 L1803,1892.9 L1804,1893.3 L1805,1893.7 L1806,1894.1 L1807,1894.7 L1808,1895.3 L1809,1895.8 L1810,1895.6 L1811,1895.5 L1812,1895 L1813,1895 L1814,1895.1 L1815,1895.4 L1816,1896 L1817,1895.9 L1818,1895.9 L1819,1895.8 L1820,1895.6 L1821,1895.7 L1822,1895.5 L1823,1895.6 L1824,1895.2 L1825,1895.1 L1826,1895.2 L1827,1895.7 L1828,1895.9 L1829,1895.8 L1830,1895.9 L1831,1895.7 L1832,1896 L1833,1895.7 L1834,1895.6 L1835,1895.3 L1836,1895.5 L1837,1895.6 L1838,1896.1 L1839,1896 L1840,1895.9 L1841,1895.6 L1842,1895.7 L1843,1895.6 L1844,1895.4 L1845,1895.2 L1846,1895 L1847,1895.4 L1848,1895.7 L1849,1896.5 L1850,1896 L1851,1895.6 L1852,1895.3 L1853,1895.5 L1854,1895.9 L1855,1895.4 L1856,1895.4 L1857,1895.2 L1858,1895.5 L1859,1895.4 L1860,1895.4 L1861,1895.7 L1862,1895.7 L1863,1895.4 L1864,1895 L1865,1894.7 L1866,1895.2 L1867,1895.7 L1868,1896 L1869,1895.9 L1870,1895.5 L1871,1895.8 L1872,1895.5 L1873,1895.8 L1874,1895.5 L1875,1896 L1876,1896.3 L1877,1896.1 L1878,1895.9 L1879,1895.8 L1880,1896.2 L1881,1896.3 L1882,1895.7 L1883,1895.5 L1884,1895.7 L1885,1896.1 L1886,1896.1 L1887,1896.3 L1888,1896.3 L1889,1896.3 L1890,1895.6 L1891,1895.2 L1892,1895 L1893,1895.2 L1894,1895.8 L1895,1895.5 L1896,1895.4 L1897,1895.2 L1898,1895.7 L1899,1895.7 L1900,1895.7 L1901,1895.8 L1902,1896 L1903,1895.9 L1904,1895.9 L1905,1896 L1906,1895.9 L1907,1895.9 L1908,1895.4 L1909,1896 L1910,1895.7 L1911,1895.8 L1912,1895.6 L1913,1895.9 L1914,1896.3 L1915,1896.1 L1916,1896.2 L1917,1896.4 L1918,1895.7 L1919,1895.4 L1920,1894.9 L1921,1895.1 L1922,1895.5 L1923,1895.9 L1924,1895.9 L1925,1896 L1926,1895.7 L1927,1895.9 L1928,1895.7 L1929,1895.7 L1930,1895.5 L1931,1895.5 L1932,1895.4 L1933,1895.8 L1934,1895.6 L1935,1895.7 L1936,1895.5 L1937,1895.6 L1938,1895.9 L1939,1895.7 L1940,1895.8 L1941,1895.7 L1942,1895.6 L1943,1895.7 L1944,1895.9 L1945,1896.4 L1946,1896.2 L1947,1896.2 L1948,1895.5 L1949,1896 L1950,1895.4 L1951,1895.7 L1952,1895.3 L1953,1895.8 L1954,1895.7 L1955,1895.7 L1956,1895.4 L1957,1895.5 L1958,1895.4 L1959,1895.7 L1960,1895.8 L1961,1895.7 L1962,1896 L1963,1896.3 L1964,1896.2 L1965,1895.8 L1966,1895.6 L1967,1895.7 L1968,1895.7 L1969,1895.7 L1970,1895.9 L1971,1895.9 L1972,1896 L1973,1895.8 L1974,1896.2 L1975,1895.8 L1976,1895.7 L1977,1895.3 L1978,1895.4 L1979,1895.1 L1980,1895 L1981,1895.5 L1982,1896.1 L1983,1896.5 L1984,1896.1 L1985,1895.7 L1986,1895.7 L1987,1895.7 L1988,1896 L1989,1895.9 L1990,1896.3 L1991,1896.3 L1992,1896.4 L1993,1896.4 L1994,1896 L1995,1895.9 L1996,1895.1 L1997,1895.3 L1998,1895 L1999,1895.7 L2000,1895.7 L2001,1895.8 L2002,1895.7 L2003,1895.3 L2004,1895.2 L2005,1895 L2006,1895.6 L2007,1895.6 L2008,1895.5 L2009,1895.5 L2010,1895.1 L2011,1895.3 L2012,1895.3 L2013,1895.5 L2014,1895.5 L2015,1895.3 L2016,1895.7 L2017,1896 L2018,1896.2 L2019,1895.9 L2020,1895.6 L2021,1895.6 L2022,1895.8 L2023,1895.9 L2024,1895.8 L2025,1895.4 L2026,1895.2 L2027,1895.2 L2028,1895.2 L2029,1895.5 L2030,1896 L2031,1896 L2032,1895.9 L2033,1895.5 L2034,1895.9 L2035,1896.1 L2036,1896 L2037,1895.7 L2038,1895.4 L2039,1895.6 L2040,1895.6 L2041,1895.5 L2042,1895.6 L2043,1895.6 L2044,1895.9 L2045,1895.9 L2046,1895.9 L2047,1895.8 L2048,1895.8 L2049,1895.5 L2050,1895.7 L2051,1895.7 L2052,1896 L2053,1895.5 L2054,1895.5 L2055,1895.2 L2056,1895.8 L2057,1895.7 L2058,1895.8 L2059,1895.4 L2060,1895.3 L2061,1895.6 L2062,1895.3 L2063,1895.1 L2064,1895 L2065,1895.4 L2066,1895.6 L2067,1895.2 L2068,1895.2 L2069,1895.6 L2070,1895.9" fill="none" stroke="#2a4a9a" stroke-width="1.7" stroke-linejoin="round" stroke-linecap="round" />
<path d="M1242,2016.1 L1243,2016.2 L1244,2016.4 L1245,2016.1 L1246,2016.1 L1247,2015.9 L1248,2015.7 L1249,2015.3 L1250,2015.6 L1251,2016 L1252,2016.2 L1253,2016.5 L1254,2016.6 L1255,2016.6 L1256,2016.3 L1257,2015.8 L1258,2016 L1259,2016.2 L1260,2016.8 L1261,2016.7 L1262,2016.5 L1263,2015.9 L1264,2016 L1265,2015.9 L1266,2016.2 L1267,2016.2 L1268,2016.1 L1269,2016.2 L1270,2016 L1271,2016.4 L1272,2016.3 L1273,2016.6 L1274,2016.2 L1275,2016.5 L1276,2016.1 L1277,2016.6 L1278,2016.2 L1279,2016.7 L1280,2016 L1281,2016.1 L1282,2015.7 L1283,2015.9 L1284,2015.7 L1285,2016 L1286,2016.3 L1287,2016.9 L1288,2016.6 L1289,2016.8 L1290,2016.4 L1291,2016.7 L1292,2016.6 L1293,2017.1 L1294,2017.2 L1295,2017.3 L1296,2017 L1297,2016.6 L1298,2016.1 L1299,2016.4 L1300,2016.5 L1301,2016.7 L1302,2016.4 L1303,2016.4 L1304,2016.4 L1305,2016.9 L1306,2017 L1307,2017 L1308,2016.8 L1309,2016.8 L1310,2017.1 L1311,2017.1 L1312,2016.9 L1313,2016.2 L1314,2016.4 L1315,2016.5 L1316,2017.1 L1317,2016.9 L1318,2017 L1319,2016.6 L1320,2016.4 L1321,2016.3 L1322,2016.5 L1323,2016.5 L1324,2016.5 L1325,2016.1 L1326,2016.7 L1327,2016.4 L1328,2016.8 L1329,2016.7 L1330,2017.1 L1331,2017.2 L1332,2016.9 L1333,2017 L1334,2016.7 L1335,2017 L1336,2016.9 L1337,2017 L1338,2016.8 L1339,2016.5 L1340,2016.4 L1341,2016.3 L1342,2017 L1343,2017 L1344,2016.8 L1345,2016.6 L1346,2016.7 L1347,2017.6 L1348,2017.7 L1349,2018.1 L1350,2017.4 L1351,2017.2 L1352,2016.8 L1353,2016.9 L1354,2016.7 L1355,2016.9 L1356,2016.8 L1357,2016.9 L1358,2016.7 L1359,2016.7 L1360,2017 L1361,2017 L1362,2016.9 L1363,2017.1 L1364,2017.1 L1365,2017.4 L1366,2017 L1367,2016.6 L1368,2016.5 L1369,2016.2 L1370,2016.4 L1371,2016.3 L1372,2016.6 L1373,2016.7 L1374,2016.9 L1375,2016.8 L1376,2017 L1377,2016.8 L1378,2017.4 L1379,2017.4 L1380,2017.3 L1381,2017.1 L1382,2016.9 L1383,2017.1 L1384,2016.6 L1385,2016.4 L1386,2016.3 L1387,2016.5 L1388,2016.8 L1389,2016.8 L1390,2016.6 L1391,2016.1 L1392,2016.3 L1393,2016.8 L1394,2017 L1395,2016.9 L1396,2017 L1397,2016.8 L1398,2016.6 L1399,2016.4 L1400,2016.9 L1401,2016.7 L1402,2016.9 L1403,2016.4 L1404,2016.3 L1405,2016.1 L1406,2016.5 L1407,2016.6 L1408,2016.4 L1409,2015.7 L1410,2015.4 L1411,2015.4 L1412,2015.8 L1413,2015.8 L1414,2016.1 L1415,2016 L1416,2015.9 L1417,2015.7 L1418,2015.8 L1419,2016.3 L1420,2016.3 L1421,2016 L1422,2015.5 L1423,2015.5 L1424,2015.3 L1425,2015 L1426,2014.4 L1427,2014.3 L1428,2014.3 L1429,2014 L1430,2013 L1431,2012.1 L1432,2011.4 L1433,2010.4 L1434,2010 L1435,2009.7 L1436,2009.6 L1437,2008.8 L1438,2008.5 L1439,2007.8 L1440,2007.3 L1441,2006.1 L1442,2005.5 L1443,2005 L1444,2005.2 L1445,2004.6 L1446,2004 L1447,2003.2 L1448,2002.5 L1449,2001.6 L1450,2000.8 L1451,2000 L1452,1999.3 L1453,1998.1 L1454,1997.6 L1455,1997.1 L1456,1997.2 L1457,1996.8 L1458,1995.8 L1459,1994.6 L1460,1993.6 L1461,1993 L1462,1992.6 L1463,1991.8 L1464,1990.9 L1465,1990.3 L1466,1989.2 L1467,1988.8 L1468,1987.4 L1469,1986.7 L1470,1985.2 L1471,1984.5 L1472,1983.1 L1473,1982 L1474,1980.8 L1475,1980.1 L1476,1979.2 L1477,1978.1 L1478,1976.7 L1479,1975.4 L1480,1974.5 L1481,1973.6 L1482,1972.7 L1483,1971.6 L1484,1970.6 L1485,1969.4 L1486,1968 L1487,1966.6 L1488,1965.4 L1489,1964.4 L1490,1963.2 L1491,1961.8 L1492,1960.7 L1493,1959.4 L1494,1958.1 L1495,1956.7 L1496,1955.9 L1497,1955.1 L1498,1953.7 L1499,1952.3 L1500,1950.8 L1501,1949.9 L1502,1948.4 L1503,1947.5 L1504,1946.1 L1505,1945.1 L1506,1943.5 L1507,1942.4 L1508,1941.7 L1509,1941 L1510,1940.4 L1511,1939.5 L1512,1938.9 L1513,1937.8 L1514,1936.6 L1515,1935.6 L1516,1934.9 L1517,1934.4 L1518,1933.9 L1519,1933.5 L1520,1933 L1521,1932.2 L1522,1931.6 L1523,1931.6 L1524,1931.1 L1525,1931 L1526,1930.9 L1527,1931.7 L1528,1932.1 L1529,1932.2 L1530,1932.3 L1531,1932.6 L1532,1933.1 L1533,1933.2 L1534,1933.8 L1535,1933.9 L1536,1934.3 L1537,1934.9 L1538,1935.6 L1539,1936 L1540,1936.2 L1541,1936.5 L1542,1937.2 L1543,1938.2 L1544,1939.3 L1545,1940.3 L1546,1941.1 L1547,1941.8 L1548,1942.5 L1549,1943.4 L1550,1944.3 L1551,1945.4 L1552,1946.6 L1553,1947.6 L1554,1948.5 L1555,1949 L1556,1949.4 L1557,1950 L1558,1950.9 L1559,1951.6 L1560,1952.7 L1561,1953.3 L1562,1954.4 L1563,1955.3 L1564,1956.2 L1565,1957.2 L1566,1957.5 L1567,1957.8 L1568,1958 L1569,1958.9 L1570,1959.7 L1571,1961 L1572,1961.4 L1573,1961.8 L1574,1962 L1575,1962.9 L1576,1963.8 L1577,1964.5 L1578,1965.3 L1579,1966.3 L1580,1967 L1581,1967.4 L1582,1968.3 L1583,1968.2 L1584,1968.9 L1585,1968.6 L1586,1969.8 L1587,1969.9 L1588,1970.3 L1589,1970.9 L1590,1971.7 L1591,1972.5 L1592,1972.7 L1593,1973 L1594,1973.6 L1595,1974.5 L1596,1974.9 L1597,1975.5 L1598,1975.6 L1599,1975.7 L1600,1975.7 L1601,1976 L1602,1976.9 L1603,1977.1 L1604,1977.6 L1605,1978 L1606,1978.1 L1607,1978.3 L1608,1978.1 L1609,1978.5 L1610,1978.4 L1611,1978.8 L1612,1978.8 L1613,1979.3 L1614,1979.5 L1615,1980 L1616,1980.3 L1617,1980.3 L1618,1980.2 L1619,1980.6 L1620,1980.7 L1621,1981.2 L1622,1981 L1623,1981.2 L1624,1981.2 L1625,1981.4 L1626,1982.1 L1627,1982.6 L1628,1982.7 L1629,1982.1 L1630,1981.7 L1631,1982.2 L1632,1982.3 L1633,1982.5 L1634,1982.2 L1635,1982.4 L1636,1982.3 L1637,1982.1 L1638,1982.2 L1639,1982.6 L1640,1982.6 L1641,1982 L1642,1981.6 L1643,1981.5 L1644,1982 L1645,1982.4 L1646,1982.4 L1647,1982 L1648,1982 L1649,1982.1 L1650,1982.4 L1651,1982.3 L1652,1982 L1653,1981.7 L1654,1981.7 L1655,1982.1 L1656,1981.9 L1657,1981.6 L1658,1980.9 L1659,1980.8 L1660,1980.6 L1661,1980.5 L1662,1980 L1663,1979.4 L1664,1979.1 L1665,1978.9 L1666,1978.4 L1667,1977.9 L1668,1977.5 L1669,1976.9 L1670,1976.4 L1671,1975.7 L1672,1974.7 L1673,1973.9 L1674,1973.4 L1675,1973 L1676,1972.5 L1677,1971.5 L1678,1970.7 L1679,1970.1 L1680,1968.7 L1681,1968 L1682,1967.1 L1683,1965.9 L1684,1964.6 L1685,1963 L1686,1961.8 L1687,1960.4 L1688,1959.1 L1689,1957.6 L1690,1955.6 L1691,1953.9 L1692,1952.2 L1693,1950.9 L1694,1949.3 L1695,1947.8 L1696,1946.2 L1697,1944.5 L1698,1942.6 L1699,1941 L1700,1939.7 L1701,1938.1 L1702,1936.8 L1703,1935.5 L1704,1934.8 L1705,1933.3 L1706,1931.7 L1707,1929.7 L1708,1928.3 L1709,1926.5 L1710,1925.1 L1711,1923.8 L1712,1922.7 L1713,1921.5 L1714,1919.6 L1715,1918.4 L1716,1917.4 L1717,1916.6 L1718,1915.8 L1719,1915 L1720,1914.4 L1721,1913.5 L1722,1912.5 L1723,1911.5 L1724,1911.3 L1725,1911 L1726,1911.1 L1727,1910.6 L1728,1910 L1729,1909.9 L1730,1910.3 L1731,1910.8 L1732,1910.9 L1733,1911.4 L1734,1912.6 L1735,1914.1 L1736,1915 L1737,1915.6 L1738,1917 L1739,1918.4 L1740,1919.8 L1741,1921.2 L1742,1922.7 L1743,1924.9 L1744,1926.8 L1745,1929.7 L1746,1932.1 L1747,1934.5 L1748,1937.5 L1749,1941.1 L1750,1945.6 L1751,1949.5 L1752,1953.8 L1753,1957.2 L1754,1961.1 L1755,1964.6 L1756,1968.1 L1757,1971.7 L1758,1975 L1759,1978 L1760,1979.9 L1761,1981.5 L1762,1983.5 L1763,1985.4 L1764,1987.5 L1765,1989.1 L1766,1990.4 L1767,1991.7 L1768,1992.6 L1769,1993.8 L1770,1994.5 L1771,1995.4 L1772,1996.2 L1773,1997.3 L1774,1998.3 L1775,1999.1 L1776,1999.9 L1777,2000.5 L1778,2001.5 L1779,2002.3 L1780,2003.5 L1781,2004.2 L1782,2004.6 L1783,2005.2 L1784,2005.7 L1785,2006.1 L1786,2006.8 L1787,2007.4 L1788,2008.1 L1789,2008.5 L1790,2009.4 L1791,2010 L1792,2010.3 L1793,2010.6 L1794,2011 L1795,2011.4 L1796,2011.7 L1797,2012.1 L1798,2012.5 L1799,2012.7 L1800,2013.6 L1801,2013.9 L1802,2014.2 L1803,2014.1 L1804,2014.3 L1805,2014.7 L1806,2014.6 L1807,2015 L1808,2015.4 L1809,2015.8 L1810,2015.9 L1811,2016 L1812,2016 L1813,2015.5 L1814,2015.2 L1815,2015.6 L1816,2015.8 L1817,2015.9 L1818,2015.6 L1819,2016.1 L1820,2015.9 L1821,2016.1 L1822,2015.9 L1823,2015.9 L1824,2015.7 L1825,2015.4 L1826,2015.8 L1827,2015.9 L1828,2016 L1829,2015.7 L1830,2015.7 L1831,2015.6 L1832,2016.1 L1833,2016 L1834,2016.1 L1835,2015.8 L1836,2015.7 L1837,2015.4 L1838,2015.2 L1839,2015.4 L1840,2015.7 L1841,2015.9 L1842,2015.7 L1843,2016 L1844,2016.3 L1845,2016.3 L1846,2016.4 L1847,2016.5 L1848,2016.4 L1849,2016.2 L1850,2016.2 L1851,2016.2 L1852,2016.1 L1853,2015.9 L1854,2016.1 L1855,2016.1 L1856,2016 L1857,2016 L1858,2016 L1859,2016.1 L1860,2016.4 L1861,2016.8 L1862,2017 L1863,2016.5 L1864,2016.2 L1865,2015.6 L1866,2015.8 L1867,2015.8 L1868,2016.1 L1869,2015.6 L1870,2015.7 L1871,2015.8 L1872,2015.9 L1873,2015.8 L1874,2015.7 L1875,2016.4 L1876,2016.5 L1877,2016.6 L1878,2016.3 L1879,2016 L1880,2016.1 L1881,2015.6 L1882,2016.1 L1883,2016 L1884,2016.2 L1885,2016.1 L1886,2016.3 L1887,2016.2 L1888,2016 L1889,2015.9 L1890,2015.8 L1891,2015.8 L1892,2015.8 L1893,2016.3 L1894,2016.2 L1895,2016.1 L1896,2016 L1897,2016.5 L1898,2016.2 L1899,2016 L1900,2015.8 L1901,2016.2 L1902,2016.6 L1903,2016.2 L1904,2016.1 L1905,2015.6 L1906,2016.1 L1907,2016.1 L1908,2016.4 L1909,2015.9 L1910,2015.9 L1911,2015.9 L1912,2016.2 L1913,2016.3 L1914,2016.6 L1915,2016.4 L1916,2015.9 L1917,2015.5 L1918,2015.2 L1919,2015.6 L1920,2015.6 L1921,2015.8 L1922,2016.1 L1923,2016.4 L1924,2016.2 L1925,2016.1 L1926,2015.9 L1927,2016 L1928,2015.9 L1929,2015.8 L1930,2016.2 L1931,2016.2 L1932,2016.4 L1933,2016.1 L1934,2015.9 L1935,2015.7 L1936,2015.8 L1937,2015.8 L1938,2016 L1939,2016.1 L1940,2016.1 L1941,2016 L1942,2016.1 L1943,2016.2 L1944,2015.9 L1945,2015.8 L1946,2015.8 L1947,2015.9 L1948,2015.6 L1949,2015.5 L1950,2015.8 L1951,2015.8 L1952,2016 L1953,2015.5 L1954,2015.9 L1955,2015.6 L1956,2016.2 L1957,2015.7 L1958,2016.4 L1959,2016.4 L1960,2017 L1961,2016.7 L1962,2016.5 L1963,2015.8 L1964,2015.7 L1965,2015.9 L1966,2016 L1967,2015.9 L1968,2015.8 L1969,2016.4 L1970,2016.3 L1971,2016.5 L1972,2016.2 L1973,2016.3 L1974,2016.3 L1975,2016.1 L1976,2016 L1977,2015.7 L1978,2015.8 L1979,2016.1 L1980,2016.5 L1981,2016.3 L1982,2015.9 L1983,2015.2 L1984,2015.5 L1985,2015.8 L1986,2016.3 L1987,2016.4 L1988,2016.2 L1989,2016.4 L1990,2016.6 L1991,2016.6 L1992,2016.2 L1993,2016 L1994,2015.8 L1995,2015.8 L1996,2015.9 L1997,2016 L1998,2016 L1999,2015.6 L2000,2015.9 L2001,2015.8 L2002,2016.4 L2003,2016.6 L2004,2017.1 L2005,2016.7 L2006,2016.1 L2007,2015.6 L2008,2016 L2009,2016.4 L2010,2016.8 L2011,2016.6 L2012,2016.6 L2013,2016.5 L2014,2016.2 L2015,2016.1 L2016,2016 L2017,2016.2 L2018,2016.1 L2019,2015.9 L2020,2015.6 L2021,2015.6 L2022,2015.6 L2023,2015.4 L2024,2015.4 L2025,2015.8 L2026,2016.5 L2027,2016.7 L2028,2016.5 L2029,2015.8 L2030,2015.7 L2031,2015.4 L2032,2015.7 L2033,2015.8 L2034,2016.4 L2035,2016.5 L2036,2016.2 L2037,2016.1 L2038,2016.1 L2039,2015.8 L2040,2015.5 L2041,2015.5 L2042,2016.2 L2043,2016.4 L2044,2016.3 L2045,2015.7 L2046,2015.8 L2047,2016.1 L2048,2016.3 L2049,2016.2 L2050,2016.2 L2051,2016.3 L2052,2016.6 L2053,2016 L2054,2016.1 L2055,2016 L2056,2016.3 L2057,2016.2 L2058,2016 L2059,2016.1 L2060,2016 L2061,2015.9 L2062,2015.7 L2063,2015.6 L2064,2015.8 L2065,2015.8 L2066,2016.1 L2067,2016.2 L2068,2016.4 L2069,2016.1 L2070,2016" fill="none" stroke="#d8232a" stroke-width="1.7" stroke-linejoin="round" stroke-linecap="round" />
<path d="M1242,2136.6 L1243,2136.4 L1244,2136.6 L1245,2137.1 L1246,2137.8 L1247,2137.1 L1248,2136.8 L1249,2136.5 L1250,2136.8 L1251,2137 L1252,2137 L1253,2137.4 L1254,2137.1 L1255,2137.3 L1256,2137 L1257,2136.9 L1258,2136.8 L1259,2136.7 L1260,2137.2 L1261,2137.4 L1262,2137.5 L1263,2137.4 L1264,2137.4 L1265,2137.6 L1266,2137.3 L1267,2137.2 L1268,2137.1 L1269,2137.4 L1270,2137.3 L1271,2137.2 L1272,2137 L1273,2137 L1274,2136.9 L1275,2136.9 L1276,2137 L1277,2137.3 L1278,2138 L1279,2138.1 L1280,2138.2 L1281,2137.7 L1282,2138 L1283,2137.7 L1284,2138 L1285,2137.5 L1286,2137.8 L1287,2137.3 L1288,2137.2 L1289,2136.8 L1290,2136.6 L1291,2136.6 L1292,2136.7 L1293,2137 L1294,2137.2 L1295,2137.6 L1296,2137.5 L1297,2137.3 L1298,2137.2 L1299,2137.3 L1300,2137.7 L1301,2137.3 L1302,2137.3 L1303,2137.1 L1304,2137.5 L1305,2137.4 L1306,2137.9 L1307,2137.8 L1308,2138 L1309,2137.4 L1310,2137.3 L1311,2137.2 L1312,2137.6 L1313,2138 L1314,2137.8 L1315,2137.8 L1316,2137.3 L1317,2137.6 L1318,2137.6 L1319,2138.2 L1320,2138.3 L1321,2138.1 L1322,2138 L1323,2137.5 L1324,2137.6 L1325,2137.8 L1326,2138.2 L1327,2138.2 L1328,2137.6 L1329,2137.5 L1330,2137.6 L1331,2138.2 L1332,2137.8 L1333,2138.2 L1334,2137.8 L1335,2138.1 L1336,2137.6 L1337,2137.5 L1338,2137.3 L1339,2137.4 L1340,2137.8 L1341,2137.7 L1342,2137.9 L1343,2137.3 L1344,2137.7 L1345,2137.4 L1346,2137.6 L1347,2137.7 L1348,2137.6 L1349,2138.1 L1350,2138.1 L1351,2138.3 L1352,2137.7 L1353,2137.8 L1354,2138.2 L1355,2138.2 L1356,2138.3 L1357,2137.8 L1358,2137.8 L1359,2137.5 L1360,2137.4 L1361,2137.2 L1362,2137.4 L1363,2138.1 L1364,2138 L1365,2137.4 L1366,2137.1 L1367,2137.4 L1368,2138 L1369,2138 L1370,2137.5 L1371,2137.2 L1372,2137 L1373,2137.6 L1374,2137.9 L1375,2137.8 L1376,2137.5 L1377,2136.9 L1378,2137 L1379,2137.6 L1380,2137.7 L1381,2137.5 L1382,2137.3 L1383,2137.6 L1384,2137.3 L1385,2137.2 L1386,2137 L1387,2137.1 L1388,2137 L1389,2137.1 L1390,2137.2 L1391,2137.8 L1392,2137.4 L1393,2136.7 L1394,2135.9 L1395,2135.9 L1396,2136.4 L1397,2136.6 L1398,2136.6 L1399,2136.3 L1400,2136.1 L1401,2135.8 L1402,2135.8 L1403,2135.8 L1404,2135.4 L1405,2135.4 L1406,2135.1 L1407,2135.4 L1408,2135 L1409,2134.3 L1410,2133.8 L1411,2133.5 L1412,2133.3 L1413,2132.6 L1414,2132.2 L1415,2131.9 L1416,2131.9 L1417,2131.8 L1418,2131 L1419,2130.5 L1420,2130.1 L1421,2130.2 L1422,2130.6 L1423,2130.1 L1424,2129.8 L1425,2129 L1426,2128.8 L1427,2128.2 L1428,2128.1 L1429,2127.3 L1430,2127.2 L1431,2126.9 L1432,2126.8 L1433,2125.9 L1434,2125.4 L1435,2125 L1436,2124.8 L1437,2124.2 L1438,2123.6 L1439,2123.3 L1440,2122.4 L1441,2121.8 L1442,2120.9 L1443,2120.8 L1444,2119.8 L1445,2119.3 L1446,2118.3 L1447,2117.9 L1448,2117.5 L1449,2117 L1450,2116.1 L1451,2115.3 L1452,2114.7 L1453,2114.2 L1454,2113.4 L1455,2112.3 L1456,2111.7 L1457,2111.2 L1458,2110.8 L1459,2110.1 L1460,2109 L1461,2107.8 L1462,2106.6 L1463,2105.8 L1464,2105.1 L1465,2103.9 L1466,2103.2 L1467,2102.5 L1468,2101.8 L1469,2100.9 L1470,2099.7 L1471,2098.9 L1472,2097.8 L1473,2096.9 L1474,2096 L1475,2095 L1476,2093.4 L1477,2092.4 L1478,2091.3 L1479,2090.2 L1480,2088.7 L1481,2087.4 L1482,2086.5 L1483,2085.2 L1484,2084 L1485,2082.6 L1486,2081.6 L1487,2080.3 L1488,2078.9 L1489,2077.8 L1490,2077 L1491,2076.1 L1492,2074.8 L1493,2073.1 L1494,2071.9 L1495,2070.9 L1496,2069.5 L1497,2067.9 L1498,2066.7 L1499,2065.6 L1500,2064.6 L1501,2063 L1502,2061.8 L1503,2060.7 L1504,2059.3 L1505,2058 L1506,2056.7 L1507,2056.1 L1508,2055.4 L1509,2054.4 L1510,2053.6 L1511,2052 L1512,2051.1 L1513,2049.9 L1514,2049.4 L1515,2048.5 L1516,2047.6 L1517,2047.5 L1518,2046.9 L1519,2046.6 L1520,2045.4 L1521,2045 L1522,2044.9 L1523,2045.1 L1524,2044.8 L1525,2044.2 L1526,2044.1 L1527,2044.4 L1528,2044.9 L1529,2044.9 L1530,2045.4 L1531,2045.9 L1532,2046.5 L1533,2047 L1534,2047.2 L1535,2047.9 L1536,2048.5 L1537,2048.7 L1538,2049 L1539,2049.6 L1540,2050.8 L1541,2052 L1542,2052.5 L1543,2053.5 L1544,2054.1 L1545,2055.3 L1546,2056.2 L1547,2057.4 L1548,2058.6 L1549,2059.4 L1550,2060.6 L1551,2061.7 L1552,2063.5 L1553,2064.6 L1554,2065.9 L1555,2066.4 L1556,2067.1 L1557,2067.7 L1558,2068.9 L1559,2069.8 L1560,2070.7 L1561,2071.3 L1562,2072.7 L1563,2073.7 L1564,2074.5 L1565,2075 L1566,2076.1 L1567,2077.2 L1568,2078.5 L1569,2079.1 L1570,2080 L1571,2080.7 L1572,2081.7 L1573,2082.3 L1574,2082.9 L1575,2083.3 L1576,2084.5 L1577,2085.3 L1578,2086 L1579,2086.2 L1580,2086.8 L1581,2087.3 L1582,2087.8 L1583,2088.2 L1584,2088.6 L1585,2089.1 L1586,2089.8 L1587,2090.5 L1588,2091.2 L1589,2091.7 L1590,2092.2 L1591,2092.6 L1592,2093.3 L1593,2093.9 L1594,2094.4 L1595,2094.8 L1596,2095.3 L1597,2095.9 L1598,2096.1 L1599,2096.5 L1600,2096.5 L1601,2096.9 L1602,2097.3 L1603,2097.4 L1604,2097.8 L1605,2097.5 L1606,2098.2 L1607,2098.3 L1608,2099.1 L1609,2099.4 L1610,2099.9 L1611,2099.9 L1612,2100.1 L1613,2100.2 L1614,2100.1 L1615,2100.5 L1616,2100.9 L1617,2101.7 L1618,2101.5 L1619,2101.1 L1620,2101.3 L1621,2101.4 L1622,2102 L1623,2102 L1624,2102.7 L1625,2103 L1626,2102.9 L1627,2102.5 L1628,2102.1 L1629,2102.3 L1630,2103.2 L1631,2103.6 L1632,2104.1 L1633,2103.6 L1634,2103.5 L1635,2103 L1636,2102.7 L1637,2102.4 L1638,2102.6 L1639,2102.5 L1640,2102.8 L1641,2102.7 L1642,2103.1 L1643,2103 L1644,2103 L1645,2102.8 L1646,2103 L1647,2103.1 L1648,2103 L1649,2102.6 L1650,2102.1 L1651,2102.1 L1652,2102.1 L1653,2102.8 L1654,2102.9 L1655,2103.1 L1656,2102.3 L1657,2102.1 L1658,2102 L1659,2102 L1660,2101.7 L1661,2101 L1662,2100.6 L1663,2100.2 L1664,2099.9 L1665,2099.5 L1666,2099.6 L1667,2099.4 L1668,2099.1 L1669,2098.3 L1670,2097.8 L1671,2097 L1672,2096.3 L1673,2095.4 L1674,2094.8 L1675,2093.9 L1676,2093.3 L1677,2092.4 L1678,2091.6 L1679,2090.1 L1680,2089.2 L1681,2088.4 L1682,2087.2 L1683,2086.1 L1684,2084.4 L1685,2083.6 L1686,2082.3 L1687,2081.3 L1688,2079.7 L1689,2077.9 L1690,2076.2 L1691,2074.2 L1692,2072.8 L1693,2070.8 L1694,2069.2 L1695,2067.5 L1696,2065.9 L1697,2064.8 L1698,2063.4 L1699,2062.3 L1700,2059.9 L1701,2058.2 L1702,2056.4 L1703,2055.1 L1704,2053.7 L1705,2052.3 L1706,2050.7 L1707,2049 L1708,2047.2 L1709,2045.8 L1710,2044.6 L1711,2043.4 L1712,2041.9 L1713,2040.6 L1714,2039.2 L1715,2038.1 L1716,2037 L1717,2035.8 L1718,2034.8 L1719,2033.7 L1720,2032.6 L1721,2031.9 L1722,2031.4 L1723,2031.2 L1724,2030.6 L1725,2029.7 L1726,2029.2 L1727,2029.2 L1728,2029.7 L1729,2030 L1730,2029.8 L1731,2029.8 L1732,2030.4 L1733,2031.3 L1734,2032.2 L1735,2032.8 L1736,2033.6 L1737,2034.4 L1738,2035.5 L1739,2037.2 L1740,2038.7 L1741,2040.4 L1742,2042.2 L1743,2044.6 L1744,2047 L1745,2049.4 L1746,2051.9 L1747,2055.3 L1748,2058.5 L1749,2061.7 L1750,2065.3 L1751,2069 L1752,2073 L1753,2076.4 L1754,2080 L1755,2084 L1756,2087.8 L1757,2091.6 L1758,2094.5 L1759,2097.2 L1760,2098.9 L1761,2101.3 L1762,2103.3 L1763,2105.4 L1764,2107.1 L1765,2108.8 L1766,2110.2 L1767,2111.7 L1768,2112.7 L1769,2114.3 L1770,2115.1 L1771,2116.3 L1772,2116.7 L1773,2117.8 L1774,2119.1 L1775,2120.3 L1776,2121.2 L1777,2121.6 L1778,2122.1 L1779,2122.6 L1780,2123.7 L1781,2124.9 L1782,2125.6 L1783,2126.3 L1784,2127 L1785,2127.4 L1786,2127.8 L1787,2128 L1788,2128.8 L1789,2129.2 L1790,2129.7 L1791,2130.2 L1792,2130.8 L1793,2131.3 L1794,2131.9 L1795,2132 L1796,2132.4 L1797,2132.7 L1798,2133.1 L1799,2133.2 L1800,2133.3 L1801,2133.5 L1802,2134 L1803,2134.1 L1804,2134.6 L1805,2134.9 L1806,2135.1 L1807,2135.3 L1808,2135.3 L1809,2135.7 L1810,2135.7 L1811,2136.1 L1812,2136.4 L1813,2136.7 L1814,2137 L1815,2137.4 L1816,2137.3 L1817,2136.8 L1818,2136.8 L1819,2136.7 L1820,2136.9 L1821,2136.3 L1822,2136.3 L1823,2136.2 L1824,2136.5 L1825,2136.7 L1826,2136.9 L1827,2136.9 L1828,2136.9 L1829,2137 L1830,2136.6 L1831,2136.6 L1832,2136.7 L1833,2136.6 L1834,2136.7 L1835,2136.4 L1836,2137.1 L1837,2137.3 L1838,2137.5 L1839,2137.2 L1840,2137.2 L1841,2137.3 L1842,2136.9 L1843,2136.8 L1844,2137 L1845,2137.4 L1846,2137.5 L1847,2137.1 L1848,2137 L1849,2136.8 L1850,2136.8 L1851,2136.8 L1852,2136.2 L1853,2136.3 L1854,2136.6 L1855,2137 L1856,2136.9 L1857,2136.8 L1858,2137.2 L1859,2136.9 L1860,2136.9 L1861,2136.3 L1862,2136.2 L1863,2135.8 L1864,2136.2 L1865,2136 L1866,2136.5 L1867,2136.4 L1868,2137.2 L1869,2136.9 L1870,2136.8 L1871,2136.4 L1872,2136.5 L1873,2136.4 L1874,2136.7 L1875,2136.6 L1876,2136.9 L1877,2136.6 L1878,2136.6 L1879,2136.5 L1880,2136.7 L1881,2137 L1882,2136.5 L1883,2136.1 L1884,2135.8 L1885,2135.8 L1886,2136.2 L1887,2136.2 L1888,2136.7 L1889,2136.7 L1890,2137 L1891,2136.8 L1892,2136.8 L1893,2136.7 L1894,2136.9 L1895,2137.2 L1896,2137 L1897,2136.8 L1898,2136.5 L1899,2136.2 L1900,2136.3 L1901,2136.3 L1902,2136.6 L1903,2136.5 L1904,2136.8 L1905,2137.1 L1906,2137 L1907,2137.2 L1908,2137.5 L1909,2137.7 L1910,2137.3 L1911,2137 L1912,2137 L1913,2137 L1914,2136.8 L1915,2136.8 L1916,2136.7 L1917,2136.9 L1918,2136.9 L1919,2136.8 L1920,2136.9 L1921,2136.2 L1922,2136.5 L1923,2136.4 L1924,2136.4 L1925,2136.1 L1926,2136.1 L1927,2137 L1928,2136.9 L1929,2137.2 L1930,2136.6 L1931,2136.9 L1932,2136.6 L1933,2136.7 L1934,2136.8 L1935,2136.9 L1936,2136.9 L1937,2137 L1938,2137 L1939,2136.8 L1940,2136.9 L1941,2136.6 L1942,2136.6 L1943,2135.8 L1944,2135.8 L1945,2135.9 L1946,2136.4 L1947,2136.9 L1948,2136.8 L1949,2137.1 L1950,2136.4 L1951,2136.6 L1952,2136.4 L1953,2136.9 L1954,2136.9 L1955,2137.1 L1956,2136.7 L1957,2136.4 L1958,2136.5 L1959,2136.9 L1960,2137.4 L1961,2137.2 L1962,2136.7 L1963,2136.3 L1964,2136.5 L1965,2136.6 L1966,2136.7 L1967,2136.5 L1968,2136.5 L1969,2136.7 L1970,2137 L1971,2137.4 L1972,2137 L1973,2137 L1974,2136.7 L1975,2137.1 L1976,2137.1 L1977,2136.9 L1978,2136.7 L1979,2136.5 L1980,2136.4 L1981,2136.3 L1982,2136.5 L1983,2136.6 L1984,2136.9 L1985,2136.6 L1986,2136.7 L1987,2136.4 L1988,2136.5 L1989,2136.6 L1990,2137 L1991,2136.7 L1992,2136.8 L1993,2136.7 L1994,2137 L1995,2136.8 L1996,2136.7 L1997,2136.9 L1998,2136.8 L1999,2136.4 L2000,2136.3 L2001,2136.4 L2002,2136.6 L2003,2136.7 L2004,2136.9 L2005,2137.4 L2006,2137.3 L2007,2137.1 L2008,2137.3 L2009,2137.1 L2010,2137 L2011,2136.8 L2012,2136.9 L2013,2136.3 L2014,2136.2 L2015,2136.5 L2016,2137.3 L2017,2137.4 L2018,2137.2 L2019,2137.2 L2020,2137.1 L2021,2137.1 L2022,2136.9 L2023,2136.9 L2024,2136.7 L2025,2137.1 L2026,2136.8 L2027,2136.5 L2028,2136.1 L2029,2136.3 L2030,2136.8 L2031,2136.5 L2032,2136.8 L2033,2136.5 L2034,2137 L2035,2136.3 L2036,2136.5 L2037,2136.3 L2038,2136.8 L2039,2137.4 L2040,2137.8 L2041,2137.7 L2042,2137 L2043,2136.8 L2044,2137 L2045,2137.3 L2046,2137.3 L2047,2136.9 L2048,2137 L2049,2137.1 L2050,2137.3 L2051,2137.3 L2052,2136.8 L2053,2136.6 L2054,2136.3 L2055,2136.7 L2056,2136.8 L2057,2137.1 L2058,2136.9 L2059,2137 L2060,2136.8 L2061,2137.1 L2062,2136.8 L2063,2136.6 L2064,2136.5 L2065,2136.4 L2066,2136.6 L2067,2136.4 L2068,2136.4 L2069,2136.5 L2070,2136.6" fill="none" stroke="#000000" stroke-width="1.9" stroke-linejoin="round" stroke-linecap="round" />
<line x1="1530.8" y1="1674.8" x2="1530.8" y2="1709.5" stroke="#111" stroke-width="1.8" />
<line x1="1725.6" y1="1656.8" x2="1725.6" y2="1693.2" stroke="#111" stroke-width="1.8" />
<line x1="1530.8" y1="1794.5" x2="1530.8" y2="1830" stroke="#111" stroke-width="1.8" />
<line x1="1725.6" y1="1775.8" x2="1725.6" y2="1811.4" stroke="#111" stroke-width="1.8" />
<line x1="1530.8" y1="1913.4" x2="1530.8" y2="1949" stroke="#111" stroke-width="1.8" />
<line x1="1728.6" y1="1894.7" x2="1728.6" y2="1929.7" stroke="#111" stroke-width="1.8" />
<line x1="1523.7" y1="2029" x2="1523.7" y2="2065.3" stroke="#111" stroke-width="1.8" />
<line x1="1729" y1="2014.4" x2="1729" y2="2051" stroke="#111" stroke-width="1.8" />
<rect x="1241" y="1636.5" width="829.5" height="622.5" fill="none" stroke="#000" stroke-width="1.8" />
<line x1="1241" y1="2259" x2="1241" y2="2269.5" stroke="#000" stroke-width="1.8" />
<line x1="1406.9" y1="2259" x2="1406.9" y2="2269.5" stroke="#000" stroke-width="1.8" />
<line x1="1572.8" y1="2259" x2="1572.8" y2="2269.5" stroke="#000" stroke-width="1.8" />
<line x1="1738.7" y1="2259" x2="1738.7" y2="2269.5" stroke="#000" stroke-width="1.8" />
<line x1="1904.6" y1="2259" x2="1904.6" y2="2269.5" stroke="#000" stroke-width="1.8" />
<line x1="2070.5" y1="2259" x2="2070.5" y2="2269.5" stroke="#000" stroke-width="1.8" />
<line x1="1282.5" y1="2259" x2="1282.5" y2="2265" stroke="#000" stroke-width="1.8" />
<line x1="1324" y1="2259" x2="1324" y2="2265" stroke="#000" stroke-width="1.8" />
<line x1="1365.4" y1="2259" x2="1365.4" y2="2265" stroke="#000" stroke-width="1.8" />
<line x1="1448.4" y1="2259" x2="1448.4" y2="2265" stroke="#000" stroke-width="1.8" />
<line x1="1489.8" y1="2259" x2="1489.8" y2="2265" stroke="#000" stroke-width="1.8" />
<line x1="1531.3" y1="2259" x2="1531.3" y2="2265" stroke="#000" stroke-width="1.8" />
<line x1="1614.3" y1="2259" x2="1614.3" y2="2265" stroke="#000" stroke-width="1.8" />
<line x1="1655.8" y1="2259" x2="1655.8" y2="2265" stroke="#000" stroke-width="1.8" />
<line x1="1697.2" y1="2259" x2="1697.2" y2="2265" stroke="#000" stroke-width="1.8" />
<line x1="1780.2" y1="2259" x2="1780.2" y2="2265" stroke="#000" stroke-width="1.8" />
<line x1="1821.7" y1="2259" x2="1821.7" y2="2265" stroke="#000" stroke-width="1.8" />
<line x1="1863.1" y1="2259" x2="1863.1" y2="2265" stroke="#000" stroke-width="1.8" />
<line x1="1946.1" y1="2259" x2="1946.1" y2="2265" stroke="#000" stroke-width="1.8" />
<line x1="1987.6" y1="2259" x2="1987.6" y2="2265" stroke="#000" stroke-width="1.8" />
<line x1="2029" y1="2259" x2="2029" y2="2265" stroke="#000" stroke-width="1.8" />
<text x="1241" y="2315" font-size="46.5" fill="#000" text-anchor="middle" font-weight="normal"  stroke="#000" stroke-width="0.4">1000</text>
<text x="1406.9" y="2315" font-size="46.5" fill="#000" text-anchor="middle" font-weight="normal"  stroke="#000" stroke-width="0.4">1200</text>
<text x="1572.8" y="2315" font-size="46.5" fill="#000" text-anchor="middle" font-weight="normal"  stroke="#000" stroke-width="0.4">1400</text>
<text x="1738.7" y="2315" font-size="46.5" fill="#000" text-anchor="middle" font-weight="normal"  stroke="#000" stroke-width="0.4">1600</text>
<text x="1904.6" y="2315" font-size="46.5" fill="#000" text-anchor="middle" font-weight="normal"  stroke="#000" stroke-width="0.4">1800</text>
<text x="2070.5" y="2315" font-size="46.5" fill="#000" text-anchor="middle" font-weight="normal"  stroke="#000" stroke-width="0.4">2000</text>
<text x="1699.6" y="2375.2" font-size="52" fill="#000" text-anchor="middle" font-weight="normal"  stroke="#000" stroke-width="0.4">Raman shift (cm<tspan dy="-0.5294117647058822em" font-size="68%">-1</tspan><tspan dy="0.36em">)</tspan></text>
<text transform="translate(1208.7 1931.3) rotate(-90)" font-size="52" fill="#000" stroke="#000" stroke-width="0.4" text-anchor="middle" >Intensity (a.u.)</text>
<text x="1245.4" y="1770.7" font-size="32" fill="#6c2a6e" text-anchor="start" font-weight="normal"  stroke="#6c2a6e" stroke-width="0.25">GO30ND<tspan dy="-0.5294117647058822em" font-size="68%">+</tspan></text>
<text x="1245.4" y="1891.3" font-size="32" fill="#2a4a9a" text-anchor="start" font-weight="normal"  stroke="#2a4a9a" stroke-width="0.25">GO20ND<tspan dy="-0.5294117647058822em" font-size="68%">+</tspan></text>
<text x="1245.4" y="2007.6" font-size="32" fill="#d8232a" text-anchor="start" font-weight="normal"  stroke="#d8232a" stroke-width="0.25">GO10ND<tspan dy="-0.5294117647058822em" font-size="68%">+</tspan></text>
<text x="1245.4" y="2125.5" font-size="32" fill="#000000" text-anchor="start" font-weight="normal"  stroke="#000000" stroke-width="0.25">GO</text>
<text x="1245.4" y="2188.3" font-size="32" fill="#1b7040" text-anchor="start" font-weight="normal"  stroke="#1b7040" stroke-width="0.25">ND<tspan dy="-0.5294117647058822em" font-size="68%">+</tspan></text>
<text x="1250.5" y="2241.3" font-size="32" fill="#1b7040" text-anchor="start" font-weight="normal"  stroke="#1b7040" stroke-width="0.25">amorph.(sp<tspan dy="-0.5294117647058822em" font-size="68%">3</tspan><tspan dy="0.36em">)</tspan></text>
<text x="1453.4" y="2241.3" font-size="32" fill="#641b22" text-anchor="start" font-weight="normal"  stroke="#641b22" stroke-width="0.25">diamond</text>
<text x="1748.3" y="2241.3" font-size="32" fill="#2a4290" text-anchor="start" font-weight="normal"  stroke="#2a4290" stroke-width="0.25">GLC (sp<tspan dy="-0.5294117647058822em" font-size="68%">2</tspan><tspan dy="0.36em">)</tspan></text>
<text x="1490.5" y="1679.4" font-size="37" fill="#000" text-anchor="start" font-weight="normal"  stroke="#000" stroke-width="0.25">D</text>
<text x="1746.5" y="1678.5" font-size="37" fill="#000" text-anchor="start" font-weight="normal"  stroke="#000" stroke-width="0.25">G</text>
<text x="1925.5" y="1678.5" font-size="37" fill="#000" text-anchor="start" font-weight="normal"  stroke="#000" stroke-width="0.25">I<tspan dy="0.29411764705882354em" font-size="68%">D</tspan><tspan dy="-0.2em">/I</tspan><tspan dy="0.29411764705882354em" font-size="68%">G</tspan></text>
<text x="1927.7" y="1769.6" font-size="32" fill="#000" text-anchor="start" font-weight="normal"  stroke="#000" stroke-width="0.25">0.78</text>
<text x="1927.7" y="1886" font-size="32" fill="#000" text-anchor="start" font-weight="normal"  stroke="#000" stroke-width="0.25">0.81</text>
<text x="1927.7" y="2005" font-size="32" fill="#000" text-anchor="start" font-weight="normal"  stroke="#000" stroke-width="0.25">0.82</text>
<text x="1927.7" y="2127" font-size="32" fill="#000" text-anchor="start" font-weight="normal"  stroke="#000" stroke-width="0.25">0.86</text>
<line x1="1395.6" y1="2197" x2="1369.7" y2="2209.2" stroke="#111" stroke-width="1.6" />
<polygon points="1361.6,2213 1370,2205.1 1373.1,2211.6" fill="#111"/>
<line x1="1718" y1="2202" x2="1738.6" y2="2215.9" stroke="#111" stroke-width="1.6" />
<polygon points="1746,2221 1734.9,2217.8 1738.9,2211.8" fill="#111"/>
<text x="1155.5" y="1602.5" font-size="80.5" fill="#111" text-anchor="start" font-weight="bold"  stroke="#111" stroke-width="0.4">f</text>
</g>
</svg>
</body></html>
